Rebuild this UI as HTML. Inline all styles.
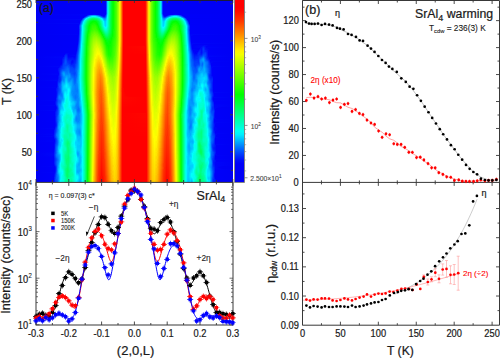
<!DOCTYPE html>
<html><head><meta charset="utf-8"><style>
html,body{margin:0;padding:0;background:#fff;width:500px;height:358px;overflow:hidden;position:relative}
#hm{position:absolute;left:36px;top:0px;width:197px;height:182px}
#hm i{display:block;height:1px;width:100%}
#cb{position:absolute;left:235px;top:0;width:9px;height:182px;background:linear-gradient(180deg,#ff0000 0.0%,#ff0000 2.0%,#ff0000 4.0%,#ff0900 6.0%,#ff1a00 8.0%,#ff2b00 10.0%,#ff3c00 12.0%,#ff5300 14.0%,#ff6900 16.0%,#ff7f00 18.0%,#ff9600 20.0%,#ffad00 22.0%,#ffc500 24.0%,#ffdc00 26.0%,#fff300 28.0%,#f4ff00 30.0%,#deff00 32.0%,#c8ff00 34.0%,#b1ff00 36.0%,#9bff00 38.0%,#85ff00 40.0%,#6fff00 42.0%,#59ff00 44.0%,#43ff00 46.0%,#2cff00 48.0%,#16ff00 50.0%,#00ff00 52.0%,#00ff18 54.0%,#00ff31 56.0%,#00ff49 58.0%,#00ff61 60.0%,#00ff79 62.0%,#00ff92 64.0%,#00ffaa 66.0%,#00ffc2 68.0%,#00ffdb 70.0%,#00fff3 72.0%,#00eeff 74.0%,#00cbff 76.0%,#00a9ff 78.0%,#0086ff 80.0%,#0064ff 82.0%,#0047fe 84.0%,#002bfc 86.0%,#000efb 88.0%,#0000fa 90.0%,#0000f9 92.0%,#0000f8 94.0%,#0000f7 96.0%,#0000f6 98.0%,#0000f5 100.0%);box-shadow:0 0 0 0.8px #666}
</style></head><body>
<div id="hm"><i style="background:linear-gradient(90deg,#0000f5 0.5px,#0000f9 69.5px,#0052fe 70.5px,#00d6ff 71.5px,#00ffcb 72.5px,#00ff8b 73.5px,#00ff30 75.5px,#00ff11 76.5px,#08ff00 77.5px,#54ff00 80.5px,#acff00 82.5px,#e8ff00 83.5px,#ffcf00 84.5px,#ff3800 86.5px,#ff0000 87.5px,#ff0000 108.5px,#ff0b00 109.5px,#ff4600 110.5px,#ffde00 112.5px,#dcff00 113.5px,#72ff00 115.5px,#31ff00 117.5px,#04ff00 119.5px,#00ff37 121.5px,#00ff96 123.5px,#00ffda 124.5px,#00bdff 125.5px,#003afd 126.5px,#0000f8 127.5px,#0000f5 196.5px)"></i><i style="background:linear-gradient(90deg,#0000f5 0.5px,#0000f9 69.5px,#0052fe 70.5px,#00d6ff 71.5px,#00ffcb 72.5px,#00ff8b 73.5px,#00ff30 75.5px,#00ff11 76.5px,#08ff00 77.5px,#54ff00 80.5px,#acff00 82.5px,#e8ff00 83.5px,#ffcf00 84.5px,#ff3800 86.5px,#ff0000 87.5px,#ff0000 108.5px,#ff0b00 109.5px,#ff4600 110.5px,#ffde00 112.5px,#dcff00 113.5px,#72ff00 115.5px,#31ff00 117.5px,#04ff00 119.5px,#00ff37 121.5px,#00ff96 123.5px,#00ffda 124.5px,#00bdff 125.5px,#003afd 126.5px,#0000f8 127.5px,#0000f5 196.5px)"></i><i style="background:linear-gradient(90deg,#0000f5 0.5px,#0000f9 69.5px,#0052fe 70.5px,#00d6ff 71.5px,#00ffcb 72.5px,#00ff8b 73.5px,#00ff30 75.5px,#00ff11 76.5px,#08ff00 77.5px,#54ff00 80.5px,#acff00 82.5px,#e8ff00 83.5px,#ffcf00 84.5px,#ff3800 86.5px,#ff0000 87.5px,#ff0000 108.5px,#ff0b00 109.5px,#ff4600 110.5px,#ffde00 112.5px,#dcff00 113.5px,#72ff00 115.5px,#31ff00 117.5px,#04ff00 119.5px,#00ff37 121.5px,#00ff96 123.5px,#00ffda 124.5px,#00bdff 125.5px,#003afd 126.5px,#0000f8 127.5px,#0000f5 196.5px)"></i><i style="background:linear-gradient(90deg,#0000f5 0.5px,#0000f9 69.5px,#0052fe 70.5px,#00d6ff 71.5px,#00ffcb 72.5px,#00ff8b 73.5px,#00ff30 75.5px,#00ff11 76.5px,#08ff00 77.5px,#54ff00 80.5px,#acff00 82.5px,#e8ff00 83.5px,#ffcf00 84.5px,#ff3800 86.5px,#ff0000 87.5px,#ff0000 108.5px,#ff0b00 109.5px,#ff4600 110.5px,#ffde00 112.5px,#dcff00 113.5px,#72ff00 115.5px,#31ff00 117.5px,#04ff00 119.5px,#00ff37 121.5px,#00ff96 123.5px,#00ffda 124.5px,#00bdff 125.5px,#003afd 126.5px,#0000f8 127.5px,#0000f5 196.5px)"></i><i style="background:linear-gradient(90deg,#0000f5 0.5px,#0000f9 69.5px,#0052fe 70.5px,#00d6ff 71.5px,#00ffcb 72.5px,#00ff8b 73.5px,#00ff30 75.5px,#00ff11 76.5px,#08ff00 77.5px,#54ff00 80.5px,#acff00 82.5px,#e8ff00 83.5px,#ffcf00 84.5px,#ff3800 86.5px,#ff0000 87.5px,#ff0000 108.5px,#ff0b00 109.5px,#ff4600 110.5px,#ffde00 112.5px,#dcff00 113.5px,#72ff00 115.5px,#31ff00 117.5px,#04ff00 119.5px,#00ff37 121.5px,#00ff96 123.5px,#00ffda 124.5px,#00bdff 125.5px,#003afd 126.5px,#0000f8 127.5px,#0000f5 196.5px)"></i><i style="background:linear-gradient(90deg,#0000f5 0.5px,#0000f9 69.5px,#0052fe 70.5px,#00d6ff 71.5px,#00ffcb 72.5px,#00ff8b 73.5px,#00ff30 75.5px,#00ff11 76.5px,#08ff00 77.5px,#54ff00 80.5px,#acff00 82.5px,#e8ff00 83.5px,#ffcf00 84.5px,#ff3800 86.5px,#ff0000 87.5px,#ff0000 108.5px,#ff0b00 109.5px,#ff4600 110.5px,#ffde00 112.5px,#dcff00 113.5px,#72ff00 115.5px,#31ff00 117.5px,#04ff00 119.5px,#00ff37 121.5px,#00ff96 123.5px,#00ffda 124.5px,#00bdff 125.5px,#003afd 126.5px,#0000f8 127.5px,#0000f5 196.5px)"></i><i style="background:linear-gradient(90deg,#0000f5 0.5px,#0000f9 69.5px,#0052fe 70.5px,#00d6ff 71.5px,#00ffcb 72.5px,#00ff8b 73.5px,#00ff30 75.5px,#00ff11 76.5px,#08ff00 77.5px,#54ff00 80.5px,#acff00 82.5px,#e8ff00 83.5px,#ffcf00 84.5px,#ff3800 86.5px,#ff0000 87.5px,#ff0000 108.5px,#ff0b00 109.5px,#ff4600 110.5px,#ffde00 112.5px,#dcff00 113.5px,#72ff00 115.5px,#31ff00 117.5px,#04ff00 119.5px,#00ff37 121.5px,#00ff96 123.5px,#00ffda 124.5px,#00bdff 125.5px,#003afd 126.5px,#0000f8 127.5px,#0000f5 196.5px)"></i><i style="background:linear-gradient(90deg,#0000f5 0.5px,#0000f9 69.5px,#0052fe 70.5px,#00d6ff 71.5px,#00ffcb 72.5px,#00ff8b 73.5px,#00ff30 75.5px,#00ff11 76.5px,#08ff00 77.5px,#54ff00 80.5px,#acff00 82.5px,#e8ff00 83.5px,#ffcf00 84.5px,#ff3800 86.5px,#ff0000 87.5px,#ff0000 108.5px,#ff0b00 109.5px,#ff4600 110.5px,#ffde00 112.5px,#dcff00 113.5px,#72ff00 115.5px,#31ff00 117.5px,#04ff00 119.5px,#00ff37 121.5px,#00ff96 123.5px,#00ffda 124.5px,#00bdff 125.5px,#003afd 126.5px,#0000f8 127.5px,#0000f5 196.5px)"></i><i style="background:linear-gradient(90deg,#0000f5 0.5px,#0000f9 69.5px,#0052fe 70.5px,#00d6ff 71.5px,#00ffcb 72.5px,#00ff8b 73.5px,#00ff30 75.5px,#00ff11 76.5px,#08ff00 77.5px,#54ff00 80.5px,#acff00 82.5px,#e8ff00 83.5px,#ffcf00 84.5px,#ff3800 86.5px,#ff0000 87.5px,#ff0000 108.5px,#ff0b00 109.5px,#ff4600 110.5px,#ffde00 112.5px,#dcff00 113.5px,#72ff00 115.5px,#31ff00 117.5px,#04ff00 119.5px,#00ff37 121.5px,#00ff96 123.5px,#00ffda 124.5px,#00bdff 125.5px,#003afd 126.5px,#0000f8 127.5px,#0000f5 196.5px)"></i><i style="background:linear-gradient(90deg,#0000f5 0.5px,#0000f9 69.5px,#0052fe 70.5px,#00d6ff 71.5px,#00ffcb 72.5px,#00ff8b 73.5px,#00ff30 75.5px,#00ff11 76.5px,#08ff00 77.5px,#54ff00 80.5px,#acff00 82.5px,#e8ff00 83.5px,#ffcf00 84.5px,#ff3800 86.5px,#ff0000 87.5px,#ff0000 108.5px,#ff0b00 109.5px,#ff4600 110.5px,#ffde00 112.5px,#dcff00 113.5px,#72ff00 115.5px,#31ff00 117.5px,#04ff00 119.5px,#00ff37 121.5px,#00ff96 123.5px,#00ffda 124.5px,#00bdff 125.5px,#003afd 126.5px,#0000f8 127.5px,#0000f5 196.5px)"></i><i style="background:linear-gradient(90deg,#0000f5 0.5px,#0000f9 69.5px,#0052fe 70.5px,#00d6ff 71.5px,#00ffcb 72.5px,#00ff8b 73.5px,#00ff30 75.5px,#00ff11 76.5px,#08ff00 77.5px,#54ff00 80.5px,#acff00 82.5px,#e8ff00 83.5px,#ffcf00 84.5px,#ff3800 86.5px,#ff0000 87.5px,#ff0000 108.5px,#ff0b00 109.5px,#ff4600 110.5px,#ffde00 112.5px,#dcff00 113.5px,#72ff00 115.5px,#31ff00 117.5px,#04ff00 119.5px,#00ff37 121.5px,#00ff96 123.5px,#00ffda 124.5px,#00bdff 125.5px,#003afd 126.5px,#0000f8 127.5px,#0000f5 196.5px)"></i><i style="background:linear-gradient(90deg,#0000f5 0.5px,#0000f9 69.5px,#0052fe 70.5px,#00d6ff 71.5px,#00ffcb 72.5px,#00ff8b 73.5px,#00ff30 75.5px,#00ff11 76.5px,#08ff00 77.5px,#54ff00 80.5px,#acff00 82.5px,#e8ff00 83.5px,#ffcf00 84.5px,#ff3800 86.5px,#ff0000 87.5px,#ff0000 108.5px,#ff0b00 109.5px,#ff4600 110.5px,#ffde00 112.5px,#dcff00 113.5px,#72ff00 115.5px,#31ff00 117.5px,#04ff00 119.5px,#00ff37 121.5px,#00ff96 123.5px,#00ffda 124.5px,#00bdff 125.5px,#003afd 126.5px,#0000f8 127.5px,#0000f5 196.5px)"></i><i style="background:linear-gradient(90deg,#0000f5 0.5px,#0000f9 69.5px,#0052fe 70.5px,#00d6ff 71.5px,#00ffcb 72.5px,#00ff8b 73.5px,#00ff30 75.5px,#00ff11 76.5px,#08ff00 77.5px,#54ff00 80.5px,#acff00 82.5px,#e8ff00 83.5px,#ffcf00 84.5px,#ff3800 86.5px,#ff0000 87.5px,#ff0000 108.5px,#ff0b00 109.5px,#ff4600 110.5px,#ffde00 112.5px,#dcff00 113.5px,#72ff00 115.5px,#31ff00 117.5px,#04ff00 119.5px,#00ff37 121.5px,#00ff96 123.5px,#00ffda 124.5px,#00bdff 125.5px,#003afd 126.5px,#0000f8 127.5px,#0000f5 196.5px)"></i><i style="background:linear-gradient(90deg,#0000f5 0.5px,#0000f9 69.5px,#0052fe 70.5px,#00d6ff 71.5px,#00ffcb 72.5px,#00ff8b 73.5px,#00ff30 75.5px,#00ff11 76.5px,#08ff00 77.5px,#54ff00 80.5px,#acff00 82.5px,#e8ff00 83.5px,#ffcf00 84.5px,#ff3800 86.5px,#ff0000 87.5px,#ff0000 108.5px,#ff0b00 109.5px,#ff4600 110.5px,#ffde00 112.5px,#dcff00 113.5px,#72ff00 115.5px,#31ff00 117.5px,#04ff00 119.5px,#00ff37 121.5px,#00ff96 123.5px,#00ffda 124.5px,#00bdff 125.5px,#003afd 126.5px,#0000f8 127.5px,#0000f5 196.5px)"></i><i style="background:linear-gradient(90deg,#0000f5 0.5px,#0003fa 55.5px,#000dfb 58.5px,#0000f9 61.5px,#0002fa 69.5px,#0068ff 70.5px,#00e3ff 71.5px,#00ffc6 72.5px,#00ff56 74.5px,#00ff11 76.5px,#08ff00 77.5px,#54ff00 80.5px,#acff00 82.5px,#e8ff00 83.5px,#ffcf00 84.5px,#ff3800 86.5px,#ff0000 87.5px,#ff0000 108.5px,#ff0b00 109.5px,#ff4600 110.5px,#ffde00 112.5px,#dcff00 113.5px,#72ff00 115.5px,#31ff00 117.5px,#04ff00 119.5px,#00ff36 121.5px,#00ff93 123.5px,#00ffd5 124.5px,#00ccff 125.5px,#0053fe 126.5px,#0000f9 127.5px,#0000fa 136.5px,#000ffb 139.5px,#0000fa 142.5px,#0000f5 196.5px)"></i><i style="background:linear-gradient(90deg,#0000f5 0.5px,#0001fa 50.5px,#0065ff 53.5px,#0096ff 55.5px,#00a7ff 57.5px,#009cff 59.5px,#005eff 62.5px,#0006fa 65.5px,#0000f9 68.5px,#0025fc 69.5px,#0080ff 70.5px,#00f0ff 71.5px,#00ffc2 72.5px,#00ff85 73.5px,#00ff2f 75.5px,#00ff10 76.5px,#09ff00 77.5px,#54ff00 80.5px,#acff00 82.5px,#e8ff00 83.5px,#ffcf00 84.5px,#ff3800 86.5px,#ff0000 87.5px,#ff0000 108.5px,#ff0b00 109.5px,#ff4600 110.5px,#ffde00 112.5px,#dcff00 113.5px,#72ff00 115.5px,#32ff00 117.5px,#04ff00 119.5px,#00ff36 121.5px,#00ff90 123.5px,#00ffcf 124.5px,#00daff 125.5px,#006aff 126.5px,#0017fb 127.5px,#0000f9 128.5px,#0000f9 130.5px,#000dfb 131.5px,#007cff 135.5px,#00a6ff 138.5px,#00a1ff 140.5px,#007cff 142.5px,#0000fa 146.5px,#0000f5 196.5px)"></i><i style="background:linear-gradient(90deg,#0000f5 0.5px,#0000f9 48.5px,#0019fb 49.5px,#00beff 53.5px,#00f1ff 55.5px,#00ffff 56.5px,#00f8ff 59.5px,#00d2ff 61.5px,#006cff 64.5px,#0025fc 66.5px,#000efb 67.5px,#0013fb 68.5px,#003ffd 69.5px,#0092ff 70.5px,#00f9ff 71.5px,#00ff83 73.5px,#00ff2e 75.5px,#00ff10 76.5px,#09ff00 77.5px,#54ff00 80.5px,#acff00 82.5px,#e8ff00 83.5px,#ffcf00 84.5px,#ff3800 86.5px,#ff0000 87.5px,#ff0000 108.5px,#ff0b00 109.5px,#ff4600 110.5px,#ffde00 112.5px,#dcff00 113.5px,#72ff00 115.5px,#32ff00 117.5px,#04ff00 119.5px,#00ff35 121.5px,#00ff8e 123.5px,#00ffcb 124.5px,#00e5ff 125.5px,#007eff 126.5px,#0033fd 127.5px,#000ffb 128.5px,#0011fb 129.5px,#0074ff 132.5px,#00d7ff 135.5px,#00fbff 137.5px,#00fdff 140.5px,#00d6ff 142.5px,#0091ff 144.5px,#0011fb 147.5px,#0000f9 148.5px,#0000f5 196.5px)"></i><i style="background:linear-gradient(90deg,#0000f5 0.5px,#0000fa 47.5px,#00feff 52.5px,#00ffc0 55.5px,#00ffb1 57.5px,#00ffc6 60.5px,#00f6ff 63.5px,#006eff 66.5px,#004dfe 67.5px,#0044fd 68.5px,#0060ff 69.5px,#00fffa 71.5px,#00ff80 73.5px,#00ff2d 75.5px,#00ff0f 76.5px,#09ff00 77.5px,#54ff00 80.5px,#acff00 82.5px,#e8ff00 83.5px,#ffcf00 84.5px,#ff3800 86.5px,#ff0000 87.5px,#ff0000 108.5px,#ff0b00 109.5px,#ff4600 110.5px,#ffde00 112.5px,#dcff00 113.5px,#72ff00 115.5px,#32ff00 117.5px,#05ff00 119.5px,#00ff34 121.5px,#00ff8b 123.5px,#00f4ff 125.5px,#0099ff 126.5px,#0058fe 127.5px,#0043fd 128.5px,#0052fe 129.5px,#00a7ff 131.5px,#00feff 133.5px,#00ffc3 136.5px,#00ffb2 139.5px,#00ffd3 142.5px,#00f6ff 144.5px,#002afc 148.5px,#0000fa 149.5px,#0000f5 196.5px)"></i><i style="background:linear-gradient(90deg,#0000f5 0.5px,#0000f9 45.5px,#0013fb 46.5px,#00fffb 50.5px,#00ff9a 53.5px,#00ff6a 56.5px,#00ff67 58.5px,#00ff8c 61.5px,#00ffde 64.5px,#00fbff 65.5px,#0097ff 67.5px,#007eff 68.5px,#008dff 69.5px,#00c5ff 70.5px,#00ffef 71.5px,#00ff7d 73.5px,#00ff2c 75.5px,#00ff0f 76.5px,#09ff00 77.5px,#54ff00 80.5px,#acff00 82.5px,#e8ff00 83.5px,#ffcf00 84.5px,#ff3800 86.5px,#ff0000 87.5px,#ff0000 108.5px,#ff0b00 109.5px,#ff4600 110.5px,#ffde00 112.5px,#dcff00 113.5px,#72ff00 115.5px,#32ff00 117.5px,#05ff00 119.5px,#00ff33 121.5px,#00ff87 123.5px,#00fffb 125.5px,#00b7ff 126.5px,#0086ff 127.5px,#0080ff 128.5px,#009fff 129.5px,#00fffa 131.5px,#00ff9d 134.5px,#00ff6c 137.5px,#00ff6b 140.5px,#00ff9f 143.5px,#00faff 146.5px,#000afb 150.5px,#0000f7 152.5px,#0000f5 196.5px)"></i><i style="background:linear-gradient(90deg,#0000f5 0.5px,#0006fa 45.5px,#00fffb 49.5px,#00ff8c 52.5px,#00ff4b 55.5px,#00ff3c 57.5px,#00ff51 60.5px,#00ff97 63.5px,#00ffde 65.5px,#00f5ff 66.5px,#00c1ff 67.5px,#00a0ff 68.5px,#00a5ff 69.5px,#00d5ff 70.5px,#00ffe9 71.5px,#00ff7b 73.5px,#00ff2b 75.5px,#00ff0e 76.5px,#0aff00 77.5px,#54ff00 80.5px,#acff00 82.5px,#e8ff00 83.5px,#ffcf00 84.5px,#ff3800 86.5px,#ff0000 87.5px,#ff0000 108.5px,#ff0b00 109.5px,#ff4600 110.5px,#ffde00 112.5px,#dcff00 113.5px,#72ff00 115.5px,#32ff00 117.5px,#05ff00 119.5px,#00ff32 121.5px,#00ff85 123.5px,#00fff4 125.5px,#00c8ff 126.5px,#00a1ff 127.5px,#00a4ff 128.5px,#00caff 129.5px,#00fffe 130.5px,#00ff91 133.5px,#00ff4e 136.5px,#00ff3d 139.5px,#00ff4e 141.5px,#00ff92 144.5px,#00f9ff 147.5px,#0037fd 150.5px,#0000fa 151.5px,#0000f5 196.5px)"></i><i style="background:linear-gradient(90deg,#0000f5 0.5px,#0000fa 44.5px,#002dfc 45.5px,#00f6ff 48.5px,#00ff8a 51.5px,#00ff39 54.5px,#00ff1b 57.5px,#00ff2f 60.5px,#00ff77 63.5px,#00ffeb 66.5px,#00e3ff 67.5px,#00bcff 68.5px,#00baff 69.5px,#00e1ff 70.5px,#00ffe4 71.5px,#00ff7a 73.5px,#00ff2b 75.5px,#00ff0e 76.5px,#0aff00 77.5px,#54ff00 80.5px,#acff00 82.5px,#e8ff00 83.5px,#ffcf00 84.5px,#ff3800 86.5px,#ff0000 87.5px,#ff0000 108.5px,#ff0b00 109.5px,#ff4600 110.5px,#ffde00 112.5px,#dcff00 113.5px,#72ff00 115.5px,#32ff00 117.5px,#05ff00 119.5px,#00ff32 121.5px,#00ff84 123.5px,#00ffee 125.5px,#00d6ff 126.5px,#00b7ff 127.5px,#00c2ff 128.5px,#00edff 129.5px,#00ffe3 130.5px,#00ff71 133.5px,#00ff2c 136.5px,#00ff1b 139.5px,#00ff3d 142.5px,#00ff90 145.5px,#00ffe0 147.5px,#00eaff 148.5px,#005fff 150.5px,#0024fc 151.5px,#0000f9 152.5px,#0000f5 196.5px)"></i><i style="background:linear-gradient(90deg,#0000f5 0.5px,#0000f9 43.5px,#0015fb 44.5px,#0098ff 46.5px,#00e0ff 47.5px,#00ffe5 48.5px,#00ff6b 51.5px,#00ff1c 54.5px,#00ff02 56.5px,#00ff05 59.5px,#00ff3d 62.5px,#00ffa8 65.5px,#00fffe 67.5px,#00d5ff 68.5px,#00cbff 69.5px,#00ecff 70.5px,#00ffe0 71.5px,#00ff4e 74.5px,#00ff0e 76.5px,#0aff00 77.5px,#54ff00 80.5px,#acff00 82.5px,#e8ff00 83.5px,#ffcf00 84.5px,#ff3800 86.5px,#ff0000 87.5px,#ff0000 108.5px,#ff0b00 109.5px,#ff4600 110.5px,#ffde00 112.5px,#dcff00 113.5px,#72ff00 115.5px,#32ff00 117.5px,#05ff00 119.5px,#00ff31 121.5px,#00ff83 123.5px,#00ffea 125.5px,#00e2ff 126.5px,#00caff 127.5px,#00dcff 128.5px,#00fff6 129.5px,#00ff78 132.5px,#00ff20 135.5px,#00ff03 137.5px,#00ff03 140.5px,#00ff36 143.5px,#00ff97 146.5px,#00ffee 148.5px,#00d3ff 149.5px,#0048fe 151.5px,#000dfb 152.5px,#0000f9 153.5px,#0000f5 196.5px)"></i><i style="background:linear-gradient(90deg,#0000f5 0.5px,#0000f9 43.5px,#002cfc 44.5px,#00b2ff 46.5px,#00f9ff 47.5px,#00ff5c 51.5px,#00ff0e 54.5px,#01ff00 55.5px,#0eff00 58.5px,#00ff05 60.5px,#00ff50 63.5px,#00fff7 67.5px,#00dcff 68.5px,#00d0ff 69.5px,#00eeff 70.5px,#00ffdf 71.5px,#00ff4e 74.5px,#00ff0e 76.5px,#0aff00 77.5px,#54ff00 80.5px,#acff00 82.5px,#e8ff00 83.5px,#ffcf00 84.5px,#ff3800 86.5px,#ff0000 87.5px,#ff0000 108.5px,#ff0b00 109.5px,#ff4600 110.5px,#ffde00 112.5px,#dcff00 113.5px,#72ff00 115.5px,#32ff00 117.5px,#05ff00 119.5px,#00ff32 121.5px,#00ff83 123.5px,#00ffe9 125.5px,#00e5ff 126.5px,#00cfff 127.5px,#00e3ff 128.5px,#00ffee 129.5px,#00ff6d 132.5px,#00ff13 135.5px,#00ff01 136.5px,#0eff00 139.5px,#00ff02 141.5px,#00ff43 144.5px,#00ffb0 147.5px,#00ffdc 148.5px,#00edff 149.5px,#005fff 151.5px,#0024fc 152.5px,#0000f9 153.5px,#0000f5 196.5px)"></i><i style="background:linear-gradient(90deg,#0000f5 0.5px,#0006fa 43.5px,#0083ff 45.5px,#00cbff 46.5px,#00fff2 47.5px,#00ff71 50.5px,#00ff17 53.5px,#00ff03 54.5px,#19ff00 57.5px,#07ff00 60.5px,#00ff0c 61.5px,#00ff6b 64.5px,#00fff1 67.5px,#00e2ff 68.5px,#00d3ff 69.5px,#00efff 70.5px,#00ffdf 71.5px,#00ff4f 74.5px,#00ff0e 76.5px,#0aff00 77.5px,#54ff00 80.5px,#acff00 82.5px,#e8ff00 83.5px,#ffcf00 84.5px,#ff3800 86.5px,#ff0000 87.5px,#ff0000 108.5px,#ff0b00 109.5px,#ff4600 110.5px,#ffde00 112.5px,#dcff00 113.5px,#72ff00 115.5px,#32ff00 117.5px,#05ff00 119.5px,#00ff32 121.5px,#00ff83 123.5px,#00ffe9 125.5px,#00e6ff 126.5px,#00d2ff 127.5px,#00e9ff 128.5px,#00ffe9 129.5px,#00ff63 132.5px,#00ff20 134.5px,#00ff08 135.5px,#19ff00 138.5px,#09ff00 141.5px,#00ff06 142.5px,#00ff55 145.5px,#00ffcc 148.5px,#00fffb 149.5px,#0039fd 152.5px,#0000fa 153.5px,#0000f5 196.5px)"></i><i style="background:linear-gradient(90deg,#0000f5 0.5px,#0000f9 42.5px,#001bfb 43.5px,#009cff 45.5px,#00e4ff 46.5px,#00ffe2 47.5px,#00ff64 50.5px,#00ff0b 53.5px,#15ff00 55.5px,#23ff00 58.5px,#00ff01 61.5px,#00ff62 64.5px,#00ffec 67.5px,#00e6ff 68.5px,#00d5ff 69.5px,#00f0ff 70.5px,#00ffdf 71.5px,#00ff4f 74.5px,#00ff0e 76.5px,#09ff00 77.5px,#54ff00 80.5px,#acff00 82.5px,#e8ff00 83.5px,#ffcf00 84.5px,#ff3800 86.5px,#ff0000 87.5px,#ff0000 108.5px,#ff0b00 109.5px,#ff4600 110.5px,#ffde00 112.5px,#dcff00 113.5px,#72ff00 115.5px,#32ff00 117.5px,#05ff00 119.5px,#00ff32 121.5px,#00ff83 123.5px,#00ffe9 125.5px,#00e7ff 126.5px,#00d5ff 127.5px,#00efff 128.5px,#00ffe3 129.5px,#00ff5a 132.5px,#00ff16 134.5px,#03ff00 135.5px,#1fff00 137.5px,#1dff00 140.5px,#05ff00 142.5px,#00ff2a 144.5px,#00ff92 147.5px,#00ffeb 149.5px,#00d7ff 150.5px,#004efe 152.5px,#0014fb 153.5px,#0000f9 154.5px,#0000f5 196.5px)"></i><i style="background:linear-gradient(90deg,#0000f5 0.5px,#0000fa 42.5px,#0030fc 43.5px,#00b5ff 45.5px,#00fbff 46.5px,#00ff57 50.5px,#00ff00 53.5px,#28ff00 56.5px,#27ff00 59.5px,#08ff00 61.5px,#00ff12 62.5px,#00ff87 65.5px,#00ffe8 67.5px,#00eaff 68.5px,#00d7ff 69.5px,#00f0ff 70.5px,#00ffe0 71.5px,#00ff4f 74.5px,#00ff0f 76.5px,#09ff00 77.5px,#54ff00 80.5px,#acff00 82.5px,#e8ff00 83.5px,#ffcf00 84.5px,#ff3800 86.5px,#ff0000 87.5px,#ff0000 108.5px,#ff0b00 109.5px,#ff4600 110.5px,#ffde00 112.5px,#dcff00 113.5px,#72ff00 115.5px,#32ff00 117.5px,#05ff00 119.5px,#00ff32 121.5px,#00ff84 123.5px,#00ffe9 125.5px,#00e7ff 126.5px,#00d7ff 127.5px,#00f3ff 128.5px,#00ffde 129.5px,#00ff52 132.5px,#00ff0c 134.5px,#1dff00 136.5px,#2cff00 139.5px,#0eff00 142.5px,#00ff05 143.5px,#00ff5d 146.5px,#00ffdb 149.5px,#00efff 150.5px,#0063ff 152.5px,#0029fc 153.5px,#0000fa 154.5px,#0000f5 196.5px)"></i><i style="background:linear-gradient(90deg,#0000f5 0.5px,#0000fa 42.5px,#0078ff 44.5px,#00fffa 46.5px,#00ff75 49.5px,#00ff12 52.5px,#06ff00 53.5px,#2fff00 56.5px,#2fff00 59.5px,#00ff07 62.5px,#00ff4e 64.5px,#00ffdb 67.5px,#00fbff 68.5px,#00e4ff 69.5px,#00f9ff 70.5px,#00ffdc 71.5px,#00ff4f 74.5px,#00ff0e 76.5px,#09ff00 77.5px,#54ff00 80.5px,#acff00 82.5px,#e8ff00 83.5px,#ffcf00 84.5px,#ff3800 86.5px,#ff0000 87.5px,#ff0000 108.5px,#ff0b00 109.5px,#ff4600 110.5px,#ffde00 112.5px,#dcff00 113.5px,#72ff00 115.5px,#32ff00 117.5px,#05ff00 119.5px,#00ff32 121.5px,#00ff82 123.5px,#00ffe5 125.5px,#00f1ff 126.5px,#00e5ff 127.5px,#00fffc 128.5px,#00ff46 132.5px,#00ff01 134.5px,#31ff00 137.5px,#2eff00 140.5px,#02ff00 143.5px,#00ff57 146.5px,#00faff 150.5px,#006dff 152.5px,#0000fa 154.5px,#0000f5 196.5px)"></i><i style="background:linear-gradient(90deg,#0000f5 0.5px,#0000fa 42.5px,#0076ff 44.5px,#00fffb 46.5px,#00ff75 49.5px,#00ff0f 52.5px,#09ff00 53.5px,#33ff00 56.5px,#36ff00 59.5px,#1bff00 61.5px,#04ff00 62.5px,#00ff3f 64.5px,#00ffee 68.5px,#00fdff 69.5px,#00fff6 70.5px,#00ffa4 72.5px,#00ff2a 75.5px,#00ff0e 76.5px,#0aff00 77.5px,#54ff00 80.5px,#acff00 82.5px,#e8ff00 83.5px,#ffcf00 84.5px,#ff3800 86.5px,#ff0000 87.5px,#ff0000 108.5px,#ff0b00 109.5px,#ff4600 110.5px,#ffde00 112.5px,#dcff00 113.5px,#72ff00 115.5px,#32ff00 117.5px,#06ff00 119.5px,#00ff30 121.5px,#00ffae 124.5px,#00ffdb 125.5px,#00fffa 126.5px,#00ffff 127.5px,#00ffe7 128.5px,#00ff37 132.5px,#00ff13 133.5px,#09ff00 134.5px,#2eff00 136.5px,#38ff00 139.5px,#18ff00 142.5px,#05ff00 143.5px,#00ff33 145.5px,#00ffa7 148.5px,#00f8ff 150.5px,#006bff 152.5px,#0000fa 154.5px,#0000f5 196.5px)"></i><i style="background:linear-gradient(90deg,#0000f5 0.5px,#0000fa 42.5px,#0074ff 44.5px,#00fffc 46.5px,#00ff4e 50.5px,#00ff0e 52.5px,#0bff00 53.5px,#38ff00 56.5px,#3cff00 59.5px,#0fff00 62.5px,#00ff0d 63.5px,#00ff85 66.5px,#00ffda 68.5px,#00ffee 69.5px,#00ffe8 70.5px,#00ff9e 72.5px,#00ff29 75.5px,#00ff0d 76.5px,#0aff00 77.5px,#54ff00 80.5px,#acff00 82.5px,#e8ff00 83.5px,#ffcf00 84.5px,#ff3800 86.5px,#ff0000 87.5px,#ff0000 108.5px,#ff0b00 109.5px,#ff4600 110.5px,#ffde00 112.5px,#dcff00 113.5px,#72ff00 115.5px,#32ff00 117.5px,#06ff00 119.5px,#00ff2f 121.5px,#00ffd0 125.5px,#00ffeb 126.5px,#00ffec 127.5px,#00ffd3 128.5px,#00ff29 132.5px,#00ff07 133.5px,#35ff00 136.5px,#3dff00 139.5px,#1bff00 142.5px,#07ff00 143.5px,#00ff32 145.5px,#00ffa7 148.5px,#00f6ff 150.5px,#0068ff 152.5px,#0000fa 154.5px,#0000f5 196.5px)"></i><i style="background:linear-gradient(90deg,#0000f5 0.5px,#0000fa 42.5px,#0032fd 43.5px,#00fffe 46.5px,#00ff74 49.5px,#00ff0c 52.5px,#21ff00 54.5px,#42ff00 57.5px,#3aff00 60.5px,#00ff01 63.5px,#00ff74 66.5px,#00ffc7 68.5px,#00ffdc 69.5px,#00ffd9 70.5px,#00ffbf 71.5px,#00ff27 75.5px,#00ff0c 76.5px,#20ff00 78.5px,#55ff00 80.5px,#acff00 82.5px,#e8ff00 83.5px,#ffcf00 84.5px,#ff3800 86.5px,#ff0000 87.5px,#ff0000 108.5px,#ff0b00 109.5px,#ff4600 110.5px,#ffde00 112.5px,#dcff00 113.5px,#72ff00 115.5px,#32ff00 117.5px,#07ff00 119.5px,#00ff2d 121.5px,#00ffc5 125.5px,#00ffdc 126.5px,#00ffda 127.5px,#00ffc0 128.5px,#00ff1b 132.5px,#05ff00 133.5px,#3cff00 136.5px,#41ff00 139.5px,#1dff00 142.5px,#09ff00 143.5px,#00ff11 144.5px,#00ff7c 147.5px,#00ffd6 149.5px,#00f4ff 150.5px,#0065ff 152.5px,#002cfc 153.5px,#0000fa 154.5px,#0000f5 196.5px)"></i><i style="background:linear-gradient(90deg,#0000f5 0.5px,#0000fa 42.5px,#0074ff 44.5px,#00fffa 46.5px,#00ff6f 49.5px,#00ff04 52.5px,#39ff00 55.5px,#4fff00 58.5px,#39ff00 61.5px,#0fff00 63.5px,#00ff0f 64.5px,#00ffaf 68.5px,#00ffc7 69.5px,#00ffc7 70.5px,#00ffb2 71.5px,#00ff25 75.5px,#00ff0b 76.5px,#20ff00 78.5px,#55ff00 80.5px,#acff00 82.5px,#e8ff00 83.5px,#ffcf00 84.5px,#ff3800 86.5px,#ff0000 87.5px,#ff0000 108.5px,#ff0b00 109.5px,#ff4600 110.5px,#ffde00 112.5px,#dcff00 113.5px,#73ff00 115.5px,#32ff00 117.5px,#07ff00 119.5px,#00ff2b 121.5px,#00ffb8 125.5px,#00ffc9 126.5px,#00ffc3 127.5px,#00ffa8 128.5px,#00ff08 132.5px,#3cff00 135.5px,#4fff00 138.5px,#36ff00 141.5px,#10ff00 143.5px,#00ff0a 144.5px,#00ff77 147.5px,#00f9ff 150.5px,#0069ff 152.5px,#002efc 153.5px,#0000fa 154.5px,#0000f5 196.5px)"></i><i style="background:linear-gradient(90deg,#0000f5 0.5px,#0000fa 42.5px,#0078ff 44.5px,#00c2ff 45.5px,#00fff6 46.5px,#00ff69 49.5px,#00ff1c 51.5px,#03ff00 52.5px,#42ff00 55.5px,#5aff00 58.5px,#47ff00 61.5px,#04ff00 64.5px,#00ff47 66.5px,#00ff97 68.5px,#00ffb0 69.5px,#00ffb5 70.5px,#00ffa4 71.5px,#00ff22 75.5px,#00ff09 76.5px,#38ff00 79.5px,#7bff00 81.5px,#e8ff00 83.5px,#ffcf00 84.5px,#ff3800 86.5px,#ff0000 87.5px,#ff0000 108.5px,#ff0b00 109.5px,#ff4600 110.5px,#ffde00 112.5px,#dcff00 113.5px,#73ff00 115.5px,#33ff00 117.5px,#08ff00 119.5px,#00ff28 121.5px,#00ffa9 125.5px,#00ffb6 126.5px,#00ffac 127.5px,#00ff68 129.5px,#00ff17 131.5px,#0aff00 132.5px,#4aff00 135.5px,#5aff00 138.5px,#3fff00 141.5px,#00ff02 144.5px,#00ff71 147.5px,#00feff 150.5px,#006dff 152.5px,#0000fa 154.5px,#0000f5 196.5px)"></i><i style="background:linear-gradient(90deg,#0000f5 0.5px,#0000fa 42.5px,#007cff 44.5px,#00c6ff 45.5px,#00fff3 46.5px,#00ff63 49.5px,#00ff16 51.5px,#0aff00 52.5px,#4bff00 55.5px,#65ff00 58.5px,#54ff00 61.5px,#15ff00 64.5px,#00ff0b 65.5px,#00ff7f 68.5px,#00ff9a 69.5px,#00ffa2 70.5px,#00ff96 71.5px,#00ff07 76.5px,#38ff00 79.5px,#7bff00 81.5px,#e8ff00 83.5px,#ffcf00 84.5px,#ff3800 86.5px,#ff0000 87.5px,#ff0000 108.5px,#ff0b00 109.5px,#ff4600 110.5px,#ffde00 112.5px,#dcff00 113.5px,#73ff00 115.5px,#33ff00 117.5px,#0aff00 119.5px,#00ff0c 120.5px,#00ff99 125.5px,#00ffa2 126.5px,#00ff96 127.5px,#00ff51 129.5px,#00ff03 131.5px,#48ff00 134.5px,#65ff00 137.5px,#56ff00 140.5px,#1fff00 143.5px,#05ff00 144.5px,#00ff42 146.5px,#00fffc 150.5px,#0071ff 152.5px,#0000fa 154.5px,#0000f5 196.5px)"></i><i style="background:linear-gradient(90deg,#0000f5 0.5px,#0000fa 42.5px,#007eff 44.5px,#00caff 45.5px,#00fff0 46.5px,#00ff5f 49.5px,#00ff0f 51.5px,#10ff00 52.5px,#53ff00 55.5px,#6fff00 58.5px,#61ff00 61.5px,#25ff00 64.5px,#08ff00 65.5px,#00ff44 67.5px,#00ff84 69.5px,#00ff8f 70.5px,#00ff86 71.5px,#00ff05 76.5px,#39ff00 79.5px,#7bff00 81.5px,#e8ff00 83.5px,#ffcf00 84.5px,#ff3800 86.5px,#ff0000 87.5px,#ff0000 108.5px,#ff0b00 109.5px,#ff4600 110.5px,#ffde00 112.5px,#dcff00 113.5px,#73ff00 115.5px,#34ff00 117.5px,#0bff00 119.5px,#00ff09 120.5px,#00ff89 125.5px,#00ff8e 126.5px,#00ff80 127.5px,#00ff15 130.5px,#0eff00 131.5px,#55ff00 134.5px,#6fff00 137.5px,#5eff00 140.5px,#26ff00 143.5px,#0bff00 144.5px,#00ff16 145.5px,#00ff95 148.5px,#00fff9 150.5px,#0037fd 153.5px,#0000fa 154.5px,#0000f5 196.5px)"></i><i style="background:linear-gradient(90deg,#0000f5 0.5px,#0003fa 42.5px,#0083ff 44.5px,#00ceff 45.5px,#00ffec 46.5px,#00ff30 50.5px,#00ff0a 51.5px,#31ff00 53.5px,#69ff00 56.5px,#79ff00 59.5px,#5fff00 62.5px,#18ff00 65.5px,#00ff09 66.5px,#00ff6f 69.5px,#00ff7b 70.5px,#00ff77 71.5px,#00ff02 76.5px,#39ff00 79.5px,#7cff00 81.5px,#e8ff00 83.5px,#ffcf00 84.5px,#ff3800 86.5px,#ff0000 87.5px,#ff0000 108.5px,#ff0b00 109.5px,#ff4600 110.5px,#ffde00 112.5px,#dcff00 113.5px,#73ff00 115.5px,#35ff00 117.5px,#00ff06 120.5px,#00ff69 124.5px,#00ff79 125.5px,#00ff7a 126.5px,#00ff6a 127.5px,#00ff01 130.5px,#50ff00 133.5px,#76ff00 136.5px,#71ff00 139.5px,#43ff00 142.5px,#10ff00 144.5px,#00ff11 145.5px,#00ff91 148.5px,#00fff5 150.5px,#00c3ff 151.5px,#003cfd 153.5px,#0005fa 154.5px,#0000f5 196.5px)"></i><i style="background:linear-gradient(90deg,#0000f5 0.5px,#0000f8 41.5px,#0007fa 42.5px,#0087ff 44.5px,#00d2ff 45.5px,#00ffe9 46.5px,#00ff56 49.5px,#00ff05 51.5px,#61ff00 55.5px,#81ff00 58.5px,#77ff00 61.5px,#43ff00 64.5px,#09ff00 66.5px,#00ff5a 69.5px,#00ff68 70.5px,#00ff67 71.5px,#01ff00 76.5px,#3aff00 79.5px,#7cff00 81.5px,#e9ff00 83.5px,#ffcf00 84.5px,#ff3800 86.5px,#ff0000 87.5px,#ff0000 108.5px,#ff0b00 109.5px,#ff4600 110.5px,#ffde00 112.5px,#dcff00 113.5px,#74ff00 115.5px,#36ff00 117.5px,#00ff03 120.5px,#00ff5c 124.5px,#00ff68 125.5px,#00ff67 126.5px,#00ff37 128.5px,#00ff13 129.5px,#0fff00 130.5px,#5dff00 133.5px,#81ff00 136.5px,#79ff00 139.5px,#49ff00 142.5px,#15ff00 144.5px,#00ff0c 145.5px,#00ff8d 148.5px,#00fff2 150.5px,#00c7ff 151.5px,#0040fd 153.5px,#0009fa 154.5px,#0000f7 157.5px,#0000f5 196.5px)"></i><i style="background:linear-gradient(90deg,#0000f5 0.5px,#0000f9 41.5px,#000afa 42.5px,#008aff 44.5px,#00d6ff 45.5px,#00ffe7 46.5px,#00ff53 49.5px,#00ff01 51.5px,#53ff00 54.5px,#82ff00 57.5px,#89ff00 60.5px,#65ff00 63.5px,#00ff08 67.5px,#00ff46 69.5px,#00ff55 70.5px,#00ff57 71.5px,#00ff23 74.5px,#04ff00 76.5px,#3bff00 79.5px,#7cff00 81.5px,#e9ff00 83.5px,#ffcf00 84.5px,#ff3800 86.5px,#ff0000 87.5px,#ff0000 108.5px,#ff0b00 109.5px,#ff4600 110.5px,#ffde00 112.5px,#dcff00 113.5px,#74ff00 115.5px,#37ff00 117.5px,#01ff00 120.5px,#00ff4e 124.5px,#00ff57 125.5px,#00ff53 126.5px,#00ff23 128.5px,#00ff00 129.5px,#55ff00 132.5px,#84ff00 135.5px,#88ff00 138.5px,#64ff00 141.5px,#00ff08 145.5px,#00ff8a 148.5px,#00ffef 150.5px,#00cbff 151.5px,#0043fd 153.5px,#000dfb 154.5px,#0000f9 155.5px,#0000f5 196.5px)"></i><i style="background:linear-gradient(90deg,#0000f5 0.5px,#0000f9 41.5px,#000dfb 42.5px,#008eff 44.5px,#00d9ff 45.5px,#00ffe4 46.5px,#00ff24 50.5px,#03ff00 51.5px,#59ff00 54.5px,#8aff00 57.5px,#93ff00 60.5px,#71ff00 63.5px,#28ff00 66.5px,#0aff00 67.5px,#00ff32 69.5px,#00ff43 70.5px,#00ff3e 72.5px,#00ff09 75.5px,#28ff00 78.5px,#58ff00 80.5px,#adff00 82.5px,#e9ff00 83.5px,#ffcf00 84.5px,#ff3800 86.5px,#ff0000 87.5px,#ff0000 108.5px,#ff0b00 109.5px,#ff4600 110.5px,#ffde00 112.5px,#dcff00 113.5px,#74ff00 115.5px,#38ff00 117.5px,#05ff00 120.5px,#00ff40 124.5px,#00ff47 125.5px,#00ff41 126.5px,#00ff10 128.5px,#10ff00 129.5px,#61ff00 132.5px,#8eff00 135.5px,#90ff00 138.5px,#69ff00 141.5px,#1dff00 144.5px,#00ff04 145.5px,#00ff87 148.5px,#00ffed 150.5px,#00cfff 151.5px,#0046fd 153.5px,#0011fb 154.5px,#0000f9 155.5px,#0000f5 196.5px)"></i><i style="background:linear-gradient(90deg,#0000f5 0.5px,#0000f9 41.5px,#0010fb 42.5px,#0091ff 44.5px,#00dcff 45.5px,#00ffe2 46.5px,#00ff21 50.5px,#06ff00 51.5px,#5dff00 54.5px,#90ff00 57.5px,#9cff00 60.5px,#7dff00 63.5px,#37ff00 66.5px,#00ff04 68.5px,#00ff31 70.5px,#00ff30 72.5px,#00ff02 75.5px,#3eff00 79.5px,#7dff00 81.5px,#e9ff00 83.5px,#ffcf00 84.5px,#ff3800 86.5px,#ff0000 87.5px,#ff0000 108.5px,#ff0b00 109.5px,#ff4600 110.5px,#ffde00 112.5px,#dcff00 113.5px,#75ff00 115.5px,#3aff00 117.5px,#00ff06 121.5px,#00ff32 124.5px,#00ff2e 126.5px,#02ff00 128.5px,#6eff00 132.5px,#97ff00 135.5px,#97ff00 138.5px,#6fff00 141.5px,#21ff00 144.5px,#00ff01 145.5px,#00ff85 148.5px,#00ffea 150.5px,#00d3ff 151.5px,#0049fe 153.5px,#0015fb 154.5px,#0000f9 155.5px,#0000f5 196.5px)"></i><i style="background:linear-gradient(90deg,#0000f5 0.5px,#0000f9 41.5px,#0012fb 42.5px,#0093ff 44.5px,#00dfff 45.5px,#00ffe0 46.5px,#00ff1f 50.5px,#09ff00 51.5px,#62ff00 54.5px,#97ff00 57.5px,#a4ff00 60.5px,#87ff00 63.5px,#45ff00 66.5px,#0cff00 68.5px,#00ff20 70.5px,#00ff23 72.5px,#04ff00 75.5px,#40ff00 79.5px,#7eff00 81.5px,#e9ff00 83.5px,#ffcf00 84.5px,#ff3800 86.5px,#ff0000 87.5px,#ff0000 108.5px,#ff0b00 109.5px,#ff4600 110.5px,#ffdd00 112.5px,#ddff00 113.5px,#a3ff00 114.5px,#54ff00 116.5px,#1bff00 119.5px,#01ff00 121.5px,#00ff24 124.5px,#00ff1d 126.5px,#00ff08 127.5px,#2fff00 129.5px,#79ff00 132.5px,#a0ff00 135.5px,#9eff00 138.5px,#74ff00 141.5px,#24ff00 144.5px,#02ff00 145.5px,#00ff82 148.5px,#00ffe8 150.5px,#00d6ff 151.5px,#004cfe 153.5px,#0019fb 154.5px,#0000f9 155.5px,#0000f5 196.5px)"></i><i style="background:linear-gradient(90deg,#0000f5 0.5px,#0000f9 41.5px,#0017fb 42.5px,#0097ff 44.5px,#00e3ff 45.5px,#00ffde 46.5px,#00ff1c 50.5px,#0cff00 51.5px,#66ff00 54.5px,#9dff00 57.5px,#acff00 60.5px,#92ff00 63.5px,#51ff00 66.5px,#00ff00 69.5px,#00ff1b 71.5px,#00ff11 73.5px,#08ff00 75.5px,#41ff00 79.5px,#7eff00 81.5px,#e9ff00 83.5px,#ffcf00 84.5px,#ff3800 86.5px,#ff0000 87.5px,#ff0000 108.5px,#ff0b00 109.5px,#ff4600 110.5px,#ffdd00 112.5px,#ddff00 113.5px,#76ff00 115.5px,#3cff00 117.5px,#05ff00 121.5px,#00ff1b 124.5px,#00ff10 126.5px,#05ff00 127.5px,#84ff00 132.5px,#a9ff00 135.5px,#a5ff00 138.5px,#78ff00 141.5px,#27ff00 144.5px,#05ff00 145.5px,#00ff50 147.5px,#00ffe5 150.5px,#00dbff 151.5px,#0051fe 153.5px,#001ffc 154.5px,#0000fa 155.5px,#0000f5 196.5px)"></i><i style="background:linear-gradient(90deg,#0000f5 0.5px,#0000f9 41.5px,#001efb 42.5px,#0057fe 43.5px,#00e9ff 45.5px,#00ffda 46.5px,#00ff19 50.5px,#0fff00 51.5px,#6aff00 54.5px,#a2ff00 57.5px,#b4ff00 60.5px,#9bff00 63.5px,#5aff00 66.5px,#08ff00 69.5px,#00ff16 71.5px,#00ff02 74.5px,#42ff00 79.5px,#80ff00 81.5px,#ebff00 83.5px,#ffcd00 84.5px,#ff3800 86.5px,#ff0000 87.5px,#ff0000 108.5px,#ff0a00 109.5px,#ff4500 110.5px,#ffdc00 112.5px,#deff00 113.5px,#78ff00 115.5px,#3eff00 117.5px,#07ff00 121.5px,#00ff16 124.5px,#00ff09 126.5px,#0cff00 127.5px,#8dff00 132.5px,#b2ff00 135.5px,#abff00 138.5px,#7dff00 141.5px,#2aff00 144.5px,#08ff00 145.5px,#00ff4d 147.5px,#00ffe1 150.5px,#00e1ff 151.5px,#0058fe 153.5px,#0025fc 154.5px,#0000fa 155.5px,#0000f5 196.5px)"></i><i style="background:linear-gradient(90deg,#0000f5 0.5px,#0000fa 41.5px,#0024fc 42.5px,#005dff 43.5px,#00eeff 45.5px,#00ffd6 46.5px,#00ff16 50.5px,#12ff00 51.5px,#6dff00 54.5px,#a7ff00 57.5px,#bcff00 60.5px,#a4ff00 63.5px,#63ff00 66.5px,#0fff00 69.5px,#00ff05 70.5px,#00ff11 72.5px,#00ff00 74.5px,#45ff00 79.5px,#83ff00 81.5px,#edff00 83.5px,#ffcb00 84.5px,#ff3700 86.5px,#ff0000 87.5px,#ff0000 108.5px,#ff0a00 109.5px,#ff4400 110.5px,#ffda00 112.5px,#e1ff00 113.5px,#7bff00 115.5px,#41ff00 117.5px,#00ff02 122.5px,#00ff11 124.5px,#00ff01 126.5px,#4cff00 129.5px,#96ff00 132.5px,#baff00 135.5px,#b1ff00 138.5px,#80ff00 141.5px,#2dff00 144.5px,#0bff00 145.5px,#00ff1e 146.5px,#00ffdd 150.5px,#00e7ff 151.5px,#005eff 153.5px,#0001fa 155.5px,#0000f5 196.5px)"></i><i style="background:linear-gradient(90deg,#0000f5 0.5px,#0000fa 41.5px,#002bfc 42.5px,#0063ff 43.5px,#00f4ff 45.5px,#00ffa0 47.5px,#00ff13 50.5px,#14ff00 51.5px,#71ff00 54.5px,#acff00 57.5px,#c3ff00 60.5px,#adff00 63.5px,#6cff00 66.5px,#16ff00 69.5px,#02ff00 70.5px,#00ff0d 72.5px,#03ff00 74.5px,#47ff00 79.5px,#86ff00 81.5px,#efff00 83.5px,#ffc900 84.5px,#ff3600 86.5px,#ff0000 87.5px,#ff0000 108.5px,#ff0900 109.5px,#ff4300 110.5px,#ffd800 112.5px,#e3ff00 113.5px,#7eff00 115.5px,#43ff00 117.5px,#01ff00 122.5px,#00ff0d 124.5px,#05ff00 126.5px,#9fff00 132.5px,#c2ff00 135.5px,#b6ff00 138.5px,#84ff00 141.5px,#30ff00 144.5px,#0dff00 145.5px,#00ff1b 146.5px,#00ffda 150.5px,#00edff 151.5px,#0064ff 153.5px,#0006fa 155.5px,#0000f5 196.5px)"></i><i style="background:linear-gradient(90deg,#0000f5 0.5px,#0000fa 41.5px,#006aff 43.5px,#00f9ff 45.5px,#00ff11 50.5px,#16ff00 51.5px,#74ff00 54.5px,#b1ff00 57.5px,#caff00 60.5px,#b6ff00 63.5px,#75ff00 66.5px,#1dff00 69.5px,#08ff00 70.5px,#00ff09 72.5px,#10ff00 75.5px,#4aff00 79.5px,#88ff00 81.5px,#f2ff00 83.5px,#ffc700 84.5px,#ff3500 86.5px,#ff0000 87.5px,#ff0000 108.5px,#ff0800 109.5px,#ff4100 110.5px,#ffd600 112.5px,#e5ff00 113.5px,#80ff00 115.5px,#46ff00 117.5px,#0eff00 121.5px,#00ff05 123.5px,#00ff03 125.5px,#0bff00 126.5px,#93ff00 131.5px,#c4ff00 134.5px,#c5ff00 137.5px,#9cff00 140.5px,#52ff00 143.5px,#0fff00 145.5px,#00ff19 146.5px,#00ffd6 150.5px,#00f3ff 151.5px,#006bff 153.5px,#000bfb 155.5px,#0000f8 157.5px,#0000f5 196.5px)"></i><i style="background:linear-gradient(90deg,#0000f5 0.5px,#0000f9 40.5px,#0007fa 41.5px,#0070ff 43.5px,#00feff 45.5px,#00ff0e 50.5px,#18ff00 51.5px,#76ff00 54.5px,#b5ff00 57.5px,#d1ff00 60.5px,#beff00 63.5px,#7dff00 66.5px,#0eff00 70.5px,#00ff00 71.5px,#07ff00 74.5px,#39ff00 78.5px,#67ff00 80.5px,#baff00 82.5px,#f4ff00 83.5px,#ffc500 84.5px,#ff3400 86.5px,#ff0000 87.5px,#ff0000 108.5px,#ff0700 109.5px,#ff4000 110.5px,#ffd400 112.5px,#e8ff00 113.5px,#83ff00 115.5px,#48ff00 117.5px,#0fff00 121.5px,#00ff04 124.5px,#02ff00 125.5px,#2aff00 127.5px,#9cff00 131.5px,#ccff00 134.5px,#caff00 137.5px,#a0ff00 140.5px,#54ff00 143.5px,#12ff00 145.5px,#00ff16 146.5px,#00f8ff 151.5px,#0072ff 153.5px,#0010fb 155.5px,#0000f9 156.5px,#0005fa 166.5px,#000cfb 168.5px,#0000f8 172.5px,#0000f5 196.5px)"></i><i style="background:linear-gradient(90deg,#0000f5 0.5px,#0000f9 40.5px,#000dfb 41.5px,#0076ff 43.5px,#00fffc 45.5px,#00ff0c 50.5px,#3dff00 52.5px,#92ff00 55.5px,#c7ff00 58.5px,#d7ff00 61.5px,#b6ff00 64.5px,#68ff00 67.5px,#13ff00 70.5px,#00ff01 72.5px,#13ff00 75.5px,#4fff00 79.5px,#8dff00 81.5px,#f6ff00 83.5px,#ffc300 84.5px,#ff3300 86.5px,#ff0000 87.5px,#ff0600 109.5px,#ff3f00 110.5px,#ffd200 112.5px,#eaff00 113.5px,#85ff00 115.5px,#4aff00 117.5px,#11ff00 121.5px,#00ff00 124.5px,#17ff00 126.5px,#a5ff00 131.5px,#d3ff00 134.5px,#d6ff00 136.5px,#b6ff00 139.5px,#74ff00 142.5px,#14ff00 145.5px,#00ff14 146.5px,#00fdff 151.5px,#0079ff 153.5px,#0014fb 155.5px,#0000f9 156.5px,#0007fa 165.5px,#001afb 167.5px,#0000fa 170.5px,#0000f5 196.5px)"></i><i style="background:linear-gradient(90deg,#0000f5 0.5px,#0000f9 40.5px,#0013fb 41.5px,#007cff 43.5px,#00fff9 45.5px,#00ff0a 50.5px,#3fff00 52.5px,#94ff00 55.5px,#cbff00 58.5px,#deff00 61.5px,#beff00 64.5px,#70ff00 67.5px,#19ff00 70.5px,#03ff00 72.5px,#15ff00 75.5px,#51ff00 79.5px,#90ff00 81.5px,#f8ff00 83.5px,#ff7800 85.5px,#ff3200 86.5px,#ff0000 87.5px,#ff0600 109.5px,#ff3d00 110.5px,#ffd000 112.5px,#ecff00 113.5px,#88ff00 115.5px,#4cff00 117.5px,#13ff00 121.5px,#03ff00 124.5px,#1dff00 126.5px,#adff00 131.5px,#dbff00 134.5px,#d4ff00 137.5px,#a6ff00 140.5px,#59ff00 143.5px,#15ff00 145.5px,#00ff12 146.5px,#00fffd 151.5px,#007fff 153.5px,#001afb 155.5px,#0000fa 156.5px,#0006fa 164.5px,#001bfb 166.5px,#0028fc 167.5px,#0003fa 170.5px,#0000f5 196.5px)"></i><i style="background:linear-gradient(90deg,#0000f5 0.5px,#0000fa 40.5px,#001afb 41.5px,#0047fe 42.5px,#00c7ff 44.5px,#00fff5 45.5px,#00ff08 50.5px,#7dff00 54.5px,#c0ff00 57.5px,#e2ff00 60.5px,#e1ff00 62.5px,#b0ff00 65.5px,#1eff00 70.5px,#06ff00 72.5px,#17ff00 75.5px,#53ff00 79.5px,#92ff00 81.5px,#faff00 83.5px,#ff3100 86.5px,#ff0000 87.5px,#ff0500 109.5px,#ff3c00 110.5px,#ffce00 112.5px,#eeff00 113.5px,#8aff00 115.5px,#4fff00 117.5px,#15ff00 121.5px,#07ff00 124.5px,#23ff00 126.5px,#b5ff00 131.5px,#e2ff00 134.5px,#d8ff00 137.5px,#a9ff00 140.5px,#5bff00 143.5px,#17ff00 145.5px,#00ff10 146.5px,#00fff9 151.5px,#0051fe 154.5px,#0021fc 155.5px,#0000fa 156.5px,#0000fa 163.5px,#000dfb 164.5px,#000dfb 165.5px,#0033fd 167.5px,#000ffb 169.5px,#0000f9 172.5px,#0000f5 196.5px)"></i><i style="background:linear-gradient(90deg,#0000f5 0.5px,#0000fa 40.5px,#0020fc 41.5px,#004dfe 42.5px,#00cdff 44.5px,#00fff1 45.5px,#00ff06 50.5px,#7fff00 54.5px,#c3ff00 57.5px,#e7ff00 60.5px,#e8ff00 62.5px,#b9ff00 65.5px,#24ff00 70.5px,#09ff00 72.5px,#18ff00 75.5px,#55ff00 79.5px,#95ff00 81.5px,#fcff00 83.5px,#ff3000 86.5px,#ff0000 87.5px,#ff0400 109.5px,#ff3b00 110.5px,#ffcc00 112.5px,#f0ff00 113.5px,#8dff00 115.5px,#51ff00 117.5px,#16ff00 121.5px,#0aff00 124.5px,#29ff00 126.5px,#bdff00 131.5px,#e1ff00 133.5px,#eaff00 135.5px,#d0ff00 138.5px,#94ff00 141.5px,#19ff00 145.5px,#00ff0e 146.5px,#00fff6 151.5px,#008dff 153.5px,#002afc 155.5px,#0007fa 156.5px,#0000fa 162.5px,#0014fb 164.5px,#000efb 165.5px,#0037fd 167.5px,#0013fb 169.5px,#0000f9 173.5px,#0000f5 196.5px)"></i><i style="background:linear-gradient(90deg,#0000f5 0.5px,#0000fa 40.5px,#0054fe 42.5px,#00d3ff 44.5px,#00ffee 45.5px,#00ff05 50.5px,#81ff00 54.5px,#c6ff00 57.5px,#ecff00 60.5px,#efff00 62.5px,#d6ff00 64.5px,#87ff00 67.5px,#29ff00 70.5px,#0cff00 72.5px,#1aff00 75.5px,#57ff00 79.5px,#97ff00 81.5px,#ffff00 83.5px,#ff2f00 86.5px,#ff0000 87.5px,#ff0300 109.5px,#ff3a00 110.5px,#ffca00 112.5px,#f3ff00 113.5px,#8fff00 115.5px,#53ff00 117.5px,#18ff00 121.5px,#0dff00 124.5px,#2eff00 126.5px,#c5ff00 131.5px,#e8ff00 133.5px,#f0ff00 135.5px,#d3ff00 138.5px,#96ff00 141.5px,#1aff00 145.5px,#00ff0d 146.5px,#00fff3 151.5px,#0093ff 153.5px,#0033fd 155.5px,#0011fb 156.5px,#0000fa 157.5px,#0005fa 162.5px,#0018fb 163.5px,#001afb 164.5px,#000cfb 165.5px,#0034fd 167.5px,#0014fb 170.5px,#0000fa 172.5px,#0000f5 196.5px)"></i><i style="background:linear-gradient(90deg,#0000f5 0.5px,#0000f9 39.5px,#0008fa 40.5px,#005aff 42.5px,#00d9ff 44.5px,#00ffea 45.5px,#00ff03 50.5px,#83ff00 54.5px,#d9ff00 58.5px,#f6ff00 61.5px,#edff00 63.5px,#aeff00 66.5px,#2eff00 70.5px,#0fff00 72.5px,#1bff00 75.5px,#59ff00 79.5px,#9aff00 81.5px,#fffd00 83.5px,#ff2e00 86.5px,#ff0000 87.5px,#ff0200 109.5px,#ff3900 110.5px,#ffc800 112.5px,#f5ff00 113.5px,#91ff00 115.5px,#55ff00 117.5px,#19ff00 121.5px,#10ff00 124.5px,#33ff00 126.5px,#cdff00 131.5px,#efff00 133.5px,#f5ff00 135.5px,#d6ff00 138.5px,#98ff00 141.5px,#1cff00 145.5px,#00ff0b 146.5px,#00ffef 151.5px,#00d5ff 152.5px,#0064ff 154.5px,#001afb 156.5px,#0004fa 157.5px,#0000fa 161.5px,#0021fc 163.5px,#001dfb 164.5px,#000cfb 165.5px,#0031fc 167.5px,#0011fb 171.5px,#0000fa 172.5px,#0000f5 196.5px)"></i><i style="background:linear-gradient(90deg,#0000f5 0.5px,#0000fa 39.5px,#0010fb 40.5px,#0061ff 42.5px,#00dfff 44.5px,#00ffe6 45.5px,#00ff02 50.5px,#84ff00 54.5px,#dcff00 58.5px,#fbff00 61.5px,#f4ff00 63.5px,#d1ff00 65.5px,#33ff00 70.5px,#12ff00 72.5px,#14ff00 74.5px,#46ff00 78.5px,#77ff00 80.5px,#caff00 82.5px,#fffb00 83.5px,#ff2d00 86.5px,#ff0000 87.5px,#ff0200 109.5px,#ff3800 110.5px,#ffc600 112.5px,#f7ff00 113.5px,#94ff00 115.5px,#57ff00 117.5px,#1aff00 121.5px,#0fff00 123.5px,#21ff00 125.5px,#7aff00 128.5px,#d5ff00 131.5px,#f6ff00 133.5px,#faff00 135.5px,#d9ff00 138.5px,#7fff00 142.5px,#1dff00 145.5px,#00ff09 146.5px,#00ffec 151.5px,#00dbff 152.5px,#006cff 154.5px,#0021fc 156.5px,#000afb 157.5px,#0000fa 159.5px,#000bfb 161.5px,#0020fc 162.5px,#0027fc 163.5px,#000dfb 165.5px,#0032fc 167.5px,#0032fd 169.5px,#0000fa 172.5px,#0000f5 196.5px)"></i><i style="background:linear-gradient(90deg,#0000f5 0.5px,#0000fa 28.5px,#000bfb 30.5px,#0000f9 33.5px,#0000fa 39.5px,#0017fb 40.5px,#0068ff 42.5px,#00e5ff 44.5px,#00ffe3 45.5px,#00ff00 50.5px,#85ff00 54.5px,#dfff00 58.5px,#ffff00 61.5px,#fbff00 63.5px,#d8ff00 65.5px,#38ff00 70.5px,#14ff00 72.5px,#15ff00 74.5px,#48ff00 78.5px,#7aff00 80.5px,#cdff00 82.5px,#fff900 83.5px,#ff2c00 86.5px,#ff0000 87.5px,#ff0100 109.5px,#ff3700 110.5px,#ffc400 112.5px,#f9ff00 113.5px,#96ff00 115.5px,#59ff00 117.5px,#27ff00 120.5px,#11ff00 123.5px,#25ff00 125.5px,#81ff00 128.5px,#ddff00 131.5px,#fdff00 133.5px,#f6ff00 136.5px,#c9ff00 139.5px,#62ff00 143.5px,#00ff08 146.5px,#00ffe8 151.5px,#00e1ff 152.5px,#0074ff 154.5px,#0028fc 156.5px,#0006fa 158.5px,#0004fa 160.5px,#0027fc 162.5px,#0029fc 163.5px,#0012fb 165.5px,#003afd 167.5px,#003cfd 169.5px,#0000fa 172.5px,#0000f5 196.5px)"></i><i style="background:linear-gradient(90deg,#0000f5 0.5px,#0000fa 28.5px,#0018fb 29.5px,#001afb 30.5px,#0000fa 32.5px,#0002fa 39.5px,#0043fd 41.5px,#0070ff 42.5px,#00eaff 44.5px,#00ffe0 45.5px,#01ff00 50.5px,#87ff00 54.5px,#e2ff00 58.5px,#fcff00 60.5px,#fffc00 63.5px,#e0ff00 65.5px,#81ff00 68.5px,#3dff00 70.5px,#17ff00 72.5px,#16ff00 74.5px,#4aff00 78.5px,#7cff00 80.5px,#cfff00 82.5px,#fff700 83.5px,#ff2b00 86.5px,#ff0000 87.5px,#ff0000 109.5px,#ff3600 110.5px,#fbff00 113.5px,#98ff00 115.5px,#5bff00 117.5px,#1dff00 121.5px,#13ff00 123.5px,#29ff00 125.5px,#88ff00 128.5px,#e5ff00 131.5px,#fffa00 133.5px,#faff00 136.5px,#b6ff00 140.5px,#42ff00 144.5px,#00ff06 146.5px,#00ffe5 151.5px,#00e6ff 152.5px,#007bff 154.5px,#0031fc 156.5px,#000dfb 158.5px,#000ffb 160.5px,#002afc 162.5px,#001dfb 165.5px,#0047fe 167.5px,#0043fd 169.5px,#0001fa 172.5px,#0000f5 196.5px)"></i><i style="background:linear-gradient(90deg,#0000f5 0.5px,#0000fa 27.5px,#0027fc 29.5px,#0027fc 30.5px,#0000fa 32.5px,#0007fa 39.5px,#0046fe 41.5px,#00afff 43.5px,#00eeff 44.5px,#00ffde 45.5px,#03ff00 50.5px,#89ff00 54.5px,#e5ff00 58.5px,#fffd00 60.5px,#fff000 62.5px,#fcff00 64.5px,#cdff00 66.5px,#45ff00 70.5px,#1dff00 72.5px,#1aff00 74.5px,#4cff00 78.5px,#7eff00 80.5px,#d1ff00 82.5px,#fff500 83.5px,#ff2a00 86.5px,#ff0000 87.5px,#ff0000 109.5px,#ff3500 110.5px,#fdff00 113.5px,#9bff00 115.5px,#5dff00 117.5px,#2bff00 120.5px,#18ff00 123.5px,#30ff00 125.5px,#edff00 131.5px,#fffe00 132.5px,#fff100 134.5px,#ffff00 136.5px,#cfff00 139.5px,#65ff00 143.5px,#00ff04 146.5px,#00ffe3 151.5px,#00e9ff 152.5px,#007eff 154.5px,#0038fd 156.5px,#0014fb 158.5px,#0018fb 160.5px,#002efc 163.5px,#002ffc 165.5px,#0056fe 167.5px,#0047fe 169.5px,#0003fa 172.5px,#0000f5 196.5px)"></i><i style="background:linear-gradient(90deg,#0000f5 0.5px,#0003fa 27.5px,#0032fc 29.5px,#002efc 30.5px,#0002fa 32.5px,#0000fa 38.5px,#000afa 39.5px,#0049fe 41.5px,#00b2ff 43.5px,#00f0ff 44.5px,#00ffdd 45.5px,#00ff26 49.5px,#04ff00 50.5px,#8cff00 54.5px,#e9ff00 58.5px,#fff800 60.5px,#ffea00 62.5px,#fffa00 64.5px,#d6ff00 66.5px,#4eff00 70.5px,#25ff00 72.5px,#20ff00 74.5px,#3fff00 77.5px,#81ff00 80.5px,#d4ff00 82.5px,#fff200 83.5px,#ff2900 86.5px,#ff0000 87.5px,#ff0000 109.5px,#ff3400 110.5px,#ffff00 113.5px,#9eff00 115.5px,#60ff00 117.5px,#2fff00 120.5px,#1fff00 123.5px,#39ff00 125.5px,#dbff00 130.5px,#f5ff00 131.5px,#ffeb00 133.5px,#fffa00 136.5px,#d2ff00 139.5px,#67ff00 143.5px,#00ff03 146.5px,#00ffe2 151.5px,#00eaff 152.5px,#0080ff 154.5px,#003efd 156.5px,#001afb 158.5px,#0025fc 161.5px,#0046fd 165.5px,#006aff 167.5px,#0032fc 170.5px,#0006fa 172.5px,#0000f5 196.5px)"></i><i style="background:linear-gradient(90deg,#0000f5 0.5px,#0005fa 26.5px,#0026fc 28.5px,#003afd 29.5px,#0033fd 30.5px,#0008fa 32.5px,#0008fa 34.5px,#000bfb 36.5px,#0003fa 38.5px,#000efb 39.5px,#004cfe 41.5px,#00b4ff 43.5px,#00f2ff 44.5px,#00ffdc 45.5px,#00ff25 49.5px,#06ff00 50.5px,#8eff00 54.5px,#edff00 58.5px,#feff00 59.5px,#ffe400 62.5px,#fff200 64.5px,#f8ff00 65.5px,#9cff00 68.5px,#3eff00 71.5px,#26ff00 73.5px,#35ff00 76.5px,#68ff00 79.5px,#a8ff00 81.5px,#d6ff00 82.5px,#fff000 83.5px,#ff2900 86.5px,#ff0000 87.5px,#ff0000 109.5px,#ff3300 110.5px,#fffd00 113.5px,#a0ff00 115.5px,#63ff00 117.5px,#33ff00 120.5px,#27ff00 123.5px,#43ff00 125.5px,#e4ff00 130.5px,#fcff00 131.5px,#ffe500 133.5px,#ffeb00 135.5px,#fbff00 137.5px,#a5ff00 141.5px,#00ff01 146.5px,#00ffe1 151.5px,#00ecff 152.5px,#0080ff 154.5px,#0042fd 156.5px,#001ffc 158.5px,#002ffc 162.5px,#0083ff 167.5px,#0019fb 171.5px,#0000fa 173.5px,#0000f5 196.5px)"></i><i style="background:linear-gradient(90deg,#0000f5 0.5px,#0002fa 25.5px,#0018fb 27.5px,#0041fd 29.5px,#0038fd 30.5px,#0010fb 32.5px,#0010fb 36.5px,#000afa 38.5px,#0013fb 39.5px,#0050fe 41.5px,#00b7ff 43.5px,#00f3ff 44.5px,#00ffad 46.5px,#00ff23 49.5px,#07ff00 50.5px,#90ff00 54.5px,#f1ff00 58.5px,#fffc00 59.5px,#ffde00 62.5px,#ffeb00 64.5px,#ffff00 65.5px,#a5ff00 68.5px,#47ff00 71.5px,#2dff00 73.5px,#3aff00 76.5px,#6bff00 79.5px,#abff00 81.5px,#d8ff00 82.5px,#ffee00 83.5px,#ff2800 86.5px,#ff0000 87.5px,#ff0000 109.5px,#ff3200 110.5px,#fffa00 113.5px,#a3ff00 115.5px,#66ff00 117.5px,#38ff00 120.5px,#2eff00 123.5px,#4cff00 125.5px,#ecff00 130.5px,#fffa00 131.5px,#ffde00 133.5px,#fff000 136.5px,#ffff00 137.5px,#a7ff00 141.5px,#26ff00 145.5px,#00ff00 146.5px,#00ffdf 151.5px,#00eeff 152.5px,#0081ff 154.5px,#0046fd 156.5px,#0025fc 158.5px,#0029fc 161.5px,#0032fd 162.5px,#008eff 166.5px,#0099ff 167.5px,#0037fd 170.5px,#0001fa 173.5px,#0000f5 196.5px)"></i><i style="background:linear-gradient(90deg,#0000f5 0.5px,#0002fa 25.5px,#0034fd 28.5px,#0047fe 29.5px,#003dfd 30.5px,#0024fc 31.5px,#0019fb 32.5px,#0015fb 35.5px,#0010fb 38.5px,#0019fb 39.5px,#0054fe 41.5px,#00b9ff 43.5px,#00f5ff 44.5px,#00ffac 46.5px,#00ff22 49.5px,#08ff00 50.5px,#92ff00 54.5px,#f5ff00 58.5px,#ffe900 60.5px,#ffd800 63.5px,#fff700 65.5px,#eeff00 66.5px,#50ff00 71.5px,#34ff00 73.5px,#3eff00 76.5px,#6eff00 79.5px,#aeff00 81.5px,#dbff00 82.5px,#ffec00 83.5px,#ff2700 86.5px,#ff0000 87.5px,#ff0000 109.5px,#ff3100 110.5px,#fff800 113.5px,#a6ff00 115.5px,#6aff00 117.5px,#3cff00 120.5px,#35ff00 123.5px,#55ff00 125.5px,#f3ff00 130.5px,#ffe100 132.5px,#ffd900 134.5px,#fffb00 137.5px,#c4ff00 140.5px,#4bff00 144.5px,#01ff00 146.5px,#00ffde 151.5px,#00f0ff 152.5px,#0083ff 154.5px,#0060ff 155.5px,#002bfc 158.5px,#0034fd 162.5px,#0078ff 164.5px,#009dff 166.5px,#00a6ff 167.5px,#0044fd 170.5px,#000afa 173.5px,#0000f9 175.5px,#0000f5 196.5px)"></i><i style="background:linear-gradient(90deg,#0000f5 0.5px,#0000fa 25.5px,#004dfe 29.5px,#0043fd 30.5px,#002bfc 31.5px,#0021fc 32.5px,#0020fc 34.5px,#000bfb 36.5px,#0020fc 39.5px,#0058fe 41.5px,#00bcff 43.5px,#00f7ff 44.5px,#00ff7c 47.5px,#00ff21 49.5px,#09ff00 50.5px,#94ff00 54.5px,#f8ff00 58.5px,#ffd200 62.5px,#ffdc00 64.5px,#f6ff00 66.5px,#59ff00 71.5px,#3bff00 73.5px,#43ff00 76.5px,#72ff00 79.5px,#b1ff00 81.5px,#deff00 82.5px,#ffe900 83.5px,#ff2600 86.5px,#ff0000 87.5px,#ff0000 109.5px,#ff3000 110.5px,#fff500 113.5px,#a9ff00 115.5px,#6dff00 117.5px,#41ff00 120.5px,#38ff00 122.5px,#49ff00 124.5px,#7aff00 126.5px,#fbff00 130.5px,#ffda00 132.5px,#ffd300 134.5px,#fff700 137.5px,#dfff00 139.5px,#6fff00 143.5px,#02ff00 146.5px,#00ffdd 151.5px,#00f2ff 152.5px,#0086ff 154.5px,#0062ff 155.5px,#0033fd 158.5px,#0035fd 162.5px,#0082ff 164.5px,#00a6ff 167.5px,#006aff 169.5px,#002dfc 172.5px,#0000fa 174.5px,#0000f5 196.5px)"></i><i style="background:linear-gradient(90deg,#0000f5 0.5px,#0000fa 25.5px,#0051fe 29.5px,#0048fe 30.5px,#0030fc 31.5px,#0021fc 34.5px,#000efb 35.5px,#0009fa 36.5px,#0025fc 39.5px,#005bff 41.5px,#00bfff 43.5px,#00f9ff 44.5px,#00ff20 49.5px,#0aff00 50.5px,#b4ff00 55.5px,#fbff00 58.5px,#ffcd00 62.5px,#ffd600 64.5px,#fdff00 66.5px,#61ff00 71.5px,#43ff00 73.5px,#47ff00 76.5px,#75ff00 79.5px,#b4ff00 81.5px,#e1ff00 82.5px,#ffe600 83.5px,#ff2400 86.5px,#ff0000 87.5px,#ff0000 109.5px,#ff2f00 110.5px,#fff200 113.5px,#d7ff00 114.5px,#8aff00 116.5px,#50ff00 119.5px,#3fff00 122.5px,#51ff00 124.5px,#82ff00 126.5px,#e6ff00 129.5px,#fffb00 130.5px,#ffd300 132.5px,#ffce00 134.5px,#f7ff00 138.5px,#90ff00 142.5px,#03ff00 146.5px,#00ffdc 151.5px,#00f4ff 152.5px,#0089ff 154.5px,#0066ff 155.5px,#0039fd 158.5px,#003cfd 160.5px,#0036fd 162.5px,#0084ff 164.5px,#008dff 166.5px,#009cff 167.5px,#008fff 168.5px,#0075ff 169.5px,#005aff 171.5px,#0003fa 174.5px,#0000f5 196.5px)"></i><i style="background:linear-gradient(90deg,#0000f5 0.5px,#0000fa 25.5px,#0042fd 28.5px,#0052fe 29.5px,#004afe 30.5px,#0035fd 31.5px,#0020fc 34.5px,#000dfb 35.5px,#000afb 36.5px,#002afc 39.5px,#005eff 41.5px,#0089ff 42.5px,#00fbff 44.5px,#00ff1f 49.5px,#0bff00 50.5px,#98ff00 54.5px,#feff00 58.5px,#ffd000 61.5px,#ffc600 63.5px,#ffe100 65.5px,#fff900 66.5px,#c7ff00 68.5px,#6aff00 71.5px,#4aff00 73.5px,#4cff00 76.5px,#79ff00 79.5px,#b7ff00 81.5px,#e4ff00 82.5px,#ffe400 83.5px,#ff2300 86.5px,#ff0000 87.5px,#ff0000 109.5px,#ff2e00 110.5px,#fff000 113.5px,#daff00 114.5px,#8eff00 116.5px,#54ff00 119.5px,#45ff00 122.5px,#59ff00 124.5px,#acff00 127.5px,#eeff00 129.5px,#fff400 130.5px,#ffcc00 132.5px,#ffc900 134.5px,#faff00 138.5px,#92ff00 142.5px,#04ff00 146.5px,#00ffdb 151.5px,#00f6ff 152.5px,#008dff 154.5px,#006aff 155.5px,#003cfd 158.5px,#0038fd 162.5px,#0054fe 163.5px,#0080ff 164.5px,#0084ff 165.5px,#0079ff 166.5px,#0090ff 167.5px,#0092ff 168.5px,#0066ff 171.5px,#0009fa 174.5px,#0000f8 177.5px,#0000f5 196.5px)"></i><i style="background:linear-gradient(90deg,#0000f5 0.5px,#0000fa 25.5px,#0038fd 27.5px,#0051fe 29.5px,#0021fc 34.5px,#0011fb 35.5px,#001bfb 37.5px,#0030fc 39.5px,#0061ff 41.5px,#008bff 42.5px,#00fcff 44.5px,#00ff1f 49.5px,#0cff00 50.5px,#99ff00 54.5px,#ebff00 57.5px,#fffd00 58.5px,#ffcb00 61.5px,#ffc000 63.5px,#ffd900 65.5px,#fff200 66.5px,#efff00 67.5px,#72ff00 71.5px,#51ff00 73.5px,#51ff00 76.5px,#7dff00 79.5px,#baff00 81.5px,#e6ff00 82.5px,#ffe100 83.5px,#ff2200 86.5px,#ff0000 87.5px,#ff0000 109.5px,#ff2d00 110.5px,#ffed00 113.5px,#ddff00 114.5px,#91ff00 116.5px,#58ff00 119.5px,#4cff00 122.5px,#61ff00 124.5px,#b4ff00 127.5px,#f5ff00 129.5px,#ffd500 131.5px,#ffc000 133.5px,#ffdb00 136.5px,#fdff00 138.5px,#93ff00 142.5px,#05ff00 146.5px,#00ffda 151.5px,#00f7ff 152.5px,#0091ff 154.5px,#006cff 155.5px,#003cfd 158.5px,#0041fd 161.5px,#003dfd 162.5px,#0051fe 163.5px,#007aff 164.5px,#007bff 165.5px,#0069ff 166.5px,#008bff 167.5px,#0096ff 168.5px,#0069ff 171.5px,#0013fb 174.5px,#0000f9 175.5px,#0000f5 196.5px)"></i><i style="background:linear-gradient(90deg,#0000f5 0.5px,#0000fa 24.5px,#0009fa 25.5px,#003efd 27.5px,#004dfe 29.5px,#0037fd 33.5px,#001bfb 35.5px,#0029fc 38.5px,#0066ff 41.5px,#008cff 42.5px,#00fdff 44.5px,#00ff1e 49.5px,#0cff00 50.5px,#9bff00 54.5px,#eeff00 57.5px,#fffa00 58.5px,#ffc700 61.5px,#ffba00 63.5px,#ffd300 65.5px,#f7ff00 67.5px,#7bff00 71.5px,#58ff00 73.5px,#56ff00 76.5px,#80ff00 79.5px,#bdff00 81.5px,#e9ff00 82.5px,#ffde00 83.5px,#ff2100 86.5px,#ff0000 87.5px,#ff0000 109.5px,#ff2c00 110.5px,#ffea00 113.5px,#e0ff00 114.5px,#95ff00 116.5px,#6aff00 118.5px,#51ff00 121.5px,#5aff00 123.5px,#80ff00 125.5px,#fdff00 129.5px,#ffc000 132.5px,#ffc000 134.5px,#ffe900 137.5px,#fffe00 138.5px,#94ff00 142.5px,#05ff00 146.5px,#00f9ff 152.5px,#0094ff 154.5px,#006eff 155.5px,#003cfd 158.5px,#0047fe 162.5px,#0055fe 163.5px,#0079ff 164.5px,#0078ff 165.5px,#0066ff 166.5px,#008dff 167.5px,#009bff 168.5px,#0066ff 171.5px,#0000fa 175.5px,#0000f5 196.5px)"></i><i style="background:linear-gradient(90deg,#0000f5 0.5px,#0000fa 23.5px,#0015fb 25.5px,#0042fd 27.5px,#004efe 32.5px,#002ffc 34.5px,#0025fc 37.5px,#002bfc 38.5px,#006aff 41.5px,#008eff 42.5px,#00feff 44.5px,#00ff1e 49.5px,#0dff00 50.5px,#9cff00 54.5px,#f0ff00 57.5px,#fff700 58.5px,#ffc300 61.5px,#ffb500 63.5px,#ffcc00 65.5px,#feff00 67.5px,#83ff00 71.5px,#5fff00 73.5px,#5bff00 76.5px,#84ff00 79.5px,#c1ff00 81.5px,#ecff00 82.5px,#ffdc00 83.5px,#ff2000 86.5px,#ff0000 87.5px,#ff0000 109.5px,#ff2a00 110.5px,#ffe800 113.5px,#e3ff00 114.5px,#98ff00 116.5px,#61ff00 119.5px,#59ff00 122.5px,#71ff00 124.5px,#c5ff00 127.5px,#fffa00 129.5px,#ffc800 131.5px,#ffb500 133.5px,#ffd400 136.5px,#fffc00 138.5px,#b4ff00 141.5px,#05ff00 146.5px,#00fbff 152.5px,#0095ff 154.5px,#006fff 155.5px,#0040fd 158.5px,#003cfd 159.5px,#0061ff 163.5px,#007fff 164.5px,#006eff 166.5px,#0094ff 167.5px,#009eff 168.5px,#0029fc 174.5px,#0000fa 175.5px,#0000f5 196.5px)"></i><i style="background:linear-gradient(90deg,#0000f5 0.5px,#0005fa 23.5px,#0044fd 27.5px,#005bff 31.5px,#0049fe 33.5px,#0039fd 34.5px,#002afc 37.5px,#002efc 38.5px,#006fff 41.5px,#0090ff 42.5px,#00fffe 44.5px,#00ff1d 49.5px,#0dff00 50.5px,#bcff00 55.5px,#f2ff00 57.5px,#fff500 58.5px,#ffbf00 61.5px,#ffb000 63.5px,#ffc500 65.5px,#fff800 67.5px,#8bff00 71.5px,#66ff00 73.5px,#60ff00 76.5px,#88ff00 79.5px,#c4ff00 81.5px,#efff00 82.5px,#ffd900 83.5px,#ff1f00 86.5px,#ff0000 87.5px,#ff0000 109.5px,#ff2900 110.5px,#ffe500 113.5px,#e6ff00 114.5px,#9cff00 116.5px,#72ff00 118.5px,#5dff00 121.5px,#69ff00 123.5px,#90ff00 125.5px,#edff00 128.5px,#fff200 129.5px,#ffc100 131.5px,#ffb000 133.5px,#ffd100 136.5px,#fff900 138.5px,#d2ff00 140.5px,#52ff00 144.5px,#06ff00 146.5px,#00fcff 152.5px,#0097ff 154.5px,#0073ff 155.5px,#0047fe 158.5px,#0042fd 159.5px,#0079ff 163.5px,#008bff 164.5px,#007bff 166.5px,#009dff 167.5px,#00a2ff 168.5px,#004efe 172.5px,#002ffc 174.5px,#0005fa 175.5px,#0000f5 196.5px)"></i><i style="background:linear-gradient(90deg,#0000f5 0.5px,#0000fa 22.5px,#0046fd 27.5px,#0064ff 31.5px,#0050fe 33.5px,#0042fd 34.5px,#003efd 36.5px,#0031fc 37.5px,#0034fd 38.5px,#0072ff 41.5px,#0092ff 42.5px,#00fffd 44.5px,#00ff1d 49.5px,#0eff00 50.5px,#bdff00 55.5px,#f3ff00 57.5px,#ffdd00 59.5px,#ffb100 62.5px,#ffb000 64.5px,#ffd500 66.5px,#fff100 67.5px,#eeff00 68.5px,#93ff00 71.5px,#6eff00 73.5px,#65ff00 76.5px,#8bff00 79.5px,#c7ff00 81.5px,#f2ff00 82.5px,#ffd700 83.5px,#ff1e00 86.5px,#ff0000 87.5px,#ff0000 109.5px,#ff2800 110.5px,#ffe200 113.5px,#e8ff00 114.5px,#9fff00 116.5px,#76ff00 118.5px,#62ff00 121.5px,#70ff00 123.5px,#b4ff00 126.5px,#f4ff00 128.5px,#ffd000 130.5px,#ffae00 132.5px,#ffb300 134.5px,#ffe100 137.5px,#fff700 138.5px,#d4ff00 140.5px,#52ff00 144.5px,#06ff00 146.5px,#00feff 152.5px,#0099ff 154.5px,#0063ff 156.5px,#0049fe 159.5px,#0063ff 161.5px,#0092ff 163.5px,#0094ff 164.5px,#0088ff 166.5px,#00a4ff 167.5px,#00a8ff 168.5px,#0051fe 172.5px,#0030fc 174.5px,#000afa 175.5px,#0000f9 177.5px,#0000f5 196.5px)"></i><i style="background:linear-gradient(90deg,#0000f5 0.5px,#0000f9 21.5px,#0029fc 24.5px,#005bff 29.5px,#006bff 31.5px,#0066ff 32.5px,#0047fe 34.5px,#003cfd 38.5px,#0076ff 41.5px,#0096ff 42.5px,#00fffc 44.5px,#00ff1d 49.5px,#0eff00 50.5px,#beff00 55.5px,#f5ff00 57.5px,#ffda00 59.5px,#ffad00 62.5px,#ffaa00 64.5px,#ffce00 66.5px,#f5ff00 68.5px,#9bff00 71.5px,#75ff00 73.5px,#68ff00 75.5px,#7dff00 78.5px,#a8ff00 80.5px,#f4ff00 82.5px,#ffd400 83.5px,#ff1d00 86.5px,#ff0000 87.5px,#ff0000 109.5px,#ff2700 110.5px,#ffe000 113.5px,#ebff00 114.5px,#a3ff00 116.5px,#7aff00 118.5px,#68ff00 121.5px,#77ff00 123.5px,#bcff00 126.5px,#fbff00 128.5px,#ffb500 131.5px,#ffa700 133.5px,#ffcb00 136.5px,#fff500 138.5px,#d5ff00 140.5px,#52ff00 144.5px,#06ff00 146.5px,#00ffff 152.5px,#009cff 154.5px,#0067ff 156.5px,#004ffe 159.5px,#0054fe 160.5px,#006aff 161.5px,#008eff 162.5px,#00a3ff 163.5px,#008eff 165.5px,#0093ff 166.5px,#00a9ff 167.5px,#00afff 168.5px,#002efc 174.5px,#000dfb 175.5px,#0000fa 176.5px,#0000f5 196.5px)"></i><i style="background:linear-gradient(90deg,#0000f5 0.5px,#0000f9 21.5px,#004efe 26.5px,#006fff 31.5px,#006bff 32.5px,#0049fe 34.5px,#0043fd 38.5px,#007aff 41.5px,#009bff 42.5px,#00fffb 44.5px,#00ff1d 49.5px,#0eff00 50.5px,#bfff00 55.5px,#f7ff00 57.5px,#ffb500 61.5px,#ffa200 63.5px,#ffb200 65.5px,#fcff00 68.5px,#8cff00 72.5px,#6eff00 75.5px,#81ff00 78.5px,#acff00 80.5px,#f7ff00 82.5px,#ffd200 83.5px,#ff1c00 86.5px,#ff0000 87.5px,#ff0000 109.5px,#ff2600 110.5px,#ffdd00 113.5px,#eeff00 114.5px,#a6ff00 116.5px,#7eff00 118.5px,#6eff00 121.5px,#7eff00 123.5px,#c4ff00 126.5px,#fffb00 128.5px,#ffaf00 131.5px,#ffa300 133.5px,#ffc800 136.5px,#fff300 138.5px,#f2ff00 139.5px,#77ff00 143.5px,#06ff00 146.5px,#00fffe 152.5px,#00a0ff 154.5px,#006aff 156.5px,#0056fe 158.5px,#0055fe 160.5px,#006bff 161.5px,#0096ff 162.5px,#00aaff 163.5px,#0092ff 165.5px,#00b3ff 168.5px,#005bff 172.5px,#002dfc 174.5px,#000efb 175.5px,#0000fa 176.5px,#0000f5 196.5px)"></i><i style="background:linear-gradient(90deg,#0000f5 0.5px,#0000fa 21.5px,#005cff 26.5px,#0071ff 32.5px,#004afe 34.5px,#0048fe 38.5px,#0065ff 40.5px,#00a0ff 42.5px,#00fffa 44.5px,#00ff1d 49.5px,#0eff00 50.5px,#bfff00 55.5px,#f8ff00 57.5px,#ffb200 61.5px,#ff9d00 63.5px,#ffac00 65.5px,#fffa00 68.5px,#93ff00 72.5px,#78ff00 74.5px,#7aff00 77.5px,#97ff00 79.5px,#d0ff00 81.5px,#faff00 82.5px,#ffcf00 83.5px,#ff1a00 86.5px,#ff0000 87.5px,#ff0000 109.5px,#ff2500 110.5px,#ffda00 113.5px,#f1ff00 114.5px,#aaff00 116.5px,#82ff00 118.5px,#74ff00 121.5px,#85ff00 123.5px,#cbff00 126.5px,#fff400 128.5px,#ffa900 131.5px,#ff9d00 132.5px,#ffb500 135.5px,#fff100 138.5px,#f3ff00 139.5px,#53ff00 144.5px,#06ff00 146.5px,#00fffe 152.5px,#00a5ff 154.5px,#006cff 156.5px,#005afe 157.5px,#0054fe 160.5px,#0069ff 161.5px,#0095ff 162.5px,#00a8ff 163.5px,#009aff 164.5px,#00a2ff 166.5px,#00b2ff 168.5px,#004afe 173.5px,#000ffb 175.5px,#0000fa 176.5px,#0000f5 196.5px)"></i><i style="background:linear-gradient(90deg,#0000f5 0.5px,#0000fa 21.5px,#000cfb 22.5px,#006eff 26.5px,#007dff 27.5px,#006dff 30.5px,#0078ff 32.5px,#004efe 34.5px,#0049fe 38.5px,#0064ff 40.5px,#00a4ff 42.5px,#00fff8 44.5px,#00ff1c 49.5px,#0eff00 50.5px,#c0ff00 55.5px,#faff00 57.5px,#ffae00 61.5px,#ff9900 63.5px,#ffa600 65.5px,#fff400 68.5px,#ccff00 70.5px,#89ff00 73.5px,#79ff00 76.5px,#9aff00 79.5px,#d3ff00 81.5px,#fdff00 82.5px,#ff9000 84.5px,#ff1900 86.5px,#ff0000 87.5px,#ff0000 109.5px,#ff2400 110.5px,#ffd800 113.5px,#f4ff00 114.5px,#adff00 116.5px,#87ff00 118.5px,#79ff00 121.5px,#9eff00 124.5px,#f1ff00 127.5px,#ffed00 128.5px,#ffa300 131.5px,#ff9800 132.5px,#ffa400 134.5px,#ffd800 137.5px,#f4ff00 139.5px,#54ff00 144.5px,#07ff00 146.5px,#00ffa8 150.5px,#00fffc 152.5px,#00a9ff 154.5px,#005bff 157.5px,#0057fe 160.5px,#006aff 161.5px,#0091ff 162.5px,#00a4ff 163.5px,#00b0ff 168.5px,#0077ff 171.5px,#0010fb 175.5px,#0000fa 176.5px,#0000f5 196.5px)"></i><i style="background:linear-gradient(90deg,#0000f5 0.5px,#0000fa 21.5px,#0007fa 22.5px,#007fff 26.5px,#0093ff 27.5px,#008cff 28.5px,#0078ff 29.5px,#0075ff 31.5px,#007fff 32.5px,#0056fe 34.5px,#0047fe 38.5px,#004dfe 39.5px,#0082ff 41.5px,#00fff7 44.5px,#00ff1c 49.5px,#0fff00 50.5px,#c1ff00 55.5px,#fbff00 57.5px,#ffab00 61.5px,#ff9500 63.5px,#ffa100 65.5px,#ffed00 68.5px,#f2ff00 69.5px,#a1ff00 72.5px,#84ff00 74.5px,#83ff00 77.5px,#9eff00 79.5px,#d6ff00 81.5px,#fffe00 82.5px,#ff8e00 84.5px,#ff1800 86.5px,#ff0000 87.5px,#ff0000 109.5px,#ff2200 110.5px,#ffd500 113.5px,#f7ff00 114.5px,#b1ff00 116.5px,#8bff00 118.5px,#7fff00 121.5px,#92ff00 123.5px,#d9ff00 126.5px,#f8ff00 127.5px,#ffb000 130.5px,#ff9300 132.5px,#ffae00 135.5px,#ffee00 138.5px,#f6ff00 139.5px,#78ff00 143.5px,#07ff00 146.5px,#00ffa7 150.5px,#00fffb 152.5px,#00adff 154.5px,#0060ff 157.5px,#005afe 159.5px,#005fff 160.5px,#00a1ff 163.5px,#00b6ff 166.5px,#00a8ff 169.5px,#007cff 171.5px,#0010fb 175.5px,#0000fa 176.5px,#0000f5 196.5px)"></i><i style="background:linear-gradient(90deg,#0000f5 0.5px,#0002fa 22.5px,#0087ff 26.5px,#009fff 27.5px,#009aff 28.5px,#0081ff 29.5px,#007bff 31.5px,#0085ff 32.5px,#007dff 33.5px,#0053fe 35.5px,#0045fd 38.5px,#004bfe 39.5px,#0083ff 41.5px,#00d8ff 43.5px,#00fff5 44.5px,#00ff1c 49.5px,#0fff00 50.5px,#c2ff00 55.5px,#fdff00 57.5px,#ffa800 61.5px,#ff9100 63.5px,#ff9b00 65.5px,#f8ff00 69.5px,#a7ff00 72.5px,#84ff00 75.5px,#91ff00 78.5px,#b9ff00 80.5px,#fffb00 82.5px,#ff1700 86.5px,#ff0000 87.5px,#ff0000 109.5px,#ff2100 110.5px,#ffd200 113.5px,#f9ff00 114.5px,#b4ff00 116.5px,#8fff00 118.5px,#84ff00 121.5px,#acff00 124.5px,#feff00 127.5px,#ffab00 130.5px,#ff8f00 132.5px,#ffab00 135.5px,#f7ff00 139.5px,#79ff00 143.5px,#08ff00 146.5px,#00ffa7 150.5px,#00fffa 152.5px,#00b0ff 154.5px,#0065ff 157.5px,#0063ff 159.5px,#00a3ff 163.5px,#00c1ff 165.5px,#00c2ff 166.5px,#00b4ff 167.5px,#00b3ff 169.5px,#00a4ff 170.5px,#0056fe 172.5px,#0011fb 175.5px,#0000fa 176.5px,#0000f5 196.5px)"></i><i style="background:linear-gradient(90deg,#0000f5 0.5px,#0004fa 22.5px,#00a0ff 27.5px,#00a0ff 28.5px,#008aff 29.5px,#0083ff 31.5px,#008bff 33.5px,#005cff 35.5px,#0047fe 38.5px,#0061ff 40.5px,#00abff 42.5px,#00fff4 44.5px,#00ff1b 49.5px,#0fff00 50.5px,#c3ff00 55.5px,#feff00 57.5px,#ffa500 61.5px,#ff8d00 63.5px,#ff8b00 64.5px,#ffa900 66.5px,#feff00 69.5px,#aeff00 72.5px,#89ff00 75.5px,#95ff00 78.5px,#bdff00 80.5px,#fff900 82.5px,#ff1600 86.5px,#ff0000 87.5px,#ff0000 109.5px,#ff2000 110.5px,#ffd000 113.5px,#fcff00 114.5px,#b7ff00 116.5px,#8aff00 119.5px,#92ff00 122.5px,#caff00 125.5px,#fff900 127.5px,#ffa500 130.5px,#ff8a00 132.5px,#ffa900 135.5px,#f8ff00 139.5px,#79ff00 143.5px,#08ff00 146.5px,#00ff7a 149.5px,#00fff8 152.5px,#00b4ff 154.5px,#0069ff 157.5px,#0063ff 158.5px,#00caff 165.5px,#00cbff 166.5px,#00baff 167.5px,#00beff 169.5px,#00afff 170.5px,#0053fe 172.5px,#0031fc 173.5px,#0000fa 176.5px,#0000f5 196.5px)"></i><i style="background:linear-gradient(90deg,#0000f5 0.5px,#0000fa 21.5px,#000afb 22.5px,#0097ff 27.5px,#009eff 28.5px,#0092ff 29.5px,#0096ff 30.5px,#0090ff 32.5px,#0094ff 33.5px,#0065ff 35.5px,#004efe 38.5px,#0065ff 40.5px,#00aeff 42.5px,#00dcff 43.5px,#00fff2 44.5px,#00ff1b 49.5px,#0fff00 50.5px,#c4ff00 55.5px,#ffff00 57.5px,#ffa300 61.5px,#ff8a00 63.5px,#ff8700 64.5px,#ffa400 66.5px,#fff900 69.5px,#a2ff00 73.5px,#8dff00 76.5px,#99ff00 78.5px,#c0ff00 80.5px,#fff600 82.5px,#ff1500 86.5px,#ff0000 87.5px,#ff0000 109.5px,#ff1f00 110.5px,#ffff00 114.5px,#bbff00 116.5px,#97ff00 118.5px,#8fff00 121.5px,#b9ff00 124.5px,#edff00 126.5px,#fff300 127.5px,#ff9f00 130.5px,#ff8600 132.5px,#ffa600 135.5px,#f9ff00 139.5px,#7aff00 143.5px,#08ff00 146.5px,#00ff7a 149.5px,#00fff6 152.5px,#00b8ff 154.5px,#0088ff 156.5px,#0069ff 157.5px,#0066ff 158.5px,#009dff 161.5px,#00ceff 165.5px,#00d0ff 166.5px,#00c2ff 167.5px,#00c8ff 169.5px,#00b9ff 170.5px,#008cff 171.5px,#0052fe 172.5px,#002cfc 173.5px,#0000fa 176.5px,#0000f5 196.5px)"></i><i style="background:linear-gradient(90deg,#0000f5 0.5px,#0000fa 21.5px,#003afd 24.5px,#008bff 27.5px,#00a3ff 30.5px,#0094ff 32.5px,#0097ff 33.5px,#006eff 35.5px,#0055fe 38.5px,#006aff 40.5px,#00b0ff 42.5px,#00dfff 43.5px,#00fff0 44.5px,#00ff1b 49.5px,#0fff00 50.5px,#c4ff00 55.5px,#fffe00 57.5px,#ffa000 61.5px,#ff8200 64.5px,#ff9e00 66.5px,#fff200 69.5px,#edff00 70.5px,#a8ff00 73.5px,#91ff00 76.5px,#adff00 79.5px,#e3ff00 81.5px,#fff300 82.5px,#ff1400 86.5px,#ff0000 87.5px,#ff0000 109.5px,#ff1e00 110.5px,#ffcb00 113.5px,#fffc00 114.5px,#beff00 116.5px,#9bff00 118.5px,#95ff00 121.5px,#bfff00 124.5px,#f3ff00 126.5px,#ffcd00 128.5px,#ff8900 131.5px,#ff8200 132.5px,#ffa400 135.5px,#faff00 139.5px,#55ff00 144.5px,#08ff00 146.5px,#00ffa4 150.5px,#00fff4 152.5px,#00bbff 154.5px,#00a8ff 155.5px,#0068ff 157.5px,#0066ff 158.5px,#00a6ff 161.5px,#00cfff 165.5px,#00caff 167.5px,#00d0ff 169.5px,#00c3ff 170.5px,#0095ff 171.5px,#0057fe 172.5px,#002cfc 173.5px,#0000fa 177.5px,#0000f5 196.5px)"></i><i style="background:linear-gradient(90deg,#0000f5 0.5px,#0000fa 21.5px,#0034fd 24.5px,#0070ff 26.5px,#00afff 30.5px,#0096ff 32.5px,#0093ff 33.5px,#0076ff 35.5px,#005bff 38.5px,#005fff 39.5px,#0071ff 40.5px,#00b3ff 42.5px,#00e2ff 43.5px,#00ffee 44.5px,#00ff1b 49.5px,#10ff00 50.5px,#c5ff00 55.5px,#fffd00 57.5px,#ff9e00 61.5px,#ff7e00 64.5px,#ff9900 66.5px,#ffec00 69.5px,#f4ff00 70.5px,#aeff00 73.5px,#96ff00 76.5px,#b1ff00 79.5px,#e6ff00 81.5px,#fff000 82.5px,#ff1300 86.5px,#ff0000 87.5px,#ff0000 109.5px,#ff1d00 110.5px,#fff900 114.5px,#c2ff00 116.5px,#9fff00 118.5px,#9aff00 121.5px,#c5ff00 124.5px,#faff00 126.5px,#ff9400 130.5px,#ff7e00 132.5px,#ffa100 135.5px,#fbff00 139.5px,#7aff00 143.5px,#08ff00 146.5px,#00ffa4 150.5px,#00fff2 152.5px,#00e1ff 153.5px,#00beff 154.5px,#008aff 156.5px,#0068ff 157.5px,#0067ff 158.5px,#00bbff 162.5px,#00cfff 165.5px,#00dcff 168.5px,#00c9ff 170.5px,#009fff 171.5px,#0060ff 172.5px,#0033fd 173.5px,#0020fc 174.5px,#0016fb 176.5px,#0000fa 177.5px,#0000f5 196.5px)"></i><i style="background:linear-gradient(90deg,#0000f5 0.5px,#0001fa 21.5px,#0026fc 23.5px,#002ffc 24.5px,#0072ff 26.5px,#0093ff 28.5px,#00aeff 29.5px,#00b8ff 30.5px,#0094ff 32.5px,#007dff 34.5px,#007cff 36.5px,#005fff 38.5px,#0061ff 39.5px,#0092ff 41.5px,#00b3ff 42.5px,#00e1ff 43.5px,#00ffee 44.5px,#00ff1b 49.5px,#0fff00 50.5px,#c5ff00 55.5px,#fffc00 57.5px,#ff9c00 61.5px,#ff7b00 64.5px,#ff9500 66.5px,#f8ff00 70.5px,#b2ff00 73.5px,#99ff00 76.5px,#a4ff00 78.5px,#c9ff00 80.5px,#e8ff00 81.5px,#ffee00 82.5px,#ff8200 84.5px,#ff1200 86.5px,#ff0000 87.5px,#ff0000 109.5px,#ff1c00 110.5px,#fff700 114.5px,#c4ff00 116.5px,#a2ff00 118.5px,#9eff00 121.5px,#caff00 124.5px,#feff00 126.5px,#ff9100 130.5px,#ff7b00 132.5px,#ff9f00 135.5px,#fcff00 139.5px,#55ff00 144.5px,#08ff00 146.5px,#00ffa5 150.5px,#00fff3 152.5px,#00beff 154.5px,#006bff 157.5px,#006aff 158.5px,#00bfff 162.5px,#00ceff 164.5px,#00e0ff 168.5px,#00cbff 170.5px,#00a5ff 171.5px,#006aff 172.5px,#003dfd 173.5px,#0027fc 174.5px,#001ffc 176.5px,#0000fa 177.5px,#0000f5 196.5px)"></i><i style="background:linear-gradient(90deg,#0000f5 0.5px,#0002fa 21.5px,#001afb 22.5px,#002efc 24.5px,#0079ff 26.5px,#0080ff 27.5px,#0094ff 28.5px,#00b6ff 29.5px,#00bfff 30.5px,#0091ff 32.5px,#0081ff 34.5px,#008aff 35.5px,#0086ff 36.5px,#0061ff 38.5px,#0063ff 39.5px,#00b3ff 42.5px,#00e0ff 43.5px,#00fff0 44.5px,#00ff1d 49.5px,#0eff00 50.5px,#c6ff00 55.5px,#fffb00 57.5px,#ff9a00 61.5px,#ff7800 64.5px,#ff9200 66.5px,#fbff00 70.5px,#b5ff00 73.5px,#9cff00 76.5px,#a6ff00 78.5px,#cbff00 80.5px,#eaff00 81.5px,#ffec00 82.5px,#ff1200 86.5px,#ff0000 87.5px,#ff0000 109.5px,#ff1b00 110.5px,#ffc500 113.5px,#fff500 114.5px,#c6ff00 116.5px,#a4ff00 118.5px,#a0ff00 121.5px,#cdff00 124.5px,#fffd00 126.5px,#ff8e00 130.5px,#ff7900 132.5px,#ff9e00 135.5px,#fdff00 139.5px,#55ff00 144.5px,#06ff00 146.5px,#00fff5 152.5px,#00bbff 154.5px,#0070ff 157.5px,#0071ff 158.5px,#0089ff 160.5px,#00bfff 162.5px,#00ceff 164.5px,#00ddff 168.5px,#00c7ff 170.5px,#00a4ff 171.5px,#0046fe 173.5px,#002ffc 174.5px,#0024fc 176.5px,#0000fa 177.5px,#0000f5 196.5px)"></i><i style="background:linear-gradient(90deg,#0000f5 0.5px,#0006fa 21.5px,#001efc 22.5px,#0033fd 24.5px,#0086ff 26.5px,#0086ff 27.5px,#0097ff 28.5px,#00bdff 29.5px,#00c7ff 30.5px,#0094ff 32.5px,#008aff 33.5px,#0096ff 35.5px,#008dff 36.5px,#0064ff 38.5px,#0065ff 39.5px,#00b4ff 42.5px,#00deff 43.5px,#00fff2 44.5px,#00ff1e 49.5px,#0dff00 50.5px,#c6ff00 55.5px,#fffb00 57.5px,#ff9800 61.5px,#ff7600 64.5px,#ff8f00 66.5px,#ffff00 70.5px,#b8ff00 73.5px,#9eff00 76.5px,#a8ff00 78.5px,#cdff00 80.5px,#ebff00 81.5px,#ffeb00 82.5px,#ff1100 86.5px,#ff0000 87.5px,#ff0000 109.5px,#ff1b00 110.5px,#fff400 114.5px,#c8ff00 116.5px,#a6ff00 118.5px,#a3ff00 121.5px,#d0ff00 124.5px,#fff900 126.5px,#ff8b00 130.5px,#ff7700 132.5px,#ff9c00 135.5px,#feff00 139.5px,#54ff00 144.5px,#05ff00 146.5px,#00fff7 152.5px,#00b8ff 154.5px,#0078ff 157.5px,#0085ff 160.5px,#00bfff 162.5px,#00deff 167.5px,#00bfff 170.5px,#004efe 173.5px,#0038fd 174.5px,#0024fc 176.5px,#0000f9 177.5px,#0000f5 196.5px)"></i><i style="background:linear-gradient(90deg,#0000f5 0.5px,#0000fa 20.5px,#000cfb 21.5px,#0026fc 22.5px,#0029fc 23.5px,#003efd 24.5px,#0071ff 25.5px,#0095ff 26.5px,#0092ff 27.5px,#009dff 28.5px,#00c3ff 29.5px,#00cfff 30.5px,#009eff 32.5px,#0096ff 33.5px,#009fff 35.5px,#0068ff 38.5px,#0069ff 39.5px,#00b4ff 42.5px,#00fff6 44.5px,#00ff20 49.5px,#0cff00 50.5px,#c6ff00 55.5px,#fffa00 57.5px,#ffab00 60.5px,#ff7a00 63.5px,#ff7400 64.5px,#ff8c00 66.5px,#fffc00 70.5px,#bbff00 73.5px,#a0ff00 76.5px,#aaff00 78.5px,#cfff00 80.5px,#edff00 81.5px,#ffe900 82.5px,#ff1000 86.5px,#ff0000 87.5px,#ff0000 109.5px,#ff1a00 110.5px,#fff200 114.5px,#e6ff00 115.5px,#b5ff00 117.5px,#a1ff00 119.5px,#afff00 122.5px,#ecff00 125.5px,#fff600 126.5px,#ff8800 130.5px,#ff7400 132.5px,#ff9a00 135.5px,#feff00 139.5px,#53ff00 144.5px,#04ff00 146.5px,#00fffb 152.5px,#00b6ff 154.5px,#0080ff 157.5px,#0087ff 160.5px,#00c0ff 162.5px,#00dcff 166.5px,#00dbff 167.5px,#00b9ff 170.5px,#006dff 172.5px,#0040fd 174.5px,#0020fc 176.5px,#0000f9 177.5px,#0000f5 196.5px)"></i><i style="background:linear-gradient(90deg,#0000f5 0.5px,#0000f9 20.5px,#0011fb 21.5px,#0031fc 22.5px,#0036fd 23.5px,#004cfe 24.5px,#007eff 25.5px,#00a3ff 26.5px,#00a8ff 28.5px,#00caff 29.5px,#00d8ff 30.5px,#00aeff 32.5px,#00a4ff 35.5px,#006bff 38.5px,#006dff 39.5px,#00b3ff 42.5px,#00fffa 44.5px,#00ff22 49.5px,#0bff00 50.5px,#c6ff00 55.5px,#fff900 57.5px,#ff9500 61.5px,#ff7100 64.5px,#ff8900 66.5px,#fff800 70.5px,#b0ff00 74.5px,#a4ff00 77.5px,#baff00 79.5px,#eeff00 81.5px,#ffe800 82.5px,#ff1000 86.5px,#ff0000 87.5px,#ff0000 109.5px,#ff1900 110.5px,#ffc100 113.5px,#fff000 114.5px,#e8ff00 115.5px,#b7ff00 117.5px,#a3ff00 119.5px,#b2ff00 122.5px,#efff00 125.5px,#fff200 126.5px,#ff9a00 129.5px,#ff7600 131.5px,#ff7a00 133.5px,#ffae00 136.5px,#ffff00 139.5px,#52ff00 144.5px,#03ff00 146.5px,#00fffe 152.5px,#00b5ff 154.5px,#008bff 156.5px,#008bff 158.5px,#008eff 160.5px,#00c4ff 162.5px,#00c0ff 163.5px,#00e1ff 166.5px,#00cbff 168.5px,#00cdff 169.5px,#00bbff 170.5px,#0089ff 171.5px,#006bff 172.5px,#001cfb 176.5px,#0000f9 177.5px,#0000f5 196.5px)"></i><i style="background:linear-gradient(90deg,#0000f5 0.5px,#0000f9 20.5px,#0014fb 21.5px,#003bfd 22.5px,#0059fe 24.5px,#00adff 26.5px,#00b7ff 28.5px,#00d4ff 29.5px,#00e3ff 30.5px,#00b4ff 33.5px,#00a7ff 35.5px,#0070ff 38.5px,#0072ff 39.5px,#0094ff 41.5px,#00d4ff 43.5px,#00fffd 44.5px,#00ff24 49.5px,#09ff00 50.5px,#c6ff00 55.5px,#fff800 57.5px,#ff9300 61.5px,#ff6f00 64.5px,#ff8600 66.5px,#fff500 70.5px,#d5ff00 72.5px,#a9ff00 75.5px,#a6ff00 77.5px,#bcff00 79.5px,#f0ff00 81.5px,#ffe600 82.5px,#ff7c00 84.5px,#ff0f00 86.5px,#ff0000 87.5px,#ff0000 109.5px,#ff1900 110.5px,#ffef00 114.5px,#e9ff00 115.5px,#b9ff00 117.5px,#a6ff00 119.5px,#b5ff00 122.5px,#f3ff00 125.5px,#ffee00 126.5px,#ff8200 130.5px,#ff7000 132.5px,#ff9700 135.5px,#ffff00 139.5px,#52ff00 144.5px,#01ff00 146.5px,#00ffdb 151.5px,#00feff 152.5px,#00b4ff 154.5px,#008aff 156.5px,#0097ff 160.5px,#00caff 162.5px,#00c0ff 163.5px,#00e5ff 165.5px,#00ebff 166.5px,#00d1ff 168.5px,#00daff 169.5px,#00c5ff 170.5px,#008dff 171.5px,#006fff 172.5px,#004cfe 174.5px,#0000fa 177.5px,#0000f5 196.5px)"></i><i style="background:linear-gradient(90deg,#0000f5 0.5px,#0000f9 20.5px,#0015fb 21.5px,#0041fd 22.5px,#0063ff 24.5px,#00b3ff 26.5px,#00c7ff 28.5px,#00eeff 30.5px,#00beff 33.5px,#00a9ff 35.5px,#0076ff 38.5px,#0084ff 40.5px,#0091ff 41.5px,#00d1ff 43.5px,#00feff 44.5px,#00ff26 49.5px,#08ff00 50.5px,#c6ff00 55.5px,#fff800 57.5px,#ff9200 61.5px,#ff6d00 64.5px,#ff8300 66.5px,#fff100 70.5px,#f1ff00 71.5px,#b5ff00 74.5px,#a8ff00 77.5px,#beff00 79.5px,#f2ff00 81.5px,#ffe400 82.5px,#ff0e00 86.5px,#ff0000 87.5px,#ff0000 109.5px,#ff1800 110.5px,#ffbe00 113.5px,#ffed00 114.5px,#ebff00 115.5px,#bbff00 117.5px,#a8ff00 119.5px,#adff00 121.5px,#ddff00 124.5px,#f6ff00 125.5px,#ffcc00 127.5px,#ff7f00 130.5px,#ff7000 131.5px,#ff7600 133.5px,#ffab00 136.5px,#fffe00 139.5px,#51ff00 144.5px,#00ff00 146.5px,#00ffdd 151.5px,#00fcff 152.5px,#00b3ff 154.5px,#008aff 156.5px,#00a0ff 160.5px,#00cfff 162.5px,#00c6ff 163.5px,#00d6ff 164.5px,#00f4ff 165.5px,#00f8ff 166.5px,#00daff 168.5px,#00e6ff 169.5px,#00d2ff 170.5px,#009cff 171.5px,#007aff 172.5px,#0051fe 174.5px,#0000fa 177.5px,#0000f5 196.5px)"></i><i style="background:linear-gradient(90deg,#0000f5 0.5px,#0000fa 20.5px,#0015fb 21.5px,#0042fd 22.5px,#0069ff 24.5px,#00b5ff 26.5px,#00f5ff 30.5px,#00c6ff 33.5px,#00aaff 35.5px,#0087ff 37.5px,#007bff 39.5px,#008eff 41.5px,#00d0ff 43.5px,#00fdff 44.5px,#00ff56 48.5px,#06ff00 50.5px,#c6ff00 55.5px,#fff700 57.5px,#ff9000 61.5px,#ff6b00 64.5px,#ff8000 66.5px,#ffee00 70.5px,#f4ff00 71.5px,#b8ff00 74.5px,#aaff00 77.5px,#c0ff00 79.5px,#f3ff00 81.5px,#ffe300 82.5px,#ff0e00 86.5px,#ff0000 87.5px,#ff0000 109.5px,#ff1700 110.5px,#ffec00 114.5px,#edff00 115.5px,#bcff00 117.5px,#aaff00 120.5px,#cbff00 123.5px,#f9ff00 125.5px,#ff7c00 130.5px,#ff6c00 132.5px,#ff9400 135.5px,#fffe00 139.5px,#50ff00 144.5px,#00ff02 146.5px,#00ffdf 151.5px,#00f9ff 152.5px,#00b1ff 154.5px,#008bff 156.5px,#008cff 158.5px,#00beff 161.5px,#00d1ff 162.5px,#00ccff 163.5px,#00dbff 164.5px,#00fbff 165.5px,#00fffd 166.5px,#00deff 168.5px,#00e6ff 169.5px,#00d9ff 170.5px,#0087ff 172.5px,#0000fa 177.5px,#0000f5 196.5px)"></i><i style="background:linear-gradient(90deg,#0000f5 0.5px,#0000fa 20.5px,#0017fb 21.5px,#005bff 23.5px,#006bff 24.5px,#008aff 25.5px,#00b6ff 26.5px,#00cdff 27.5px,#00f4ff 30.5px,#00c2ff 34.5px,#0095ff 36.5px,#007eff 39.5px,#008bff 41.5px,#00d1ff 43.5px,#00fcff 44.5px,#00ff58 48.5px,#05ff00 50.5px,#c6ff00 55.5px,#fff700 57.5px,#ff8f00 61.5px,#ff6900 64.5px,#ff7d00 66.5px,#ffea00 70.5px,#f7ff00 71.5px,#bbff00 74.5px,#acff00 77.5px,#c2ff00 79.5px,#f5ff00 81.5px,#ffe100 82.5px,#ff0d00 86.5px,#ff0000 87.5px,#ff0000 109.5px,#ff1700 110.5px,#ffea00 114.5px,#eeff00 115.5px,#beff00 117.5px,#acff00 120.5px,#ceff00 123.5px,#fdff00 125.5px,#ff8e00 129.5px,#ff6b00 131.5px,#ff7300 133.5px,#ffa900 136.5px,#fffd00 139.5px,#76ff00 143.5px,#00ff03 146.5px,#00ffe2 151.5px,#00f6ff 152.5px,#00adff 154.5px,#0089ff 156.5px,#0089ff 158.5px,#00ceff 162.5px,#00dbff 164.5px,#00f7ff 165.5px,#00fffd 166.5px,#00d9ff 168.5px,#00d7ff 170.5px,#006eff 173.5px,#0000fa 177.5px,#0000f5 196.5px)"></i><i style="background:linear-gradient(90deg,#0000f5 0.5px,#0003fa 20.5px,#0057fe 23.5px,#0069ff 24.5px,#00b6ff 26.5px,#00ceff 27.5px,#00ecff 30.5px,#00daff 33.5px,#0094ff 36.5px,#007eff 39.5px,#0087ff 41.5px,#00d0ff 43.5px,#00fcff 44.5px,#00ff88 47.5px,#03ff00 50.5px,#c6ff00 55.5px,#fff600 57.5px,#ff8d00 61.5px,#ff6700 64.5px,#ff7a00 66.5px,#faff00 71.5px,#bdff00 74.5px,#afff00 77.5px,#c3ff00 79.5px,#f6ff00 81.5px,#ffe000 82.5px,#ff0d00 86.5px,#ff0000 87.5px,#ff0000 109.5px,#ff1600 110.5px,#ffe900 114.5px,#f0ff00 115.5px,#c0ff00 117.5px,#aeff00 120.5px,#d1ff00 123.5px,#fffe00 125.5px,#ff8b00 129.5px,#ff6900 131.5px,#ff7100 133.5px,#ffa800 136.5px,#fffd00 139.5px,#75ff00 143.5px,#00ff05 146.5px,#00ffe5 151.5px,#00f1ff 152.5px,#00a9ff 154.5px,#0085ff 156.5px,#0088ff 158.5px,#00b2ff 160.5px,#00d9ff 164.5px,#00fcff 166.5px,#00ceff 168.5px,#00c6ff 169.5px,#00ccff 170.5px,#00bfff 171.5px,#006bff 173.5px,#0000fa 177.5px,#0000f5 196.5px)"></i><i style="background:linear-gradient(90deg,#0000f5 0.5px,#0000fa 19.5px,#001efc 21.5px,#0065ff 24.5px,#00b8ff 26.5px,#00cdff 27.5px,#00f0ff 32.5px,#00e7ff 33.5px,#00a6ff 35.5px,#0093ff 36.5px,#007dff 39.5px,#0083ff 41.5px,#00cfff 43.5px,#00faff 44.5px,#00ff8a 47.5px,#02ff00 50.5px,#c6ff00 55.5px,#fff600 57.5px,#ff8c00 61.5px,#ff6400 64.5px,#ff7700 66.5px,#ffe300 70.5px,#feff00 71.5px,#c0ff00 74.5px,#b1ff00 77.5px,#c5ff00 79.5px,#f8ff00 81.5px,#ffde00 82.5px,#ff7700 84.5px,#ff3b00 85.5px,#ff0c00 86.5px,#ff0000 88.5px,#ff0000 109.5px,#ff1500 110.5px,#ffe700 114.5px,#f1ff00 115.5px,#c2ff00 117.5px,#b0ff00 119.5px,#c3ff00 122.5px,#fffb00 125.5px,#ff8800 129.5px,#ff6600 131.5px,#ff6f00 133.5px,#ffa600 136.5px,#fffc00 139.5px,#74ff00 143.5px,#00ff07 146.5px,#00ffe8 151.5px,#00edff 152.5px,#008aff 155.5px,#007fff 156.5px,#008bff 158.5px,#00b3ff 160.5px,#00caff 162.5px,#00dbff 163.5px,#00e7ff 165.5px,#00f6ff 166.5px,#00b4ff 169.5px,#00c1ff 170.5px,#00beff 171.5px,#009dff 172.5px,#0069ff 173.5px,#0046fe 174.5px,#001dfb 176.5px,#0000fa 177.5px,#0000f5 196.5px)"></i><i style="background:linear-gradient(90deg,#0000f5 0.5px,#0000fa 19.5px,#0049fe 23.5px,#0060ff 24.5px,#00b8ff 26.5px,#00caff 27.5px,#00d8ff 30.5px,#00fbff 32.5px,#00f1ff 33.5px,#00a3ff 35.5px,#0091ff 36.5px,#007bff 39.5px,#0080ff 41.5px,#009eff 42.5px,#00f8ff 44.5px,#00ffb7 46.5px,#00ff00 50.5px,#c6ff00 55.5px,#fff600 57.5px,#ffa100 60.5px,#ff6b00 63.5px,#ff6200 64.5px,#ff7400 66.5px,#ffe000 70.5px,#fffd00 71.5px,#c3ff00 74.5px,#b2ff00 76.5px,#b9ff00 78.5px,#dcff00 80.5px,#faff00 81.5px,#ffdd00 82.5px,#ff0b00 86.5px,#ff0000 88.5px,#ff0000 109.5px,#ff1500 110.5px,#ffe500 114.5px,#f3ff00 115.5px,#c4ff00 117.5px,#b2ff00 119.5px,#c5ff00 122.5px,#fff800 125.5px,#ff8500 129.5px,#ff6400 131.5px,#ff6d00 133.5px,#ffa500 136.5px,#fffc00 139.5px,#73ff00 143.5px,#00ff09 146.5px,#00ffea 151.5px,#00e9ff 152.5px,#0085ff 155.5px,#007cff 156.5px,#00b5ff 160.5px,#00bbff 161.5px,#00e8ff 163.5px,#00f8ff 166.5px,#00aeff 169.5px,#00bdff 171.5px,#00a0ff 172.5px,#0069ff 173.5px,#0040fd 174.5px,#001bfb 176.5px,#0000fa 177.5px,#0000f5 196.5px)"></i><i style="background:linear-gradient(90deg,#0000f5 0.5px,#0000fa 19.5px,#0025fc 21.5px,#005eff 24.5px,#00b3ff 26.5px,#00ceff 28.5px,#00d8ff 30.5px,#00ffff 32.5px,#00f3ff 33.5px,#009fff 35.5px,#008eff 36.5px,#007cff 40.5px,#007dff 41.5px,#009aff 42.5px,#00f4ff 44.5px,#00ffba 46.5px,#00ff02 50.5px,#c5ff00 55.5px,#fff500 57.5px,#ff8900 61.5px,#ff6000 64.5px,#ff7200 66.5px,#ffbe00 69.5px,#fffa00 71.5px,#c5ff00 74.5px,#b4ff00 76.5px,#bbff00 78.5px,#deff00 80.5px,#fbff00 81.5px,#ffab00 83.5px,#ff3a00 85.5px,#ff0b00 86.5px,#ff0000 88.5px,#ff0000 109.5px,#ff1400 110.5px,#ffe400 114.5px,#f5ff00 115.5px,#c5ff00 117.5px,#b4ff00 119.5px,#c8ff00 122.5px,#f0ff00 124.5px,#fff400 125.5px,#ff8200 129.5px,#ff6100 131.5px,#ff6c00 133.5px,#ffa400 136.5px,#fffc00 139.5px,#72ff00 143.5px,#21ff00 145.5px,#00ff0b 146.5px,#00ffec 151.5px,#00e6ff 152.5px,#00a0ff 154.5px,#0084ff 155.5px,#007eff 156.5px,#00baff 160.5px,#00c1ff 161.5px,#00faff 163.5px,#00fffd 166.5px,#00b4ff 169.5px,#00beff 171.5px,#00a5ff 172.5px,#0040fd 174.5px,#001cfb 176.5px,#0000fa 177.5px,#0000f5 196.5px)"></i><i style="background:linear-gradient(90deg,#0000f5 0.5px,#0000fa 19.5px,#000cfb 20.5px,#003ffd 22.5px,#005fff 24.5px,#00aaff 26.5px,#00d4ff 28.5px,#00e1ff 29.5px,#00deff 30.5px,#00ffff 32.5px,#00eeff 33.5px,#009bff 35.5px,#008aff 36.5px,#007cff 40.5px,#007eff 41.5px,#0098ff 42.5px,#00f0ff 44.5px,#00ffe6 45.5px,#00ff04 50.5px,#e8ff00 56.5px,#fff500 57.5px,#ff9e00 60.5px,#ff6700 63.5px,#ff6100 65.5px,#ff8400 67.5px,#fff700 71.5px,#bdff00 75.5px,#bdff00 78.5px,#e0ff00 80.5px,#fdff00 81.5px,#ffaa00 83.5px,#ff3900 85.5px,#ff0a00 86.5px,#ff0000 88.5px,#ff0000 109.5px,#ff1400 110.5px,#ffe200 114.5px,#f6ff00 115.5px,#c7ff00 117.5px,#b6ff00 119.5px,#cbff00 122.5px,#f3ff00 124.5px,#fff100 125.5px,#ff7f00 129.5px,#ff5f00 131.5px,#ff6a00 133.5px,#ffa300 136.5px,#fffc00 139.5px,#71ff00 143.5px,#1fff00 145.5px,#00ff0d 146.5px,#00ffee 151.5px,#00e4ff 152.5px,#00bbff 153.5px,#0088ff 155.5px,#0086ff 156.5px,#00bbff 159.5px,#00caff 161.5px,#00fff6 163.5px,#00ffeb 164.5px,#00fff3 166.5px,#00f5ff 167.5px,#00c2ff 169.5px,#00beff 171.5px,#00a9ff 172.5px,#0048fe 174.5px,#0022fc 176.5px,#0000fa 177.5px,#0000f5 196.5px)"></i><i style="background:linear-gradient(90deg,#0000f5 0.5px,#0000fa 19.5px,#000afb 20.5px,#0044fd 22.5px,#0062ff 24.5px,#00dcff 28.5px,#00ecff 29.5px,#00e5ff 30.5px,#00fdff 32.5px,#00e4ff 33.5px,#0099ff 35.5px,#0085ff 37.5px,#0080ff 41.5px,#0097ff 42.5px,#00eaff 44.5px,#00ffea 45.5px,#00ff06 50.5px,#e8ff00 56.5px,#fff500 57.5px,#ff8700 61.5px,#ff5c00 64.5px,#ff6c00 66.5px,#ffd600 70.5px,#fff300 71.5px,#dbff00 73.5px,#b9ff00 76.5px,#bfff00 78.5px,#e1ff00 80.5px,#feff00 81.5px,#ffa800 83.5px,#ff0900 86.5px,#ff0000 89.5px,#ff0000 109.5px,#ff1300 110.5px,#ffe100 114.5px,#f8ff00 115.5px,#c9ff00 117.5px,#b8ff00 119.5px,#ceff00 122.5px,#f6ff00 124.5px,#ffee00 125.5px,#ff7c00 129.5px,#ff5c00 131.5px,#ff6800 133.5px,#ffa200 136.5px,#fffc00 139.5px,#70ff00 143.5px,#1dff00 145.5px,#00ff0f 146.5px,#00ffc8 150.5px,#00fff0 151.5px,#00e2ff 152.5px,#00b8ff 153.5px,#008eff 155.5px,#008fff 156.5px,#00c6ff 159.5px,#00d4ff 161.5px,#00f2ff 162.5px,#00ffeb 163.5px,#00ffdc 164.5px,#00ffea 166.5px,#00ffff 167.5px,#00cfff 169.5px,#00beff 171.5px,#00acff 172.5px,#0053fe 174.5px,#002afc 176.5px,#0006fa 177.5px,#0000f5 196.5px)"></i><i style="background:linear-gradient(90deg,#0000f5 0.5px,#0000fa 19.5px,#000afa 20.5px,#004afe 22.5px,#0077ff 25.5px,#0092ff 26.5px,#00e5ff 28.5px,#00f6ff 29.5px,#00eaff 30.5px,#00feff 32.5px,#009bff 35.5px,#0083ff 37.5px,#0083ff 41.5px,#0097ff 42.5px,#00e4ff 44.5px,#00ffef 45.5px,#00ff09 50.5px,#76ff00 53.5px,#e7ff00 56.5px,#fff600 57.5px,#ff9d00 60.5px,#ff6500 63.5px,#ff5d00 65.5px,#ff9800 68.5px,#fff100 71.5px,#f3ff00 72.5px,#c1ff00 75.5px,#c1ff00 78.5px,#e3ff00 80.5px,#fffe00 81.5px,#ffa700 83.5px,#ff0900 86.5px,#ff0000 89.5px,#ff0000 109.5px,#ff1200 110.5px,#ffdf00 114.5px,#f9ff00 115.5px,#cbff00 117.5px,#baff00 119.5px,#d0ff00 122.5px,#f8ff00 124.5px,#ffce00 126.5px,#ff7b00 129.5px,#ff5b00 131.5px,#ff6700 133.5px,#ffa200 136.5px,#fffc00 139.5px,#6fff00 143.5px,#1bff00 145.5px,#00ff12 146.5px,#00ffcc 150.5px,#00fff4 151.5px,#00b6ff 153.5px,#0092ff 155.5px,#0094ff 156.5px,#00ceff 159.5px,#00dcff 161.5px,#00faff 162.5px,#00ffd3 164.5px,#00ffe4 166.5px,#00fffa 167.5px,#00c8ff 170.5px,#00adff 172.5px,#005dff 174.5px,#002ffc 176.5px,#000efb 177.5px,#0000f9 178.5px,#0000f5 196.5px)"></i><i style="background:linear-gradient(90deg,#0000f5 0.5px,#0000fa 19.5px,#000bfb 20.5px,#0053fe 22.5px,#0070ff 24.5px,#0074ff 25.5px,#008aff 26.5px,#00ebff 28.5px,#00fbff 29.5px,#00f0ff 30.5px,#00fffd 31.5px,#00fffc 32.5px,#00b8ff 34.5px,#008cff 36.5px,#007dff 40.5px,#0096ff 42.5px,#00ddff 44.5px,#00fff4 45.5px,#00ff0c 50.5px,#4bff00 52.5px,#e6ff00 56.5px,#fff700 57.5px,#ff9d00 60.5px,#ff6400 63.5px,#ff5b00 65.5px,#ff9600 68.5px,#ffef00 71.5px,#f5ff00 72.5px,#c3ff00 75.5px,#bcff00 77.5px,#d0ff00 79.5px,#fffd00 81.5px,#ffa600 83.5px,#ff0800 86.5px,#ff0000 90.5px,#ff0000 109.5px,#ff1200 110.5px,#ffde00 114.5px,#fbff00 115.5px,#ccff00 117.5px,#bdff00 120.5px,#e4ff00 123.5px,#faff00 124.5px,#ff7900 129.5px,#ff5a00 131.5px,#ff6700 133.5px,#ffa200 136.5px,#fffd00 139.5px,#6dff00 143.5px,#19ff00 145.5px,#00ff15 146.5px,#00fff7 151.5px,#00b6ff 153.5px,#0093ff 155.5px,#0094ff 156.5px,#00d2ff 159.5px,#00e4ff 161.5px,#00feff 162.5px,#00ffd2 164.5px,#00ffe1 166.5px,#00f7ff 168.5px,#00ccff 170.5px,#00aeff 172.5px,#004afe 175.5px,#0012fb 177.5px,#0000f9 178.5px,#0000f5 196.5px)"></i><i style="background:linear-gradient(90deg,#0000f5 0.5px,#0000fa 19.5px,#000dfb 20.5px,#005eff 22.5px,#0076ff 23.5px,#0077ff 25.5px,#0087ff 26.5px,#00ecff 28.5px,#00fcff 29.5px,#00f7ff 30.5px,#00fff8 32.5px,#00bbff 34.5px,#0090ff 36.5px,#0079ff 39.5px,#0084ff 41.5px,#0094ff 42.5px,#00d8ff 44.5px,#00fff8 45.5px,#00ff0f 50.5px,#1eff00 51.5px,#e4ff00 56.5px,#fff800 57.5px,#ff9d00 60.5px,#ff6400 63.5px,#ff5a00 65.5px,#ff7b00 67.5px,#ffec00 71.5px,#f8ff00 72.5px,#c5ff00 75.5px,#beff00 77.5px,#d1ff00 79.5px,#fffb00 81.5px,#ffa400 83.5px,#ff0800 86.5px,#ff0000 90.5px,#ff0000 109.5px,#ff1100 110.5px,#ffdc00 114.5px,#fcff00 115.5px,#ceff00 117.5px,#beff00 119.5px,#c7ff00 121.5px,#fcff00 124.5px,#ff7700 129.5px,#ff5800 131.5px,#ff6600 133.5px,#ffa200 136.5px,#fffe00 139.5px,#41ff00 144.5px,#16ff00 145.5px,#00ff18 146.5px,#00fffb 151.5px,#00b7ff 153.5px,#0092ff 155.5px,#0091ff 156.5px,#00e3ff 160.5px,#00feff 162.5px,#00ffd5 164.5px,#00ffdf 166.5px,#00faff 168.5px,#00acff 172.5px,#0012fb 177.5px,#0000fa 178.5px,#0000f5 196.5px)"></i><i style="background:linear-gradient(90deg,#0000f5 0.5px,#0000fa 19.5px,#0011fb 20.5px,#006aff 22.5px,#0082ff 23.5px,#007eff 25.5px,#0087ff 26.5px,#00e8ff 28.5px,#00fcff 29.5px,#00fff0 31.5px,#00fff5 32.5px,#00c1ff 34.5px,#0088ff 37.5px,#0076ff 39.5px,#0082ff 41.5px,#0091ff 42.5px,#00d4ff 44.5px,#00fffa 45.5px,#00ff43 49.5px,#00ff12 50.5px,#1bff00 51.5px,#e3ff00 56.5px,#fff800 57.5px,#ff8600 61.5px,#ff5900 64.5px,#ff5800 65.5px,#ff9200 68.5px,#ffea00 71.5px,#faff00 72.5px,#c7ff00 75.5px,#c0ff00 77.5px,#d3ff00 79.5px,#fffa00 81.5px,#ffa300 83.5px,#ff0700 86.5px,#ff0000 93.5px,#ff0000 109.5px,#ff1000 110.5px,#ffdb00 114.5px,#feff00 115.5px,#d0ff00 117.5px,#bfff00 119.5px,#d6ff00 122.5px,#ffff00 124.5px,#ff7500 129.5px,#ff5700 131.5px,#ff6600 133.5px,#ffa300 136.5px,#ffff00 139.5px,#3eff00 144.5px,#13ff00 145.5px,#00ff1b 146.5px,#00ffff 151.5px,#00d4ff 152.5px,#00a1ff 154.5px,#0090ff 155.5px,#008eff 156.5px,#00ebff 160.5px,#00fbff 162.5px,#00ffdc 164.5px,#00ffda 166.5px,#00fcff 168.5px,#00cdff 170.5px,#00a7ff 172.5px,#0076ff 174.5px,#0027fc 176.5px,#000dfb 177.5px,#0000fa 178.5px,#0000f5 196.5px)"></i><i style="background:linear-gradient(90deg,#0000f5 0.5px,#0000fa 19.5px,#0017fb 20.5px,#006fff 22.5px,#0087ff 23.5px,#008bff 26.5px,#00e1ff 28.5px,#00feff 29.5px,#00ffea 31.5px,#00fff5 32.5px,#00c7ff 34.5px,#008cff 37.5px,#0075ff 39.5px,#0080ff 41.5px,#00a9ff 43.5px,#00fffd 45.5px,#00ff46 49.5px,#00ff16 50.5px,#19ff00 51.5px,#e2ff00 56.5px,#fff900 57.5px,#ff9e00 60.5px,#ff6200 63.5px,#ff5700 65.5px,#ff9000 68.5px,#fcff00 72.5px,#c9ff00 75.5px,#c1ff00 77.5px,#d4ff00 79.5px,#fff800 81.5px,#ffa200 83.5px,#ff0600 86.5px,#ff0000 109.5px,#ff1000 110.5px,#ffda00 114.5px,#ffff00 115.5px,#d1ff00 117.5px,#c1ff00 119.5px,#d8ff00 122.5px,#fffd00 124.5px,#ff7300 129.5px,#ff5600 131.5px,#ff6500 133.5px,#ffa300 136.5px,#feff00 139.5px,#3cff00 144.5px,#10ff00 145.5px,#00ff1e 146.5px,#00ffda 150.5px,#00f9ff 151.5px,#00cdff 152.5px,#008dff 155.5px,#008dff 156.5px,#00f3ff 160.5px,#00ffff 161.5px,#00fffc 163.5px,#00ffd5 165.5px,#00ffd4 166.5px,#00fcff 168.5px,#00d8ff 169.5px,#00bcff 171.5px,#0075ff 174.5px,#001ffc 176.5px,#0006fa 177.5px,#0000f5 196.5px)"></i><i style="background:linear-gradient(90deg,#0000f5 0.5px,#0000fa 19.5px,#006cff 22.5px,#0082ff 23.5px,#0091ff 26.5px,#00adff 27.5px,#00fffa 29.5px,#00ffe7 30.5px,#00ffe6 31.5px,#00fff5 32.5px,#00ccff 34.5px,#0084ff 38.5px,#0079ff 39.5px,#008cff 42.5px,#00a5ff 43.5px,#00feff 45.5px,#00ff7b 48.5px,#00ff19 50.5px,#16ff00 51.5px,#e1ff00 56.5px,#fffb00 57.5px,#ff9e00 60.5px,#ff6200 63.5px,#ff5600 65.5px,#ff7600 67.5px,#feff00 72.5px,#cbff00 75.5px,#c3ff00 77.5px,#d6ff00 79.5px,#fff700 81.5px,#ffa000 83.5px,#ff0600 86.5px,#ff0000 109.5px,#ff0f00 110.5px,#ffd800 114.5px,#fffd00 115.5px,#d3ff00 117.5px,#c3ff00 119.5px,#daff00 122.5px,#fffb00 124.5px,#ff7200 129.5px,#ff5500 131.5px,#ff6500 133.5px,#ffa300 136.5px,#fdff00 139.5px,#39ff00 144.5px,#0dff00 145.5px,#00ff22 146.5px,#00ffdd 150.5px,#00f2ff 151.5px,#00c5ff 152.5px,#008bff 155.5px,#008eff 156.5px,#00faff 160.5px,#00f8ff 163.5px,#00ffd6 165.5px,#00ffce 166.5px,#00ffdd 167.5px,#00ffff 168.5px,#00d3ff 169.5px,#00b9ff 171.5px,#0083ff 173.5px,#006fff 174.5px,#0019fb 176.5px,#0000fa 177.5px,#0000f5 196.5px)"></i><i style="background:linear-gradient(90deg,#0000f5 0.5px,#0000fa 19.5px,#0063ff 22.5px,#0078ff 23.5px,#008eff 25.5px,#00afff 27.5px,#00fff4 29.5px,#00ffdf 30.5px,#00ffe3 31.5px,#00fff6 32.5px,#00bcff 35.5px,#0081ff 39.5px,#008bff 42.5px,#00a2ff 43.5px,#00faff 45.5px,#00ff7e 48.5px,#00ff1c 50.5px,#13ff00 51.5px,#dfff00 56.5px,#fffc00 57.5px,#ff9e00 60.5px,#ff6100 63.5px,#ff5400 65.5px,#ff8c00 68.5px,#fffe00 72.5px,#ccff00 75.5px,#c5ff00 77.5px,#d7ff00 79.5px,#fff500 81.5px,#ff9f00 83.5px,#ff0500 86.5px,#ff0000 109.5px,#ff0f00 110.5px,#ffd700 114.5px,#fffc00 115.5px,#d4ff00 117.5px,#c5ff00 119.5px,#dcff00 122.5px,#fff900 124.5px,#ff7000 129.5px,#ff5300 131.5px,#ff6400 133.5px,#ffa300 136.5px,#fbff00 139.5px,#61ff00 143.5px,#0aff00 145.5px,#00ff56 147.5px,#00ffe0 150.5px,#00eeff 151.5px,#00beff 152.5px,#0096ff 154.5px,#008aff 155.5px,#008fff 156.5px,#00fbff 160.5px,#00f8ff 163.5px,#00fff3 164.5px,#00ffd9 165.5px,#00ffcc 166.5px,#00ffd8 167.5px,#00fffa 168.5px,#00d4ff 169.5px,#00baff 171.5px,#007eff 173.5px,#0069ff 174.5px,#001afb 176.5px,#0000fa 177.5px,#0000f5 196.5px)"></i><i style="background:linear-gradient(90deg,#0000f5 0.5px,#0004fa 19.5px,#005fff 22.5px,#0076ff 24.5px,#00abff 26.5px,#00b9ff 27.5px,#00dfff 28.5px,#00ffef 29.5px,#00ffdb 30.5px,#00fff4 32.5px,#00d9ff 34.5px,#00b6ff 36.5px,#008eff 39.5px,#0085ff 41.5px,#008aff 42.5px,#00a1ff 43.5px,#00f6ff 45.5px,#00ffb1 47.5px,#00ff1f 50.5px,#10ff00 51.5px,#deff00 56.5px,#fffd00 57.5px,#ff9e00 60.5px,#ff6100 63.5px,#ff5300 65.5px,#ff7200 67.5px,#fffb00 72.5px,#ceff00 75.5px,#c7ff00 77.5px,#d9ff00 79.5px,#fff400 81.5px,#ff9e00 83.5px,#ff0500 86.5px,#ff0000 109.5px,#ff0e00 110.5px,#ffd500 114.5px,#fffa00 115.5px,#d6ff00 117.5px,#c6ff00 119.5px,#deff00 122.5px,#fff600 124.5px,#ff6e00 129.5px,#ff5200 131.5px,#ff6300 133.5px,#ffa300 136.5px,#faff00 139.5px,#5fff00 143.5px,#07ff00 145.5px,#00ffe3 150.5px,#00eaff 151.5px,#00b9ff 152.5px,#009fff 153.5px,#008dff 155.5px,#0090ff 156.5px,#00f6ff 160.5px,#00fffd 163.5px,#00ffce 166.5px,#00ffd6 167.5px,#00fff3 168.5px,#00dbff 169.5px,#00c3ff 171.5px,#0049fe 175.5px,#0003fa 177.5px,#0000f5 196.5px)"></i><i style="background:linear-gradient(90deg,#0000f5 0.5px,#0000f9 18.5px,#000cfb 19.5px,#0061ff 22.5px,#0075ff 24.5px,#00bcff 26.5px,#00c8ff 27.5px,#00e7ff 28.5px,#00ffec 29.5px,#00ffdc 30.5px,#00fff0 32.5px,#00fbff 33.5px,#00cbff 35.5px,#00bcff 37.5px,#0086ff 41.5px,#008aff 42.5px,#00c6ff 44.5px,#00f2ff 45.5px,#00ffe1 46.5px,#00ff23 50.5px,#0dff00 51.5px,#ddff00 56.5px,#fffe00 57.5px,#ff9e00 60.5px,#ff6000 63.5px,#ff5200 65.5px,#ff8800 68.5px,#fff900 72.5px,#d0ff00 75.5px,#c8ff00 77.5px,#dbff00 79.5px,#efff00 80.5px,#fff200 81.5px,#ff9d00 83.5px,#ff0400 86.5px,#ff0000 109.5px,#ff0d00 110.5px,#ffd400 114.5px,#fff900 115.5px,#ccff00 118.5px,#d2ff00 121.5px,#f3ff00 123.5px,#fff400 124.5px,#ff6c00 129.5px,#ff5100 131.5px,#ff6300 133.5px,#ffa400 136.5px,#f9ff00 139.5px,#31ff00 144.5px,#05ff00 145.5px,#00ffe6 150.5px,#00e8ff 151.5px,#00b6ff 152.5px,#009cff 153.5px,#008fff 156.5px,#00dbff 159.5px,#00fbff 161.5px,#00ffe8 164.5px,#00ffd0 166.5px,#00ffd7 167.5px,#00ffee 168.5px,#00e4ff 169.5px,#00d1ff 171.5px,#000dfb 177.5px,#0000fa 178.5px,#0000f5 196.5px)"></i><i style="background:linear-gradient(90deg,#0000f5 0.5px,#0000f9 18.5px,#0010fb 19.5px,#0068ff 22.5px,#007bff 24.5px,#00cbff 26.5px,#00d8ff 27.5px,#00f3ff 28.5px,#00ffdd 30.5px,#00ffec 32.5px,#00fffc 33.5px,#00d4ff 35.5px,#00c7ff 37.5px,#0085ff 41.5px,#008aff 42.5px,#00edff 45.5px,#00ffe4 46.5px,#00ff27 50.5px,#0aff00 51.5px,#dbff00 56.5px,#ffff00 57.5px,#ff9f00 60.5px,#ff5f00 63.5px,#ff5100 65.5px,#ff6f00 67.5px,#fff700 72.5px,#cbff00 76.5px,#d0ff00 78.5px,#f0ff00 80.5px,#fff100 81.5px,#ff9b00 83.5px,#ff0300 86.5px,#ff0000 109.5px,#ff0d00 110.5px,#ffd200 114.5px,#fff700 115.5px,#ceff00 118.5px,#d4ff00 121.5px,#f5ff00 123.5px,#fff200 124.5px,#ff6a00 129.5px,#ff5000 131.5px,#ff7400 134.5px,#ffc200 137.5px,#f8ff00 139.5px,#5aff00 143.5px,#02ff00 145.5px,#00ffc0 149.5px,#00ffe8 150.5px,#00e6ff 151.5px,#00b3ff 152.5px,#009bff 153.5px,#0090ff 156.5px,#009cff 157.5px,#00d3ff 159.5px,#00f7ff 161.5px,#00ffd6 165.5px,#00ffd6 167.5px,#00ffeb 168.5px,#00ecff 169.5px,#00dfff 170.5px,#00e1ff 171.5px,#00a7ff 173.5px,#0054fe 175.5px,#0000fa 178.5px,#0000f5 196.5px)"></i><i style="background:linear-gradient(90deg,#0000f5 0.5px,#0000f9 18.5px,#0010fb 19.5px,#0070ff 22.5px,#0086ff 24.5px,#00d5ff 26.5px,#00fffc 28.5px,#00ffdd 30.5px,#00ffde 31.5px,#00fffb 33.5px,#00d1ff 36.5px,#00bdff 38.5px,#008fff 40.5px,#0083ff 41.5px,#0089ff 42.5px,#00e9ff 45.5px,#00ffe8 46.5px,#07ff00 51.5px,#daff00 56.5px,#feff00 57.5px,#ff9f00 60.5px,#ff5f00 63.5px,#ff4f00 65.5px,#ff6d00 67.5px,#fff500 72.5px,#e1ff00 74.5px,#ccff00 77.5px,#deff00 79.5px,#f2ff00 80.5px,#ffef00 81.5px,#ff9a00 83.5px,#ff0300 86.5px,#ff0000 109.5px,#ff0c00 110.5px,#ffd100 114.5px,#fff600 115.5px,#d0ff00 118.5px,#ceff00 120.5px,#f7ff00 123.5px,#ffd400 125.5px,#ff6900 129.5px,#ff4f00 131.5px,#ff6200 133.5px,#ffa400 136.5px,#f7ff00 139.5px,#2cff00 144.5px,#00ff01 145.5px,#00ffc3 149.5px,#00ffeb 150.5px,#00e4ff 151.5px,#00b1ff 152.5px,#009aff 153.5px,#0093ff 156.5px,#0099ff 157.5px,#00cbff 159.5px,#00d8ff 160.5px,#00f8ff 161.5px,#00ffdb 163.5px,#00ffcf 166.5px,#00ffd4 167.5px,#00ffe8 168.5px,#00f1ff 169.5px,#00e5ff 170.5px,#00ebff 171.5px,#00b4ff 173.5px,#0057fe 175.5px,#0023fc 177.5px,#0000fa 178.5px,#0000f5 196.5px)"></i><i style="background:linear-gradient(90deg,#0000f5 0.5px,#0000f9 18.5px,#000cfb 19.5px,#0074ff 22.5px,#008bff 23.5px,#0091ff 24.5px,#00d8ff 26.5px,#00f3ff 27.5px,#00ffe1 29.5px,#00ffe0 31.5px,#00fffe 33.5px,#00ceff 36.5px,#00baff 38.5px,#0088ff 40.5px,#0081ff 41.5px,#0087ff 42.5px,#00e4ff 45.5px,#00ffeb 46.5px,#04ff00 51.5px,#d8ff00 56.5px,#fdff00 57.5px,#ff8600 61.5px,#ff5200 64.5px,#ff4e00 65.5px,#ff6b00 67.5px,#fff200 72.5px,#f5ff00 73.5px,#cfff00 76.5px,#d3ff00 78.5px,#f3ff00 80.5px,#ffee00 81.5px,#ff9900 83.5px,#ff0200 86.5px,#ff0000 109.5px,#ff0b00 110.5px,#ffd000 114.5px,#fff400 115.5px,#dcff00 117.5px,#cdff00 119.5px,#e6ff00 122.5px,#f9ff00 123.5px,#ffd200 125.5px,#ff6700 129.5px,#ff4d00 131.5px,#ff7400 134.5px,#ffc300 137.5px,#f6ff00 139.5px,#00ff05 145.5px,#00ffc7 149.5px,#00ffee 150.5px,#00e0ff 151.5px,#00b0ff 152.5px,#0099ff 153.5px,#009bff 157.5px,#00b8ff 158.5px,#00d4ff 160.5px,#00faff 161.5px,#00ffd5 163.5px,#00ffd0 167.5px,#00f4ff 169.5px,#00e5ff 170.5px,#00eaff 171.5px,#00b5ff 173.5px,#0058fe 175.5px,#0029fc 177.5px,#0003fa 178.5px,#0000f5 196.5px)"></i><i style="background:linear-gradient(90deg,#0000f5 0.5px,#0004fa 19.5px,#0045fd 21.5px,#0073ff 22.5px,#0090ff 23.5px,#009aff 24.5px,#00f6ff 27.5px,#00ffdb 29.5px,#00ffe2 31.5px,#00fbff 33.5px,#00c5ff 36.5px,#00b1ff 38.5px,#0082ff 40.5px,#0083ff 42.5px,#00dfff 45.5px,#00ffef 46.5px,#00ff00 51.5px,#d7ff00 56.5px,#fbff00 57.5px,#ff8600 61.5px,#ff5100 64.5px,#ff4d00 65.5px,#ff6900 67.5px,#fff000 72.5px,#f7ff00 73.5px,#d0ff00 76.5px,#d4ff00 78.5px,#f5ff00 80.5px,#ffec00 81.5px,#ff9800 83.5px,#ff0200 86.5px,#ff0000 109.5px,#ff0b00 110.5px,#ffce00 114.5px,#fff300 115.5px,#deff00 117.5px,#cfff00 119.5px,#daff00 121.5px,#fbff00 123.5px,#ffb300 126.5px,#ff6500 129.5px,#ff4c00 131.5px,#ff6100 133.5px,#ffa500 136.5px,#ffe600 138.5px,#f4ff00 139.5px,#26ff00 144.5px,#00ff08 145.5px,#00ffcb 149.5px,#00fff3 150.5px,#00aeff 152.5px,#0096ff 153.5px,#009dff 155.5px,#00a5ff 157.5px,#00cdff 159.5px,#00d6ff 160.5px,#00fcff 161.5px,#00ffd2 163.5px,#00ffcc 167.5px,#00f5ff 169.5px,#00e0ff 170.5px,#00e1ff 171.5px,#00aeff 173.5px,#0056fe 175.5px,#002bfc 177.5px,#0005fa 178.5px,#0000f5 196.5px)"></i><i style="background:linear-gradient(90deg,#0000f5 0.5px,#0000fa 19.5px,#0014fb 20.5px,#003afd 21.5px,#006fff 22.5px,#0093ff 23.5px,#00a0ff 24.5px,#00ceff 26.5px,#00f2ff 27.5px,#00ffe8 28.5px,#00ffd9 29.5px,#00ffe4 31.5px,#00fcff 33.5px,#00f0ff 34.5px,#00bbff 36.5px,#00a8ff 38.5px,#008eff 39.5px,#007dff 41.5px,#007eff 42.5px,#00b4ff 44.5px,#00fff3 46.5px,#00ff03 51.5px,#d5ff00 56.5px,#faff00 57.5px,#ff8600 61.5px,#ff5100 64.5px,#ff4c00 65.5px,#ff6800 67.5px,#ffee00 72.5px,#f9ff00 73.5px,#d2ff00 76.5px,#d6ff00 78.5px,#f6ff00 80.5px,#ffeb00 81.5px,#ff9600 83.5px,#ff0100 86.5px,#ff0000 109.5px,#ff0a00 110.5px,#ffcd00 114.5px,#fff100 115.5px,#f2ff00 116.5px,#d4ff00 118.5px,#d3ff00 120.5px,#fdff00 123.5px,#ff6400 129.5px,#ff4b00 131.5px,#ff7400 134.5px,#ffc500 137.5px,#f3ff00 139.5px,#50ff00 143.5px,#00ff0c 145.5px,#00ffd0 149.5px,#00fff8 150.5px,#00abff 152.5px,#0091ff 153.5px,#008dff 154.5px,#00b2ff 157.5px,#00d9ff 159.5px,#00dfff 160.5px,#00fdff 161.5px,#00ffd1 163.5px,#00ffd4 165.5px,#00ffc9 167.5px,#00f6ff 169.5px,#00daff 170.5px,#00d5ff 171.5px,#00a7ff 173.5px,#0085ff 174.5px,#0053fe 175.5px,#0037fd 176.5px,#0029fc 177.5px,#0005fa 178.5px,#0000f5 196.5px)"></i><i style="background:linear-gradient(90deg,#0000f5 0.5px,#0000fa 19.5px,#000afa 20.5px,#0030fc 21.5px,#0069ff 22.5px,#0092ff 23.5px,#00bfff 25.5px,#00caff 26.5px,#00eaff 27.5px,#00ffee 28.5px,#00ffdd 29.5px,#00ffee 32.5px,#00f7ff 34.5px,#00b6ff 36.5px,#007aff 41.5px,#0076ff 42.5px,#00acff 44.5px,#00fff8 46.5px,#00ff3a 50.5px,#00ff07 51.5px,#f9ff00 57.5px,#ff8600 61.5px,#ff5000 64.5px,#ff4a00 65.5px,#ff6600 67.5px,#ffec00 72.5px,#fbff00 73.5px,#d4ff00 76.5px,#d8ff00 78.5px,#f8ff00 80.5px,#ffe900 81.5px,#ff9500 83.5px,#ff0000 86.5px,#ff0000 109.5px,#ff0a00 110.5px,#ffcb00 114.5px,#fff000 115.5px,#f3ff00 116.5px,#d6ff00 118.5px,#d5ff00 120.5px,#ffff00 123.5px,#ff6200 129.5px,#ff4a00 131.5px,#ff7300 134.5px,#ffc500 137.5px,#ffe800 138.5px,#f2ff00 139.5px,#20ff00 144.5px,#00ff10 145.5px,#00ffd5 149.5px,#00fffd 150.5px,#00a7ff 152.5px,#008cff 153.5px,#0086ff 154.5px,#00e6ff 159.5px,#00ecff 160.5px,#00ffff 161.5px,#00ffd2 163.5px,#00ffc6 167.5px,#00ffd9 168.5px,#00f9ff 169.5px,#00d5ff 170.5px,#00bcff 172.5px,#0082ff 174.5px,#0050fe 175.5px,#0031fc 176.5px,#0028fc 177.5px,#0007fa 178.5px,#0000f5 185.5px,#0000f5 196.5px)"></i><i style="background:linear-gradient(90deg,#0000f5 0.5px,#0000fa 19.5px,#000afb 20.5px,#002cfc 21.5px,#0092ff 23.5px,#00c5ff 25.5px,#00ccff 26.5px,#00fff8 28.5px,#00ffe5 29.5px,#00ffe5 32.5px,#00fffc 34.5px,#00baff 36.5px,#0087ff 40.5px,#006fff 42.5px,#0081ff 43.5px,#00d0ff 45.5px,#00fffc 46.5px,#00ff71 49.5px,#00ff0a 51.5px,#53ff00 53.5px,#f8ff00 57.5px,#ff8600 61.5px,#ff4f00 64.5px,#ff4900 65.5px,#ff6400 67.5px,#fdff00 73.5px,#d6ff00 76.5px,#d9ff00 78.5px,#f9ff00 80.5px,#ffe800 81.5px,#ff9400 83.5px,#ff0000 86.5px,#ff0000 109.5px,#ff0900 110.5px,#ffca00 114.5px,#ffee00 115.5px,#f5ff00 116.5px,#d8ff00 118.5px,#d7ff00 120.5px,#fffc00 123.5px,#ff6000 129.5px,#ff4900 131.5px,#ff7300 134.5px,#ffc600 137.5px,#ffe900 138.5px,#f0ff00 139.5px,#1dff00 144.5px,#00ff14 145.5px,#00ffd9 149.5px,#00fcff 150.5px,#00a3ff 152.5px,#0089ff 153.5px,#0081ff 154.5px,#00aaff 156.5px,#00f3ff 159.5px,#00fffe 161.5px,#00ffd3 163.5px,#00ffc1 166.5px,#00ffc2 167.5px,#00ffd5 168.5px,#00ffff 169.5px,#00d3ff 170.5px,#00bbff 172.5px,#007dff 174.5px,#004dfe 175.5px,#002ffc 176.5px,#0029fc 177.5px,#000bfb 178.5px,#0000f7 180.5px,#0000f5 196.5px)"></i><i style="background:linear-gradient(90deg,#0000f5 0.5px,#0000fa 19.5px,#0030fc 21.5px,#0093ff 23.5px,#00d0ff 25.5px,#00e1ff 27.5px,#00feff 28.5px,#00ffe3 30.5px,#00ffdd 32.5px,#00fff2 34.5px,#00e9ff 35.5px,#00c4ff 36.5px,#00acff 37.5px,#00a5ff 39.5px,#0073ff 41.5px,#006bff 42.5px,#007bff 43.5px,#00cbff 45.5px,#00feff 46.5px,#00ffa8 48.5px,#00ff0e 51.5px,#22ff00 52.5px,#d0ff00 56.5px,#f6ff00 57.5px,#ffa100 60.5px,#ff5c00 63.5px,#ff4800 65.5px,#ff6300 67.5px,#ffff00 73.5px,#d8ff00 76.5px,#dbff00 78.5px,#fbff00 80.5px,#ffe600 81.5px,#ff9300 83.5px,#ff0000 86.5px,#ff0000 109.5px,#ff0800 110.5px,#ffc900 114.5px,#ffed00 115.5px,#f6ff00 116.5px,#d9ff00 118.5px,#e2ff00 121.5px,#fffa00 123.5px,#ff5f00 129.5px,#ff4800 131.5px,#ff7300 134.5px,#ffc700 137.5px,#ffea00 138.5px,#efff00 139.5px,#1aff00 144.5px,#00ff17 145.5px,#00ffdd 149.5px,#00f7ff 150.5px,#00a0ff 152.5px,#0088ff 153.5px,#0080ff 154.5px,#008eff 155.5px,#00faff 159.5px,#00fffc 161.5px,#00ffbe 164.5px,#00ffb5 166.5px,#00ffd3 168.5px,#00fffd 169.5px,#00d2ff 170.5px,#00bfff 171.5px,#00b9ff 172.5px,#009eff 173.5px,#004afe 175.5px,#0032fd 176.5px,#002ffc 177.5px,#0011fb 178.5px,#0000f9 179.5px,#0000f5 196.5px)"></i><i style="background:linear-gradient(90deg,#0000f5 0.5px,#0006fa 19.5px,#0038fd 21.5px,#005fff 22.5px,#00c3ff 24.5px,#00ddff 25.5px,#00e7ff 27.5px,#00fbff 28.5px,#00ffd9 31.5px,#00ffe8 34.5px,#00f8ff 35.5px,#00b0ff 37.5px,#00b0ff 39.5px,#0075ff 41.5px,#006dff 42.5px,#007aff 43.5px,#0098ff 44.5px,#00fbff 46.5px,#00ffac 48.5px,#00ff11 51.5px,#1fff00 52.5px,#ceff00 56.5px,#f5ff00 57.5px,#ffc100 59.5px,#ff6f00 62.5px,#ff4e00 64.5px,#ff4700 65.5px,#ff6100 67.5px,#fffd00 73.5px,#d9ff00 76.5px,#dcff00 78.5px,#fcff00 80.5px,#ffbf00 82.5px,#ff0000 86.5px,#ff0000 109.5px,#ff0800 110.5px,#ffc700 114.5px,#ffeb00 115.5px,#f8ff00 116.5px,#dbff00 118.5px,#dbff00 120.5px,#fff800 123.5px,#ff5d00 129.5px,#ff4700 131.5px,#ff7300 134.5px,#ffc800 137.5px,#ffeb00 138.5px,#edff00 139.5px,#17ff00 144.5px,#00ff1b 145.5px,#00ffdf 149.5px,#00f2ff 150.5px,#00c1ff 151.5px,#009fff 152.5px,#008aff 153.5px,#0082ff 154.5px,#008fff 155.5px,#00faff 159.5px,#00fffb 161.5px,#00ffee 162.5px,#00ffb5 164.5px,#00ffa5 165.5px,#00ffab 166.5px,#00ffd6 168.5px,#00fffd 169.5px,#00d3ff 170.5px,#00beff 171.5px,#00b7ff 172.5px,#009aff 173.5px,#0048fe 175.5px,#0039fd 176.5px,#0037fd 177.5px,#0000f9 179.5px,#0000f5 196.5px)"></i><i style="background:linear-gradient(90deg,#0000f5 0.5px,#0000f9 18.5px,#000efb 19.5px,#003efd 21.5px,#0060ff 22.5px,#00cdff 24.5px,#00e7ff 25.5px,#00fffc 28.5px,#00ffdc 30.5px,#00ffdb 33.5px,#00ffe2 34.5px,#00fff9 35.5px,#00b7ff 37.5px,#00b8ff 39.5px,#007bff 41.5px,#0074ff 42.5px,#007fff 43.5px,#009aff 44.5px,#00f8ff 46.5px,#00ffb0 48.5px,#00ff15 51.5px,#1cff00 52.5px,#f3ff00 57.5px,#ffc200 59.5px,#ff6f00 62.5px,#ff4d00 64.5px,#ff4600 65.5px,#ff5f00 67.5px,#fffa00 73.5px,#dbff00 76.5px,#deff00 78.5px,#feff00 80.5px,#ffbe00 82.5px,#ff0000 86.5px,#ff0000 109.5px,#ff0700 110.5px,#ffc600 114.5px,#ffea00 115.5px,#f9ff00 116.5px,#ddff00 118.5px,#dcff00 120.5px,#fff600 123.5px,#ff5b00 129.5px,#ff4700 131.5px,#ff7300 134.5px,#ffc900 137.5px,#ffec00 138.5px,#ecff00 139.5px,#13ff00 144.5px,#00ff1f 145.5px,#00ffe1 149.5px,#00efff 150.5px,#00bfff 151.5px,#008bff 153.5px,#0083ff 154.5px,#00abff 156.5px,#00f1ff 159.5px,#00fffd 160.5px,#00ffee 162.5px,#00ffb0 164.5px,#00ff9d 165.5px,#00ffa7 166.5px,#00fffe 169.5px,#00d7ff 170.5px,#00b8ff 172.5px,#0098ff 173.5px,#0069ff 174.5px,#004afe 175.5px,#003efd 177.5px,#0000f9 179.5px,#0000f5 196.5px)"></i><i style="background:linear-gradient(90deg,#0000f5 0.5px,#0000fa 18.5px,#0040fd 21.5px,#0061ff 22.5px,#00d1ff 24.5px,#00ebff 25.5px,#00faff 27.5px,#00ffd4 30.5px,#00ffdf 34.5px,#00ffef 35.5px,#00edff 36.5px,#00c1ff 37.5px,#00bdff 39.5px,#0085ff 41.5px,#007dff 42.5px,#0087ff 43.5px,#009fff 44.5px,#00f5ff 46.5px,#00ffe0 47.5px,#00ff18 51.5px,#19ff00 52.5px,#cbff00 56.5px,#f2ff00 57.5px,#ffe600 58.5px,#ff8600 61.5px,#ff4d00 64.5px,#ff4500 65.5px,#ff5e00 67.5px,#fff800 73.5px,#ddff00 76.5px,#e0ff00 78.5px,#ffff00 80.5px,#ffbc00 82.5px,#ff0000 86.5px,#ff0000 109.5px,#ff0700 110.5px,#ffc500 114.5px,#fbff00 116.5px,#deff00 118.5px,#e7ff00 121.5px,#fff400 123.5px,#ff5a00 129.5px,#ff4600 131.5px,#ff7300 134.5px,#ffca00 137.5px,#ffee00 138.5px,#eaff00 139.5px,#3fff00 143.5px,#10ff00 144.5px,#00ff23 145.5px,#00ffba 148.5px,#00ffe4 149.5px,#00edff 150.5px,#00bfff 151.5px,#008bff 153.5px,#0083ff 154.5px,#00beff 157.5px,#00e2ff 159.5px,#00f9ff 160.5px,#00fffd 161.5px,#00ffed 162.5px,#00ffb0 164.5px,#00ff9b 165.5px,#00ffa8 166.5px,#00ffcf 167.5px,#00fffe 169.5px,#00cdff 171.5px,#00bcff 172.5px,#006dff 174.5px,#004ffe 175.5px,#003ffd 177.5px,#0019fb 178.5px,#0000f9 179.5px,#0000f5 196.5px)"></i><i style="background:linear-gradient(90deg,#0000f5 0.5px,#0000fa 18.5px,#0040fd 21.5px,#0063ff 22.5px,#00a2ff 23.5px,#00d0ff 24.5px,#00e8ff 25.5px,#00fffe 27.5px,#00ffcc 30.5px,#00ffe6 35.5px,#00fdff 36.5px,#00ceff 37.5px,#00beff 39.5px,#008cff 41.5px,#0084ff 42.5px,#008eff 43.5px,#00c4ff 45.5px,#00f1ff 46.5px,#00ffe3 47.5px,#00ff51 50.5px,#00ff1c 51.5px,#16ff00 52.5px,#c9ff00 56.5px,#f0ff00 57.5px,#ffe700 58.5px,#ff8700 61.5px,#ff4c00 64.5px,#ff4400 65.5px,#ff5c00 67.5px,#fff600 73.5px,#dfff00 76.5px,#e1ff00 78.5px,#fffd00 80.5px,#ffbb00 82.5px,#ff0000 86.5px,#ff0600 110.5px,#ffc300 114.5px,#fcff00 116.5px,#e0ff00 118.5px,#e9ff00 121.5px,#f8ff00 122.5px,#ffd900 124.5px,#ff5800 129.5px,#ff4500 131.5px,#ff5e00 133.5px,#ffa900 136.5px,#ffef00 138.5px,#e9ff00 139.5px,#0dff00 144.5px,#00ff27 145.5px,#00ffbd 148.5px,#00ffe7 149.5px,#00ecff 150.5px,#00c1ff 151.5px,#008cff 153.5px,#0083ff 154.5px,#00b2ff 156.5px,#00beff 158.5px,#00fffe 161.5px,#00ff9d 165.5px,#00ffad 166.5px,#00ffd7 167.5px,#00fffb 169.5px,#00c3ff 172.5px,#0074ff 174.5px,#0057fe 175.5px,#003dfd 177.5px,#0014fb 178.5px,#0000f9 179.5px,#0000f5 196.5px)"></i><i style="background:linear-gradient(90deg,#0000f5 0.5px,#0000fa 18.5px,#0042fd 21.5px,#0069ff 22.5px,#00a3ff 23.5px,#00ccff 24.5px,#00fffa 27.5px,#00ffc5 30.5px,#00ffcb 32.5px,#00ffdf 35.5px,#00fff6 36.5px,#00ddff 37.5px,#00bbff 39.5px,#008eff 41.5px,#0086ff 42.5px,#00a6ff 44.5px,#00c1ff 45.5px,#00ebff 46.5px,#00ffe7 47.5px,#00ff55 50.5px,#00ff20 51.5px,#13ff00 52.5px,#efff00 57.5px,#ffe900 58.5px,#ff8700 61.5px,#ff4b00 64.5px,#ff4300 65.5px,#ff5a00 67.5px,#fff400 73.5px,#e9ff00 75.5px,#deff00 77.5px,#fffc00 80.5px,#ffba00 82.5px,#ff0000 86.5px,#ff0500 110.5px,#ffc200 114.5px,#feff00 116.5px,#e1ff00 118.5px,#e2ff00 120.5px,#faff00 122.5px,#ffd700 124.5px,#ff6b00 128.5px,#ff4800 130.5px,#ff4400 131.5px,#ff7300 134.5px,#ffcc00 137.5px,#fff000 138.5px,#e7ff00 139.5px,#39ff00 143.5px,#09ff00 144.5px,#00ff92 147.5px,#00ffea 149.5px,#00ebff 150.5px,#00a5ff 152.5px,#008dff 153.5px,#0087ff 154.5px,#00b7ff 156.5px,#00b8ff 158.5px,#00fffd 161.5px,#00ffb2 164.5px,#00ff9f 165.5px,#00ffb0 166.5px,#00ffd9 167.5px,#00faff 170.5px,#00cbff 172.5px,#0079ff 174.5px,#005eff 175.5px,#003cfd 177.5px,#0011fb 178.5px,#0000f9 179.5px,#0000f5 196.5px)"></i><i style="background:linear-gradient(90deg,#0000f5 0.5px,#0000fa 18.5px,#0048fe 21.5px,#00a3ff 23.5px,#00dfff 25.5px,#00fff3 27.5px,#00ffbf 30.5px,#00ffbb 31.5px,#00ffd8 35.5px,#00ffef 36.5px,#00e8ff 37.5px,#00d4ff 38.5px,#0097ff 40.5px,#0086ff 42.5px,#008fff 43.5px,#00c1ff 45.5px,#00e9ff 46.5px,#00ffe8 47.5px,#00ff57 50.5px,#00ff21 51.5px,#12ff00 52.5px,#efff00 57.5px,#ffe800 58.5px,#ff8600 61.5px,#ff4a00 64.5px,#ff4200 65.5px,#ff5900 67.5px,#fff200 73.5px,#f9ff00 74.5px,#e2ff00 76.5px,#e4ff00 78.5px,#fffb00 80.5px,#ffb900 82.5px,#ff0000 86.5px,#ff0500 110.5px,#ffc100 114.5px,#ffff00 116.5px,#e3ff00 118.5px,#e3ff00 120.5px,#fcff00 122.5px,#ffba00 125.5px,#ff5500 129.5px,#ff4300 131.5px,#ff7200 134.5px,#ffcb00 137.5px,#fff000 138.5px,#e7ff00 139.5px,#09ff00 144.5px,#00ff93 147.5px,#00ffeb 149.5px,#00ecff 150.5px,#00a7ff 152.5px,#0092ff 153.5px,#008fff 154.5px,#00bcff 156.5px,#00bbff 158.5px,#00fff8 161.5px,#00ffc0 163.5px,#00ff9e 165.5px,#00ffb0 166.5px,#00ffd8 167.5px,#00fffb 170.5px,#00eeff 171.5px,#00d0ff 172.5px,#0079ff 174.5px,#003cfd 177.5px,#0010fb 178.5px,#0000f9 179.5px,#0000f5 196.5px)"></i><i style="background:linear-gradient(90deg,#0000f5 0.5px,#0000fa 18.5px,#0012fb 19.5px,#0051fe 21.5px,#00c4ff 24.5px,#00fdff 26.5px,#00ffd4 28.5px,#00ffbb 30.5px,#00ffc6 33.5px,#00ffd4 35.5px,#00ffee 36.5px,#00edff 37.5px,#00d3ff 38.5px,#00a9ff 39.5px,#008cff 40.5px,#0087ff 42.5px,#008eff 43.5px,#00c1ff 45.5px,#00e8ff 46.5px,#00ffe9 47.5px,#00ff21 51.5px,#13ff00 52.5px,#f0ff00 57.5px,#ffe700 58.5px,#ff8500 61.5px,#ff4900 64.5px,#ff4100 65.5px,#ff5700 67.5px,#fff000 73.5px,#faff00 74.5px,#e3ff00 76.5px,#e5ff00 78.5px,#fffa00 80.5px,#ffb800 82.5px,#ff0000 86.5px,#ff0500 110.5px,#ffc000 114.5px,#ffff00 116.5px,#e4ff00 118.5px,#e5ff00 120.5px,#feff00 122.5px,#ff9c00 126.5px,#ff5400 129.5px,#ff4100 131.5px,#ff7100 134.5px,#ffca00 137.5px,#ffef00 138.5px,#e8ff00 139.5px,#0aff00 144.5px,#00ff60 146.5px,#00ffeb 149.5px,#00edff 150.5px,#00a7ff 152.5px,#0096ff 153.5px,#0095ff 154.5px,#00beff 156.5px,#00c6ff 158.5px,#00f7ff 160.5px,#00ffef 161.5px,#00ffb9 163.5px,#00ff9c 165.5px,#00ffaf 166.5px,#00ffd6 167.5px,#00fff8 170.5px,#00efff 171.5px,#00cfff 172.5px,#0074ff 174.5px,#005bff 176.5px,#003efd 177.5px,#0011fb 178.5px,#0000f9 179.5px,#0000f5 196.5px)"></i><i style="background:linear-gradient(90deg,#0000f5 0.5px,#0000fa 18.5px,#0013fb 19.5px,#00e2ff 25.5px,#00fff9 26.5px,#00ffce 28.5px,#00ffb9 30.5px,#00ffc4 34.5px,#00fff0 36.5px,#00ebff 37.5px,#00ccff 38.5px,#009eff 39.5px,#0083ff 40.5px,#008cff 43.5px,#00c2ff 45.5px,#00e9ff 46.5px,#00ffe9 47.5px,#00ff20 51.5px,#13ff00 52.5px,#f1ff00 57.5px,#ffe600 58.5px,#ff8400 61.5px,#ff4800 64.5px,#ff3f00 65.5px,#ff5600 67.5px,#ffef00 73.5px,#fcff00 74.5px,#e5ff00 76.5px,#e6ff00 78.5px,#fff900 80.5px,#ffb800 82.5px,#ff0000 86.5px,#ff0500 110.5px,#ffc000 114.5px,#fffe00 116.5px,#e5ff00 118.5px,#e6ff00 120.5px,#ffff00 122.5px,#ff9a00 126.5px,#ff5200 129.5px,#ff4000 131.5px,#ff7000 134.5px,#ffc900 137.5px,#ffee00 138.5px,#e9ff00 139.5px,#3aff00 143.5px,#0aff00 144.5px,#00ff5f 146.5px,#00ffec 149.5px,#00edff 150.5px,#00a4ff 152.5px,#0096ff 154.5px,#00d1ff 158.5px,#00fffa 160.5px,#00ffb0 163.5px,#00ff9c 165.5px,#00ffaf 166.5px,#00ffd4 167.5px,#00ffe5 169.5px,#00fff9 170.5px,#00c7ff 172.5px,#0070ff 174.5px,#005eff 176.5px,#003efd 177.5px,#000ffb 178.5px,#0000f9 179.5px,#0000f5 196.5px)"></i><i style="background:linear-gradient(90deg,#0000f5 0.5px,#0000fa 18.5px,#0015fb 19.5px,#00e2ff 25.5px,#00fff5 26.5px,#00ffcb 28.5px,#00ffbb 30.5px,#00ffc5 32.5px,#00ffc2 34.5px,#00fff6 36.5px,#00c3ff 38.5px,#0096ff 39.5px,#007fff 40.5px,#008bff 43.5px,#00c2ff 45.5px,#00e9ff 46.5px,#00ffe9 47.5px,#00ff20 51.5px,#14ff00 52.5px,#f2ff00 57.5px,#ffe500 58.5px,#ff8300 61.5px,#ff4600 64.5px,#ff3e00 65.5px,#ff5400 67.5px,#ffed00 73.5px,#fdff00 74.5px,#e3ff00 77.5px,#fff800 80.5px,#ffb700 82.5px,#ff0000 86.5px,#ff0400 110.5px,#ffbf00 114.5px,#fffd00 116.5px,#e6ff00 118.5px,#e7ff00 120.5px,#fffd00 122.5px,#ff5100 129.5px,#ff3f00 131.5px,#ff6f00 134.5px,#ffc800 137.5px,#ffed00 138.5px,#eaff00 139.5px,#0bff00 144.5px,#00ff29 145.5px,#00ffc4 148.5px,#00ffed 149.5px,#00ebff 150.5px,#00a1ff 152.5px,#0092ff 154.5px,#00bcff 157.5px,#00f9ff 159.5px,#00ffd7 161.5px,#00ffa7 163.5px,#00ff9f 165.5px,#00ffb1 166.5px,#00ffd3 167.5px,#00ffe4 169.5px,#00fffc 170.5px,#0071ff 174.5px,#005fff 176.5px,#000afb 178.5px,#0000f8 180.5px,#0000f5 196.5px)"></i><i style="background:linear-gradient(90deg,#0000f5 0.5px,#0000fa 18.5px,#0014fb 19.5px,#00ddff 25.5px,#00fff8 26.5px,#00ffcc 28.5px,#00ffbe 29.5px,#00ffbe 30.5px,#00ffcb 31.5px,#00ffc0 33.5px,#00ffc4 34.5px,#00fffc 36.5px,#0093ff 39.5px,#007fff 40.5px,#008aff 43.5px,#00c2ff 45.5px,#00eaff 46.5px,#00ffe9 47.5px,#00ff1f 51.5px,#14ff00 52.5px,#caff00 56.5px,#f3ff00 57.5px,#ffc000 59.5px,#ff6900 62.5px,#ff4500 64.5px,#ff3d00 65.5px,#ff5300 67.5px,#ffff00 74.5px,#e4ff00 77.5px,#fff700 80.5px,#ffb600 82.5px,#ff0000 86.5px,#ff0400 110.5px,#ffbe00 114.5px,#fffc00 116.5px,#e7ff00 118.5px,#f3ff00 121.5px,#fffc00 122.5px,#ff4f00 129.5px,#ff3e00 131.5px,#ff6e00 134.5px,#ffc700 137.5px,#ffec00 138.5px,#ebff00 139.5px,#0bff00 144.5px,#00ff29 145.5px,#00ffc4 148.5px,#00ffee 149.5px,#00eaff 150.5px,#00bdff 151.5px,#009eff 152.5px,#008dff 154.5px,#00a4ff 156.5px,#00b7ff 157.5px,#00feff 159.5px,#00ffcf 161.5px,#00ffad 162.5px,#00ff9e 163.5px,#00ffa5 165.5px,#00ffb3 166.5px,#00ffcf 167.5px,#00ffe3 169.5px,#00fffe 170.5px,#0077ff 174.5px,#005cff 176.5px,#0003fa 178.5px,#0000f5 196.5px)"></i><i style="background:linear-gradient(90deg,#0000f5 0.5px,#0000fa 18.5px,#0013fb 19.5px,#007fff 22.5px,#00bdff 24.5px,#00fffe 26.5px,#00ffbf 29.5px,#00ffcc 32.5px,#00ffc4 33.5px,#00ffcb 34.5px,#00feff 36.5px,#0095ff 39.5px,#0083ff 40.5px,#008bff 43.5px,#00c2ff 45.5px,#00e9ff 46.5px,#00ffe9 47.5px,#00ff1f 51.5px,#15ff00 52.5px,#f4ff00 57.5px,#ffbf00 59.5px,#ff6800 62.5px,#ff4400 64.5px,#ff3c00 65.5px,#ff5200 67.5px,#fffe00 74.5px,#e6ff00 77.5px,#fff700 80.5px,#ffb600 82.5px,#ff2700 85.5px,#ff0000 86.5px,#ff0400 110.5px,#ffbe00 114.5px,#fffb00 116.5px,#e8ff00 118.5px,#f4ff00 121.5px,#fffa00 122.5px,#ff4e00 129.5px,#ff3c00 131.5px,#ff6c00 134.5px,#ffc600 137.5px,#ffeb00 138.5px,#ecff00 139.5px,#0cff00 144.5px,#00ff28 145.5px,#00ffc4 148.5px,#00ffee 149.5px,#00eaff 150.5px,#00baff 151.5px,#009bff 152.5px,#0089ff 154.5px,#009dff 156.5px,#00d9ff 158.5px,#00faff 159.5px,#00fff0 160.5px,#00ffa5 162.5px,#00ff97 163.5px,#00ffb3 166.5px,#00ffd9 168.5px,#00ffe0 169.5px,#00fffb 170.5px,#0098ff 173.5px,#0056fe 176.5px,#0000fa 178.5px,#0000f5 196.5px)"></i><i style="background:linear-gradient(90deg,#0000f5 0.5px,#0001fa 18.5px,#0011fb 19.5px,#0056fe 21.5px,#00a9ff 23.5px,#00f8ff 26.5px,#00ffc2 29.5px,#00ffc6 33.5px,#00ffe7 35.5px,#00fbff 36.5px,#00b6ff 38.5px,#008eff 40.5px,#0085ff 42.5px,#00a7ff 44.5px,#00eaff 46.5px,#00ffe8 47.5px,#00ff1e 51.5px,#15ff00 52.5px,#ccff00 56.5px,#f4ff00 57.5px,#ffbe00 59.5px,#ff6700 62.5px,#ff4300 64.5px,#ff3b00 65.5px,#ff5000 67.5px,#fffc00 74.5px,#e7ff00 77.5px,#fff600 80.5px,#ffb500 82.5px,#ff2700 85.5px,#ff0000 86.5px,#ff0400 110.5px,#ffbd00 114.5px,#fffa00 116.5px,#e7ff00 119.5px,#fff800 122.5px,#ff4d00 129.5px,#ff3b00 131.5px,#ff6b00 134.5px,#ffc500 137.5px,#ffea00 138.5px,#edff00 139.5px,#0cff00 144.5px,#00ff28 145.5px,#00ffc3 148.5px,#00ffed 149.5px,#00ebff 150.5px,#00bbff 151.5px,#009cff 152.5px,#0088ff 154.5px,#008aff 155.5px,#00b8ff 157.5px,#00f1ff 159.5px,#00fffa 160.5px,#00ffa1 162.5px,#00ff91 163.5px,#00ffae 165.5px,#00ffb1 166.5px,#00ffd5 168.5px,#00ffdd 169.5px,#00fff7 170.5px,#00c6ff 172.5px,#0086ff 174.5px,#0050fe 176.5px,#0000fa 178.5px,#0000f5 196.5px)"></i><i style="background:linear-gradient(90deg,#0000f5 0.5px,#0000fa 18.5px,#000ffb 19.5px,#002cfc 20.5px,#00b0ff 23.5px,#00e2ff 25.5px,#00fff3 27.5px,#00ffc4 29.5px,#00ffbb 30.5px,#00ffc5 33.5px,#00fbff 36.5px,#00beff 38.5px,#0090ff 41.5px,#0097ff 43.5px,#00c5ff 45.5px,#00ebff 46.5px,#00ffe8 47.5px,#00ff1e 51.5px,#16ff00 52.5px,#cdff00 56.5px,#f5ff00 57.5px,#ffbd00 59.5px,#ff6500 62.5px,#ff4100 64.5px,#ff3f00 66.5px,#ff7d00 69.5px,#fffa00 74.5px,#e8ff00 77.5px,#f6ff00 79.5px,#fff500 80.5px,#ffb500 82.5px,#ff2700 85.5px,#ff0000 86.5px,#ff0400 110.5px,#ffbd00 114.5px,#fff900 116.5px,#e8ff00 119.5px,#fff700 122.5px,#ff4b00 129.5px,#ff3a00 131.5px,#ff6a00 134.5px,#ffc400 137.5px,#ffe900 138.5px,#edff00 139.5px,#0dff00 144.5px,#00ff27 145.5px,#00ffc2 148.5px,#00ffec 149.5px,#00ecff 150.5px,#00bdff 151.5px,#009fff 152.5px,#0086ff 154.5px,#0089ff 155.5px,#00d7ff 158.5px,#00f9ff 160.5px,#00ffdb 161.5px,#00ffa3 162.5px,#00ff8e 163.5px,#00ffb1 165.5px,#00ffaf 166.5px,#00ffd9 169.5px,#00fff2 170.5px,#00edff 171.5px,#00a4ff 173.5px,#004cfe 176.5px,#0004fa 178.5px,#0000f5 196.5px)"></i><i style="background:linear-gradient(90deg,#0000f5 0.5px,#0000fa 18.5px,#000cfb 19.5px,#0027fc 20.5px,#008fff 22.5px,#00d4ff 24.5px,#00e9ff 25.5px,#00fffa 27.5px,#00ffc5 29.5px,#00ffb4 30.5px,#00ffc0 33.5px,#00feff 36.5px,#00cbff 38.5px,#009cff 41.5px,#009fff 43.5px,#00c9ff 45.5px,#00edff 46.5px,#00ffe6 47.5px,#00ff1d 51.5px,#16ff00 52.5px,#ceff00 56.5px,#f6ff00 57.5px,#ff9a00 60.5px,#ff5000 63.5px,#ff3900 65.5px,#ff4d00 67.5px,#fff900 74.5px,#e9ff00 77.5px,#f7ff00 79.5px,#fff400 80.5px,#ffb400 82.5px,#ff0000 86.5px,#ff0300 110.5px,#ffbc00 114.5px,#fff900 116.5px,#e9ff00 119.5px,#f9ff00 121.5px,#ffe000 123.5px,#ff4a00 129.5px,#ff3900 131.5px,#ff6900 134.5px,#ffc300 137.5px,#ffe800 138.5px,#eeff00 139.5px,#0dff00 144.5px,#00ff26 145.5px,#00ffc1 148.5px,#00ffeb 149.5px,#00edff 150.5px,#00c0ff 151.5px,#0092ff 153.5px,#0082ff 154.5px,#0088ff 155.5px,#00d0ff 157.5px,#00f6ff 160.5px,#00ffe0 161.5px,#00ffa7 162.5px,#00ff8f 163.5px,#00ffb1 165.5px,#00ffb3 167.5px,#00ffd4 169.5px,#00ffef 170.5px,#00f0ff 171.5px,#00a3ff 173.5px,#004bfe 176.5px,#000bfb 178.5px,#0000f8 180.5px,#0000f5 196.5px)"></i><i style="background:linear-gradient(90deg,#0000f5 0.5px,#0000fa 18.5px,#000afb 19.5px,#0023fc 20.5px,#0094ff 22.5px,#00ebff 25.5px,#00eeff 26.5px,#00ffff 27.5px,#00ffad 30.5px,#00ffa8 31.5px,#00ffcb 34.5px,#00fffc 36.5px,#00a9ff 41.5px,#00a7ff 43.5px,#00ceff 45.5px,#00f0ff 46.5px,#00ffe5 47.5px,#00ff1d 51.5px,#17ff00 52.5px,#f7ff00 57.5px,#ff7c00 61.5px,#ff3f00 64.5px,#ff3d00 66.5px,#ff7a00 69.5px,#fff700 74.5px,#eaff00 77.5px,#f8ff00 79.5px,#fff300 80.5px,#ffb300 82.5px,#ff2600 85.5px,#ff0000 86.5px,#ff0300 110.5px,#ffbb00 114.5px,#fff800 116.5px,#ebff00 119.5px,#faff00 121.5px,#ffde00 123.5px,#ff4800 129.5px,#ff3800 131.5px,#ff6800 134.5px,#ffc200 137.5px,#ffe700 138.5px,#efff00 139.5px,#0eff00 144.5px,#00ff26 145.5px,#00ffc0 148.5px,#00ffea 149.5px,#00efff 150.5px,#00c2ff 151.5px,#007eff 154.5px,#0087ff 155.5px,#00b7ff 156.5px,#00daff 157.5px,#00f9ff 159.5px,#00fffe 160.5px,#00ffe0 161.5px,#00ffac 162.5px,#00ff94 163.5px,#00ffb0 165.5px,#00ffac 167.5px,#00ffd1 169.5px,#00ffee 170.5px,#00efff 171.5px,#009eff 173.5px,#0010fb 178.5px,#0000f9 179.5px,#0000f5 196.5px)"></i><i style="background:linear-gradient(90deg,#0000f5 0.5px,#0000fa 18.5px,#000bfb 19.5px,#0024fc 20.5px,#009bff 22.5px,#00ecff 25.5px,#00fffe 27.5px,#00ffa8 30.5px,#00ff9f 31.5px,#00ffc5 34.5px,#00fff7 36.5px,#00d4ff 39.5px,#00b0ff 41.5px,#00acff 43.5px,#00d2ff 45.5px,#00f3ff 46.5px,#00ffe4 47.5px,#00ff1c 51.5px,#17ff00 52.5px,#f8ff00 57.5px,#ff7b00 61.5px,#ff3e00 64.5px,#ff3b00 66.5px,#ff7800 69.5px,#fff500 74.5px,#efff00 76.5px,#efff00 78.5px,#f9ff00 79.5px,#fff200 80.5px,#ffb300 82.5px,#ff2600 85.5px,#ff0000 86.5px,#ff0300 110.5px,#ffbb00 114.5px,#fff700 116.5px,#ecff00 119.5px,#fcff00 121.5px,#ffdc00 123.5px,#ff4700 129.5px,#ff3700 131.5px,#ff5100 133.5px,#ff9e00 136.5px,#ffe600 138.5px,#f0ff00 139.5px,#0eff00 144.5px,#00ff25 145.5px,#00ffbf 148.5px,#00ffe7 149.5px,#00f0ff 150.5px,#00c3ff 151.5px,#007aff 154.5px,#0087ff 155.5px,#00b9ff 156.5px,#00dcff 157.5px,#00fff8 159.5px,#00fff2 160.5px,#00ffda 161.5px,#00ffb0 162.5px,#00ff9b 163.5px,#00ffae 165.5px,#00ffa8 167.5px,#00ffd1 169.5px,#00ffee 170.5px,#00eeff 171.5px,#009aff 173.5px,#0010fb 178.5px,#0000f9 179.5px,#0000f5 196.5px)"></i><i style="background:linear-gradient(90deg,#0000f5 0.5px,#0000fa 18.5px,#0010fb 19.5px,#002dfc 20.5px,#00a2ff 22.5px,#00beff 23.5px,#00ccff 24.5px,#00f1ff 25.5px,#00ffff 26.5px,#00fff6 27.5px,#00ffa5 30.5px,#00ff9a 31.5px,#00ffba 33.5px,#00ffd6 35.5px,#00fff2 36.5px,#00faff 37.5px,#00b2ff 41.5px,#00aeff 43.5px,#00baff 44.5px,#00f4ff 46.5px,#00ffe4 47.5px,#00ff1c 51.5px,#18ff00 52.5px,#f9ff00 57.5px,#ff7a00 61.5px,#ff3d00 64.5px,#ff3a00 66.5px,#ff7700 69.5px,#fff400 74.5px,#f1ff00 76.5px,#f0ff00 78.5px,#faff00 79.5px,#fff100 80.5px,#ffb200 82.5px,#ff2600 85.5px,#ff0000 86.5px,#ff0300 110.5px,#ffba00 114.5px,#fff600 116.5px,#edff00 119.5px,#fdff00 121.5px,#ffc200 124.5px,#ff4600 129.5px,#ff3700 131.5px,#ff5000 133.5px,#ff9d00 136.5px,#ffe500 138.5px,#f1ff00 139.5px,#0eff00 144.5px,#00ff25 145.5px,#00ffbe 148.5px,#00ffe6 149.5px,#00f1ff 150.5px,#00c4ff 151.5px,#0089ff 153.5px,#0079ff 154.5px,#0089ff 155.5px,#00b7ff 156.5px,#00f5ff 158.5px,#00ffe5 160.5px,#00ffd2 161.5px,#00ffb1 162.5px,#00ffa2 163.5px,#00ffaa 167.5px,#00ffee 170.5px,#00eeff 171.5px,#009cff 173.5px,#000dfb 178.5px,#0000f9 179.5px,#0000f5 196.5px)"></i><i style="background:linear-gradient(90deg,#0000f5 0.5px,#0000fa 18.5px,#0039fd 20.5px,#00a6ff 22.5px,#00c2ff 23.5px,#00d0ff 24.5px,#00fcff 25.5px,#00ffd7 28.5px,#00ffa5 30.5px,#00ff98 31.5px,#00ffbc 33.5px,#00ffd1 35.5px,#00faff 37.5px,#00afff 41.5px,#00acff 43.5px,#00b8ff 44.5px,#00f4ff 46.5px,#00ffe4 47.5px,#00ff1c 51.5px,#18ff00 52.5px,#f9ff00 57.5px,#ff7900 61.5px,#ff3c00 64.5px,#ff3900 66.5px,#ff7500 69.5px,#fff200 74.5px,#fcff00 75.5px,#eeff00 77.5px,#fbff00 79.5px,#fff100 80.5px,#ffb200 82.5px,#ff2600 85.5px,#ff0000 86.5px,#ff0200 110.5px,#ffb900 114.5px,#fff500 116.5px,#f0ff00 118.5px,#f4ff00 120.5px,#ffff00 121.5px,#ffc000 124.5px,#ff4400 129.5px,#ff3600 131.5px,#ff4f00 133.5px,#ff9c00 136.5px,#ffe500 138.5px,#f1ff00 139.5px,#0fff00 144.5px,#00ff25 145.5px,#00ffbd 148.5px,#00ffe5 149.5px,#00f0ff 150.5px,#00c4ff 151.5px,#0087ff 153.5px,#007dff 154.5px,#008eff 155.5px,#00f8ff 158.5px,#00ffca 161.5px,#00ffaf 162.5px,#00ffa5 163.5px,#00ffaf 167.5px,#00ffec 170.5px,#00f2ff 171.5px,#0080ff 174.5px,#0009fa 178.5px,#0000f7 181.5px,#0000f5 196.5px)"></i><i style="background:linear-gradient(90deg,#0000f5 0.5px,#0004fa 18.5px,#0044fd 20.5px,#00a4ff 22.5px,#00d8ff 24.5px,#00fffa 25.5px,#00ffbd 29.5px,#00ff99 31.5px,#00ffbf 33.5px,#00ffd0 35.5px,#00f9ff 37.5px,#00a9ff 41.5px,#00a5ff 43.5px,#00b2ff 44.5px,#00f5ff 46.5px,#00ffe3 47.5px,#00ff51 50.5px,#00ff1b 51.5px,#18ff00 52.5px,#d1ff00 56.5px,#faff00 57.5px,#ff7800 61.5px,#ff3b00 64.5px,#ff3800 66.5px,#ff7400 69.5px,#fff100 74.5px,#fdff00 75.5px,#efff00 77.5px,#fcff00 79.5px,#ffd500 81.5px,#ff8600 83.5px,#ff2500 85.5px,#ff0000 86.5px,#ff0200 110.5px,#ffb900 114.5px,#fff400 116.5px,#f1ff00 118.5px,#fffe00 121.5px,#ffa400 125.5px,#ff4300 129.5px,#ff3500 131.5px,#ff4e00 133.5px,#ff9b00 136.5px,#ffe400 138.5px,#f2ff00 139.5px,#0fff00 144.5px,#00ff25 145.5px,#00ffbe 148.5px,#00ffe5 149.5px,#00efff 150.5px,#00c4ff 151.5px,#008bff 153.5px,#0087ff 154.5px,#0095ff 155.5px,#00f7ff 158.5px,#00ffac 162.5px,#00ff9f 165.5px,#00ffc4 168.5px,#00faff 171.5px,#0024fc 177.5px,#0008fa 178.5px,#0000f6 182.5px,#0000f5 196.5px)"></i><i style="background:linear-gradient(90deg,#0000f5 0.5px,#0000f9 17.5px,#000bfb 18.5px,#004bfe 20.5px,#00c0ff 23.5px,#00fff6 25.5px,#00ff9b 31.5px,#00ffcb 34.5px,#00ffd1 35.5px,#00f8ff 37.5px,#00a2ff 41.5px,#009cff 43.5px,#00acff 44.5px,#00f8ff 46.5px,#00ffe2 47.5px,#00ff50 50.5px,#00ff1b 51.5px,#19ff00 52.5px,#fbff00 57.5px,#ff7700 61.5px,#ff3a00 64.5px,#ff3700 66.5px,#ff7200 69.5px,#ffef00 74.5px,#ffff00 75.5px,#f0ff00 77.5px,#fdff00 79.5px,#ffd400 81.5px,#ff8500 83.5px,#ff2500 85.5px,#ff0000 86.5px,#ff0200 110.5px,#ffb800 114.5px,#fff300 116.5px,#f2ff00 118.5px,#fffc00 121.5px,#ffbd00 124.5px,#ff5600 128.5px,#ff3600 130.5px,#ff3c00 132.5px,#ff7c00 135.5px,#ffe300 138.5px,#f3ff00 139.5px,#10ff00 144.5px,#00ff24 145.5px,#00ffbf 148.5px,#00ffe6 149.5px,#00ecff 150.5px,#00c3ff 151.5px,#0094ff 153.5px,#0093ff 154.5px,#009fff 155.5px,#00f3ff 158.5px,#00ffd4 160.5px,#00ffa9 162.5px,#00ff94 165.5px,#00ffe2 170.5px,#00fffc 171.5px,#009cff 174.5px,#0024fc 177.5px,#0008fa 178.5px,#0000f6 182.5px,#0000f5 196.5px)"></i><i style="background:linear-gradient(90deg,#0000f5 0.5px,#0000fa 17.5px,#002cfc 19.5px,#00e3ff 24.5px,#00fff6 25.5px,#00ffbe 28.5px,#00ff9e 31.5px,#00ffcf 34.5px,#00ffd2 35.5px,#00f9ff 37.5px,#00c7ff 39.5px,#00aaff 40.5px,#0098ff 42.5px,#0093ff 43.5px,#00a6ff 44.5px,#00fbff 46.5px,#00ffb7 48.5px,#00ff1a 51.5px,#19ff00 52.5px,#fcff00 57.5px,#ff7600 61.5px,#ff3900 64.5px,#ff3700 66.5px,#ff5900 68.5px,#ffed00 74.5px,#fffe00 75.5px,#f4ff00 78.5px,#feff00 79.5px,#ffd300 81.5px,#ff8500 83.5px,#ff2500 85.5px,#ff0000 86.5px,#ff0200 110.5px,#ffb700 114.5px,#fff200 116.5px,#fbff00 117.5px,#f2ff00 119.5px,#fffb00 121.5px,#ffa100 125.5px,#ff4000 129.5px,#ff3300 131.5px,#ff4b00 133.5px,#ff9900 136.5px,#ffe200 138.5px,#f4ff00 139.5px,#10ff00 144.5px,#00ff24 145.5px,#00ffc0 148.5px,#00ffe8 149.5px,#00e8ff 150.5px,#00c2ff 151.5px,#009eff 153.5px,#00aaff 155.5px,#00eeff 158.5px,#00ffee 159.5px,#00ffa4 162.5px,#00ff89 165.5px,#00ffbe 168.5px,#00ffdd 170.5px,#00fff8 171.5px,#00a9ff 174.5px,#0026fc 177.5px,#000bfb 178.5px,#0000f8 180.5px,#0000f5 196.5px)"></i><i style="background:linear-gradient(90deg,#0000f5 0.5px,#0000fa 17.5px,#0031fc 19.5px,#00e5ff 24.5px,#00fff7 25.5px,#00ffbd 28.5px,#00ffa2 31.5px,#00ffbc 33.5px,#00ffcd 34.5px,#00ffd1 35.5px,#00ffff 37.5px,#00edff 38.5px,#00a7ff 40.5px,#008eff 43.5px,#00a2ff 44.5px,#00feff 46.5px,#00ffb6 48.5px,#00ff1a 51.5px,#1aff00 52.5px,#fdff00 57.5px,#ff7500 61.5px,#ff4600 63.5px,#ff3100 65.5px,#ff4300 67.5px,#ffec00 74.5px,#fffc00 75.5px,#f5ff00 78.5px,#ffff00 79.5px,#ffd200 81.5px,#ff8400 83.5px,#ff2400 85.5px,#ff0000 86.5px,#ff0200 110.5px,#ffb700 114.5px,#fff200 116.5px,#fcff00 117.5px,#f3ff00 119.5px,#fff900 121.5px,#ff9f00 125.5px,#ff3f00 129.5px,#ff3200 131.5px,#ff4a00 133.5px,#ff9800 136.5px,#ffe100 138.5px,#f5ff00 139.5px,#11ff00 144.5px,#00ff23 145.5px,#00ffc0 148.5px,#00ffe8 149.5px,#00e6ff 150.5px,#00c0ff 151.5px,#00a5ff 153.5px,#00b4ff 155.5px,#00ecff 158.5px,#00ffec 159.5px,#00ff9d 162.5px,#00ff82 165.5px,#00ffb0 167.5px,#00ffda 170.5px,#00fff7 171.5px,#00aeff 174.5px,#0084ff 175.5px,#004dfe 176.5px,#0028fc 177.5px,#0000f9 179.5px,#0000f5 196.5px)"></i><i style="background:linear-gradient(90deg,#0000f5 0.5px,#0000fa 17.5px,#0038fd 19.5px,#0080ff 21.5px,#00c3ff 23.5px,#00fff6 25.5px,#00ffbf 28.5px,#00ffa8 31.5px,#00ffb2 33.5px,#00ffe5 36.5px,#00fff9 37.5px,#00f7ff 38.5px,#00abff 40.5px,#008eff 43.5px,#00a0ff 44.5px,#00ffff 46.5px,#00ffb5 48.5px,#00ff19 51.5px,#1aff00 52.5px,#d4ff00 56.5px,#fdff00 57.5px,#ff9100 60.5px,#ff4500 63.5px,#ff3000 65.5px,#ff4100 67.5px,#ffea00 74.5px,#fffb00 75.5px,#f6ff00 78.5px,#fffe00 79.5px,#ffd200 81.5px,#ff8400 83.5px,#ff2400 85.5px,#ff0000 86.5px,#ff0100 110.5px,#ffb600 114.5px,#fff100 116.5px,#fdff00 117.5px,#f4ff00 119.5px,#fff800 121.5px,#ffb800 124.5px,#ff3e00 129.5px,#ff3100 131.5px,#ff4900 133.5px,#ff9700 136.5px,#ffe000 138.5px,#f5ff00 139.5px,#12ff00 144.5px,#00ff22 145.5px,#00ffbf 148.5px,#00ffe8 149.5px,#00e4ff 150.5px,#00beff 151.5px,#00a9ff 153.5px,#00baff 155.5px,#00d8ff 157.5px,#00f1ff 158.5px,#00ffe7 159.5px,#00ff96 162.5px,#00ff7f 165.5px,#00ffb1 167.5px,#00ffdb 170.5px,#00fffa 171.5px,#00acff 174.5px,#004cfe 176.5px,#002cfc 177.5px,#0000fa 179.5px,#0000f5 196.5px)"></i><i style="background:linear-gradient(90deg,#0000f5 0.5px,#0001fa 17.5px,#0040fd 19.5px,#006bff 20.5px,#00a1ff 22.5px,#00e9ff 24.5px,#00fff1 25.5px,#00ffb4 29.5px,#00ffa8 33.5px,#00fffd 38.5px,#00b6ff 40.5px,#00a2ff 41.5px,#0092ff 43.5px,#00a0ff 44.5px,#00fdff 46.5px,#00ffb4 48.5px,#00ff18 51.5px,#1bff00 52.5px,#feff00 57.5px,#ff9000 60.5px,#ff4400 63.5px,#ff2f00 65.5px,#ff4000 67.5px,#ffe900 74.5px,#faff00 76.5px,#f7ff00 78.5px,#fffd00 79.5px,#ffd100 81.5px,#ff8300 83.5px,#ff2400 85.5px,#ff0000 86.5px,#ff0100 110.5px,#ffb600 114.5px,#fff000 116.5px,#feff00 117.5px,#f6ff00 119.5px,#fff600 121.5px,#ff9c00 125.5px,#ff3d00 129.5px,#ff3000 131.5px,#ff4800 133.5px,#ff9600 136.5px,#f6ff00 139.5px,#12ff00 144.5px,#00ff22 145.5px,#00ffbe 148.5px,#00ffe8 149.5px,#00e4ff 150.5px,#00bdff 151.5px,#00abff 154.5px,#00fcff 158.5px,#00ff90 162.5px,#00ff80 165.5px,#00ffb3 167.5px,#00ffdf 170.5px,#00fffd 171.5px,#00beff 173.5px,#00a7ff 174.5px,#004afe 176.5px,#0023fc 178.5px,#0003fa 179.5px,#0000f5 196.5px)"></i><i style="background:linear-gradient(90deg,#0000f5 0.5px,#0004fa 17.5px,#0047fe 19.5px,#0074ff 20.5px,#00a4ff 22.5px,#00ecff 24.5px,#00ffed 25.5px,#00ffb8 28.5px,#00ffae 30.5px,#00ffae 32.5px,#00ffa1 33.5px,#00fff6 38.5px,#00edff 39.5px,#00c4ff 40.5px,#00aaff 41.5px,#009aff 43.5px,#00a3ff 44.5px,#00fbff 46.5px,#00ffb2 48.5px,#00ff17 51.5px,#1cff00 52.5px,#ffff00 57.5px,#ff8f00 60.5px,#ff4300 63.5px,#ff2e00 65.5px,#ff3f00 67.5px,#ffe700 74.5px,#fbff00 76.5px,#f8ff00 78.5px,#fffc00 79.5px,#ffd000 81.5px,#ff8300 83.5px,#ff2400 85.5px,#ff0000 86.5px,#ff0100 110.5px,#ffb500 114.5px,#ffef00 116.5px,#ffff00 117.5px,#f7ff00 119.5px,#fff500 121.5px,#ffb500 124.5px,#ff3b00 129.5px,#ff2f00 131.5px,#ff4700 133.5px,#ff9500 136.5px,#f7ff00 139.5px,#13ff00 144.5px,#00ff21 145.5px,#00ffbc 148.5px,#00ffe7 149.5px,#00e6ff 150.5px,#00beff 151.5px,#00abff 154.5px,#00fff9 158.5px,#00ffa6 161.5px,#00ff8f 162.5px,#00ff82 165.5px,#00ffb3 167.5px,#00ffe1 170.5px,#00fffd 171.5px,#00a2ff 174.5px,#0070ff 175.5px,#004bfe 176.5px,#002bfc 178.5px,#000bfb 179.5px,#0000f8 181.5px,#0000f5 196.5px)"></i><i style="background:linear-gradient(90deg,#0000f5 0.5px,#0000f9 16.5px,#0007fa 17.5px,#004afe 19.5px,#0076ff 20.5px,#00a4ff 22.5px,#00edff 24.5px,#00ffed 25.5px,#00ffb0 28.5px,#00ffab 30.5px,#00ffb1 32.5px,#00ffa0 33.5px,#00fff2 38.5px,#00f8ff 39.5px,#00b2ff 41.5px,#00a5ff 43.5px,#00a9ff 44.5px,#00c9ff 45.5px,#00f9ff 46.5px,#00ffb1 48.5px,#00ff17 51.5px,#1cff00 52.5px,#fffe00 57.5px,#ff8e00 60.5px,#ff4200 63.5px,#ff2d00 65.5px,#ff3d00 67.5px,#ffe500 74.5px,#fdff00 76.5px,#fffc00 79.5px,#ffd000 81.5px,#ff8200 83.5px,#ff2300 85.5px,#ff0000 86.5px,#ff0100 110.5px,#ffb400 114.5px,#ffee00 116.5px,#fffe00 117.5px,#f8ff00 119.5px,#fff300 121.5px,#ff9900 125.5px,#ff3a00 129.5px,#ff2e00 131.5px,#ff4600 133.5px,#ff9400 136.5px,#f8ff00 139.5px,#13ff00 144.5px,#00ff21 145.5px,#00ffbb 148.5px,#00ffe6 149.5px,#00e8ff 150.5px,#00c1ff 151.5px,#00afff 154.5px,#00ddff 156.5px,#00f9ff 157.5px,#00fff3 158.5px,#00ff8f 162.5px,#00ff83 165.5px,#00ffb1 167.5px,#00ffe0 170.5px,#00fff9 171.5px,#009dff 174.5px,#006aff 175.5px,#004ffe 176.5px,#0032fd 178.5px,#000dfb 179.5px,#0000f9 180.5px,#0000f5 196.5px)"></i><i style="background:linear-gradient(90deg,#0000f5 0.5px,#0005fa 17.5px,#008cff 21.5px,#00a3ff 22.5px,#00edff 24.5px,#00fff2 25.5px,#00ffab 28.5px,#00ffa7 30.5px,#00ffb1 32.5px,#00ffa4 33.5px,#00feff 39.5px,#00baff 41.5px,#00b1ff 44.5px,#00cbff 45.5px,#00f8ff 46.5px,#00ffdf 47.5px,#00ff17 51.5px,#1cff00 52.5px,#d7ff00 56.5px,#fffe00 57.5px,#ff8d00 60.5px,#ff4100 63.5px,#ff2d00 65.5px,#ff3c00 67.5px,#ffe400 74.5px,#feff00 76.5px,#fffb00 79.5px,#ffcf00 81.5px,#ff8200 83.5px,#ff2300 85.5px,#ff0000 86.5px,#ff0000 110.5px,#ffb400 114.5px,#ffed00 116.5px,#fffd00 117.5px,#fffe00 120.5px,#ffca00 123.5px,#ff4c00 128.5px,#ff2f00 130.5px,#ff3600 132.5px,#ff7500 135.5px,#f8ff00 139.5px,#14ff00 144.5px,#00ff21 145.5px,#00ffba 148.5px,#00ffe6 149.5px,#00ecff 150.5px,#00c5ff 151.5px,#00b3ff 153.5px,#00c3ff 155.5px,#00feff 157.5px,#00ffd7 159.5px,#00ff91 162.5px,#00ff83 165.5px,#00ffb0 167.5px,#00ffc7 169.5px,#00fff2 171.5px,#00ebff 172.5px,#0068ff 175.5px,#0035fd 178.5px,#000dfb 179.5px,#0000f9 180.5px,#0000f5 196.5px)"></i><i style="background:linear-gradient(90deg,#0000f5 0.5px,#0000fa 17.5px,#0060ff 20.5px,#00ecff 24.5px,#00fffc 25.5px,#00ffaa 28.5px,#00ffa4 30.5px,#00ffaf 32.5px,#00ffa9 33.5px,#00ffcb 35.5px,#00ffe0 37.5px,#00fffe 39.5px,#00bfff 41.5px,#00b8ff 44.5px,#00ceff 45.5px,#00f7ff 46.5px,#00ffdf 47.5px,#00ff17 51.5px,#1cff00 52.5px,#d7ff00 56.5px,#fffd00 57.5px,#ff8c00 60.5px,#ff4000 63.5px,#ff2c00 65.5px,#ff3b00 67.5px,#ffe200 74.5px,#ffff00 76.5px,#fffa00 79.5px,#ffce00 81.5px,#ff8100 83.5px,#ff2300 85.5px,#ff0000 86.5px,#ff0000 110.5px,#ffb300 114.5px,#ffec00 116.5px,#fffc00 117.5px,#fffd00 120.5px,#ffc900 123.5px,#ff4b00 128.5px,#ff2e00 130.5px,#ff3500 132.5px,#ff7400 135.5px,#f9ff00 139.5px,#14ff00 144.5px,#00ff21 145.5px,#00ffe5 149.5px,#00f0ff 150.5px,#00ccff 151.5px,#00bbff 152.5px,#00bbff 154.5px,#00d9ff 156.5px,#00faff 157.5px,#00fff1 158.5px,#00ff93 162.5px,#00ff84 165.5px,#00ffb3 167.5px,#00ffc5 169.5px,#00ffe9 171.5px,#00f3ff 172.5px,#006aff 175.5px,#0033fd 178.5px,#0008fa 179.5px,#0000f7 183.5px,#0000f5 196.5px)"></i><i style="background:linear-gradient(90deg,#0000f5 0.5px,#0000fa 17.5px,#002bfc 19.5px,#00ebff 24.5px,#00fff6 26.5px,#00ffab 28.5px,#00ffa1 30.5px,#00ffab 33.5px,#00fdff 39.5px,#00c4ff 41.5px,#00b9ff 43.5px,#00bcff 44.5px,#00d0ff 45.5px,#00f7ff 46.5px,#00ffdf 47.5px,#00ff4c 50.5px,#00ff16 51.5px,#1dff00 52.5px,#d8ff00 56.5px,#fffc00 57.5px,#ff8b00 60.5px,#ff3f00 63.5px,#ff2b00 65.5px,#ff3a00 67.5px,#ffe100 74.5px,#fffd00 76.5px,#fff900 79.5px,#ffcd00 81.5px,#ff8100 83.5px,#ff2300 85.5px,#ff0000 86.5px,#ff0000 110.5px,#ffb200 114.5px,#ffeb00 116.5px,#fcff00 118.5px,#fffb00 120.5px,#ffc700 123.5px,#ff4900 128.5px,#ff2d00 130.5px,#ff3400 132.5px,#ff7300 135.5px,#faff00 139.5px,#14ff00 144.5px,#00ff21 145.5px,#00ffb9 148.5px,#00ffe4 149.5px,#00f4ff 150.5px,#00d2ff 151.5px,#00bfff 152.5px,#00beff 154.5px,#00cfff 156.5px,#00efff 157.5px,#00fff4 158.5px,#00ff97 162.5px,#00ff89 165.5px,#00ffb9 167.5px,#00ffcf 170.5px,#00faff 172.5px,#006eff 175.5px,#0049fe 177.5px,#002cfc 178.5px,#0001fa 179.5px,#0000f5 196.5px)"></i><i style="background:linear-gradient(90deg,#0000f5 0.5px,#0000fa 17.5px,#0007fa 18.5px,#0045fd 20.5px,#00c9ff 23.5px,#00e9ff 24.5px,#00e7ff 25.5px,#00f7ff 26.5px,#00ffae 28.5px,#00ff94 31.5px,#00ffb8 34.5px,#00fff4 38.5px,#00f5ff 39.5px,#00c7ff 41.5px,#00bbff 42.5px,#00bfff 44.5px,#00d1ff 45.5px,#00f8ff 46.5px,#00ffb2 48.5px,#00ff16 51.5px,#1dff00 52.5px,#d9ff00 56.5px,#fffb00 57.5px,#ff8a00 60.5px,#ff3e00 63.5px,#ff2a00 65.5px,#ff3900 67.5px,#ffdf00 74.5px,#fffc00 76.5px,#fff800 79.5px,#ffcd00 81.5px,#ff8000 83.5px,#ff2200 85.5px,#ff0000 86.5px,#ff0000 110.5px,#ffb200 114.5px,#ffea00 116.5px,#fdff00 118.5px,#fffa00 120.5px,#ffc500 123.5px,#ff4800 128.5px,#ff2c00 130.5px,#ff3300 132.5px,#ff5800 134.5px,#ffb400 137.5px,#faff00 139.5px,#14ff00 144.5px,#00ff21 145.5px,#00ffb9 148.5px,#00ffe4 149.5px,#00f6ff 150.5px,#00d4ff 151.5px,#00bbff 153.5px,#00c3ff 156.5px,#00fffc 158.5px,#00ffdb 159.5px,#00ff9c 162.5px,#00ff92 164.5px,#00ff8f 165.5px,#00ffbe 167.5px,#00ffca 170.5px,#00ffff 172.5px,#0071ff 175.5px,#0048fe 177.5px,#0000fa 179.5px,#0000f5 196.5px)"></i><i style="background:linear-gradient(90deg,#0000f5 0.5px,#0002fa 18.5px,#0065ff 21.5px,#00c8ff 23.5px,#00e6ff 24.5px,#00e2ff 25.5px,#00ecff 26.5px,#00ffdd 27.5px,#00ffb0 28.5px,#00ff88 31.5px,#00ffa2 33.5px,#00ffde 36.5px,#00fff9 38.5px,#00c8ff 41.5px,#00beff 42.5px,#00c2ff 44.5px,#00d1ff 45.5px,#00f9ff 46.5px,#00ffb1 48.5px,#00ff16 51.5px,#1eff00 52.5px,#daff00 56.5px,#fffb00 57.5px,#ff8900 60.5px,#ff3d00 63.5px,#ff2900 65.5px,#ff3800 67.5px,#ffb000 72.5px,#ffef00 75.5px,#feff00 77.5px,#fff700 79.5px,#ffcc00 81.5px,#ff8000 83.5px,#ff2200 85.5px,#ff0000 86.5px,#ff0000 110.5px,#ffb100 114.5px,#ffea00 116.5px,#feff00 118.5px,#fff900 120.5px,#ffc400 123.5px,#ff4700 128.5px,#ff2c00 130.5px,#ff3200 132.5px,#ff5700 134.5px,#ffb300 137.5px,#fbff00 139.5px,#14ff00 144.5px,#00ff21 145.5px,#00ffe5 149.5px,#00f4ff 150.5px,#00d2ff 151.5px,#00baff 153.5px,#00b9ff 156.5px,#00ceff 157.5px,#00f8ff 158.5px,#00ff9c 162.5px,#00ff8d 163.5px,#00ff94 165.5px,#00ffbe 167.5px,#00ffc8 170.5px,#00feff 172.5px,#0071ff 175.5px,#0046fd 177.5px,#0000f9 179.5px,#0000f5 196.5px)"></i><i style="background:linear-gradient(90deg,#0000f5 0.5px,#0003fa 18.5px,#0063ff 21.5px,#00c5ff 23.5px,#00e1ff 24.5px,#00f1ff 26.5px,#00ffde 27.5px,#00ffb1 28.5px,#00ff7f 31.5px,#00ff84 32.5px,#00ffae 34.5px,#00ffe4 36.5px,#00fffe 38.5px,#00deff 39.5px,#00c3ff 42.5px,#00c6ff 44.5px,#00d1ff 45.5px,#00faff 46.5px,#00ff81 49.5px,#00ff16 51.5px,#1eff00 52.5px,#daff00 56.5px,#fffa00 57.5px,#ff8800 60.5px,#ff3c00 63.5px,#ff2800 65.5px,#ff3700 67.5px,#ffdc00 74.5px,#ffff00 77.5px,#fff600 79.5px,#ffcb00 81.5px,#ff7f00 83.5px,#ff2200 85.5px,#ff0000 86.5px,#ff0000 110.5px,#ffb000 114.5px,#ffe900 116.5px,#ffff00 118.5px,#ffea00 121.5px,#ff8f00 125.5px,#ff4500 128.5px,#ff2b00 130.5px,#ff3100 132.5px,#ff5600 134.5px,#ffb200 137.5px,#fcff00 139.5px,#14ff00 144.5px,#00ff20 145.5px,#00ffe5 149.5px,#00f3ff 150.5px,#00cfff 151.5px,#00b7ff 153.5px,#00b3ff 156.5px,#00c5ff 157.5px,#00f0ff 158.5px,#00ffeb 159.5px,#00ffdb 160.5px,#00ff94 162.5px,#00ff82 163.5px,#00ffa5 166.5px,#00ffba 167.5px,#00ffc6 170.5px,#00f9ff 172.5px,#00a2ff 174.5px,#006cff 175.5px,#0042fd 177.5px,#0000f9 179.5px,#0000f5 196.5px)"></i><i style="background:linear-gradient(90deg,#0000f5 0.5px,#0000f9 17.5px,#0007fa 18.5px,#0047fe 20.5px,#0063ff 21.5px,#00c2ff 23.5px,#00ffff 26.5px,#00ffb0 28.5px,#00ff79 31.5px,#00ff7c 32.5px,#00ffaa 34.5px,#00ffd1 35.5px,#00ffe8 36.5px,#00fbff 38.5px,#00d7ff 39.5px,#00c9ff 42.5px,#00c7ff 44.5px,#00d1ff 45.5px,#00faff 46.5px,#00ff81 49.5px,#00ff15 51.5px,#1eff00 52.5px,#dbff00 56.5px,#fff900 57.5px,#ff8800 60.5px,#ff3b00 63.5px,#ff2700 65.5px,#ff3600 67.5px,#ffdb00 74.5px,#fffe00 77.5px,#fff500 79.5px,#ffca00 81.5px,#ff7f00 83.5px,#ff2200 85.5px,#ff0000 86.5px,#ff0000 110.5px,#ffb000 114.5px,#ffe800 116.5px,#fffe00 118.5px,#ffe900 121.5px,#ff8e00 125.5px,#ff4400 128.5px,#ff2a00 130.5px,#ff3100 132.5px,#ff5500 134.5px,#ffb100 137.5px,#fdff00 139.5px,#15ff00 144.5px,#00ff20 145.5px,#00ffe6 149.5px,#00f2ff 150.5px,#00ceff 151.5px,#00bbff 152.5px,#00b5ff 153.5px,#00bbff 155.5px,#00b5ff 156.5px,#00c7ff 157.5px,#00f3ff 158.5px,#00ffe2 160.5px,#00ff88 162.5px,#00ff73 163.5px,#00ffb3 167.5px,#00ffc6 170.5px,#00ffe2 171.5px,#00f2ff 172.5px,#00d1ff 173.5px,#0067ff 175.5px,#003efd 177.5px,#0000fa 179.5px,#0000f5 196.5px)"></i><i style="background:linear-gradient(90deg,#0000f5 0.5px,#0000f9 17.5px,#000bfb 18.5px,#004bfe 20.5px,#0065ff 21.5px,#009aff 22.5px,#00c2ff 23.5px,#00edff 25.5px,#00fff5 26.5px,#00ffaf 28.5px,#00ff76 31.5px,#00ff78 32.5px,#00ff87 33.5px,#00ffd4 35.5px,#00ffea 36.5px,#00f9ff 38.5px,#00d8ff 39.5px,#00ccff 42.5px,#00c7ff 44.5px,#00d1ff 45.5px,#00fcff 46.5px,#00ff82 49.5px,#00ff15 51.5px,#1fff00 52.5px,#dcff00 56.5px,#fff800 57.5px,#ff8700 60.5px,#ff3a00 63.5px,#ff2600 65.5px,#ff3500 67.5px,#ff9200 71.5px,#ffea00 75.5px,#fffd00 77.5px,#fff400 79.5px,#ffca00 81.5px,#ff7e00 83.5px,#ff2100 85.5px,#ff0000 86.5px,#ff0000 110.5px,#ffaf00 114.5px,#ffe700 116.5px,#fffd00 118.5px,#fff400 120.5px,#ffbf00 123.5px,#ff4300 128.5px,#ff2900 130.5px,#ff3000 132.5px,#ff5400 134.5px,#ffb000 137.5px,#fdff00 139.5px,#15ff00 144.5px,#00ff20 145.5px,#00ffe6 149.5px,#00f2ff 150.5px,#00ccff 151.5px,#00b6ff 152.5px,#00b2ff 153.5px,#00c3ff 154.5px,#00bdff 156.5px,#00d2ff 157.5px,#00ffff 158.5px,#00ffe6 160.5px,#00ff7e 162.5px,#00ff67 163.5px,#00ff95 165.5px,#00ffc6 170.5px,#00ffe4 171.5px,#00edff 172.5px,#00ceff 173.5px,#00a0ff 174.5px,#0062ff 175.5px,#001efc 178.5px,#0000fa 179.5px,#0000f5 196.5px)"></i><i style="background:linear-gradient(90deg,#0000f5 0.5px,#0000f9 17.5px,#000dfb 18.5px,#0037fd 19.5px,#006bff 21.5px,#009fff 22.5px,#00c4ff 23.5px,#00d3ff 24.5px,#00f1ff 25.5px,#00ffee 26.5px,#00ffb1 28.5px,#00ff77 31.5px,#00ff87 33.5px,#00ffd4 35.5px,#00faff 38.5px,#00ddff 39.5px,#00cbff 41.5px,#00ceff 43.5px,#00c5ff 44.5px,#00d2ff 45.5px,#00ffff 46.5px,#00ff82 49.5px,#00ff15 51.5px,#1fff00 52.5px,#dcff00 56.5px,#fff700 57.5px,#ff8600 60.5px,#ff3900 63.5px,#ff2600 65.5px,#ff3400 67.5px,#ff9000 71.5px,#ffe900 75.5px,#fffb00 78.5px,#ffe200 80.5px,#ffa700 82.5px,#ff2100 85.5px,#ff0000 86.5px,#ff0000 110.5px,#ffae00 114.5px,#ffe600 116.5px,#fffb00 118.5px,#fff300 120.5px,#ffbe00 123.5px,#ff4100 128.5px,#ff2800 130.5px,#ff2f00 132.5px,#ff5300 134.5px,#ffaf00 137.5px,#feff00 139.5px,#47ff00 143.5px,#15ff00 144.5px,#00ff1f 145.5px,#00ffe6 149.5px,#00f1ff 150.5px,#00caff 151.5px,#00b1ff 152.5px,#00aeff 153.5px,#00c6ff 154.5px,#00c6ff 156.5px,#00fff6 158.5px,#00ffe7 160.5px,#00ff7a 162.5px,#00ff61 163.5px,#00ff71 164.5px,#00ff8f 165.5px,#00ffc8 170.5px,#00ffe6 171.5px,#00ebff 172.5px,#00a0ff 174.5px,#0060ff 175.5px,#003efd 176.5px,#001ffc 178.5px,#0005fa 179.5px,#0000f5 196.5px)"></i><i style="background:linear-gradient(90deg,#0000f5 0.5px,#0000f9 17.5px,#000efb 18.5px,#003cfd 19.5px,#0076ff 21.5px,#00aaff 22.5px,#00c9ff 23.5px,#00d4ff 24.5px,#00f4ff 25.5px,#00ffce 27.5px,#00ff79 31.5px,#00ff8a 33.5px,#00ffd0 35.5px,#00feff 38.5px,#00e3ff 39.5px,#00caff 41.5px,#00c3ff 44.5px,#00d5ff 45.5px,#00fffc 46.5px,#00ff81 49.5px,#00ff15 51.5px,#1fff00 52.5px,#ddff00 56.5px,#fff700 57.5px,#ff8500 60.5px,#ff3800 63.5px,#ff2500 65.5px,#ff3300 67.5px,#ff8f00 71.5px,#ffe700 75.5px,#fffa00 77.5px,#fff200 79.5px,#ffc800 81.5px,#ff7d00 83.5px,#ff2100 85.5px,#ff0000 86.5px,#ff0000 110.5px,#ffae00 114.5px,#ffe500 116.5px,#fffa00 118.5px,#fff200 120.5px,#ffbc00 123.5px,#ff4000 128.5px,#ff2700 130.5px,#ff2e00 132.5px,#ff5200 134.5px,#ffae00 137.5px,#ffff00 139.5px,#15ff00 144.5px,#00ff1f 145.5px,#00ffe6 149.5px,#00efff 150.5px,#00c7ff 151.5px,#00acff 152.5px,#00aaff 153.5px,#00c4ff 154.5px,#00cbff 156.5px,#00e6ff 157.5px,#00fff1 158.5px,#00ffe6 160.5px,#00ff7b 162.5px,#00ff62 163.5px,#00ff6a 164.5px,#00ff98 166.5px,#00ffcb 170.5px,#00ffe5 171.5px,#00edff 172.5px,#00a1ff 174.5px,#0061ff 175.5px,#0038fd 176.5px,#0000f9 180.5px,#0000f5 196.5px)"></i><i style="background:linear-gradient(90deg,#0000f5 0.5px,#0000f9 17.5px,#000efb 18.5px,#0041fd 19.5px,#0083ff 21.5px,#00b7ff 22.5px,#00d0ff 23.5px,#00daff 24.5px,#00faff 25.5px,#00ffbe 28.5px,#00ff7d 31.5px,#00ff8d 33.5px,#00ffc8 35.5px,#00fffd 38.5px,#00c9ff 41.5px,#00c3ff 44.5px,#00d8ff 45.5px,#00fff9 46.5px,#00ff81 49.5px,#00ff15 51.5px,#1fff00 52.5px,#ddff00 56.5px,#fff600 57.5px,#ff8400 60.5px,#ff3800 63.5px,#ff2400 65.5px,#ff3300 67.5px,#ff7300 70.5px,#ffd400 74.5px,#fff900 77.5px,#fff100 79.5px,#ffc700 81.5px,#ff7d00 83.5px,#ff2000 85.5px,#ff0000 86.5px,#ff0000 110.5px,#ffad00 114.5px,#ffe400 116.5px,#fff900 118.5px,#fff000 120.5px,#ffba00 123.5px,#ff3f00 128.5px,#ff2600 130.5px,#ff2d00 132.5px,#ff5100 134.5px,#ffae00 137.5px,#ffff00 139.5px,#47ff00 143.5px,#16ff00 144.5px,#00ff1f 145.5px,#00ffe7 149.5px,#00ecff 150.5px,#00c4ff 151.5px,#00abff 152.5px,#00a8ff 153.5px,#00bfff 154.5px,#00caff 156.5px,#00e7ff 157.5px,#00fff0 158.5px,#00ffe4 160.5px,#00ff80 162.5px,#00ff66 163.5px,#00ff68 164.5px,#00ffca 169.5px,#00ffcf 170.5px,#00ffe5 171.5px,#00f1ff 172.5px,#00a3ff 174.5px,#0063ff 175.5px,#0034fd 176.5px,#0000f9 180.5px,#0000f5 196.5px)"></i><i style="background:linear-gradient(90deg,#0000f5 0.5px,#0000f9 17.5px,#000ffb 18.5px,#0044fd 19.5px,#008bff 21.5px,#00c0ff 22.5px,#00fffd 25.5px,#00ffcd 27.5px,#00ffb5 29.5px,#00ff7f 31.5px,#00ff7e 32.5px,#00ffa2 34.5px,#00ffc0 35.5px,#00fff9 38.5px,#00caff 41.5px,#00c5ff 44.5px,#00fff7 46.5px,#00ff80 49.5px,#00ff15 51.5px,#20ff00 52.5px,#deff00 56.5px,#fff500 57.5px,#ff8300 60.5px,#ff3700 63.5px,#ff2300 65.5px,#ff3200 67.5px,#ff7200 70.5px,#ffd300 74.5px,#fff800 77.5px,#fff000 79.5px,#ffc700 81.5px,#ff7c00 83.5px,#ff2000 85.5px,#ff0000 86.5px,#ff0000 110.5px,#ffac00 114.5px,#ffe300 116.5px,#fff800 118.5px,#ffef00 120.5px,#ffb900 123.5px,#ff3e00 128.5px,#ff2500 130.5px,#ff2c00 132.5px,#ff5000 134.5px,#ffad00 137.5px,#fffe00 139.5px,#48ff00 143.5px,#16ff00 144.5px,#00ff1e 145.5px,#00ffe8 149.5px,#00eaff 150.5px,#00c4ff 151.5px,#00acff 152.5px,#00a7ff 153.5px,#00c3ff 155.5px,#00c8ff 156.5px,#00fff3 158.5px,#00ffe3 160.5px,#00ff83 162.5px,#00ff6b 163.5px,#00ff67 164.5px,#00ffbb 168.5px,#00ffd1 169.5px,#00ffd4 170.5px,#00f3ff 172.5px,#00a6ff 174.5px,#0067ff 175.5px,#0035fd 176.5px,#001efc 177.5px,#0000f9 180.5px,#0000f5 196.5px)"></i><i style="background:linear-gradient(90deg,#0000f5 0.5px,#0000f9 17.5px,#0013fb 18.5px,#0045fd 19.5px,#008fff 21.5px,#00c5ff 22.5px,#00f1ff 24.5px,#00fff8 25.5px,#00ffc9 27.5px,#00ffbc 29.5px,#00ff80 31.5px,#00ff7b 32.5px,#00ffde 37.5px,#00fff7 38.5px,#00f6ff 39.5px,#00ccff 41.5px,#00c9ff 44.5px,#00fff6 46.5px,#00ff7f 49.5px,#00ff15 51.5px,#20ff00 52.5px,#dfff00 56.5px,#fff500 57.5px,#ff8200 60.5px,#ff3600 63.5px,#ff2200 65.5px,#ff3100 67.5px,#ff7100 70.5px,#ffd100 74.5px,#fff000 76.5px,#fff600 78.5px,#ffdf00 80.5px,#ffa400 82.5px,#ff2000 85.5px,#ff0000 86.5px,#ff0000 110.5px,#ffac00 114.5px,#ffe200 116.5px,#fff700 118.5px,#ffe000 121.5px,#ff3c00 128.5px,#ff2400 130.5px,#ff2c00 132.5px,#ff4f00 134.5px,#ffac00 137.5px,#fffd00 139.5px,#48ff00 143.5px,#16ff00 144.5px,#00ff1e 145.5px,#00ffe8 149.5px,#00ebff 150.5px,#00c6ff 151.5px,#00afff 152.5px,#00a8ff 153.5px,#00c8ff 156.5px,#00fff8 158.5px,#00ffe2 160.5px,#00ff83 162.5px,#00ff6d 163.5px,#00ff65 164.5px,#00ff88 166.5px,#00ffd5 169.5px,#00ffd9 170.5px,#00ffea 171.5px,#00f2ff 172.5px,#00a9ff 174.5px,#003afd 176.5px,#001dfb 177.5px,#0000f9 180.5px,#0000f5 196.5px)"></i><i style="background:linear-gradient(90deg,#0000f5 0.5px,#0000f9 17.5px,#0017fb 18.5px,#0046fd 19.5px,#008fff 21.5px,#00c5ff 22.5px,#00e8ff 23.5px,#00fdff 24.5px,#00fff5 25.5px,#00ffc3 27.5px,#00ffbc 29.5px,#00ff81 31.5px,#00ff78 32.5px,#00ffdb 37.5px,#00fff5 38.5px,#00faff 39.5px,#00c9ff 41.5px,#00ceff 44.5px,#00fff6 46.5px,#00ff7f 49.5px,#00ff14 51.5px,#21ff00 52.5px,#dfff00 56.5px,#fff400 57.5px,#ff8100 60.5px,#ff3500 63.5px,#ff2100 65.5px,#ff3f00 68.5px,#ffd000 74.5px,#fff500 77.5px,#ffee00 79.5px,#ffc500 81.5px,#ff7b00 83.5px,#ff2000 85.5px,#ff0000 86.5px,#ff0000 110.5px,#ffab00 114.5px,#ffe200 116.5px,#fff600 118.5px,#ffde00 121.5px,#ff8400 125.5px,#ff3b00 128.5px,#ff2300 130.5px,#ff2b00 132.5px,#ff4e00 134.5px,#ffab00 137.5px,#fffd00 139.5px,#48ff00 143.5px,#16ff00 144.5px,#00ff1e 145.5px,#00ffe8 149.5px,#00ecff 150.5px,#00c8ff 151.5px,#00b2ff 152.5px,#00a9ff 153.5px,#00cfff 156.5px,#00fffd 158.5px,#00fff6 159.5px,#00ffde 160.5px,#00ff81 162.5px,#00ff60 164.5px,#00ff6a 165.5px,#00ffd3 169.5px,#00ffed 171.5px,#00efff 172.5px,#00aaff 174.5px,#0042fd 176.5px,#0022fc 177.5px,#0000f9 180.5px,#0000f5 196.5px)"></i><i style="background:linear-gradient(90deg,#0000f5 0.5px,#0000fa 17.5px,#0019fb 18.5px,#0090ff 21.5px,#00ebff 23.5px,#00fffc 24.5px,#00fff4 25.5px,#00ffc0 27.5px,#00ffb6 29.5px,#00ff80 31.5px,#00ff78 32.5px,#00fff3 38.5px,#00fcff 39.5px,#00c1ff 41.5px,#00d1ff 44.5px,#00fff5 46.5px,#00ff7f 49.5px,#00ff14 51.5px,#21ff00 52.5px,#e0ff00 56.5px,#fff300 57.5px,#ff8100 60.5px,#ff3400 63.5px,#ff2100 65.5px,#ff2f00 67.5px,#ff6e00 70.5px,#ffce00 74.5px,#fff400 77.5px,#ffed00 79.5px,#ffc400 81.5px,#ff7a00 83.5px,#ff1f00 85.5px,#ff0000 86.5px,#ff0000 110.5px,#ffaa00 114.5px,#ffe100 116.5px,#fff500 118.5px,#ffdd00 121.5px,#ff3a00 128.5px,#ff2300 130.5px,#ff2a00 132.5px,#ff4d00 134.5px,#ffaa00 137.5px,#fffc00 139.5px,#49ff00 143.5px,#16ff00 144.5px,#00ff1e 145.5px,#00ffe8 149.5px,#00eeff 150.5px,#00cbff 151.5px,#00b5ff 152.5px,#00acff 153.5px,#00fffe 158.5px,#00fff4 159.5px,#00ffd5 160.5px,#00ff80 162.5px,#00ff5b 164.5px,#00ff64 165.5px,#00ffd0 169.5px,#00ffee 171.5px,#00f0ff 172.5px,#00abff 174.5px,#004cfe 176.5px,#002dfc 177.5px,#0000f9 180.5px,#0000f5 196.5px)"></i><i style="background:linear-gradient(90deg,#0000f5 0.5px,#0000fa 17.5px,#001bfb 18.5px,#00e9ff 23.5px,#00fffd 24.5px,#00fff6 25.5px,#00ffbf 27.5px,#00ff98 30.5px,#00ff80 31.5px,#00ff7a 32.5px,#00fdff 39.5px,#00b6ff 41.5px,#00c1ff 43.5px,#00e8ff 45.5px,#00fff4 46.5px,#00ffad 48.5px,#00ff13 51.5px,#21ff00 52.5px,#e0ff00 56.5px,#fff300 57.5px,#ff8000 60.5px,#ff4700 62.5px,#ff2000 65.5px,#ff2e00 67.5px,#ff6c00 70.5px,#ffdf00 75.5px,#fff300 77.5px,#ffec00 79.5px,#ffc400 81.5px,#ff7a00 83.5px,#ff1f00 85.5px,#ff0000 86.5px,#ff0000 110.5px,#ffaa00 114.5px,#ffe000 116.5px,#fff300 118.5px,#ffe900 120.5px,#ffb300 123.5px,#ff3900 128.5px,#ff2200 130.5px,#ff2900 132.5px,#ff4c00 134.5px,#ffaa00 137.5px,#fffb00 139.5px,#7aff00 142.5px,#17ff00 144.5px,#00ff1e 145.5px,#00ffe7 149.5px,#00f2ff 150.5px,#00ceff 151.5px,#00b8ff 152.5px,#00b2ff 153.5px,#00f7ff 157.5px,#00ffec 159.5px,#00ff83 162.5px,#00ff58 164.5px,#00ff5f 165.5px,#00ffcf 169.5px,#00f6ff 172.5px,#00d8ff 173.5px,#0077ff 175.5px,#0039fd 177.5px,#0000f9 180.5px,#0000f5 196.5px)"></i><i style="background:linear-gradient(90deg,#0000f5 0.5px,#0002fa 17.5px,#0043fd 19.5px,#00ddff 23.5px,#00f9ff 24.5px,#00fff8 25.5px,#00ffc0 27.5px,#00ff81 31.5px,#00ff7c 32.5px,#00fffe 39.5px,#00abff 41.5px,#00acff 42.5px,#00e9ff 45.5px,#00fff4 46.5px,#00ffaf 48.5px,#00ff13 51.5px,#21ff00 52.5px,#e1ff00 56.5px,#fff200 57.5px,#ff7f00 60.5px,#ff4600 62.5px,#ff1f00 65.5px,#ff2d00 67.5px,#ff5200 69.5px,#ffcb00 74.5px,#fff100 77.5px,#ffeb00 79.5px,#ffc300 81.5px,#ff7a00 83.5px,#ff1f00 85.5px,#ff0000 86.5px,#ff0000 110.5px,#ffa900 114.5px,#ffdf00 116.5px,#fff200 118.5px,#ffda00 121.5px,#ff3800 128.5px,#ff2100 130.5px,#ff2800 132.5px,#ff4b00 134.5px,#ffa900 137.5px,#fffa00 139.5px,#7bff00 142.5px,#17ff00 144.5px,#00ff1e 145.5px,#00ffe5 149.5px,#00f5ff 150.5px,#00d2ff 151.5px,#00bcff 152.5px,#00b8ff 153.5px,#00fffb 157.5px,#00ffe2 159.5px,#00ff5b 164.5px,#00ff5e 165.5px,#00ffd1 169.5px,#00fffe 172.5px,#00e3ff 173.5px,#0077ff 175.5px,#0000f9 180.5px,#0000f5 196.5px)"></i><i style="background:linear-gradient(90deg,#0000f5 0.5px,#0004fa 17.5px,#0046fd 19.5px,#0092ff 21.5px,#00ecff 24.5px,#00fff7 25.5px,#00ffab 28.5px,#00ff8d 30.5px,#00ff7e 32.5px,#00ffdc 37.5px,#00fff9 39.5px,#00daff 40.5px,#00a6ff 41.5px,#00a5ff 42.5px,#00fff7 46.5px,#00ffb0 48.5px,#00ff13 51.5px,#22ff00 52.5px,#e2ff00 56.5px,#fff100 57.5px,#ff7d00 60.5px,#ff3200 63.5px,#ff1e00 65.5px,#ff2c00 67.5px,#ff5000 69.5px,#ffca00 74.5px,#fff000 77.5px,#ffea00 79.5px,#ffc300 81.5px,#ff7900 83.5px,#ff1f00 85.5px,#ff0000 86.5px,#ff0000 110.5px,#ffa900 114.5px,#ffde00 116.5px,#fff100 118.5px,#ffe600 120.5px,#ffaf00 123.5px,#ff3700 128.5px,#ff2000 130.5px,#ff2700 132.5px,#ff4a00 134.5px,#ffa700 137.5px,#fff900 139.5px,#7bff00 142.5px,#18ff00 144.5px,#00ff1d 145.5px,#00ffe4 149.5px,#00f6ff 150.5px,#00c0ff 152.5px,#00bdff 153.5px,#00fcff 156.5px,#00ffda 159.5px,#00ffbc 160.5px,#00ff9d 162.5px,#00ff65 164.5px,#00ff62 165.5px,#00ff90 167.5px,#00ffd5 169.5px,#00fff6 172.5px,#00ecff 173.5px,#0075ff 175.5px,#002ffc 178.5px,#0010fb 179.5px,#0000f9 180.5px,#0000f5 196.5px)"></i><i style="background:linear-gradient(90deg,#0000f5 0.5px,#0005fa 17.5px,#0075ff 20.5px,#00a3ff 22.5px,#00b6ff 23.5px,#00fff6 25.5px,#00ff90 29.5px,#00ff7c 32.5px,#00ffae 34.5px,#00fff2 39.5px,#00e5ff 40.5px,#00aaff 41.5px,#00a6ff 42.5px,#00e2ff 45.5px,#00fffb 46.5px,#00ffb1 48.5px,#00ff13 51.5px,#22ff00 52.5px,#e3ff00 56.5px,#fff000 57.5px,#ff7c00 60.5px,#ff4300 62.5px,#ff1d00 65.5px,#ff2b00 67.5px,#ff4f00 69.5px,#ffc800 74.5px,#ffef00 77.5px,#ffe900 79.5px,#ffc200 81.5px,#ff7900 83.5px,#ff1f00 85.5px,#ff0000 86.5px,#ff0000 110.5px,#ffa900 114.5px,#ffde00 116.5px,#fff000 118.5px,#ffe500 120.5px,#ffae00 123.5px,#ff3600 128.5px,#ff1f00 130.5px,#ff2600 132.5px,#ff4800 134.5px,#ffa600 137.5px,#fff900 139.5px,#acff00 141.5px,#18ff00 144.5px,#00ff1d 145.5px,#00ffe5 149.5px,#00f5ff 150.5px,#00d6ff 151.5px,#00c4ff 152.5px,#00c1ff 153.5px,#00e2ff 155.5px,#00fffe 156.5px,#00ffd8 159.5px,#00ffbd 160.5px,#00ffaa 162.5px,#00ff75 164.5px,#00ff6a 165.5px,#00ff8e 167.5px,#00ffd6 169.5px,#00fff1 172.5px,#00f1ff 173.5px,#0072ff 175.5px,#004afe 177.5px,#000afa 179.5px,#0000f8 181.5px,#0000f5 196.5px)"></i><i style="background:linear-gradient(90deg,#0000f5 0.5px,#0004fa 17.5px,#0074ff 20.5px,#0098ff 22.5px,#00a9ff 23.5px,#00fff6 25.5px,#00ff8a 29.5px,#00ff78 32.5px,#00ffae 34.5px,#00ffec 39.5px,#00f1ff 40.5px,#00b6ff 41.5px,#00aeff 42.5px,#00c4ff 44.5px,#00fdff 46.5px,#00ffb1 48.5px,#00ff13 51.5px,#23ff00 52.5px,#e3ff00 56.5px,#ffef00 57.5px,#ff7b00 60.5px,#ff4200 62.5px,#ff1c00 65.5px,#ff2a00 67.5px,#ff6600 70.5px,#ffc600 74.5px,#ffee00 77.5px,#ffe800 79.5px,#ffc200 81.5px,#ff7900 83.5px,#ff1f00 85.5px,#ff0000 86.5px,#ff0000 110.5px,#ffa800 114.5px,#ffdd00 116.5px,#ffef00 118.5px,#ffe400 120.5px,#ffac00 123.5px,#ff3500 128.5px,#ff1e00 130.5px,#ff2500 132.5px,#ff4700 134.5px,#ffa500 137.5px,#fff800 139.5px,#adff00 141.5px,#19ff00 144.5px,#00ff1c 145.5px,#00ffe6 149.5px,#00f2ff 150.5px,#00c6ff 152.5px,#00cdff 154.5px,#00deff 155.5px,#00fffe 156.5px,#00ffe9 157.5px,#00ffda 159.5px,#00ffc1 160.5px,#00ffb2 162.5px,#00ff76 165.5px,#00ff8d 167.5px,#00ffd3 169.5px,#00ffe4 170.5px,#00fff2 172.5px,#00efff 173.5px,#006fff 175.5px,#0046fd 177.5px,#0003fa 179.5px,#0000f5 196.5px)"></i><i style="background:linear-gradient(90deg,#0000f5 0.5px,#0002fa 17.5px,#006dff 20.5px,#00a5ff 23.5px,#00fff9 25.5px,#00ff87 29.5px,#00ff74 32.5px,#00ffa9 34.5px,#00ffd3 37.5px,#00ffe6 38.5px,#00ffea 39.5px,#00fcff 40.5px,#00c7ff 41.5px,#00b9ff 42.5px,#00c0ff 44.5px,#00f9ff 46.5px,#00ffdf 47.5px,#00ff4a 50.5px,#00ff12 51.5px,#23ff00 52.5px,#e4ff00 56.5px,#ffee00 57.5px,#ff7a00 60.5px,#ff4100 62.5px,#ff1b00 65.5px,#ff2800 67.5px,#ff6400 70.5px,#ffd700 75.5px,#ffec00 77.5px,#ffe700 79.5px,#ffc100 81.5px,#ff7900 83.5px,#ff1f00 85.5px,#ff0000 86.5px,#ff0000 110.5px,#ffa800 114.5px,#ffdc00 116.5px,#ffee00 118.5px,#ffd400 121.5px,#ff3400 128.5px,#ff1d00 130.5px,#ff2400 132.5px,#ff4600 134.5px,#ffa400 137.5px,#fff700 139.5px,#aeff00 141.5px,#1aff00 144.5px,#00ff1c 145.5px,#00ffe7 149.5px,#00efff 150.5px,#00d5ff 151.5px,#00c9ff 152.5px,#00cfff 154.5px,#00dcff 155.5px,#00ffff 156.5px,#00ffe7 157.5px,#00ffdc 159.5px,#00ffba 161.5px,#00ff84 165.5px,#00ff8e 167.5px,#00ffa5 168.5px,#00ffce 169.5px,#00ffe3 170.5px,#00fff9 172.5px,#00e4ff 173.5px,#006bff 175.5px,#0020fc 178.5px,#0000fa 179.5px,#0000f5 196.5px)"></i><i style="background:linear-gradient(90deg,#0000f5 0.5px,#0000fa 17.5px,#0061ff 20.5px,#00a5ff 23.5px,#00fffc 25.5px,#00ff87 29.5px,#00ff72 32.5px,#00ffb5 35.5px,#00ffe8 38.5px,#00fffc 40.5px,#00d9ff 41.5px,#00b9ff 43.5px,#00bdff 44.5px,#00d5ff 45.5px,#00faff 46.5px,#00ffde 47.5px,#00ff49 50.5px,#00ff11 51.5px,#24ff00 52.5px,#e5ff00 56.5px,#ffed00 57.5px,#ff7900 60.5px,#ff4000 62.5px,#ff1a00 65.5px,#ff2700 67.5px,#ff6300 70.5px,#ffd500 75.5px,#ffed00 78.5px,#ffd800 80.5px,#ffa000 82.5px,#ff1e00 85.5px,#ff0000 86.5px,#ff0000 110.5px,#ffa700 114.5px,#ffdb00 116.5px,#ffed00 118.5px,#ffd200 121.5px,#ff3300 128.5px,#ff1b00 130.5px,#ff2300 132.5px,#ff4500 134.5px,#ffa300 137.5px,#fff600 139.5px,#aeff00 141.5px,#1aff00 144.5px,#00ff1b 145.5px,#00ffe6 149.5px,#00f0ff 150.5px,#00d5ff 151.5px,#00caff 152.5px,#00e1ff 155.5px,#00fffe 156.5px,#00ffe7 157.5px,#00ffdc 159.5px,#00ffac 162.5px,#00ff8f 165.5px,#00ff94 167.5px,#00ffa3 168.5px,#00ffcc 169.5px,#00fff2 171.5px,#00f6ff 172.5px,#00d6ff 173.5px,#006aff 175.5px,#0000fa 179.5px,#0000f5 196.5px)"></i><i style="background:linear-gradient(90deg,#0000f5 0.5px,#0000fa 17.5px,#006fff 21.5px,#00a6ff 23.5px,#00fffe 25.5px,#00ff87 29.5px,#00ff71 31.5px,#00ff72 32.5px,#00ffb6 35.5px,#00ffe7 38.5px,#00fffa 40.5px,#00baff 43.5px,#00bcff 44.5px,#00fcff 46.5px,#00ffb0 48.5px,#00ff10 51.5px,#25ff00 52.5px,#e6ff00 56.5px,#ffec00 57.5px,#ff7800 60.5px,#ff3f00 62.5px,#ff1900 65.5px,#ff2600 67.5px,#ff6100 70.5px,#ffd400 75.5px,#ffec00 78.5px,#ffd700 80.5px,#ffa000 82.5px,#ff1e00 85.5px,#ff0000 86.5px,#ff0000 110.5px,#ffa700 114.5px,#ffdb00 116.5px,#ffec00 118.5px,#ffd100 121.5px,#ff3100 128.5px,#ff1a00 130.5px,#ff2200 132.5px,#ff4400 134.5px,#ffa200 137.5px,#fff500 139.5px,#afff00 141.5px,#1bff00 144.5px,#00ff1b 145.5px,#00ffe3 149.5px,#00f2ff 150.5px,#00d5ff 151.5px,#00caff 152.5px,#00e8ff 155.5px,#00fffa 156.5px,#00ffe6 157.5px,#00ffdb 159.5px,#00ffa6 162.5px,#00ff96 165.5px,#00ffa7 168.5px,#00ffcf 169.5px,#00ffea 170.5px,#00fff8 171.5px,#00c8ff 173.5px,#00a1ff 174.5px,#006dff 175.5px,#0046fd 176.5px,#0000fa 179.5px,#0000f5 196.5px)"></i><i style="background:linear-gradient(90deg,#0000f5 0.5px,#0000fa 17.5px,#0082ff 22.5px,#00a6ff 23.5px,#00fffb 25.5px,#00ffca 27.5px,#00ff89 29.5px,#00ff75 30.5px,#00ff73 32.5px,#00ffba 35.5px,#00fffd 40.5px,#00bbff 43.5px,#00bcff 44.5px,#00d7ff 45.5px,#00ffff 46.5px,#00ffaf 48.5px,#00ff10 51.5px,#25ff00 52.5px,#e7ff00 56.5px,#ffeb00 57.5px,#ff7700 60.5px,#ff3d00 62.5px,#ff1800 65.5px,#ff3300 68.5px,#ffd200 75.5px,#ffe900 77.5px,#ffe500 79.5px,#ffbf00 81.5px,#ff7800 83.5px,#ff1e00 85.5px,#ff0000 86.5px,#ff0000 110.5px,#ffa700 114.5px,#ffda00 116.5px,#ffeb00 118.5px,#ffde00 120.5px,#ffa500 123.5px,#ff3000 128.5px,#ff1900 130.5px,#ff2100 132.5px,#ff4200 134.5px,#ffa100 137.5px,#fff400 139.5px,#deff00 140.5px,#1bff00 144.5px,#00ff1a 145.5px,#00ffb3 148.5px,#00ffe0 149.5px,#00f5ff 150.5px,#00d5ff 151.5px,#00c8ff 152.5px,#00d8ff 154.5px,#00fff7 156.5px,#00ffe1 158.5px,#00ffc8 160.5px,#00ffa1 162.5px,#00ff98 165.5px,#00ffae 168.5px,#00ffee 170.5px,#00fffa 171.5px,#00a3ff 174.5px,#0043fd 176.5px,#0017fb 178.5px,#0003fa 179.5px,#0000f5 196.5px)"></i><i style="background:linear-gradient(90deg,#0000f5 0.5px,#0000fa 17.5px,#0084ff 22.5px,#00a8ff 23.5px,#00ddff 24.5px,#00fff5 25.5px,#00ffcd 27.5px,#00ff8c 29.5px,#00ff75 30.5px,#00ff75 32.5px,#00ffa1 34.5px,#00ffcb 36.5px,#00ffe1 38.5px,#00fbff 40.5px,#00bbff 43.5px,#00bdff 44.5px,#00d7ff 45.5px,#00fffe 46.5px,#00ffaf 48.5px,#00ff0f 51.5px,#26ff00 52.5px,#e7ff00 56.5px,#ffea00 57.5px,#ff7600 60.5px,#ff3c00 62.5px,#ff1700 65.5px,#ff3200 68.5px,#ffd100 75.5px,#ffe800 77.5px,#ffe400 79.5px,#ffbf00 81.5px,#ff7800 83.5px,#ff1e00 85.5px,#ff0000 86.5px,#ff0000 110.5px,#ffa600 114.5px,#ffd900 116.5px,#ffea00 118.5px,#ffdd00 120.5px,#ff8b00 124.5px,#ff2f00 128.5px,#ff1800 130.5px,#ff2000 132.5px,#ff4100 134.5px,#ffa000 137.5px,#fff300 139.5px,#deff00 140.5px,#1bff00 144.5px,#00ff1a 145.5px,#00ffb2 148.5px,#00f7ff 150.5px,#00d4ff 151.5px,#00c6ff 152.5px,#00d6ff 154.5px,#00fff8 156.5px,#00ffdd 159.5px,#00ff9f 162.5px,#00ff91 164.5px,#00ffb3 168.5px,#00ffd7 169.5px,#00ffec 170.5px,#00fff4 171.5px,#00ebff 172.5px,#00bfff 173.5px,#00a6ff 174.5px,#007eff 175.5px,#0045fd 176.5px,#0021fc 177.5px,#0000f9 180.5px,#0000f5 196.5px)"></i><i style="background:linear-gradient(90deg,#0000f5 0.5px,#0000fa 17.5px,#0074ff 21.5px,#0088ff 22.5px,#00afff 23.5px,#00e7ff 24.5px,#00ffeb 25.5px,#00ffcd 27.5px,#00ff76 30.5px,#00ff78 32.5px,#00ffa1 34.5px,#00ffc7 36.5px,#00ffde 38.5px,#00fff7 39.5px,#00e3ff 41.5px,#00b8ff 43.5px,#00beff 44.5px,#00d8ff 45.5px,#00fffe 46.5px,#00ffb0 48.5px,#00ff0f 51.5px,#26ff00 52.5px,#e8ff00 56.5px,#ffe900 57.5px,#ff7500 60.5px,#ff3b00 62.5px,#ff1600 65.5px,#ff3100 68.5px,#ffcf00 75.5px,#ffe600 77.5px,#ffe300 79.5px,#ffbe00 81.5px,#ff7700 83.5px,#ff1e00 85.5px,#ff0000 86.5px,#ff0000 110.5px,#ffa600 114.5px,#ffd900 116.5px,#ffe900 118.5px,#ffcc00 121.5px,#ff2e00 128.5px,#ff1700 130.5px,#ff2000 132.5px,#ff4000 134.5px,#ff9f00 137.5px,#fff200 139.5px,#dfff00 140.5px,#1bff00 144.5px,#00ff1b 145.5px,#00ffb2 148.5px,#00f7ff 150.5px,#00d1ff 151.5px,#00c5ff 152.5px,#00d4ff 154.5px,#00fffe 156.5px,#00ffe2 159.5px,#00ff9f 162.5px,#00ff8d 164.5px,#00ffb3 168.5px,#00ffd6 169.5px,#00ffe7 170.5px,#00ffea 171.5px,#00f6ff 172.5px,#00c0ff 173.5px,#0086ff 175.5px,#0049fe 176.5px,#001dfb 177.5px,#0000fa 180.5px,#0000f5 196.5px)"></i><i style="background:linear-gradient(90deg,#0000f5 0.5px,#0000fa 17.5px,#0078ff 21.5px,#008eff 22.5px,#00baff 23.5px,#00f5ff 24.5px,#00ffe0 25.5px,#00ffcc 27.5px,#00ff78 30.5px,#00ff7a 32.5px,#00ffb5 35.5px,#00ffc9 37.5px,#00fffa 39.5px,#00c0ff 42.5px,#00b4ff 43.5px,#00bfff 44.5px,#00fffe 46.5px,#00ffb0 48.5px,#00ff0e 51.5px,#26ff00 52.5px,#e9ff00 56.5px,#ffe900 57.5px,#ff7400 60.5px,#ff3a00 62.5px,#ff1500 65.5px,#ff3000 68.5px,#ffce00 75.5px,#ffe500 77.5px,#ffe200 79.5px,#ffbe00 81.5px,#ff7700 83.5px,#ff1e00 85.5px,#ff0000 86.5px,#ff0000 110.5px,#ffa500 114.5px,#ffd800 116.5px,#ffe800 118.5px,#ffca00 121.5px,#ff2d00 128.5px,#ff1600 130.5px,#ff1f00 132.5px,#ff3f00 134.5px,#ff9e00 137.5px,#fff100 139.5px,#e0ff00 140.5px,#1bff00 144.5px,#00ff1b 145.5px,#00ffb3 148.5px,#00f6ff 150.5px,#00cfff 151.5px,#00c5ff 152.5px,#00e0ff 155.5px,#00fff8 157.5px,#00ffe6 159.5px,#00ff92 163.5px,#00ff8b 165.5px,#00ff9c 167.5px,#00ffb0 168.5px,#00ffd2 169.5px,#00ffe4 171.5px,#00faff 172.5px,#00bfff 173.5px,#008aff 175.5px,#004bfe 176.5px,#001bfb 177.5px,#0005fa 179.5px,#0000f5 196.5px)"></i><i style="background:linear-gradient(90deg,#0000f5 0.5px,#0000fa 17.5px,#0095ff 22.5px,#00fffc 24.5px,#00ffd7 25.5px,#00ffca 27.5px,#00ff99 29.5px,#00ff7d 30.5px,#00ff7b 32.5px,#00ffa9 34.5px,#00ffb6 36.5px,#00ffe0 38.5px,#00fffe 39.5px,#00dbff 40.5px,#00b6ff 42.5px,#00b0ff 43.5px,#00c2ff 44.5px,#00fffd 46.5px,#00ffb1 48.5px,#00ff0e 51.5px,#27ff00 52.5px,#eaff00 56.5px,#ffe800 57.5px,#ff7300 60.5px,#ff3900 62.5px,#ff1400 65.5px,#ff2f00 68.5px,#ffcc00 75.5px,#ffe400 77.5px,#ffe100 79.5px,#ffbd00 81.5px,#ff7700 83.5px,#ff1e00 85.5px,#ff0000 86.5px,#ff0000 110.5px,#ffa500 114.5px,#ffd700 116.5px,#ffe600 118.5px,#ffd800 120.5px,#ff8600 124.5px,#ff3c00 127.5px,#ff1500 130.5px,#ff1e00 132.5px,#ff3e00 134.5px,#ff9d00 137.5px,#fff100 139.5px,#e1ff00 140.5px,#1bff00 144.5px,#00ff1b 145.5px,#00ffb5 148.5px,#00f6ff 150.5px,#00cfff 151.5px,#00c7ff 152.5px,#00d7ff 154.5px,#00e4ff 156.5px,#00fcff 157.5px,#00ffe9 159.5px,#00ff8f 163.5px,#00ff88 166.5px,#00ffac 168.5px,#00ffca 169.5px,#00ffe3 171.5px,#00f4ff 172.5px,#00baff 173.5px,#0088ff 175.5px,#001cfb 177.5px,#0004fa 179.5px,#0000f5 196.5px)"></i><i style="background:linear-gradient(90deg,#0000f5 0.5px,#0000fa 17.5px,#0015fb 18.5px,#009eff 22.5px,#00fff5 24.5px,#00ffd1 25.5px,#00ffc6 27.5px,#00ff9d 29.5px,#00ff83 30.5px,#00ff78 31.5px,#00ff7c 32.5px,#00ffb1 34.5px,#00ffb2 36.5px,#00fbff 39.5px,#00d1ff 40.5px,#00afff 42.5px,#00b0ff 43.5px,#00fffb 46.5px,#00ffde 47.5px,#00ff47 50.5px,#00ff0e 51.5px,#27ff00 52.5px,#eaff00 56.5px,#ffe700 57.5px,#ff7200 60.5px,#ff3900 62.5px,#ff1300 65.5px,#ff2e00 68.5px,#ffcb00 75.5px,#ffe300 77.5px,#ffe000 79.5px,#ffbd00 81.5px,#ff7600 83.5px,#ff1e00 85.5px,#ff0000 86.5px,#ff0000 110.5px,#ffa400 114.5px,#ffd600 116.5px,#ffe500 118.5px,#ffc700 121.5px,#ff3b00 127.5px,#ff1400 130.5px,#ff1d00 132.5px,#ff3d00 134.5px,#ff9c00 137.5px,#fff000 139.5px,#e1ff00 140.5px,#1bff00 144.5px,#00ff1b 145.5px,#00ffb7 148.5px,#00ffe2 149.5px,#00f6ff 150.5px,#00d2ff 151.5px,#00caff 152.5px,#00d6ff 154.5px,#00d8ff 156.5px,#00fffc 158.5px,#00ff8a 163.5px,#00ff83 166.5px,#00ffe7 171.5px,#00e8ff 172.5px,#00b2ff 173.5px,#0083ff 175.5px,#004bfe 176.5px,#0020fc 177.5px,#0004fa 179.5px,#0000f5 196.5px)"></i><i style="background:linear-gradient(90deg,#0000f5 0.5px,#0000f9 17.5px,#000cfb 18.5px,#0050fe 20.5px,#00d5ff 23.5px,#00fff2 24.5px,#00ffcf 25.5px,#00ffb2 28.5px,#00ff78 31.5px,#00ff7d 32.5px,#00ffb6 34.5px,#00ffb3 36.5px,#00f7ff 39.5px,#00cbff 40.5px,#00afff 42.5px,#00b4ff 43.5px,#00fff9 46.5px,#00ffdd 47.5px,#00ff7e 49.5px,#00ff0e 51.5px,#27ff00 52.5px,#ebff00 56.5px,#ffe600 57.5px,#ff7100 60.5px,#ff3800 62.5px,#ff1200 65.5px,#ff2d00 68.5px,#ffc900 75.5px,#ffe400 78.5px,#ffd200 80.5px,#ff9d00 82.5px,#ff1e00 85.5px,#ff0000 86.5px,#ff0000 110.5px,#ffa400 114.5px,#ffd600 116.5px,#ffe400 118.5px,#ffc600 121.5px,#ff3a00 127.5px,#ff1300 130.5px,#ff1c00 132.5px,#ff3c00 134.5px,#ff9b00 137.5px,#ffef00 139.5px,#e2ff00 140.5px,#1cff00 144.5px,#00ff1b 145.5px,#00ffb9 148.5px,#00ffe3 149.5px,#00f7ff 150.5px,#00d6ff 151.5px,#00ccff 152.5px,#00d1ff 156.5px,#00fffe 158.5px,#00ffc7 160.5px,#00ffa3 162.5px,#00ff86 163.5px,#00ff7c 165.5px,#00ff95 167.5px,#00ffce 170.5px,#00ffee 171.5px,#00dbff 172.5px,#00adff 173.5px,#007dff 175.5px,#004bfe 176.5px,#0026fc 177.5px,#0005fa 179.5px,#0000f5 196.5px)"></i><i style="background:linear-gradient(90deg,#0000f5 0.5px,#0003fa 18.5px,#001cfb 19.5px,#0046fe 20.5px,#0080ff 21.5px,#00d6ff 23.5px,#00fff3 24.5px,#00ffd2 25.5px,#00ff98 29.5px,#00ff76 31.5px,#00ff7c 32.5px,#00ffb3 34.5px,#00ffb7 36.5px,#00f8ff 39.5px,#00caff 40.5px,#00b6ff 41.5px,#00b8ff 43.5px,#00fff9 46.5px,#00ffb1 48.5px,#00ff0e 51.5px,#27ff00 52.5px,#ecff00 56.5px,#ffe500 57.5px,#ff7000 60.5px,#ff3700 62.5px,#ff1100 65.5px,#ff2c00 68.5px,#ffc800 75.5px,#ffe300 78.5px,#ffd200 80.5px,#ff9d00 82.5px,#ff1e00 85.5px,#ff0000 86.5px,#ff0000 110.5px,#ffa400 114.5px,#ffd500 116.5px,#ffe300 118.5px,#ffd400 120.5px,#ff8200 124.5px,#ff3900 127.5px,#ff1200 130.5px,#ff1b00 132.5px,#ff3b00 134.5px,#ff9a00 137.5px,#ffee00 139.5px,#e3ff00 140.5px,#1cff00 144.5px,#00ff1a 145.5px,#00ffba 148.5px,#00ffe5 149.5px,#00f6ff 150.5px,#00d9ff 151.5px,#00ccff 153.5px,#00d0ff 156.5px,#00fffd 158.5px,#00ffbe 160.5px,#00ffa2 162.5px,#00ff84 163.5px,#00ff79 165.5px,#00ffb9 169.5px,#00fff7 171.5px,#00acff 173.5px,#0078ff 175.5px,#004bfe 176.5px,#002cfc 177.5px,#0007fa 179.5px,#0000f5 186.5px,#0000f5 196.5px)"></i><i style="background:linear-gradient(90deg,#0000f5 0.5px,#0000fa 18.5px,#0013fb 19.5px,#0041fd 20.5px,#0084ff 21.5px,#00fff6 24.5px,#00ffc7 26.5px,#00ff71 31.5px,#00ff7a 32.5px,#00ffa7 34.5px,#00ffba 36.5px,#00fbff 39.5px,#00ccff 40.5px,#00b9ff 41.5px,#00b9ff 43.5px,#00e0ff 45.5px,#00fffb 46.5px,#00ffb0 48.5px,#00ff0e 51.5px,#27ff00 52.5px,#ecff00 56.5px,#ffe500 57.5px,#ff6f00 60.5px,#ff3600 62.5px,#ff1000 65.5px,#ff2b00 68.5px,#ff6c00 71.5px,#ffc600 75.5px,#ffdf00 77.5px,#ffde00 79.5px,#ffbb00 81.5px,#ff7600 83.5px,#ff1d00 85.5px,#ff0000 86.5px,#ff0000 110.5px,#ffa300 114.5px,#ffd400 116.5px,#ffe200 118.5px,#ffd300 120.5px,#ff8000 124.5px,#ff2800 128.5px,#ff1100 130.5px,#ff1a00 132.5px,#ff3a00 134.5px,#ff9900 137.5px,#ffed00 139.5px,#e3ff00 140.5px,#1cff00 144.5px,#00ff1a 145.5px,#00ffba 148.5px,#00ffe6 149.5px,#00f4ff 150.5px,#00d9ff 151.5px,#00c6ff 153.5px,#00d5ff 156.5px,#00fff7 158.5px,#00ffb5 160.5px,#00ffa5 162.5px,#00ff87 163.5px,#00ff77 164.5px,#00ff7a 165.5px,#00ffbc 169.5px,#00feff 171.5px,#00b1ff 173.5px,#0077ff 175.5px,#004efe 176.5px,#0008fa 179.5px,#0000f6 183.5px,#0000f5 196.5px)"></i><i style="background:linear-gradient(90deg,#0000f5 0.5px,#0000fa 18.5px,#0010fb 19.5px,#0041fd 20.5px,#0087ff 21.5px,#00b7ff 22.5px,#00fff9 24.5px,#00ff77 30.5px,#00ff6b 31.5px,#00ff75 32.5px,#00ff8e 33.5px,#00ffbb 36.5px,#00feff 39.5px,#00ceff 40.5px,#00bbff 41.5px,#00b6ff 43.5px,#00d7ff 45.5px,#00fffe 46.5px,#00ffaf 48.5px,#00ff0d 51.5px,#28ff00 52.5px,#edff00 56.5px,#ffe400 57.5px,#ff6e00 60.5px,#ff3500 62.5px,#ff0f00 65.5px,#ff2a00 68.5px,#ff6b00 71.5px,#ffc500 75.5px,#ffde00 77.5px,#ffdd00 79.5px,#ffbb00 81.5px,#ff7500 83.5px,#ff1d00 85.5px,#ff0000 86.5px,#ff0000 110.5px,#ffa300 114.5px,#ffd400 116.5px,#ffe100 118.5px,#ffc100 121.5px,#ff2700 128.5px,#ff1000 130.5px,#ff1900 132.5px,#ff3900 134.5px,#ff9800 137.5px,#ffed00 139.5px,#e4ff00 140.5px,#1dff00 144.5px,#00ff1a 145.5px,#00ffba 148.5px,#00ffe8 149.5px,#00f2ff 150.5px,#00d9ff 151.5px,#00c3ff 153.5px,#00d1ff 155.5px,#00efff 157.5px,#00ffef 158.5px,#00ffad 160.5px,#00ffaa 162.5px,#00ff77 164.5px,#00ff7c 165.5px,#00ffa6 167.5px,#00ffad 168.5px,#00ffc1 169.5px,#00ffe7 170.5px,#00f4ff 171.5px,#00a1ff 174.5px,#0053fe 176.5px,#0007fa 179.5px,#0000f5 186.5px,#0000f5 196.5px)"></i><i style="background:linear-gradient(90deg,#0000f5 0.5px,#0000fa 18.5px,#0011fb 19.5px,#0043fd 20.5px,#008aff 21.5px,#00bfff 22.5px,#00fffb 24.5px,#00ffe1 26.5px,#00ff84 29.5px,#00ff67 31.5px,#00ff71 32.5px,#00ff89 33.5px,#00ffa1 35.5px,#00feff 39.5px,#00ccff 40.5px,#00b7ff 41.5px,#00b1ff 43.5px,#00baff 44.5px,#00d0ff 45.5px,#00fdff 46.5px,#00ff7c 49.5px,#00ff0d 51.5px,#28ff00 52.5px,#eeff00 56.5px,#ffe300 57.5px,#ff6d00 60.5px,#ff3400 62.5px,#ff0e00 65.5px,#ff2900 68.5px,#ff6900 71.5px,#ffc300 75.5px,#ffdd00 77.5px,#ffdc00 79.5px,#ffba00 81.5px,#ff7500 83.5px,#ff1d00 85.5px,#ff0000 86.5px,#ff0000 110.5px,#ffa200 114.5px,#ffd300 116.5px,#ffe000 118.5px,#ffc000 121.5px,#ff3600 127.5px,#ff0f00 130.5px,#ff1800 132.5px,#ff3800 134.5px,#ff9700 137.5px,#ffec00 139.5px,#e5ff00 140.5px,#1dff00 144.5px,#00ff19 145.5px,#00ffba 148.5px,#00ffe8 149.5px,#00f1ff 150.5px,#00d9ff 151.5px,#00c5ff 153.5px,#00d6ff 155.5px,#00faff 157.5px,#00ffe7 158.5px,#00ffc0 159.5px,#00ffa6 160.5px,#00ffb0 162.5px,#00ff7a 164.5px,#00ff80 165.5px,#00ff9d 166.5px,#00ffad 168.5px,#00ffc8 169.5px,#00fff1 170.5px,#00ebff 171.5px,#00c7ff 173.5px,#0082ff 175.5px,#0058fe 176.5px,#0004fa 179.5px,#0000f5 196.5px)"></i><i style="background:linear-gradient(90deg,#0000f5 0.5px,#0000fa 18.5px,#0014fb 19.5px,#0046fe 20.5px,#00c4ff 22.5px,#00e8ff 23.5px,#00fffe 24.5px,#00fff1 26.5px,#00ff86 29.5px,#00ff66 31.5px,#00ff6f 32.5px,#00ff87 33.5px,#00ffa1 35.5px,#00feff 39.5px,#00c7ff 40.5px,#00b1ff 41.5px,#00aeff 43.5px,#00b7ff 44.5px,#00ceff 45.5px,#00fbff 46.5px,#00ff7b 49.5px,#00ff0c 51.5px,#28ff00 52.5px,#efff00 56.5px,#ffe200 57.5px,#ff6c00 60.5px,#ff3400 62.5px,#ff0d00 65.5px,#ff2800 68.5px,#ff8000 72.5px,#ffd100 76.5px,#ffdf00 78.5px,#ffcf00 80.5px,#ff9b00 82.5px,#ff1d00 85.5px,#ff0000 86.5px,#ff0000 110.5px,#ffa200 114.5px,#ffd200 116.5px,#ffdf00 118.5px,#ffbe00 121.5px,#ff3500 127.5px,#ff0e00 130.5px,#ff1700 132.5px,#ff3700 134.5px,#ff9600 137.5px,#ffeb00 139.5px,#e5ff00 140.5px,#1eff00 144.5px,#00ff19 145.5px,#00ffba 148.5px,#00ffe8 149.5px,#00f1ff 150.5px,#00d9ff 151.5px,#00caff 153.5px,#00ebff 156.5px,#00fffc 157.5px,#00ffb8 159.5px,#00ffa1 160.5px,#00ffb3 162.5px,#00ff7f 164.5px,#00ff85 165.5px,#00ffa0 166.5px,#00ffaf 168.5px,#00fff5 170.5px,#00e6ff 171.5px,#00d1ff 173.5px,#005cff 176.5px,#0000fa 179.5px,#0000f5 196.5px)"></i><i style="background:linear-gradient(90deg,#0000f5 0.5px,#0000fa 18.5px,#0018fb 19.5px,#004bfe 20.5px,#00c5ff 22.5px,#00e9ff 23.5px,#00fbff 24.5px,#00fffd 26.5px,#00ff8b 29.5px,#00ff73 30.5px,#00ff68 31.5px,#00ff71 32.5px,#00ff97 34.5px,#00ffca 37.5px,#00feff 39.5px,#00c5ff 40.5px,#00adff 41.5px,#00b1ff 43.5px,#00d3ff 45.5px,#00fbff 46.5px,#00ffad 48.5px,#00ff0c 51.5px,#5dff00 53.5px,#efff00 56.5px,#ffe100 57.5px,#ff6b00 60.5px,#ff3300 62.5px,#ff0c00 65.5px,#ff2600 68.5px,#ffc000 75.5px,#ffde00 78.5px,#ffce00 80.5px,#ff9b00 82.5px,#ff1d00 85.5px,#ff0000 86.5px,#ff0000 110.5px,#ffa100 114.5px,#ffd100 116.5px,#ffde00 118.5px,#ffbd00 121.5px,#ff3300 127.5px,#ff0d00 130.5px,#ff1600 132.5px,#ff3700 134.5px,#ff9500 137.5px,#ffea00 139.5px,#e6ff00 140.5px,#1fff00 144.5px,#00ff18 145.5px,#00ffba 148.5px,#00ffe8 149.5px,#00f2ff 150.5px,#00d9ff 151.5px,#00cfff 153.5px,#00fff9 157.5px,#00ffb4 159.5px,#00ff9d 160.5px,#00ffaf 162.5px,#00ff81 164.5px,#00ff8a 165.5px,#00ffa1 166.5px,#00ffb3 168.5px,#00fff5 170.5px,#00e5ff 171.5px,#00d9ff 173.5px,#003efd 177.5px,#0000fa 179.5px,#0000f5 196.5px)"></i><i style="background:linear-gradient(90deg,#0000f5 0.5px,#0003fa 18.5px,#001ffc 19.5px,#00beff 22.5px,#00e2ff 23.5px,#00f5ff 24.5px,#00fbff 26.5px,#00ff8e 29.5px,#00ff74 30.5px,#00ff6b 31.5px,#00ff74 32.5px,#00ff9b 34.5px,#00ffad 36.5px,#00ffff 39.5px,#00c9ff 40.5px,#00b3ff 41.5px,#00afff 42.5px,#00daff 45.5px,#00fdff 46.5px,#00ffad 48.5px,#00ff0c 51.5px,#5eff00 53.5px,#f0ff00 56.5px,#ffe000 57.5px,#ff6a00 60.5px,#ff3200 62.5px,#ff0b00 65.5px,#ff2500 68.5px,#ffbf00 75.5px,#ffdd00 78.5px,#ffcd00 80.5px,#ff9a00 82.5px,#ff1d00 85.5px,#ff0000 86.5px,#ff0000 110.5px,#ffa100 114.5px,#ffd100 116.5px,#ffdd00 118.5px,#ffbb00 121.5px,#ff3200 127.5px,#ff0d00 130.5px,#ff1500 132.5px,#ff3600 134.5px,#ff9500 137.5px,#ffe900 139.5px,#e7ff00 140.5px,#1fff00 144.5px,#00ff18 145.5px,#00ffb9 148.5px,#00ffe7 149.5px,#00f2ff 150.5px,#00d9ff 151.5px,#00cfff 152.5px,#00e1ff 154.5px,#00fff8 157.5px,#00ffb3 159.5px,#00ff9c 160.5px,#00ffa5 162.5px,#00ff80 164.5px,#00ff9f 166.5px,#00ffa5 167.5px,#00ffd4 169.5px,#00fff4 170.5px,#00e7ff 171.5px,#00dfff 173.5px,#003cfd 177.5px,#0000fa 179.5px,#0000f5 196.5px)"></i><i style="background:linear-gradient(90deg,#0000f5 0.5px,#0000fa 17.5px,#0009fa 18.5px,#0028fc 19.5px,#0089ff 21.5px,#00d7ff 23.5px,#00f0ff 24.5px,#00ffff 26.5px,#00ff8f 29.5px,#00ff73 30.5px,#00ff6c 31.5px,#00ff9b 34.5px,#00ffa7 36.5px,#00ffdd 38.5px,#00ffff 39.5px,#00d3ff 40.5px,#00bbff 42.5px,#00cdff 44.5px,#00ffff 46.5px,#00ffad 48.5px,#00ff0b 51.5px,#5eff00 53.5px,#f1ff00 56.5px,#ffe000 57.5px,#ff6900 60.5px,#ff3100 62.5px,#ff0a00 65.5px,#ff2400 68.5px,#ff7c00 72.5px,#ffcd00 76.5px,#ffdc00 78.5px,#ffcd00 80.5px,#ff9a00 82.5px,#ff1d00 85.5px,#ff0000 86.5px,#ff0000 110.5px,#ffa000 114.5px,#ffd000 116.5px,#ffdb00 118.5px,#ffba00 121.5px,#ff3100 127.5px,#ff0c00 130.5px,#ff1500 132.5px,#ff3500 134.5px,#ff9400 137.5px,#ffe900 139.5px,#e7ff00 140.5px,#20ff00 144.5px,#00ff17 145.5px,#00ffb7 148.5px,#00ffe6 149.5px,#00f3ff 150.5px,#00d8ff 151.5px,#00cfff 152.5px,#00e7ff 154.5px,#00fcff 155.5px,#00fff7 157.5px,#00ffde 158.5px,#00ffb6 159.5px,#00ff9f 160.5px,#00ff9a 162.5px,#00ff7c 164.5px,#00ffa3 167.5px,#00fff5 170.5px,#00e9ff 171.5px,#00e3ff 173.5px,#0013fb 178.5px,#0000f9 179.5px,#0000f5 196.5px)"></i><i style="background:linear-gradient(90deg,#0000f5 0.5px,#0000fa 17.5px,#000efb 18.5px,#00a1ff 22.5px,#00ceff 23.5px,#00edff 24.5px,#00feff 25.5px,#00fff6 26.5px,#00ff72 30.5px,#00ff6b 31.5px,#00ff9a 34.5px,#00ffa3 36.5px,#00ffb9 37.5px,#00fffd 39.5px,#00e2ff 40.5px,#00c6ff 43.5px,#00e1ff 45.5px,#00fffd 46.5px,#00ffac 48.5px,#00ff0c 51.5px,#5fff00 53.5px,#f1ff00 56.5px,#ffdf00 57.5px,#ff6800 60.5px,#ff3000 62.5px,#ff0900 65.5px,#ff2300 68.5px,#ff7a00 72.5px,#ffcc00 76.5px,#ffdb00 78.5px,#ffcc00 80.5px,#ff9900 82.5px,#ff1d00 85.5px,#ff0000 86.5px,#ff0000 110.5px,#ffa000 114.5px,#ffcf00 116.5px,#ffda00 118.5px,#ffc900 120.5px,#ff7500 124.5px,#ff3000 127.5px,#ff0b00 130.5px,#ff1400 132.5px,#ff3400 134.5px,#ff9300 137.5px,#ffe800 139.5px,#e8ff00 140.5px,#20ff00 144.5px,#00ff16 145.5px,#00ffb6 148.5px,#00ffe5 149.5px,#00f3ff 150.5px,#00d7ff 151.5px,#00cfff 152.5px,#00ebff 154.5px,#00fffd 155.5px,#00fff7 157.5px,#00ffe4 158.5px,#00ffa6 160.5px,#00ff90 162.5px,#00ff79 163.5px,#00ff77 164.5px,#00ff98 166.5px,#00ff9f 167.5px,#00fff7 170.5px,#00eaff 171.5px,#00e5ff 173.5px,#000efb 178.5px,#0000f9 179.5px,#0000f5 196.5px)"></i><i style="background:linear-gradient(90deg,#0000f5 0.5px,#0000fa 17.5px,#0012fb 18.5px,#005dff 20.5px,#0094ff 22.5px,#00c7ff 23.5px,#00edff 24.5px,#00fffb 25.5px,#00ffd4 27.5px,#00ff75 30.5px,#00ff6a 31.5px,#00ff99 34.5px,#00ffa6 36.5px,#00ffba 37.5px,#00fff9 39.5px,#00edff 41.5px,#00c9ff 43.5px,#00ccff 44.5px,#00dfff 45.5px,#00fffd 46.5px,#00ffaa 48.5px,#00ff0c 51.5px,#5fff00 53.5px,#f2ff00 56.5px,#ffde00 57.5px,#ff6700 60.5px,#ff2f00 62.5px,#ff0800 65.5px,#ff2200 68.5px,#ff6000 71.5px,#ffbb00 75.5px,#ffda00 78.5px,#ffcb00 80.5px,#ff9900 82.5px,#ff1d00 85.5px,#ff0000 86.5px,#ff0000 110.5px,#ffa000 114.5px,#ffce00 116.5px,#ffd900 118.5px,#ffb700 121.5px,#ff2f00 127.5px,#ff0a00 130.5px,#ff1300 132.5px,#ff3300 134.5px,#ff9200 137.5px,#ffe700 139.5px,#e9ff00 140.5px,#21ff00 144.5px,#00ff16 145.5px,#00ffb6 148.5px,#00ffe5 149.5px,#00f3ff 150.5px,#00d6ff 151.5px,#00cfff 152.5px,#00ecff 154.5px,#00fffc 155.5px,#00ffeb 158.5px,#00ffb2 160.5px,#00ff70 163.5px,#00ff73 164.5px,#00ff93 166.5px,#00ff9a 167.5px,#00ffb0 168.5px,#00fff7 170.5px,#00e8ff 171.5px,#00e1ff 173.5px,#000dfb 178.5px,#0000f9 179.5px,#0000f5 196.5px)"></i><i style="background:linear-gradient(90deg,#0000f5 0.5px,#0000fa 17.5px,#0016fb 18.5px,#005eff 20.5px,#008dff 22.5px,#00edff 24.5px,#00fff7 25.5px,#00ffbf 28.5px,#00ff7d 30.5px,#00ff6c 31.5px,#00ffa3 35.5px,#00ffbe 37.5px,#00fff3 39.5px,#00faff 41.5px,#00ccff 43.5px,#00c8ff 44.5px,#00dbff 45.5px,#00fffd 46.5px,#00ffa9 48.5px,#00ff0c 51.5px,#5fff00 53.5px,#f3ff00 56.5px,#ffb200 58.5px,#ff4600 61.5px,#ff1000 64.5px,#ff0a00 66.5px,#ff3200 69.5px,#ffb900 75.5px,#ffd900 78.5px,#ffcb00 80.5px,#ff9800 82.5px,#ff1c00 85.5px,#ff0000 86.5px,#ff0000 110.5px,#ff9f00 114.5px,#ffcd00 116.5px,#ffd800 118.5px,#ffb500 121.5px,#ff2e00 127.5px,#ff0900 130.5px,#ff1200 132.5px,#ff4c00 135.5px,#ffba00 138.5px,#ffe700 139.5px,#e9ff00 140.5px,#21ff00 144.5px,#00ff15 145.5px,#00ffb7 148.5px,#00ffe6 149.5px,#00f2ff 150.5px,#00d5ff 151.5px,#00d0ff 152.5px,#00fcff 155.5px,#00fff0 158.5px,#00ffa4 161.5px,#00ff69 163.5px,#00ff6e 164.5px,#00ffa8 168.5px,#00fff5 170.5px,#00e4ff 171.5px,#00d9ff 173.5px,#0035fd 177.5px,#000efb 178.5px,#0000f9 179.5px,#0000f5 196.5px)"></i><i style="background:linear-gradient(90deg,#0000f5 0.5px,#0000fa 17.5px,#005fff 20.5px,#006dff 21.5px,#008aff 22.5px,#00ecff 24.5px,#00fff5 25.5px,#00ffc3 28.5px,#00ff72 31.5px,#00ffa1 34.5px,#00ffc2 37.5px,#00ffef 39.5px,#00ffff 41.5px,#00cdff 43.5px,#00c5ff 44.5px,#00d7ff 45.5px,#00fffe 46.5px,#00ff78 49.5px,#00ff0c 51.5px,#5fff00 53.5px,#f3ff00 56.5px,#ffb100 58.5px,#ff4500 61.5px,#ff0f00 64.5px,#ff0900 66.5px,#ff3000 69.5px,#ffb800 75.5px,#ffd300 77.5px,#ffd500 79.5px,#ffb600 81.5px,#ff7300 83.5px,#ff1c00 85.5px,#ff0000 86.5px,#ff0000 110.5px,#ff9f00 114.5px,#ffcd00 116.5px,#ffd700 118.5px,#ffb400 121.5px,#ff2d00 127.5px,#ff0800 130.5px,#ff1100 132.5px,#ff4b00 135.5px,#ffb900 138.5px,#ffe600 139.5px,#eaff00 140.5px,#21ff00 144.5px,#00ff15 145.5px,#00ffb8 148.5px,#00ffe7 149.5px,#00f1ff 150.5px,#00d4ff 151.5px,#00cfff 152.5px,#00fdff 156.5px,#00ffe2 159.5px,#00ff7a 162.5px,#00ff63 163.5px,#00ffa3 168.5px,#00ffc3 169.5px,#00fff0 170.5px,#00e1ff 171.5px,#00d1ff 172.5px,#00d1ff 173.5px,#00acff 174.5px,#0054fe 176.5px,#0014fb 178.5px,#0000f9 179.5px,#0000f5 196.5px)"></i><i style="background:linear-gradient(90deg,#0000f5 0.5px,#0000fa 17.5px,#005fff 20.5px,#006bff 21.5px,#008aff 22.5px,#00ecff 24.5px,#00fff5 25.5px,#00ffc1 28.5px,#00ff7c 31.5px,#00ffa1 33.5px,#00ffa5 35.5px,#00ffed 39.5px,#00fcff 41.5px,#00c9ff 43.5px,#00c0ff 44.5px,#00d5ff 45.5px,#00fffe 46.5px,#00ff78 49.5px,#00ff0c 51.5px,#5fff00 53.5px,#f4ff00 56.5px,#ffb000 58.5px,#ff4400 61.5px,#ff0e00 64.5px,#ff0800 66.5px,#ff2f00 69.5px,#ffb600 75.5px,#ffd600 78.5px,#ffc900 80.5px,#ff9800 82.5px,#ff1c00 85.5px,#ff0000 86.5px,#ff0000 110.5px,#ff9e00 114.5px,#ffcc00 116.5px,#ffd600 118.5px,#ffb200 121.5px,#ff2c00 127.5px,#ff0700 130.5px,#ff1000 132.5px,#ff4a00 135.5px,#ffb900 138.5px,#ffe500 139.5px,#eaff00 140.5px,#22ff00 144.5px,#00ff15 145.5px,#00ffb9 148.5px,#00ffe8 149.5px,#00f0ff 150.5px,#00d3ff 151.5px,#00ccff 152.5px,#00dfff 154.5px,#00deff 155.5px,#00f1ff 156.5px,#00fff2 157.5px,#00ffdd 159.5px,#00ff75 162.5px,#00ff60 163.5px,#00ff90 167.5px,#00ffbd 169.5px,#00ffe8 170.5px,#00e4ff 171.5px,#00cdff 172.5px,#00d0ff 173.5px,#00adff 174.5px,#004cfe 176.5px,#0000fa 179.5px,#0000f5 196.5px)"></i><i style="background:linear-gradient(90deg,#0000f5 0.5px,#0000fa 17.5px,#0046fe 19.5px,#0068ff 21.5px,#008cff 22.5px,#00f1ff 24.5px,#00fff4 25.5px,#00ffd9 27.5px,#00ffa3 29.5px,#00ff86 31.5px,#00ffa8 33.5px,#00ff9e 35.5px,#00fffb 40.5px,#00f4ff 41.5px,#00c1ff 43.5px,#00baff 44.5px,#00d4ff 45.5px,#00fffd 46.5px,#00ff79 49.5px,#00ff0c 51.5px,#60ff00 53.5px,#f5ff00 56.5px,#ffaf00 58.5px,#ff4300 61.5px,#ff0d00 64.5px,#ff0700 66.5px,#ff2e00 69.5px,#ffb500 75.5px,#ffd500 78.5px,#ffc800 80.5px,#ff9700 82.5px,#ff1c00 85.5px,#ff0000 86.5px,#ff0000 110.5px,#ff9e00 114.5px,#ffcb00 116.5px,#ffd500 118.5px,#ffb100 121.5px,#ff2b00 127.5px,#ff0600 130.5px,#ff0f00 132.5px,#ff4900 135.5px,#ffb800 138.5px,#ffe400 139.5px,#ebff00 140.5px,#22ff00 144.5px,#00ff15 145.5px,#00ffb9 148.5px,#00ffe8 149.5px,#00f0ff 150.5px,#00d2ff 151.5px,#00c9ff 152.5px,#00dbff 154.5px,#00ceff 155.5px,#00e3ff 156.5px,#00fff2 157.5px,#00ffb7 160.5px,#00ff75 162.5px,#00ff61 163.5px,#00ff68 164.5px,#00ff88 166.5px,#00ffa4 168.5px,#00ffb8 169.5px,#00ffe0 170.5px,#00f1ff 171.5px,#00d6ff 172.5px,#00d9ff 173.5px,#00b3ff 174.5px,#0046fe 176.5px,#0026fc 177.5px,#001ffc 178.5px,#0000f9 180.5px,#0000f5 196.5px)"></i><i style="background:linear-gradient(90deg,#0000f5 0.5px,#0000fa 17.5px,#0045fd 19.5px,#0064ff 21.5px,#0090ff 22.5px,#00f8ff 24.5px,#00ffda 27.5px,#00ff9b 29.5px,#00ff8b 31.5px,#00ffa8 33.5px,#00ff95 35.5px,#00fcff 40.5px,#00b9ff 43.5px,#00b5ff 44.5px,#00fffc 46.5px,#00ffab 48.5px,#00ff0c 51.5px,#60ff00 53.5px,#f5ff00 56.5px,#ffae00 58.5px,#ff4200 61.5px,#ff0c00 64.5px,#ff0600 66.5px,#ff4000 70.5px,#ffb300 75.5px,#ffd400 78.5px,#ffc800 80.5px,#ff9700 82.5px,#ff1c00 85.5px,#ff0000 86.5px,#ff0000 110.5px,#ff9d00 114.5px,#ffca00 116.5px,#ffd400 118.5px,#ffb000 121.5px,#ff2a00 127.5px,#ff0500 130.5px,#ff0e00 132.5px,#ff4800 135.5px,#ffb700 138.5px,#ffe400 139.5px,#ecff00 140.5px,#23ff00 144.5px,#00ff14 145.5px,#00ffb8 148.5px,#00ffe7 149.5px,#00f0ff 150.5px,#00d1ff 151.5px,#00c5ff 152.5px,#00d9ff 154.5px,#00c1ff 155.5px,#00d6ff 156.5px,#00fff2 157.5px,#00ff9d 161.5px,#00ff79 162.5px,#00ff65 163.5px,#00ff6c 164.5px,#00ff85 165.5px,#00ff93 167.5px,#00ffb4 169.5px,#00fffe 171.5px,#00e7ff 172.5px,#00e7ff 173.5px,#00bdff 174.5px,#0043fd 176.5px,#0020fc 177.5px,#0021fc 178.5px,#0000fa 180.5px,#0000f5 196.5px)"></i><i style="background:linear-gradient(90deg,#0000f5 0.5px,#0000fa 17.5px,#0043fd 19.5px,#0061ff 21.5px,#00d1ff 23.5px,#00ffff 24.5px,#00ffdb 27.5px,#00ff95 29.5px,#00ff8d 31.5px,#00ffa6 33.5px,#00ff8e 35.5px,#00ffc3 37.5px,#00fff1 39.5px,#00f5ff 40.5px,#00e6ff 41.5px,#00b3ff 43.5px,#00b3ff 44.5px,#00fffc 46.5px,#00ffac 48.5px,#00ff0b 51.5px,#60ff00 53.5px,#f6ff00 56.5px,#ff8500 59.5px,#ff4100 61.5px,#ff0b00 64.5px,#ff0500 66.5px,#ff3f00 70.5px,#ffb200 75.5px,#ffd300 78.5px,#ffc700 80.5px,#ff9600 82.5px,#ff1c00 85.5px,#ff0000 86.5px,#ff0000 110.5px,#ff9d00 114.5px,#ffca00 116.5px,#ffd300 118.5px,#ffae00 121.5px,#ff2900 127.5px,#ff0400 130.5px,#ff0e00 132.5px,#ff4700 135.5px,#ffb600 138.5px,#ffe300 139.5px,#ecff00 140.5px,#23ff00 144.5px,#00ff14 145.5px,#00ffb8 148.5px,#00ffe7 149.5px,#00f0ff 150.5px,#00d1ff 151.5px,#00c3ff 152.5px,#00d9ff 154.5px,#00baff 155.5px,#00cdff 156.5px,#00fff3 157.5px,#00ffb9 159.5px,#00ffa0 161.5px,#00ff7d 162.5px,#00ff68 163.5px,#00ff70 164.5px,#00ff8b 165.5px,#00ff96 167.5px,#00ffb2 169.5px,#00fff7 171.5px,#00f2ff 173.5px,#00c4ff 174.5px,#0043fd 176.5px,#001dfb 177.5px,#001bfb 179.5px,#0000fa 180.5px,#0000f5 196.5px)"></i></div><div id="cb"></div>
<svg width="500" height="358" style="position:absolute;left:0;top:0;font-family:'Liberation Sans', sans-serif"><line x1="36.00" y1="170.30" x2="38.00" y2="170.30" stroke="#383838" stroke-width="0.9"/>
<line x1="233.00" y1="170.30" x2="231.00" y2="170.30" stroke="#383838" stroke-width="0.9"/>
<line x1="36.00" y1="151.80" x2="39.00" y2="151.80" stroke="#383838" stroke-width="0.9"/>
<line x1="233.00" y1="151.80" x2="230.00" y2="151.80" stroke="#383838" stroke-width="0.9"/>
<line x1="36.00" y1="133.30" x2="38.00" y2="133.30" stroke="#383838" stroke-width="0.9"/>
<line x1="233.00" y1="133.30" x2="231.00" y2="133.30" stroke="#383838" stroke-width="0.9"/>
<line x1="36.00" y1="114.80" x2="39.00" y2="114.80" stroke="#383838" stroke-width="0.9"/>
<line x1="233.00" y1="114.80" x2="230.00" y2="114.80" stroke="#383838" stroke-width="0.9"/>
<line x1="36.00" y1="96.30" x2="38.00" y2="96.30" stroke="#383838" stroke-width="0.9"/>
<line x1="233.00" y1="96.30" x2="231.00" y2="96.30" stroke="#383838" stroke-width="0.9"/>
<line x1="36.00" y1="77.80" x2="39.00" y2="77.80" stroke="#383838" stroke-width="0.9"/>
<line x1="233.00" y1="77.80" x2="230.00" y2="77.80" stroke="#383838" stroke-width="0.9"/>
<line x1="36.00" y1="59.30" x2="38.00" y2="59.30" stroke="#383838" stroke-width="0.9"/>
<line x1="233.00" y1="59.30" x2="231.00" y2="59.30" stroke="#383838" stroke-width="0.9"/>
<line x1="36.00" y1="40.80" x2="39.00" y2="40.80" stroke="#383838" stroke-width="0.9"/>
<line x1="233.00" y1="40.80" x2="230.00" y2="40.80" stroke="#383838" stroke-width="0.9"/>
<line x1="36.00" y1="22.30" x2="38.00" y2="22.30" stroke="#383838" stroke-width="0.9"/>
<line x1="233.00" y1="22.30" x2="231.00" y2="22.30" stroke="#383838" stroke-width="0.9"/>
<line x1="36.00" y1="3.80" x2="39.00" y2="3.80" stroke="#383838" stroke-width="0.9"/>
<line x1="233.00" y1="3.80" x2="230.00" y2="3.80" stroke="#383838" stroke-width="0.9"/>
<line x1="36.00" y1="182.00" x2="36.00" y2="179.00" stroke="#383838" stroke-width="0.9"/>
<line x1="36.00" y1="0.00" x2="36.00" y2="3.00" stroke="#383838" stroke-width="0.9"/>
<line x1="52.40" y1="182.00" x2="52.40" y2="180.00" stroke="#383838" stroke-width="0.9"/>
<line x1="52.40" y1="0.00" x2="52.40" y2="2.00" stroke="#383838" stroke-width="0.9"/>
<line x1="68.80" y1="182.00" x2="68.80" y2="179.00" stroke="#383838" stroke-width="0.9"/>
<line x1="68.80" y1="0.00" x2="68.80" y2="3.00" stroke="#383838" stroke-width="0.9"/>
<line x1="85.20" y1="182.00" x2="85.20" y2="180.00" stroke="#383838" stroke-width="0.9"/>
<line x1="85.20" y1="0.00" x2="85.20" y2="2.00" stroke="#383838" stroke-width="0.9"/>
<line x1="101.60" y1="182.00" x2="101.60" y2="179.00" stroke="#383838" stroke-width="0.9"/>
<line x1="101.60" y1="0.00" x2="101.60" y2="3.00" stroke="#383838" stroke-width="0.9"/>
<line x1="118.00" y1="182.00" x2="118.00" y2="180.00" stroke="#383838" stroke-width="0.9"/>
<line x1="118.00" y1="0.00" x2="118.00" y2="2.00" stroke="#383838" stroke-width="0.9"/>
<line x1="134.40" y1="182.00" x2="134.40" y2="179.00" stroke="#383838" stroke-width="0.9"/>
<line x1="134.40" y1="0.00" x2="134.40" y2="3.00" stroke="#383838" stroke-width="0.9"/>
<line x1="150.80" y1="182.00" x2="150.80" y2="180.00" stroke="#383838" stroke-width="0.9"/>
<line x1="150.80" y1="0.00" x2="150.80" y2="2.00" stroke="#383838" stroke-width="0.9"/>
<line x1="167.20" y1="182.00" x2="167.20" y2="179.00" stroke="#383838" stroke-width="0.9"/>
<line x1="167.20" y1="0.00" x2="167.20" y2="3.00" stroke="#383838" stroke-width="0.9"/>
<line x1="183.60" y1="182.00" x2="183.60" y2="180.00" stroke="#383838" stroke-width="0.9"/>
<line x1="183.60" y1="0.00" x2="183.60" y2="2.00" stroke="#383838" stroke-width="0.9"/>
<line x1="200.00" y1="182.00" x2="200.00" y2="179.00" stroke="#383838" stroke-width="0.9"/>
<line x1="200.00" y1="0.00" x2="200.00" y2="3.00" stroke="#383838" stroke-width="0.9"/>
<line x1="216.40" y1="182.00" x2="216.40" y2="180.00" stroke="#383838" stroke-width="0.9"/>
<line x1="216.40" y1="0.00" x2="216.40" y2="2.00" stroke="#383838" stroke-width="0.9"/>
<line x1="232.80" y1="182.00" x2="232.80" y2="179.00" stroke="#383838" stroke-width="0.9"/>
<line x1="232.80" y1="0.00" x2="232.80" y2="3.00" stroke="#383838" stroke-width="0.9"/>
<text x="0" y="0" font-size="10" text-anchor="end" fill="#1a1a1a" stroke="#1a1a1a" stroke-width="0.22" transform="translate(32.00 155.60) scale(0.93 1)">50</text>
<text x="0" y="0" font-size="10" text-anchor="end" fill="#1a1a1a" stroke="#1a1a1a" stroke-width="0.22" transform="translate(32.00 118.60) scale(0.93 1)">100</text>
<text x="0" y="0" font-size="10" text-anchor="end" fill="#1a1a1a" stroke="#1a1a1a" stroke-width="0.22" transform="translate(32.00 81.60) scale(0.93 1)">150</text>
<text x="0" y="0" font-size="10" text-anchor="end" fill="#1a1a1a" stroke="#1a1a1a" stroke-width="0.22" transform="translate(32.00 44.60) scale(0.93 1)">200</text>
<text x="0" y="0" font-size="10" text-anchor="end" fill="#1a1a1a" stroke="#1a1a1a" stroke-width="0.22" transform="translate(32.00 7.60) scale(0.93 1)">250</text>
<text x="0" y="0" font-size="12.2" text-anchor="middle" fill="#1a1a1a" stroke="#1a1a1a" stroke-width="0.22" transform="translate(11.20 91.50) rotate(-90)">T (K)</text>
<text x="0" y="0" font-size="12" text-anchor="start" fill="#1a1a1a" stroke="#1a1a1a" stroke-width="0.22" transform="translate(39.00 11.60)">(a)</text>
<line x1="36.00" y1="0.50" x2="233.00" y2="0.50" stroke="#1a1a3a" stroke-width="1"/>
<line x1="244.50" y1="38.40" x2="247.50" y2="38.40" stroke="#666" stroke-width="0.7"/>
<text x="0" y="0" font-size="7.2" text-anchor="start" fill="#444" stroke="#444" stroke-width="0.1" transform="translate(250.80 42.30) scale(0.93 1)">10<tspan dy="-3.2" font-size="5">3</tspan></text>
<line x1="244.50" y1="125.40" x2="247.50" y2="125.40" stroke="#666" stroke-width="0.7"/>
<text x="0" y="0" font-size="7.2" text-anchor="start" fill="#444" stroke="#444" stroke-width="0.1" transform="translate(250.80 129.30) scale(0.93 1)">10<tspan dy="-3.2" font-size="5">2</tspan></text>
<line x1="244.50" y1="177.78" x2="247.50" y2="177.78" stroke="#666" stroke-width="0.7"/>
<text x="0" y="0" font-size="7.2" text-anchor="start" fill="#444" stroke="#444" stroke-width="0.1" transform="translate(250.20 180.88) scale(0.95 1)">2.500×10<tspan dy="-3.2" font-size="5">1</tspan></text>
<line x1="244.50" y1="170.89" x2="246.20" y2="170.89" stroke="#777" stroke-width="0.5"/>
<line x1="244.50" y1="160.02" x2="246.20" y2="160.02" stroke="#777" stroke-width="0.5"/>
<line x1="244.50" y1="151.59" x2="246.20" y2="151.59" stroke="#777" stroke-width="0.5"/>
<line x1="244.50" y1="144.70" x2="246.20" y2="144.70" stroke="#777" stroke-width="0.5"/>
<line x1="244.50" y1="138.88" x2="246.20" y2="138.88" stroke="#777" stroke-width="0.5"/>
<line x1="244.50" y1="133.83" x2="246.20" y2="133.83" stroke="#777" stroke-width="0.5"/>
<line x1="244.50" y1="129.38" x2="246.20" y2="129.38" stroke="#777" stroke-width="0.5"/>
<line x1="244.50" y1="99.21" x2="246.20" y2="99.21" stroke="#777" stroke-width="0.5"/>
<line x1="244.50" y1="83.89" x2="246.20" y2="83.89" stroke="#777" stroke-width="0.5"/>
<line x1="244.50" y1="73.02" x2="246.20" y2="73.02" stroke="#777" stroke-width="0.5"/>
<line x1="244.50" y1="64.59" x2="246.20" y2="64.59" stroke="#777" stroke-width="0.5"/>
<line x1="244.50" y1="57.70" x2="246.20" y2="57.70" stroke="#777" stroke-width="0.5"/>
<line x1="244.50" y1="51.88" x2="246.20" y2="51.88" stroke="#777" stroke-width="0.5"/>
<line x1="244.50" y1="46.83" x2="246.20" y2="46.83" stroke="#777" stroke-width="0.5"/>
<line x1="244.50" y1="42.38" x2="246.20" y2="42.38" stroke="#777" stroke-width="0.5"/>
<line x1="244.50" y1="12.21" x2="246.20" y2="12.21" stroke="#777" stroke-width="0.5"/>
<rect x="36" y="182.4" width="197" height="142.6" fill="none" stroke="#383838" stroke-width="1"/>
<line x1="36.00" y1="325.00" x2="36.00" y2="321.50" stroke="#383838" stroke-width="0.9"/>
<line x1="36.00" y1="182.40" x2="36.00" y2="185.90" stroke="#383838" stroke-width="0.9"/>
<line x1="52.40" y1="325.00" x2="52.40" y2="323.00" stroke="#383838" stroke-width="0.9"/>
<line x1="52.40" y1="182.40" x2="52.40" y2="184.40" stroke="#383838" stroke-width="0.9"/>
<line x1="68.80" y1="325.00" x2="68.80" y2="321.50" stroke="#383838" stroke-width="0.9"/>
<line x1="68.80" y1="182.40" x2="68.80" y2="185.90" stroke="#383838" stroke-width="0.9"/>
<line x1="85.20" y1="325.00" x2="85.20" y2="323.00" stroke="#383838" stroke-width="0.9"/>
<line x1="85.20" y1="182.40" x2="85.20" y2="184.40" stroke="#383838" stroke-width="0.9"/>
<line x1="101.60" y1="325.00" x2="101.60" y2="321.50" stroke="#383838" stroke-width="0.9"/>
<line x1="101.60" y1="182.40" x2="101.60" y2="185.90" stroke="#383838" stroke-width="0.9"/>
<line x1="118.00" y1="325.00" x2="118.00" y2="323.00" stroke="#383838" stroke-width="0.9"/>
<line x1="118.00" y1="182.40" x2="118.00" y2="184.40" stroke="#383838" stroke-width="0.9"/>
<line x1="134.40" y1="325.00" x2="134.40" y2="321.50" stroke="#383838" stroke-width="0.9"/>
<line x1="134.40" y1="182.40" x2="134.40" y2="185.90" stroke="#383838" stroke-width="0.9"/>
<line x1="150.80" y1="325.00" x2="150.80" y2="323.00" stroke="#383838" stroke-width="0.9"/>
<line x1="150.80" y1="182.40" x2="150.80" y2="184.40" stroke="#383838" stroke-width="0.9"/>
<line x1="167.20" y1="325.00" x2="167.20" y2="321.50" stroke="#383838" stroke-width="0.9"/>
<line x1="167.20" y1="182.40" x2="167.20" y2="185.90" stroke="#383838" stroke-width="0.9"/>
<line x1="183.60" y1="325.00" x2="183.60" y2="323.00" stroke="#383838" stroke-width="0.9"/>
<line x1="183.60" y1="182.40" x2="183.60" y2="184.40" stroke="#383838" stroke-width="0.9"/>
<line x1="200.00" y1="325.00" x2="200.00" y2="321.50" stroke="#383838" stroke-width="0.9"/>
<line x1="200.00" y1="182.40" x2="200.00" y2="185.90" stroke="#383838" stroke-width="0.9"/>
<line x1="216.40" y1="325.00" x2="216.40" y2="323.00" stroke="#383838" stroke-width="0.9"/>
<line x1="216.40" y1="182.40" x2="216.40" y2="184.40" stroke="#383838" stroke-width="0.9"/>
<line x1="232.80" y1="325.00" x2="232.80" y2="321.50" stroke="#383838" stroke-width="0.9"/>
<line x1="232.80" y1="182.40" x2="232.80" y2="185.90" stroke="#383838" stroke-width="0.9"/>
<text x="0" y="0" font-size="10" text-anchor="middle" fill="#1a1a1a" stroke="#1a1a1a" stroke-width="0.22" transform="translate(36.00 337.00) scale(0.93 1)">-0.3</text>
<text x="0" y="0" font-size="10" text-anchor="middle" fill="#1a1a1a" stroke="#1a1a1a" stroke-width="0.22" transform="translate(68.80 337.00) scale(0.93 1)">-0.2</text>
<text x="0" y="0" font-size="10" text-anchor="middle" fill="#1a1a1a" stroke="#1a1a1a" stroke-width="0.22" transform="translate(101.60 337.00) scale(0.93 1)">-0.1</text>
<text x="0" y="0" font-size="10" text-anchor="middle" fill="#1a1a1a" stroke="#1a1a1a" stroke-width="0.22" transform="translate(134.40 337.00) scale(0.93 1)">0.0</text>
<text x="0" y="0" font-size="10" text-anchor="middle" fill="#1a1a1a" stroke="#1a1a1a" stroke-width="0.22" transform="translate(167.20 337.00) scale(0.93 1)">0.1</text>
<text x="0" y="0" font-size="10" text-anchor="middle" fill="#1a1a1a" stroke="#1a1a1a" stroke-width="0.22" transform="translate(200.00 337.00) scale(0.93 1)">0.2</text>
<text x="0" y="0" font-size="10" text-anchor="middle" fill="#1a1a1a" stroke="#1a1a1a" stroke-width="0.22" transform="translate(232.80 337.00) scale(0.93 1)">0.3</text>
<line x1="36.00" y1="324.80" x2="39.50" y2="324.80" stroke="#383838" stroke-width="0.7"/>
<line x1="233.00" y1="324.80" x2="229.50" y2="324.80" stroke="#383838" stroke-width="0.7"/>
<line x1="36.00" y1="310.77" x2="38.00" y2="310.77" stroke="#383838" stroke-width="0.7"/>
<line x1="233.00" y1="310.77" x2="231.00" y2="310.77" stroke="#383838" stroke-width="0.7"/>
<line x1="36.00" y1="302.57" x2="38.00" y2="302.57" stroke="#383838" stroke-width="0.7"/>
<line x1="233.00" y1="302.57" x2="231.00" y2="302.57" stroke="#383838" stroke-width="0.7"/>
<line x1="36.00" y1="296.74" x2="38.00" y2="296.74" stroke="#383838" stroke-width="0.7"/>
<line x1="233.00" y1="296.74" x2="231.00" y2="296.74" stroke="#383838" stroke-width="0.7"/>
<line x1="36.00" y1="292.23" x2="38.00" y2="292.23" stroke="#383838" stroke-width="0.7"/>
<line x1="233.00" y1="292.23" x2="231.00" y2="292.23" stroke="#383838" stroke-width="0.7"/>
<line x1="36.00" y1="288.54" x2="38.00" y2="288.54" stroke="#383838" stroke-width="0.7"/>
<line x1="233.00" y1="288.54" x2="231.00" y2="288.54" stroke="#383838" stroke-width="0.7"/>
<line x1="36.00" y1="285.42" x2="38.00" y2="285.42" stroke="#383838" stroke-width="0.7"/>
<line x1="233.00" y1="285.42" x2="231.00" y2="285.42" stroke="#383838" stroke-width="0.7"/>
<line x1="36.00" y1="282.72" x2="38.00" y2="282.72" stroke="#383838" stroke-width="0.7"/>
<line x1="233.00" y1="282.72" x2="231.00" y2="282.72" stroke="#383838" stroke-width="0.7"/>
<line x1="36.00" y1="280.33" x2="38.00" y2="280.33" stroke="#383838" stroke-width="0.7"/>
<line x1="233.00" y1="280.33" x2="231.00" y2="280.33" stroke="#383838" stroke-width="0.7"/>
<line x1="36.00" y1="278.20" x2="39.50" y2="278.20" stroke="#383838" stroke-width="0.7"/>
<line x1="233.00" y1="278.20" x2="229.50" y2="278.20" stroke="#383838" stroke-width="0.7"/>
<line x1="36.00" y1="264.17" x2="38.00" y2="264.17" stroke="#383838" stroke-width="0.7"/>
<line x1="233.00" y1="264.17" x2="231.00" y2="264.17" stroke="#383838" stroke-width="0.7"/>
<line x1="36.00" y1="255.97" x2="38.00" y2="255.97" stroke="#383838" stroke-width="0.7"/>
<line x1="233.00" y1="255.97" x2="231.00" y2="255.97" stroke="#383838" stroke-width="0.7"/>
<line x1="36.00" y1="250.14" x2="38.00" y2="250.14" stroke="#383838" stroke-width="0.7"/>
<line x1="233.00" y1="250.14" x2="231.00" y2="250.14" stroke="#383838" stroke-width="0.7"/>
<line x1="36.00" y1="245.63" x2="38.00" y2="245.63" stroke="#383838" stroke-width="0.7"/>
<line x1="233.00" y1="245.63" x2="231.00" y2="245.63" stroke="#383838" stroke-width="0.7"/>
<line x1="36.00" y1="241.94" x2="38.00" y2="241.94" stroke="#383838" stroke-width="0.7"/>
<line x1="233.00" y1="241.94" x2="231.00" y2="241.94" stroke="#383838" stroke-width="0.7"/>
<line x1="36.00" y1="238.82" x2="38.00" y2="238.82" stroke="#383838" stroke-width="0.7"/>
<line x1="233.00" y1="238.82" x2="231.00" y2="238.82" stroke="#383838" stroke-width="0.7"/>
<line x1="36.00" y1="236.12" x2="38.00" y2="236.12" stroke="#383838" stroke-width="0.7"/>
<line x1="233.00" y1="236.12" x2="231.00" y2="236.12" stroke="#383838" stroke-width="0.7"/>
<line x1="36.00" y1="233.73" x2="38.00" y2="233.73" stroke="#383838" stroke-width="0.7"/>
<line x1="233.00" y1="233.73" x2="231.00" y2="233.73" stroke="#383838" stroke-width="0.7"/>
<line x1="36.00" y1="231.60" x2="39.50" y2="231.60" stroke="#383838" stroke-width="0.7"/>
<line x1="233.00" y1="231.60" x2="229.50" y2="231.60" stroke="#383838" stroke-width="0.7"/>
<line x1="36.00" y1="217.57" x2="38.00" y2="217.57" stroke="#383838" stroke-width="0.7"/>
<line x1="233.00" y1="217.57" x2="231.00" y2="217.57" stroke="#383838" stroke-width="0.7"/>
<line x1="36.00" y1="209.37" x2="38.00" y2="209.37" stroke="#383838" stroke-width="0.7"/>
<line x1="233.00" y1="209.37" x2="231.00" y2="209.37" stroke="#383838" stroke-width="0.7"/>
<line x1="36.00" y1="203.54" x2="38.00" y2="203.54" stroke="#383838" stroke-width="0.7"/>
<line x1="233.00" y1="203.54" x2="231.00" y2="203.54" stroke="#383838" stroke-width="0.7"/>
<line x1="36.00" y1="199.03" x2="38.00" y2="199.03" stroke="#383838" stroke-width="0.7"/>
<line x1="233.00" y1="199.03" x2="231.00" y2="199.03" stroke="#383838" stroke-width="0.7"/>
<line x1="36.00" y1="195.34" x2="38.00" y2="195.34" stroke="#383838" stroke-width="0.7"/>
<line x1="233.00" y1="195.34" x2="231.00" y2="195.34" stroke="#383838" stroke-width="0.7"/>
<line x1="36.00" y1="192.22" x2="38.00" y2="192.22" stroke="#383838" stroke-width="0.7"/>
<line x1="233.00" y1="192.22" x2="231.00" y2="192.22" stroke="#383838" stroke-width="0.7"/>
<line x1="36.00" y1="189.52" x2="38.00" y2="189.52" stroke="#383838" stroke-width="0.7"/>
<line x1="233.00" y1="189.52" x2="231.00" y2="189.52" stroke="#383838" stroke-width="0.7"/>
<line x1="36.00" y1="187.13" x2="38.00" y2="187.13" stroke="#383838" stroke-width="0.7"/>
<line x1="233.00" y1="187.13" x2="231.00" y2="187.13" stroke="#383838" stroke-width="0.7"/>
<text x="0" y="0" font-size="10" text-anchor="end" fill="#1a1a1a" stroke="#1a1a1a" stroke-width="0.22" transform="translate(28.20 329.40) scale(0.93 1)">10</text>
<text x="0" y="0" font-size="6.5" text-anchor="start" fill="#1a1a1a" stroke="#1a1a1a" stroke-width="0.1" transform="translate(28.60 324.40) scale(0.93 1)">1</text>
<text x="0" y="0" font-size="10" text-anchor="end" fill="#1a1a1a" stroke="#1a1a1a" stroke-width="0.22" transform="translate(28.20 282.80) scale(0.93 1)">10</text>
<text x="0" y="0" font-size="6.5" text-anchor="start" fill="#1a1a1a" stroke="#1a1a1a" stroke-width="0.1" transform="translate(28.60 277.80) scale(0.93 1)">2</text>
<text x="0" y="0" font-size="10" text-anchor="end" fill="#1a1a1a" stroke="#1a1a1a" stroke-width="0.22" transform="translate(28.20 236.20) scale(0.93 1)">10</text>
<text x="0" y="0" font-size="6.5" text-anchor="start" fill="#1a1a1a" stroke="#1a1a1a" stroke-width="0.1" transform="translate(28.60 231.20) scale(0.93 1)">3</text>
<text x="0" y="0" font-size="10" text-anchor="end" fill="#1a1a1a" stroke="#1a1a1a" stroke-width="0.22" transform="translate(28.20 189.60) scale(0.93 1)">10</text>
<text x="0" y="0" font-size="6.5" text-anchor="start" fill="#1a1a1a" stroke="#1a1a1a" stroke-width="0.1" transform="translate(28.60 184.60) scale(0.93 1)">4</text>
<text x="0" y="0" font-size="12.5" text-anchor="middle" fill="#1a1a1a" stroke="#1a1a1a" stroke-width="0.22" transform="translate(10.40 254.60) rotate(-90)">Intensity (counts/sec)</text>
<text x="0" y="0" font-size="13" text-anchor="middle" fill="#1a1a1a" stroke="#1a1a1a" stroke-width="0.22" transform="translate(135.60 355.20)">(2,0,L)</text>
<line x1="302.50" y1="0.50" x2="499.50" y2="0.50" stroke="#383838" stroke-width="1"/>
<line x1="302.50" y1="0.50" x2="302.50" y2="325.20" stroke="#383838" stroke-width="1"/>
<line x1="499.50" y1="0.50" x2="499.50" y2="325.20" stroke="#383838" stroke-width="1"/>
<line x1="302.50" y1="182.40" x2="499.50" y2="182.40" stroke="#383838" stroke-width="1"/>
<line x1="302.50" y1="325.20" x2="499.50" y2="325.20" stroke="#383838" stroke-width="1"/>
<line x1="302.50" y1="325.20" x2="302.50" y2="321.70" stroke="#383838" stroke-width="0.9"/>
<line x1="302.50" y1="178.90" x2="302.50" y2="185.90" stroke="#383838" stroke-width="0.9"/>
<line x1="302.50" y1="0.50" x2="302.50" y2="4.00" stroke="#383838" stroke-width="0.9"/>
<line x1="321.46" y1="325.20" x2="321.46" y2="323.20" stroke="#383838" stroke-width="0.9"/>
<line x1="321.46" y1="180.40" x2="321.46" y2="184.40" stroke="#383838" stroke-width="0.9"/>
<line x1="321.46" y1="0.50" x2="321.46" y2="2.50" stroke="#383838" stroke-width="0.9"/>
<line x1="340.42" y1="325.20" x2="340.42" y2="321.70" stroke="#383838" stroke-width="0.9"/>
<line x1="340.42" y1="178.90" x2="340.42" y2="185.90" stroke="#383838" stroke-width="0.9"/>
<line x1="340.42" y1="0.50" x2="340.42" y2="4.00" stroke="#383838" stroke-width="0.9"/>
<line x1="359.38" y1="325.20" x2="359.38" y2="323.20" stroke="#383838" stroke-width="0.9"/>
<line x1="359.38" y1="180.40" x2="359.38" y2="184.40" stroke="#383838" stroke-width="0.9"/>
<line x1="359.38" y1="0.50" x2="359.38" y2="2.50" stroke="#383838" stroke-width="0.9"/>
<line x1="378.34" y1="325.20" x2="378.34" y2="321.70" stroke="#383838" stroke-width="0.9"/>
<line x1="378.34" y1="178.90" x2="378.34" y2="185.90" stroke="#383838" stroke-width="0.9"/>
<line x1="378.34" y1="0.50" x2="378.34" y2="4.00" stroke="#383838" stroke-width="0.9"/>
<line x1="397.30" y1="325.20" x2="397.30" y2="323.20" stroke="#383838" stroke-width="0.9"/>
<line x1="397.30" y1="180.40" x2="397.30" y2="184.40" stroke="#383838" stroke-width="0.9"/>
<line x1="397.30" y1="0.50" x2="397.30" y2="2.50" stroke="#383838" stroke-width="0.9"/>
<line x1="416.26" y1="325.20" x2="416.26" y2="321.70" stroke="#383838" stroke-width="0.9"/>
<line x1="416.26" y1="178.90" x2="416.26" y2="185.90" stroke="#383838" stroke-width="0.9"/>
<line x1="416.26" y1="0.50" x2="416.26" y2="4.00" stroke="#383838" stroke-width="0.9"/>
<line x1="435.22" y1="325.20" x2="435.22" y2="323.20" stroke="#383838" stroke-width="0.9"/>
<line x1="435.22" y1="180.40" x2="435.22" y2="184.40" stroke="#383838" stroke-width="0.9"/>
<line x1="435.22" y1="0.50" x2="435.22" y2="2.50" stroke="#383838" stroke-width="0.9"/>
<line x1="454.18" y1="325.20" x2="454.18" y2="321.70" stroke="#383838" stroke-width="0.9"/>
<line x1="454.18" y1="178.90" x2="454.18" y2="185.90" stroke="#383838" stroke-width="0.9"/>
<line x1="454.18" y1="0.50" x2="454.18" y2="4.00" stroke="#383838" stroke-width="0.9"/>
<line x1="473.14" y1="325.20" x2="473.14" y2="323.20" stroke="#383838" stroke-width="0.9"/>
<line x1="473.14" y1="180.40" x2="473.14" y2="184.40" stroke="#383838" stroke-width="0.9"/>
<line x1="473.14" y1="0.50" x2="473.14" y2="2.50" stroke="#383838" stroke-width="0.9"/>
<line x1="492.10" y1="325.20" x2="492.10" y2="321.70" stroke="#383838" stroke-width="0.9"/>
<line x1="492.10" y1="178.90" x2="492.10" y2="185.90" stroke="#383838" stroke-width="0.9"/>
<line x1="492.10" y1="0.50" x2="492.10" y2="4.00" stroke="#383838" stroke-width="0.9"/>
<text x="0" y="0" font-size="10" text-anchor="middle" fill="#1a1a1a" stroke="#1a1a1a" stroke-width="0.22" transform="translate(302.50 337.20) scale(0.93 1)">0</text>
<text x="0" y="0" font-size="10" text-anchor="middle" fill="#1a1a1a" stroke="#1a1a1a" stroke-width="0.22" transform="translate(340.42 337.20) scale(0.93 1)">50</text>
<text x="0" y="0" font-size="10" text-anchor="middle" fill="#1a1a1a" stroke="#1a1a1a" stroke-width="0.22" transform="translate(378.34 337.20) scale(0.93 1)">100</text>
<text x="0" y="0" font-size="10" text-anchor="middle" fill="#1a1a1a" stroke="#1a1a1a" stroke-width="0.22" transform="translate(416.26 337.20) scale(0.93 1)">150</text>
<text x="0" y="0" font-size="10" text-anchor="middle" fill="#1a1a1a" stroke="#1a1a1a" stroke-width="0.22" transform="translate(454.18 337.20) scale(0.93 1)">200</text>
<text x="0" y="0" font-size="10" text-anchor="middle" fill="#1a1a1a" stroke="#1a1a1a" stroke-width="0.22" transform="translate(492.10 337.20) scale(0.93 1)">250</text>
<line x1="302.50" y1="168.92" x2="304.50" y2="168.92" stroke="#383838" stroke-width="0.9"/>
<line x1="499.50" y1="168.92" x2="497.50" y2="168.92" stroke="#383838" stroke-width="0.9"/>
<line x1="302.50" y1="155.44" x2="306.00" y2="155.44" stroke="#383838" stroke-width="0.9"/>
<line x1="499.50" y1="155.44" x2="496.00" y2="155.44" stroke="#383838" stroke-width="0.9"/>
<line x1="302.50" y1="141.96" x2="304.50" y2="141.96" stroke="#383838" stroke-width="0.9"/>
<line x1="499.50" y1="141.96" x2="497.50" y2="141.96" stroke="#383838" stroke-width="0.9"/>
<line x1="302.50" y1="128.48" x2="306.00" y2="128.48" stroke="#383838" stroke-width="0.9"/>
<line x1="499.50" y1="128.48" x2="496.00" y2="128.48" stroke="#383838" stroke-width="0.9"/>
<line x1="302.50" y1="115.00" x2="304.50" y2="115.00" stroke="#383838" stroke-width="0.9"/>
<line x1="499.50" y1="115.00" x2="497.50" y2="115.00" stroke="#383838" stroke-width="0.9"/>
<line x1="302.50" y1="101.52" x2="306.00" y2="101.52" stroke="#383838" stroke-width="0.9"/>
<line x1="499.50" y1="101.52" x2="496.00" y2="101.52" stroke="#383838" stroke-width="0.9"/>
<line x1="302.50" y1="88.04" x2="304.50" y2="88.04" stroke="#383838" stroke-width="0.9"/>
<line x1="499.50" y1="88.04" x2="497.50" y2="88.04" stroke="#383838" stroke-width="0.9"/>
<line x1="302.50" y1="74.56" x2="306.00" y2="74.56" stroke="#383838" stroke-width="0.9"/>
<line x1="499.50" y1="74.56" x2="496.00" y2="74.56" stroke="#383838" stroke-width="0.9"/>
<line x1="302.50" y1="61.08" x2="304.50" y2="61.08" stroke="#383838" stroke-width="0.9"/>
<line x1="499.50" y1="61.08" x2="497.50" y2="61.08" stroke="#383838" stroke-width="0.9"/>
<line x1="302.50" y1="47.60" x2="306.00" y2="47.60" stroke="#383838" stroke-width="0.9"/>
<line x1="499.50" y1="47.60" x2="496.00" y2="47.60" stroke="#383838" stroke-width="0.9"/>
<line x1="302.50" y1="34.12" x2="304.50" y2="34.12" stroke="#383838" stroke-width="0.9"/>
<line x1="499.50" y1="34.12" x2="497.50" y2="34.12" stroke="#383838" stroke-width="0.9"/>
<line x1="302.50" y1="20.64" x2="306.00" y2="20.64" stroke="#383838" stroke-width="0.9"/>
<line x1="499.50" y1="20.64" x2="496.00" y2="20.64" stroke="#383838" stroke-width="0.9"/>
<line x1="302.50" y1="7.16" x2="304.50" y2="7.16" stroke="#383838" stroke-width="0.9"/>
<line x1="499.50" y1="7.16" x2="497.50" y2="7.16" stroke="#383838" stroke-width="0.9"/>
<text x="0" y="0" font-size="10" text-anchor="end" fill="#1a1a1a" stroke="#1a1a1a" stroke-width="0.22" transform="translate(298.80 186.00) scale(0.93 1)">0</text>
<text x="0" y="0" font-size="10" text-anchor="end" fill="#1a1a1a" stroke="#1a1a1a" stroke-width="0.22" transform="translate(298.80 159.04) scale(0.93 1)">20</text>
<text x="0" y="0" font-size="10" text-anchor="end" fill="#1a1a1a" stroke="#1a1a1a" stroke-width="0.22" transform="translate(298.80 132.08) scale(0.93 1)">40</text>
<text x="0" y="0" font-size="10" text-anchor="end" fill="#1a1a1a" stroke="#1a1a1a" stroke-width="0.22" transform="translate(298.80 105.12) scale(0.93 1)">60</text>
<text x="0" y="0" font-size="10" text-anchor="end" fill="#1a1a1a" stroke="#1a1a1a" stroke-width="0.22" transform="translate(298.80 78.16) scale(0.93 1)">80</text>
<text x="0" y="0" font-size="10" text-anchor="end" fill="#1a1a1a" stroke="#1a1a1a" stroke-width="0.22" transform="translate(298.80 51.20) scale(0.93 1)">100</text>
<text x="0" y="0" font-size="10" text-anchor="end" fill="#1a1a1a" stroke="#1a1a1a" stroke-width="0.22" transform="translate(298.80 24.24) scale(0.93 1)">120</text>
<line x1="302.50" y1="310.61" x2="304.50" y2="310.61" stroke="#383838" stroke-width="0.9"/>
<line x1="499.50" y1="310.61" x2="497.50" y2="310.61" stroke="#383838" stroke-width="0.9"/>
<line x1="302.50" y1="296.03" x2="306.00" y2="296.03" stroke="#383838" stroke-width="0.9"/>
<line x1="499.50" y1="296.03" x2="496.00" y2="296.03" stroke="#383838" stroke-width="0.9"/>
<line x1="302.50" y1="281.44" x2="304.50" y2="281.44" stroke="#383838" stroke-width="0.9"/>
<line x1="499.50" y1="281.44" x2="497.50" y2="281.44" stroke="#383838" stroke-width="0.9"/>
<line x1="302.50" y1="266.86" x2="306.00" y2="266.86" stroke="#383838" stroke-width="0.9"/>
<line x1="499.50" y1="266.86" x2="496.00" y2="266.86" stroke="#383838" stroke-width="0.9"/>
<line x1="302.50" y1="252.28" x2="304.50" y2="252.28" stroke="#383838" stroke-width="0.9"/>
<line x1="499.50" y1="252.28" x2="497.50" y2="252.28" stroke="#383838" stroke-width="0.9"/>
<line x1="302.50" y1="237.69" x2="306.00" y2="237.69" stroke="#383838" stroke-width="0.9"/>
<line x1="499.50" y1="237.69" x2="496.00" y2="237.69" stroke="#383838" stroke-width="0.9"/>
<line x1="302.50" y1="223.10" x2="304.50" y2="223.10" stroke="#383838" stroke-width="0.9"/>
<line x1="499.50" y1="223.10" x2="497.50" y2="223.10" stroke="#383838" stroke-width="0.9"/>
<line x1="302.50" y1="208.52" x2="306.00" y2="208.52" stroke="#383838" stroke-width="0.9"/>
<line x1="499.50" y1="208.52" x2="496.00" y2="208.52" stroke="#383838" stroke-width="0.9"/>
<line x1="302.50" y1="193.93" x2="304.50" y2="193.93" stroke="#383838" stroke-width="0.9"/>
<line x1="499.50" y1="193.93" x2="497.50" y2="193.93" stroke="#383838" stroke-width="0.9"/>
<text x="0" y="0" font-size="10" text-anchor="end" fill="#1a1a1a" stroke="#1a1a1a" stroke-width="0.22" transform="translate(298.80 328.80) scale(0.93 1)">0.09</text>
<text x="0" y="0" font-size="10" text-anchor="end" fill="#1a1a1a" stroke="#1a1a1a" stroke-width="0.22" transform="translate(298.80 299.63) scale(0.93 1)">0.10</text>
<text x="0" y="0" font-size="10" text-anchor="end" fill="#1a1a1a" stroke="#1a1a1a" stroke-width="0.22" transform="translate(298.80 270.46) scale(0.93 1)">0.11</text>
<text x="0" y="0" font-size="10" text-anchor="end" fill="#1a1a1a" stroke="#1a1a1a" stroke-width="0.22" transform="translate(298.80 241.29) scale(0.93 1)">0.12</text>
<text x="0" y="0" font-size="10" text-anchor="end" fill="#1a1a1a" stroke="#1a1a1a" stroke-width="0.22" transform="translate(298.80 212.12) scale(0.93 1)">0.13</text>
<text x="0" y="0" font-size="12.5" text-anchor="middle" fill="#1a1a1a" stroke="#1a1a1a" stroke-width="0.22" transform="translate(278.80 92.20) rotate(-90)">Intensity (counts/s)</text>
<text x="0" y="0" font-size="13" text-anchor="middle" fill="#1a1a1a" stroke="#1a1a1a" stroke-width="0.22" transform="translate(275.20 253.50) rotate(-90)">η<tspan font-size="8.5" dy="2.2">cdw</tspan><tspan dy="-2.2"> (r.l.u.)</tspan></text>
<text x="0" y="0" font-size="12.2" text-anchor="middle" fill="#1a1a1a" stroke="#1a1a1a" stroke-width="0.22" transform="translate(400.40 355.00)">T (K)</text>
<text x="0" y="0" font-size="12.6" text-anchor="start" fill="#1a1a1a" stroke="#1a1a1a" stroke-width="0.22" transform="translate(305.00 13.80)">(b)</text>
<text x="0" y="0" font-size="9" text-anchor="start" fill="#1a1a1a" stroke="#1a1a1a" stroke-width="0.22" transform="translate(335.00 15.80)">η</text>
<text x="0" y="0" font-size="12.3" text-anchor="start" fill="#1a1a1a" stroke="#1a1a1a" stroke-width="0.22" transform="translate(415.00 18.30)">SrAl<tspan font-size="9" dy="2.5">4</tspan><tspan dy="-2.5"> warming</tspan></text>
<text x="0" y="0" font-size="8.3" text-anchor="start" fill="#1a1a1a" stroke="#1a1a1a" stroke-width="0.1" transform="translate(429.00 31.20)">T<tspan font-size="5.8" dy="1.6">cdw</tspan><tspan dy="-1.6"> = 236(3) K</tspan></text>
<text x="0" y="0" font-size="8.2" text-anchor="start" fill="#f00" stroke="#f00" stroke-width="0.1" transform="translate(310.50 83.20)">2η (x10)</text>
<text x="0" y="0" font-size="12.5" text-anchor="start" fill="#1a1a1a" stroke="#1a1a1a" stroke-width="0.22" transform="translate(196.60 199.60)">SrAl<tspan font-size="9" dy="2.5">4</tspan></text>
<text x="0" y="0" font-size="7" text-anchor="start" fill="#1a1a1a" stroke="#1a1a1a" stroke-width="0.1" transform="translate(48.70 198.30)">η = 0.097(3) c*</text>
<rect x="51.2" y="211.6" width="3.5" height="3.5" fill="#000"/>
<text x="0" y="0" font-size="6.6" text-anchor="start" fill="#1a1a1a" stroke="#1a1a1a" stroke-width="0.1" transform="translate(61.00 215.60) scale(0.9 1)">5K</text>
<rect x="51.2" y="218.8" width="3.5" height="3.5" fill="#f00"/>
<text x="0" y="0" font-size="6.6" text-anchor="start" fill="#1a1a1a" stroke="#1a1a1a" stroke-width="0.1" transform="translate(61.00 222.90) scale(0.9 1)">150K</text>
<rect x="51.2" y="226.2" width="3.5" height="3.5" fill="#00f"/>
<text x="0" y="0" font-size="6.6" text-anchor="start" fill="#1a1a1a" stroke="#1a1a1a" stroke-width="0.1" transform="translate(61.00 230.20) scale(0.9 1)">200K</text>
<text x="0" y="0" font-size="8.3" text-anchor="start" fill="#1a1a1a" stroke="#1a1a1a" stroke-width="0.1" transform="translate(88.80 209.60)">−η</text>
<text x="0" y="0" font-size="8.3" text-anchor="start" fill="#1a1a1a" stroke="#1a1a1a" stroke-width="0.1" transform="translate(169.00 206.80)">+η</text>
<text x="0" y="0" font-size="8.3" text-anchor="start" fill="#1a1a1a" stroke="#1a1a1a" stroke-width="0.1" transform="translate(55.50 260.80)">−2η</text>
<text x="0" y="0" font-size="8.4" text-anchor="start" fill="#1a1a1a" stroke="#1a1a1a" stroke-width="0.1" transform="translate(196.50 261.20)">+2η</text>
<text x="0" y="0" font-size="9" text-anchor="start" fill="#1a1a1a" stroke="#1a1a1a" stroke-width="0.22" transform="translate(481.50 195.50)">η</text>
<text x="0" y="0" font-size="8" text-anchor="start" fill="#f00" stroke="#f00" stroke-width="0.1" transform="translate(463.00 275.80)">2η (÷2)</text>
<line x1="94.40" y1="216.40" x2="87.40" y2="233.50" stroke="#000" stroke-width="0.7"/>
<path d="M86.4,236.2 L85.9,231.4 L88.5,232.4 Z" fill="#000"/>
<polyline points="36.00,314.67 36.49,314.67 36.98,314.67 37.48,314.67 37.97,314.67 38.46,314.67 38.95,314.66 39.44,314.66 39.94,314.66 40.43,314.66 40.92,314.66 41.41,314.66 41.90,314.66 42.40,314.66 42.89,314.66 43.38,314.66 43.87,314.65 44.36,314.65 44.86,314.64 45.35,314.63 45.84,314.61 46.33,314.59 46.82,314.56 47.32,314.52 47.81,314.47 48.30,314.40 48.79,314.31 49.28,314.19 49.78,314.04 50.27,313.85 50.76,313.60 51.25,313.30 51.74,312.92 52.24,312.46 52.73,311.91 53.22,311.24 53.71,310.47 54.20,309.57 54.70,308.54 55.19,307.39 55.68,306.11 56.17,304.71 56.66,303.21 57.16,301.61 57.65,299.94 58.14,298.20 58.63,296.43 59.12,294.63 59.62,292.83 60.11,291.04 60.60,289.28 61.09,287.57 61.58,285.91 62.08,284.33 62.57,282.82 63.06,281.39 63.55,280.06 64.04,278.83 64.54,277.71 65.03,276.70 65.52,275.80 66.01,275.01 66.50,274.35 67.00,273.80 67.49,273.38 67.98,273.07 68.47,272.89 68.96,272.82 69.46,272.88 69.95,273.05 70.44,273.33 70.93,273.72 71.42,274.22 71.92,274.81 72.41,275.49 72.90,276.24 73.39,277.07 73.88,277.94 74.38,278.85 74.87,279.77 75.36,280.68 75.85,281.54 76.34,282.34 76.84,283.03 77.33,283.59 77.82,283.98 78.31,284.18 78.80,284.16 79.30,283.91 79.79,283.42 80.28,282.71 80.77,281.77 81.26,280.64 81.76,279.32 82.25,277.85 82.74,276.26 83.23,274.57 83.72,272.79 84.22,270.95 84.71,269.07 85.20,267.15 85.69,265.22 86.18,263.27 86.68,261.33 87.17,259.39 87.66,257.45 88.15,255.54 88.64,253.64 89.14,251.76 89.63,249.90 90.12,248.07 90.61,246.27 91.10,244.50 91.60,242.76 92.09,241.05 92.58,239.37 93.07,237.74 93.56,236.14 94.06,234.57 94.55,233.05 95.04,231.57 95.53,230.14 96.02,228.75 96.52,227.40 97.01,226.11 97.50,224.86 97.99,223.68 98.48,222.54 98.98,221.47 99.47,220.47 99.96,219.53 100.45,218.66 100.94,217.88 101.44,217.18 101.93,216.60 102.42,216.14 102.91,215.88 103.40,216.11 103.90,216.54 104.39,217.10 104.88,217.75 105.37,218.49 105.86,219.31 106.36,220.18 106.85,221.11 107.34,222.09 107.83,223.10 108.32,224.14 108.82,225.20 109.31,226.27 109.80,227.33 110.29,228.38 110.78,229.39 111.28,230.35 111.77,231.23 112.26,232.02 112.75,232.70 113.24,233.23 113.74,233.60 114.23,233.79 114.72,233.79 115.21,233.57 115.70,233.14 116.20,232.50 116.69,231.66 117.18,230.62 117.67,229.42 118.16,228.08 118.66,226.61 119.15,225.04 119.64,223.39 120.13,221.69 120.62,219.95 121.12,218.19 121.61,216.43 122.10,214.67 122.59,212.93 123.08,211.22 123.58,209.55 124.07,207.91 124.56,206.32 125.05,204.79 125.54,203.31 126.04,201.88 126.53,200.52 127.02,199.22 127.51,197.99 128.00,196.83 128.50,195.74 128.99,194.72 129.48,193.77 129.97,192.90 130.46,192.11 130.96,191.39 131.45,190.76 131.94,190.21 132.43,189.75 132.92,189.37 133.42,189.09 133.91,188.91 134.40,188.84 134.89,188.91 135.38,189.09 135.88,189.37 136.37,189.75 136.86,190.21 137.35,190.76 137.84,191.39 138.34,192.11 138.83,192.90 139.32,193.77 139.81,194.72 140.30,195.74 140.80,196.83 141.29,197.99 141.78,199.22 142.27,200.52 142.76,201.88 143.26,203.31 143.75,204.79 144.24,206.32 144.73,207.91 145.22,209.55 145.72,211.22 146.21,212.93 146.70,214.67 147.19,216.43 147.68,218.19 148.18,219.95 148.67,221.69 149.16,223.39 149.65,225.04 150.14,226.61 150.64,228.08 151.13,229.42 151.62,230.62 152.11,231.66 152.60,232.50 153.10,233.14 153.59,233.57 154.08,233.79 154.57,233.79 155.06,233.60 155.56,233.23 156.05,232.70 156.54,232.02 157.03,231.23 157.52,230.35 158.02,229.39 158.51,228.38 159.00,227.33 159.49,226.27 159.98,225.20 160.48,224.14 160.97,223.10 161.46,222.09 161.95,221.11 162.44,220.18 162.94,219.31 163.43,218.49 163.92,217.75 164.41,217.10 164.90,216.54 165.40,216.11 165.89,215.88 166.38,216.14 166.87,216.60 167.36,217.18 167.86,217.88 168.35,218.66 168.84,219.53 169.33,220.47 169.82,221.47 170.32,222.54 170.81,223.68 171.30,224.86 171.79,226.11 172.28,227.40 172.78,228.75 173.27,230.14 173.76,231.57 174.25,233.05 174.74,234.57 175.24,236.14 175.73,237.74 176.22,239.37 176.71,241.05 177.20,242.76 177.70,244.50 178.19,246.27 178.68,248.07 179.17,249.90 179.66,251.76 180.16,253.64 180.65,255.54 181.14,257.45 181.63,259.39 182.12,261.33 182.62,263.27 183.11,265.22 183.60,267.15 184.09,269.07 184.58,270.95 185.08,272.79 185.57,274.57 186.06,276.26 186.55,277.85 187.04,279.32 187.54,280.64 188.03,281.77 188.52,282.71 189.01,283.42 189.50,283.91 190.00,284.16 190.49,284.18 190.98,283.98 191.47,283.59 191.96,283.03 192.46,282.34 192.95,281.54 193.44,280.68 193.93,279.77 194.42,278.85 194.92,277.94 195.41,277.07 195.90,276.24 196.39,275.49 196.88,274.81 197.38,274.22 197.87,273.72 198.36,273.33 198.85,273.05 199.34,272.88 199.84,272.82 200.33,272.89 200.82,273.07 201.31,273.38 201.80,273.80 202.30,274.35 202.79,275.01 203.28,275.80 203.77,276.70 204.26,277.71 204.76,278.83 205.25,280.06 205.74,281.39 206.23,282.82 206.72,284.33 207.22,285.91 207.71,287.57 208.20,289.28 208.69,291.04 209.18,292.83 209.68,294.63 210.17,296.43 210.66,298.20 211.15,299.94 211.64,301.61 212.14,303.21 212.63,304.71 213.12,306.11 213.61,307.39 214.10,308.54 214.60,309.57 215.09,310.47 215.58,311.24 216.07,311.91 216.56,312.46 217.06,312.92 217.55,313.30 218.04,313.60 218.53,313.85 219.02,314.04 219.52,314.19 220.01,314.31 220.50,314.40 220.99,314.47 221.48,314.52 221.98,314.56 222.47,314.59 222.96,314.61 223.45,314.63 223.94,314.64 224.44,314.65 224.93,314.65 225.42,314.66 225.91,314.66 226.40,314.66 226.90,314.66 227.39,314.66 227.88,314.66 228.37,314.66 228.86,314.66 229.36,314.66 229.85,314.66 230.34,314.67 230.83,314.67 231.32,314.67 231.82,314.67 232.31,314.67 232.80,314.67" fill="none" stroke="#000" stroke-width="1"/>
<polyline points="36.00,318.72 36.49,318.71 36.98,318.71 37.48,318.71 37.97,318.70 38.46,318.69 38.95,318.68 39.44,318.66 39.94,318.64 40.43,318.61 40.92,318.58 41.41,318.54 41.90,318.49 42.40,318.42 42.89,318.34 43.38,318.24 43.87,318.12 44.36,317.97 44.86,317.80 45.35,317.59 45.84,317.35 46.33,317.06 46.82,316.73 47.32,316.34 47.81,315.91 48.30,315.42 48.79,314.87 49.28,314.26 49.78,313.59 50.27,312.87 50.76,312.10 51.25,311.27 51.74,310.40 52.24,309.50 52.73,308.56 53.22,307.61 53.71,306.63 54.20,305.66 54.70,304.69 55.19,303.72 55.68,302.78 56.17,301.87 56.66,300.99 57.16,300.15 57.65,299.36 58.14,298.63 58.63,297.95 59.12,297.34 59.62,296.79 60.11,296.31 60.60,295.91 61.09,295.58 61.58,295.33 62.08,295.16 62.57,295.06 63.06,295.05 63.55,295.12 64.04,295.26 64.54,295.49 65.03,295.79 65.52,296.16 66.01,296.61 66.50,297.13 67.00,297.72 67.49,298.37 67.98,299.07 68.47,299.83 68.96,300.62 69.46,301.45 69.95,302.31 70.44,303.17 70.93,304.03 71.42,304.88 71.92,305.68 72.41,306.42 72.90,307.07 73.39,307.60 73.88,307.98 74.38,308.18 74.87,308.16 75.36,307.89 75.85,307.35 76.34,306.51 76.84,305.38 77.33,303.95 77.82,302.24 78.31,300.27 78.80,298.07 79.30,295.69 79.79,293.15 80.28,290.49 80.77,287.75 81.26,284.96 81.76,282.14 82.25,279.32 82.74,276.51 83.23,273.74 83.72,271.01 84.22,268.33 84.71,265.73 85.20,263.19 85.69,260.73 86.18,258.36 86.68,256.08 87.17,253.89 87.66,251.79 88.15,249.78 88.64,247.88 89.14,246.07 89.63,244.37 90.12,242.77 90.61,241.27 91.10,239.87 91.60,238.58 92.09,237.39 92.58,236.31 93.07,235.34 93.56,234.46 94.06,233.70 94.55,233.04 95.04,232.49 95.53,232.05 96.02,231.71 96.52,231.47 97.01,231.35 97.50,231.33 97.99,231.42 98.48,231.61 98.98,231.91 99.47,232.32 99.96,232.83 100.45,233.45 100.94,234.17 101.44,235.00 101.93,235.93 102.42,236.96 102.91,238.09 103.40,239.31 103.90,240.64 104.39,242.05 104.88,243.55 105.37,245.13 105.86,246.77 106.36,248.47 106.85,250.21 107.34,251.97 107.83,253.72 108.32,255.43 108.82,257.04 109.31,258.52 109.80,259.80 110.29,260.81 110.78,261.50 111.28,261.81 111.77,261.71 112.26,261.17 112.75,260.22 113.24,258.88 113.74,257.21 114.23,255.26 114.72,253.09 115.21,250.76 115.70,248.33 116.20,245.82 116.69,243.28 117.18,240.73 117.67,238.19 118.16,235.67 118.66,233.19 119.15,230.75 119.64,228.36 120.13,226.03 120.62,223.75 121.12,221.54 121.61,219.39 122.10,217.31 122.59,215.29 123.08,213.35 123.58,211.47 124.07,209.66 124.56,207.92 125.05,206.25 125.54,204.66 126.04,203.14 126.53,201.69 127.02,200.32 127.51,199.02 128.00,197.80 128.50,196.65 128.99,195.59 129.48,194.60 129.97,193.69 130.46,192.87 130.96,192.13 131.45,191.47 131.94,190.90 132.43,190.42 132.92,190.03 133.42,189.74 133.91,189.55 134.40,189.48 134.89,189.55 135.38,189.74 135.88,190.03 136.37,190.42 136.86,190.90 137.35,191.47 137.84,192.13 138.34,192.87 138.83,193.69 139.32,194.60 139.81,195.59 140.30,196.65 140.80,197.80 141.29,199.02 141.78,200.32 142.27,201.69 142.76,203.14 143.26,204.66 143.75,206.25 144.24,207.92 144.73,209.66 145.22,211.47 145.72,213.35 146.21,215.29 146.70,217.31 147.19,219.39 147.68,221.54 148.18,223.75 148.67,226.03 149.16,228.36 149.65,230.75 150.14,233.19 150.64,235.67 151.13,238.19 151.62,240.73 152.11,243.28 152.60,245.82 153.10,248.33 153.59,250.76 154.08,253.09 154.57,255.26 155.06,257.21 155.56,258.88 156.05,260.22 156.54,261.17 157.03,261.71 157.52,261.81 158.02,261.50 158.51,260.81 159.00,259.80 159.49,258.52 159.98,257.04 160.48,255.43 160.97,253.72 161.46,251.97 161.95,250.21 162.44,248.47 162.94,246.77 163.43,245.13 163.92,243.55 164.41,242.05 164.90,240.64 165.40,239.31 165.89,238.09 166.38,236.96 166.87,235.93 167.36,235.00 167.86,234.17 168.35,233.45 168.84,232.83 169.33,232.32 169.82,231.91 170.32,231.61 170.81,231.42 171.30,231.33 171.79,231.35 172.28,231.47 172.78,231.71 173.27,232.05 173.76,232.49 174.25,233.04 174.74,233.70 175.24,234.46 175.73,235.34 176.22,236.31 176.71,237.39 177.20,238.58 177.70,239.87 178.19,241.27 178.68,242.77 179.17,244.37 179.66,246.07 180.16,247.88 180.65,249.78 181.14,251.79 181.63,253.89 182.12,256.08 182.62,258.36 183.11,260.73 183.60,263.19 184.09,265.73 184.58,268.33 185.08,271.01 185.57,273.74 186.06,276.51 186.55,279.32 187.04,282.14 187.54,284.96 188.03,287.75 188.52,290.49 189.01,293.15 189.50,295.69 190.00,298.07 190.49,300.27 190.98,302.24 191.47,303.95 191.96,305.38 192.46,306.51 192.95,307.35 193.44,307.89 193.93,308.16 194.42,308.18 194.92,307.98 195.41,307.60 195.90,307.07 196.39,306.42 196.88,305.68 197.38,304.88 197.87,304.03 198.36,303.17 198.85,302.31 199.34,301.45 199.84,300.62 200.33,299.83 200.82,299.07 201.31,298.37 201.80,297.72 202.30,297.13 202.79,296.61 203.28,296.16 203.77,295.79 204.26,295.49 204.76,295.26 205.25,295.12 205.74,295.05 206.23,295.06 206.72,295.16 207.22,295.33 207.71,295.58 208.20,295.91 208.69,296.31 209.18,296.79 209.68,297.34 210.17,297.95 210.66,298.63 211.15,299.36 211.64,300.15 212.14,300.99 212.63,301.87 213.12,302.78 213.61,303.72 214.10,304.69 214.60,305.66 215.09,306.63 215.58,307.61 216.07,308.56 216.56,309.50 217.06,310.40 217.55,311.27 218.04,312.10 218.53,312.87 219.02,313.59 219.52,314.26 220.01,314.87 220.50,315.42 220.99,315.91 221.48,316.34 221.98,316.73 222.47,317.06 222.96,317.35 223.45,317.59 223.94,317.80 224.44,317.97 224.93,318.12 225.42,318.24 225.91,318.34 226.40,318.42 226.90,318.49 227.39,318.54 227.88,318.58 228.37,318.61 228.86,318.64 229.36,318.66 229.85,318.68 230.34,318.69 230.83,318.70 231.32,318.71 231.82,318.71 232.31,318.71 232.80,318.72" fill="none" stroke="#f00" stroke-width="1"/>
<polyline points="36.00,321.08 36.49,321.07 36.98,321.06 37.48,321.05 37.97,321.04 38.46,321.02 38.95,321.00 39.44,320.98 39.94,320.95 40.43,320.92 40.92,320.88 41.41,320.83 41.90,320.78 42.40,320.72 42.89,320.65 43.38,320.57 43.87,320.48 44.36,320.38 44.86,320.26 45.35,320.14 45.84,320.00 46.33,319.85 46.82,319.69 47.32,319.51 47.81,319.32 48.30,319.12 48.79,318.91 49.28,318.70 49.78,318.47 50.27,318.23 50.76,317.99 51.25,317.75 51.74,317.51 52.24,317.27 52.73,317.03 53.22,316.80 53.71,316.58 54.20,316.37 54.70,316.17 55.19,315.99 55.68,315.83 56.17,315.68 56.66,315.56 57.16,315.46 57.65,315.38 58.14,315.32 58.63,315.29 59.12,315.29 59.62,315.31 60.11,315.36 60.60,315.43 61.09,315.52 61.58,315.64 62.08,315.77 62.57,315.93 63.06,316.11 63.55,316.29 64.04,316.50 64.54,316.71 65.03,316.93 65.52,317.15 66.01,317.38 66.50,317.60 67.00,317.81 67.49,318.02 67.98,318.20 68.47,318.36 68.96,318.49 69.46,318.58 69.95,318.62 70.44,318.60 70.93,318.50 71.42,318.32 71.92,318.03 72.41,317.63 72.90,317.08 73.39,316.37 73.88,315.49 74.38,314.42 74.87,313.15 75.36,311.68 75.85,310.01 76.34,308.15 76.84,306.11 77.33,303.91 77.82,301.57 78.31,299.12 78.80,296.59 79.30,293.99 79.79,291.36 80.28,288.70 80.77,286.05 81.26,283.43 81.76,280.83 82.25,278.28 82.74,275.80 83.23,273.38 83.72,271.03 84.22,268.77 84.71,266.59 85.20,264.51 85.69,262.52 86.18,260.63 86.68,258.85 87.17,257.16 87.66,255.58 88.15,254.11 88.64,252.75 89.14,251.50 89.63,250.35 90.12,249.32 90.61,248.40 91.10,247.59 91.60,246.89 92.09,246.30 92.58,245.83 93.07,245.47 93.56,245.23 94.06,245.09 94.55,245.07 95.04,245.17 95.53,245.37 96.02,245.70 96.52,246.13 97.01,246.67 97.50,247.33 97.99,248.10 98.48,248.98 98.98,249.97 99.47,251.07 99.96,252.28 100.45,253.59 100.94,255.00 101.44,256.52 101.93,258.13 102.42,259.83 102.91,261.61 103.40,263.46 103.90,265.36 104.39,267.31 104.88,269.27 105.37,271.21 105.86,273.10 106.36,274.88 106.85,276.48 107.34,277.85 107.83,278.91 108.32,279.58 108.82,279.80 109.31,279.54 109.80,278.79 110.29,277.57 110.78,275.93 111.28,273.93 111.77,271.64 112.26,269.14 112.75,266.47 113.24,263.71 113.74,260.87 114.23,258.01 114.72,255.13 115.21,252.27 115.70,249.43 116.20,246.63 116.69,243.87 117.18,241.16 117.67,238.50 118.16,235.90 118.66,233.35 119.15,230.87 119.64,228.45 120.13,226.10 120.62,223.81 121.12,221.58 121.61,219.43 122.10,217.34 122.59,215.32 123.08,213.36 123.58,211.48 124.07,209.67 124.56,207.93 125.05,206.26 125.54,204.67 126.04,203.15 126.53,201.70 127.02,200.32 127.51,199.03 128.00,197.80 128.50,196.66 128.99,195.59 129.48,194.61 129.97,193.70 130.46,192.87 130.96,192.13 131.45,191.48 131.94,190.91 132.43,190.43 132.92,190.04 133.42,189.75 133.91,189.56 134.40,189.49 134.89,189.56 135.38,189.75 135.88,190.04 136.37,190.43 136.86,190.91 137.35,191.48 137.84,192.13 138.34,192.87 138.83,193.70 139.32,194.61 139.81,195.59 140.30,196.66 140.80,197.80 141.29,199.03 141.78,200.32 142.27,201.70 142.76,203.15 143.26,204.67 143.75,206.26 144.24,207.93 144.73,209.67 145.22,211.48 145.72,213.36 146.21,215.32 146.70,217.34 147.19,219.43 147.68,221.58 148.18,223.81 148.67,226.10 149.16,228.45 149.65,230.87 150.14,233.35 150.64,235.90 151.13,238.50 151.62,241.16 152.11,243.87 152.60,246.63 153.10,249.43 153.59,252.27 154.08,255.13 154.57,258.01 155.06,260.87 155.56,263.71 156.05,266.47 156.54,269.14 157.03,271.64 157.52,273.93 158.02,275.93 158.51,277.57 159.00,278.79 159.49,279.54 159.98,279.80 160.48,279.58 160.97,278.91 161.46,277.85 161.95,276.48 162.44,274.88 162.94,273.10 163.43,271.21 163.92,269.27 164.41,267.31 164.90,265.36 165.40,263.46 165.89,261.61 166.38,259.83 166.87,258.13 167.36,256.52 167.86,255.00 168.35,253.59 168.84,252.28 169.33,251.07 169.82,249.97 170.32,248.98 170.81,248.10 171.30,247.33 171.79,246.67 172.28,246.13 172.78,245.70 173.27,245.37 173.76,245.17 174.25,245.07 174.74,245.09 175.24,245.23 175.73,245.47 176.22,245.83 176.71,246.30 177.20,246.89 177.70,247.59 178.19,248.40 178.68,249.32 179.17,250.35 179.66,251.50 180.16,252.75 180.65,254.11 181.14,255.58 181.63,257.16 182.12,258.85 182.62,260.63 183.11,262.52 183.60,264.51 184.09,266.59 184.58,268.77 185.08,271.03 185.57,273.38 186.06,275.80 186.55,278.28 187.04,280.83 187.54,283.43 188.03,286.05 188.52,288.70 189.01,291.36 189.50,293.99 190.00,296.59 190.49,299.12 190.98,301.57 191.47,303.91 191.96,306.11 192.46,308.15 192.95,310.01 193.44,311.68 193.93,313.15 194.42,314.42 194.92,315.49 195.41,316.37 195.90,317.08 196.39,317.63 196.88,318.03 197.38,318.32 197.87,318.50 198.36,318.60 198.85,318.62 199.34,318.58 199.84,318.49 200.33,318.36 200.82,318.20 201.31,318.02 201.80,317.81 202.30,317.60 202.79,317.38 203.28,317.15 203.77,316.93 204.26,316.71 204.76,316.50 205.25,316.29 205.74,316.11 206.23,315.93 206.72,315.77 207.22,315.64 207.71,315.52 208.20,315.43 208.69,315.36 209.18,315.31 209.68,315.29 210.17,315.29 210.66,315.32 211.15,315.38 211.64,315.46 212.14,315.56 212.63,315.68 213.12,315.83 213.61,315.99 214.10,316.17 214.60,316.37 215.09,316.58 215.58,316.80 216.07,317.03 216.56,317.27 217.06,317.51 217.55,317.75 218.04,317.99 218.53,318.23 219.02,318.47 219.52,318.70 220.01,318.91 220.50,319.12 220.99,319.32 221.48,319.51 221.98,319.69 222.47,319.85 222.96,320.00 223.45,320.14 223.94,320.26 224.44,320.38 224.93,320.48 225.42,320.57 225.91,320.65 226.40,320.72 226.90,320.78 227.39,320.83 227.88,320.88 228.37,320.92 228.86,320.95 229.36,320.98 229.85,321.00 230.34,321.02 230.83,321.04 231.32,321.05 231.82,321.06 232.31,321.07 232.80,321.08" fill="none" stroke="#00f" stroke-width="1"/>
<path d="M34.30 314.70h3.4v3.4h-3.4zM33.00 316.05h6v0.7h-6zM35.65 313.40h0.7v6h-0.7z" fill="#000"/>
<path d="M37.58 312.43h3.4v3.4h-3.4zM36.28 313.78h6v0.7h-6zM38.93 311.13h0.7v6h-0.7z" fill="#000"/>
<path d="M40.86 311.55h3.4v3.4h-3.4zM39.56 312.90h6v0.7h-6zM42.21 310.25h0.7v6h-0.7z" fill="#000"/>
<path d="M44.14 313.64h3.4v3.4h-3.4zM42.84 314.99h6v0.7h-6zM45.49 312.34h0.7v6h-0.7z" fill="#000"/>
<path d="M47.42 314.42h3.4v3.4h-3.4zM46.12 315.77h6v0.7h-6zM48.77 313.12h0.7v6h-0.7z" fill="#000"/>
<path d="M50.70 310.68h3.4v3.4h-3.4zM49.40 312.03h6v0.7h-6zM52.05 309.38h0.7v6h-0.7z" fill="#000"/>
<path d="M53.98 303.73h3.4v3.4h-3.4zM52.68 305.08h6v0.7h-6zM55.33 302.43h0.7v6h-0.7z" fill="#000"/>
<path d="M57.26 291.97h3.4v3.4h-3.4zM55.96 293.32h6v0.7h-6zM58.61 290.67h0.7v6h-0.7z" fill="#000"/>
<path d="M60.54 283.84h3.4v3.4h-3.4zM59.24 285.19h6v0.7h-6zM61.89 282.54h0.7v6h-0.7z" fill="#000"/>
<path d="M63.82 275.93h3.4v3.4h-3.4zM62.52 277.28h6v0.7h-6zM65.17 274.63h0.7v6h-0.7z" fill="#000"/>
<path d="M67.10 270.13h3.4v3.4h-3.4zM65.80 271.48h6v0.7h-6zM68.45 268.83h0.7v6h-0.7z" fill="#000"/>
<path d="M70.38 272.65h3.4v3.4h-3.4zM69.08 274.00h6v0.7h-6zM71.73 271.35h0.7v6h-0.7z" fill="#000"/>
<path d="M73.66 276.80h3.4v3.4h-3.4zM72.36 278.15h6v0.7h-6zM75.01 275.50h0.7v6h-0.7z" fill="#000"/>
<path d="M76.94 281.10h3.4v3.4h-3.4zM75.64 282.45h6v0.7h-6zM78.29 279.80h0.7v6h-0.7z" fill="#000"/>
<path d="M80.22 277.29h3.4v3.4h-3.4zM78.92 278.64h6v0.7h-6zM81.57 275.99h0.7v6h-0.7z" fill="#000"/>
<path d="M83.50 265.84h3.4v3.4h-3.4zM82.20 267.19h6v0.7h-6zM84.85 264.54h0.7v6h-0.7z" fill="#000"/>
<path d="M86.78 248.93h3.4v3.4h-3.4zM85.48 250.28h6v0.7h-6zM88.13 247.63h0.7v6h-0.7z" fill="#000"/>
<path d="M90.06 240.89h3.4v3.4h-3.4zM88.76 242.24h6v0.7h-6zM91.41 239.59h0.7v6h-0.7z" fill="#000"/>
<path d="M93.34 230.98h3.4v3.4h-3.4zM92.04 232.33h6v0.7h-6zM94.69 229.68h0.7v6h-0.7z" fill="#000"/>
<path d="M96.62 222.83h3.4v3.4h-3.4zM95.32 224.18h6v0.7h-6zM97.97 221.53h0.7v6h-0.7z" fill="#000"/>
<path d="M99.90 215.14h3.4v3.4h-3.4zM98.60 216.49h6v0.7h-6zM101.25 213.84h0.7v6h-0.7z" fill="#000"/>
<path d="M103.18 215.85h3.4v3.4h-3.4zM101.88 217.20h6v0.7h-6zM104.53 214.55h0.7v6h-0.7z" fill="#000"/>
<path d="M106.46 222.58h3.4v3.4h-3.4zM105.16 223.93h6v0.7h-6zM107.81 221.28h0.7v6h-0.7z" fill="#000"/>
<path d="M109.74 229.04h3.4v3.4h-3.4zM108.44 230.39h6v0.7h-6zM111.09 227.74h0.7v6h-0.7z" fill="#000"/>
<path d="M113.02 231.70h3.4v3.4h-3.4zM111.72 233.05h6v0.7h-6zM114.37 230.40h0.7v6h-0.7z" fill="#000"/>
<path d="M116.30 225.86h3.4v3.4h-3.4zM115.00 227.21h6v0.7h-6zM117.65 224.56h0.7v6h-0.7z" fill="#000"/>
<path d="M119.58 214.35h3.4v3.4h-3.4zM118.28 215.70h6v0.7h-6zM120.93 213.05h0.7v6h-0.7z" fill="#000"/>
<path d="M122.86 204.33h3.4v3.4h-3.4zM121.56 205.68h6v0.7h-6zM124.21 203.03h0.7v6h-0.7z" fill="#000"/>
<path d="M126.14 198.05h3.4v3.4h-3.4zM124.84 199.40h6v0.7h-6zM127.49 196.75h0.7v6h-0.7z" fill="#000"/>
<path d="M129.42 188.48h3.4v3.4h-3.4zM128.12 189.83h6v0.7h-6zM130.77 187.18h0.7v6h-0.7z" fill="#000"/>
<path d="M132.70 189.15h3.4v3.4h-3.4zM131.40 190.50h6v0.7h-6zM134.05 187.85h0.7v6h-0.7z" fill="#000"/>
<path d="M135.98 189.72h3.4v3.4h-3.4zM134.68 191.07h6v0.7h-6zM137.33 188.42h0.7v6h-0.7z" fill="#000"/>
<path d="M139.26 197.60h3.4v3.4h-3.4zM137.96 198.95h6v0.7h-6zM140.61 196.30h0.7v6h-0.7z" fill="#000"/>
<path d="M142.54 204.62h3.4v3.4h-3.4zM141.24 205.97h6v0.7h-6zM143.89 203.32h0.7v6h-0.7z" fill="#000"/>
<path d="M145.82 217.01h3.4v3.4h-3.4zM144.52 218.36h6v0.7h-6zM147.17 215.71h0.7v6h-0.7z" fill="#000"/>
<path d="M149.10 226.54h3.4v3.4h-3.4zM147.80 227.89h6v0.7h-6zM150.45 225.24h0.7v6h-0.7z" fill="#000"/>
<path d="M152.38 227.41h3.4v3.4h-3.4zM151.08 228.76h6v0.7h-6zM153.73 226.11h0.7v6h-0.7z" fill="#000"/>
<path d="M155.66 229.02h3.4v3.4h-3.4zM154.36 230.37h6v0.7h-6zM157.01 227.72h0.7v6h-0.7z" fill="#000"/>
<path d="M158.94 220.90h3.4v3.4h-3.4zM157.64 222.25h6v0.7h-6zM160.29 219.60h0.7v6h-0.7z" fill="#000"/>
<path d="M162.22 217.93h3.4v3.4h-3.4zM160.92 219.28h6v0.7h-6zM163.57 216.63h0.7v6h-0.7z" fill="#000"/>
<path d="M165.50 215.68h3.4v3.4h-3.4zM164.20 217.03h6v0.7h-6zM166.85 214.38h0.7v6h-0.7z" fill="#000"/>
<path d="M168.78 220.28h3.4v3.4h-3.4zM167.48 221.63h6v0.7h-6zM170.13 218.98h0.7v6h-0.7z" fill="#000"/>
<path d="M172.06 230.00h3.4v3.4h-3.4zM170.76 231.35h6v0.7h-6zM173.41 228.70h0.7v6h-0.7z" fill="#000"/>
<path d="M175.34 239.96h3.4v3.4h-3.4zM174.04 241.31h6v0.7h-6zM176.69 238.66h0.7v6h-0.7z" fill="#000"/>
<path d="M178.62 252.42h3.4v3.4h-3.4zM177.32 253.77h6v0.7h-6zM179.97 251.12h0.7v6h-0.7z" fill="#000"/>
<path d="M181.90 266.88h3.4v3.4h-3.4zM180.60 268.23h6v0.7h-6zM183.25 265.58h0.7v6h-0.7z" fill="#000"/>
<path d="M185.18 276.35h3.4v3.4h-3.4zM183.88 277.70h6v0.7h-6zM186.53 275.05h0.7v6h-0.7z" fill="#000"/>
<path d="M188.46 283.64h3.4v3.4h-3.4zM187.16 284.99h6v0.7h-6zM189.81 282.34h0.7v6h-0.7z" fill="#000"/>
<path d="M191.74 276.32h3.4v3.4h-3.4zM190.44 277.67h6v0.7h-6zM193.09 275.02h0.7v6h-0.7z" fill="#000"/>
<path d="M195.02 274.04h3.4v3.4h-3.4zM193.72 275.39h6v0.7h-6zM196.37 272.74h0.7v6h-0.7z" fill="#000"/>
<path d="M198.30 270.16h3.4v3.4h-3.4zM197.00 271.51h6v0.7h-6zM199.65 268.86h0.7v6h-0.7z" fill="#000"/>
<path d="M201.58 274.09h3.4v3.4h-3.4zM200.28 275.44h6v0.7h-6zM202.93 272.79h0.7v6h-0.7z" fill="#000"/>
<path d="M204.86 280.76h3.4v3.4h-3.4zM203.56 282.11h6v0.7h-6zM206.21 279.46h0.7v6h-0.7z" fill="#000"/>
<path d="M208.14 294.38h3.4v3.4h-3.4zM206.84 295.73h6v0.7h-6zM209.49 293.08h0.7v6h-0.7z" fill="#000"/>
<path d="M211.42 303.00h3.4v3.4h-3.4zM210.12 304.35h6v0.7h-6zM212.77 301.70h0.7v6h-0.7z" fill="#000"/>
<path d="M214.70 310.76h3.4v3.4h-3.4zM213.40 312.11h6v0.7h-6zM216.05 309.46h0.7v6h-0.7z" fill="#000"/>
<path d="M217.98 310.74h3.4v3.4h-3.4zM216.68 312.09h6v0.7h-6zM219.33 309.44h0.7v6h-0.7z" fill="#000"/>
<path d="M221.26 312.03h3.4v3.4h-3.4zM219.96 313.38h6v0.7h-6zM222.61 310.73h0.7v6h-0.7z" fill="#000"/>
<path d="M224.54 312.76h3.4v3.4h-3.4zM223.24 314.11h6v0.7h-6zM225.89 311.46h0.7v6h-0.7z" fill="#000"/>
<path d="M227.82 314.07h3.4v3.4h-3.4zM226.52 315.42h6v0.7h-6zM229.17 312.77h0.7v6h-0.7z" fill="#000"/>
<path d="M231.10 311.88h3.4v3.4h-3.4zM229.80 313.23h6v0.7h-6zM232.45 310.58h0.7v6h-0.7z" fill="#000"/>
<path d="M34.30 316.35h3.4v3.4h-3.4zM33.00 317.70h6v0.7h-6zM35.65 315.05h0.7v6h-0.7z" fill="#f00"/>
<path d="M37.58 314.64h3.4v3.4h-3.4zM36.28 315.99h6v0.7h-6zM38.93 313.34h0.7v6h-0.7z" fill="#f00"/>
<path d="M40.86 317.23h3.4v3.4h-3.4zM39.56 318.58h6v0.7h-6zM42.21 315.93h0.7v6h-0.7z" fill="#f00"/>
<path d="M44.14 314.86h3.4v3.4h-3.4zM42.84 316.21h6v0.7h-6zM45.49 313.56h0.7v6h-0.7z" fill="#f00"/>
<path d="M47.42 312.05h3.4v3.4h-3.4zM46.12 313.40h6v0.7h-6zM48.77 310.75h0.7v6h-0.7z" fill="#f00"/>
<path d="M50.70 307.09h3.4v3.4h-3.4zM49.40 308.44h6v0.7h-6zM52.05 305.79h0.7v6h-0.7z" fill="#f00"/>
<path d="M53.98 300.79h3.4v3.4h-3.4zM52.68 302.14h6v0.7h-6zM55.33 299.49h0.7v6h-0.7z" fill="#f00"/>
<path d="M57.26 295.58h3.4v3.4h-3.4zM55.96 296.93h6v0.7h-6zM58.61 294.28h0.7v6h-0.7z" fill="#f00"/>
<path d="M60.54 294.26h3.4v3.4h-3.4zM59.24 295.61h6v0.7h-6zM61.89 292.96h0.7v6h-0.7z" fill="#f00"/>
<path d="M63.82 295.90h3.4v3.4h-3.4zM62.52 297.25h6v0.7h-6zM65.17 294.60h0.7v6h-0.7z" fill="#f00"/>
<path d="M67.10 299.21h3.4v3.4h-3.4zM65.80 300.56h6v0.7h-6zM68.45 297.91h0.7v6h-0.7z" fill="#f00"/>
<path d="M70.38 303.39h3.4v3.4h-3.4zM69.08 304.74h6v0.7h-6zM71.73 302.09h0.7v6h-0.7z" fill="#f00"/>
<path d="M73.66 304.05h3.4v3.4h-3.4zM72.36 305.40h6v0.7h-6zM75.01 302.75h0.7v6h-0.7z" fill="#f00"/>
<path d="M76.94 295.74h3.4v3.4h-3.4zM75.64 297.09h6v0.7h-6zM78.29 294.44h0.7v6h-0.7z" fill="#f00"/>
<path d="M80.22 278.01h3.4v3.4h-3.4zM78.92 279.36h6v0.7h-6zM81.57 276.71h0.7v6h-0.7z" fill="#f00"/>
<path d="M83.50 260.39h3.4v3.4h-3.4zM82.20 261.74h6v0.7h-6zM84.85 259.09h0.7v6h-0.7z" fill="#f00"/>
<path d="M86.78 245.81h3.4v3.4h-3.4zM85.48 247.16h6v0.7h-6zM88.13 244.51h0.7v6h-0.7z" fill="#f00"/>
<path d="M90.06 236.21h3.4v3.4h-3.4zM88.76 237.56h6v0.7h-6zM91.41 234.91h0.7v6h-0.7z" fill="#f00"/>
<path d="M93.34 229.70h3.4v3.4h-3.4zM92.04 231.05h6v0.7h-6zM94.69 228.40h0.7v6h-0.7z" fill="#f00"/>
<path d="M96.62 227.32h3.4v3.4h-3.4zM95.32 228.67h6v0.7h-6zM97.97 226.02h0.7v6h-0.7z" fill="#f00"/>
<path d="M99.90 234.04h3.4v3.4h-3.4zM98.60 235.39h6v0.7h-6zM101.25 232.74h0.7v6h-0.7z" fill="#f00"/>
<path d="M103.18 242.54h3.4v3.4h-3.4zM101.88 243.89h6v0.7h-6zM104.53 241.24h0.7v6h-0.7z" fill="#f00"/>
<path d="M106.46 246.82h3.4v3.4h-3.4zM105.16 248.17h6v0.7h-6zM107.81 245.52h0.7v6h-0.7z" fill="#f00"/>
<path d="M109.74 248.20h3.4v3.4h-3.4zM108.44 249.55h6v0.7h-6zM111.09 246.90h0.7v6h-0.7z" fill="#f00"/>
<path d="M113.02 242.21h3.4v3.4h-3.4zM111.72 243.56h6v0.7h-6zM114.37 240.91h0.7v6h-0.7z" fill="#f00"/>
<path d="M116.30 231.91h3.4v3.4h-3.4zM115.00 233.26h6v0.7h-6zM117.65 230.61h0.7v6h-0.7z" fill="#f00"/>
<path d="M119.58 220.24h3.4v3.4h-3.4zM118.28 221.59h6v0.7h-6zM120.93 218.94h0.7v6h-0.7z" fill="#f00"/>
<path d="M122.86 202.47h3.4v3.4h-3.4zM121.56 203.82h6v0.7h-6zM124.21 201.17h0.7v6h-0.7z" fill="#f00"/>
<path d="M126.14 193.77h3.4v3.4h-3.4zM124.84 195.12h6v0.7h-6zM127.49 192.47h0.7v6h-0.7z" fill="#f00"/>
<path d="M129.42 189.78h3.4v3.4h-3.4zM128.12 191.13h6v0.7h-6zM130.77 188.48h0.7v6h-0.7z" fill="#f00"/>
<path d="M132.70 186.56h3.4v3.4h-3.4zM131.40 187.91h6v0.7h-6zM134.05 185.26h0.7v6h-0.7z" fill="#f00"/>
<path d="M135.98 189.85h3.4v3.4h-3.4zM134.68 191.20h6v0.7h-6zM137.33 188.55h0.7v6h-0.7z" fill="#f00"/>
<path d="M139.26 197.54h3.4v3.4h-3.4zM137.96 198.89h6v0.7h-6zM140.61 196.24h0.7v6h-0.7z" fill="#f00"/>
<path d="M142.54 206.08h3.4v3.4h-3.4zM141.24 207.43h6v0.7h-6zM143.89 204.78h0.7v6h-0.7z" fill="#f00"/>
<path d="M145.82 218.10h3.4v3.4h-3.4zM144.52 219.45h6v0.7h-6zM147.17 216.80h0.7v6h-0.7z" fill="#f00"/>
<path d="M149.10 231.57h3.4v3.4h-3.4zM147.80 232.92h6v0.7h-6zM150.45 230.27h0.7v6h-0.7z" fill="#f00"/>
<path d="M152.38 242.58h3.4v3.4h-3.4zM151.08 243.93h6v0.7h-6zM153.73 241.28h0.7v6h-0.7z" fill="#f00"/>
<path d="M155.66 248.46h3.4v3.4h-3.4zM154.36 249.81h6v0.7h-6zM157.01 247.16h0.7v6h-0.7z" fill="#f00"/>
<path d="M158.94 247.68h3.4v3.4h-3.4zM157.64 249.03h6v0.7h-6zM160.29 246.38h0.7v6h-0.7z" fill="#f00"/>
<path d="M162.22 242.64h3.4v3.4h-3.4zM160.92 243.99h6v0.7h-6zM163.57 241.34h0.7v6h-0.7z" fill="#f00"/>
<path d="M165.50 232.45h3.4v3.4h-3.4zM164.20 233.80h6v0.7h-6zM166.85 231.15h0.7v6h-0.7z" fill="#f00"/>
<path d="M168.78 228.26h3.4v3.4h-3.4zM167.48 229.61h6v0.7h-6zM170.13 226.96h0.7v6h-0.7z" fill="#f00"/>
<path d="M172.06 231.20h3.4v3.4h-3.4zM170.76 232.55h6v0.7h-6zM173.41 229.90h0.7v6h-0.7z" fill="#f00"/>
<path d="M175.34 239.01h3.4v3.4h-3.4zM174.04 240.36h6v0.7h-6zM176.69 237.71h0.7v6h-0.7z" fill="#f00"/>
<path d="M178.62 248.09h3.4v3.4h-3.4zM177.32 249.44h6v0.7h-6zM179.97 246.79h0.7v6h-0.7z" fill="#f00"/>
<path d="M181.90 261.15h3.4v3.4h-3.4zM180.60 262.50h6v0.7h-6zM183.25 259.85h0.7v6h-0.7z" fill="#f00"/>
<path d="M185.18 278.75h3.4v3.4h-3.4zM183.88 280.10h6v0.7h-6zM186.53 277.45h0.7v6h-0.7z" fill="#f00"/>
<path d="M188.46 294.93h3.4v3.4h-3.4zM187.16 296.28h6v0.7h-6zM189.81 293.63h0.7v6h-0.7z" fill="#f00"/>
<path d="M191.74 307.61h3.4v3.4h-3.4zM190.44 308.96h6v0.7h-6zM193.09 306.31h0.7v6h-0.7z" fill="#f00"/>
<path d="M195.02 304.23h3.4v3.4h-3.4zM193.72 305.58h6v0.7h-6zM196.37 302.93h0.7v6h-0.7z" fill="#f00"/>
<path d="M198.30 297.73h3.4v3.4h-3.4zM197.00 299.08h6v0.7h-6zM199.65 296.43h0.7v6h-0.7z" fill="#f00"/>
<path d="M201.58 294.69h3.4v3.4h-3.4zM200.28 296.04h6v0.7h-6zM202.93 293.39h0.7v6h-0.7z" fill="#f00"/>
<path d="M204.86 296.77h3.4v3.4h-3.4zM203.56 298.12h6v0.7h-6zM206.21 295.47h0.7v6h-0.7z" fill="#f00"/>
<path d="M208.14 294.69h3.4v3.4h-3.4zM206.84 296.04h6v0.7h-6zM209.49 293.39h0.7v6h-0.7z" fill="#f00"/>
<path d="M211.42 297.81h3.4v3.4h-3.4zM210.12 299.16h6v0.7h-6zM212.77 296.51h0.7v6h-0.7z" fill="#f00"/>
<path d="M214.70 306.07h3.4v3.4h-3.4zM213.40 307.42h6v0.7h-6zM216.05 304.77h0.7v6h-0.7z" fill="#f00"/>
<path d="M217.98 314.07h3.4v3.4h-3.4zM216.68 315.42h6v0.7h-6zM219.33 312.77h0.7v6h-0.7z" fill="#f00"/>
<path d="M221.26 316.23h3.4v3.4h-3.4zM219.96 317.58h6v0.7h-6zM222.61 314.93h0.7v6h-0.7z" fill="#f00"/>
<path d="M224.54 316.38h3.4v3.4h-3.4zM223.24 317.73h6v0.7h-6zM225.89 315.08h0.7v6h-0.7z" fill="#f00"/>
<path d="M227.82 313.44h3.4v3.4h-3.4zM226.52 314.79h6v0.7h-6zM229.17 312.14h0.7v6h-0.7z" fill="#f00"/>
<path d="M231.10 316.14h3.4v3.4h-3.4zM229.80 317.49h6v0.7h-6zM232.45 314.84h0.7v6h-0.7z" fill="#f00"/>
<path d="M34.30 319.22h3.4v3.4h-3.4zM33.00 320.57h6v0.7h-6zM35.65 317.92h0.7v6h-0.7z" fill="#00f"/>
<path d="M37.58 317.08h3.4v3.4h-3.4zM36.28 318.43h6v0.7h-6zM38.93 315.78h0.7v6h-0.7z" fill="#00f"/>
<path d="M40.86 319.11h3.4v3.4h-3.4zM39.56 320.46h6v0.7h-6zM42.21 317.81h0.7v6h-0.7z" fill="#00f"/>
<path d="M44.14 315.66h3.4v3.4h-3.4zM42.84 317.01h6v0.7h-6zM45.49 314.36h0.7v6h-0.7z" fill="#00f"/>
<path d="M47.42 318.04h3.4v3.4h-3.4zM46.12 319.39h6v0.7h-6zM48.77 316.74h0.7v6h-0.7z" fill="#00f"/>
<path d="M50.70 316.16h3.4v3.4h-3.4zM49.40 317.51h6v0.7h-6zM52.05 314.86h0.7v6h-0.7z" fill="#00f"/>
<path d="M53.98 313.11h3.4v3.4h-3.4zM52.68 314.46h6v0.7h-6zM55.33 311.81h0.7v6h-0.7z" fill="#00f"/>
<path d="M57.26 311.57h3.4v3.4h-3.4zM55.96 312.92h6v0.7h-6zM58.61 310.27h0.7v6h-0.7z" fill="#00f"/>
<path d="M60.54 313.20h3.4v3.4h-3.4zM59.24 314.55h6v0.7h-6zM61.89 311.90h0.7v6h-0.7z" fill="#00f"/>
<path d="M63.82 315.03h3.4v3.4h-3.4zM62.52 316.38h6v0.7h-6zM65.17 313.73h0.7v6h-0.7z" fill="#00f"/>
<path d="M67.10 319.33h3.4v3.4h-3.4zM65.80 320.68h6v0.7h-6zM68.45 318.03h0.7v6h-0.7z" fill="#00f"/>
<path d="M70.38 317.22h3.4v3.4h-3.4zM69.08 318.57h6v0.7h-6zM71.73 315.92h0.7v6h-0.7z" fill="#00f"/>
<path d="M73.66 310.84h3.4v3.4h-3.4zM72.36 312.19h6v0.7h-6zM75.01 309.54h0.7v6h-0.7z" fill="#00f"/>
<path d="M76.94 296.50h3.4v3.4h-3.4zM75.64 297.85h6v0.7h-6zM78.29 295.20h0.7v6h-0.7z" fill="#00f"/>
<path d="M80.22 277.45h3.4v3.4h-3.4zM78.92 278.80h6v0.7h-6zM81.57 276.15h0.7v6h-0.7z" fill="#00f"/>
<path d="M83.50 263.29h3.4v3.4h-3.4zM82.20 264.64h6v0.7h-6zM84.85 261.99h0.7v6h-0.7z" fill="#00f"/>
<path d="M86.78 250.38h3.4v3.4h-3.4zM85.48 251.73h6v0.7h-6zM88.13 249.08h0.7v6h-0.7z" fill="#00f"/>
<path d="M90.06 244.86h3.4v3.4h-3.4zM88.76 246.21h6v0.7h-6zM91.41 243.56h0.7v6h-0.7z" fill="#00f"/>
<path d="M93.34 243.94h3.4v3.4h-3.4zM92.04 245.29h6v0.7h-6zM94.69 242.64h0.7v6h-0.7z" fill="#00f"/>
<path d="M96.62 246.80h3.4v3.4h-3.4zM95.32 248.15h6v0.7h-6zM97.97 245.50h0.7v6h-0.7z" fill="#00f"/>
<path d="M99.90 254.71h3.4v3.4h-3.4zM98.60 256.06h6v0.7h-6zM101.25 253.41h0.7v6h-0.7z" fill="#00f"/>
<path d="M103.18 265.89h3.4v3.4h-3.4zM101.88 267.24h6v0.7h-6zM104.53 264.59h0.7v6h-0.7z" fill="#00f"/>
<path d="M106.46 273.21h3.4v3.4h-3.4zM105.16 274.56h6v0.7h-6zM107.81 271.91h0.7v6h-0.7z" fill="#00f"/>
<path d="M109.74 262.24h3.4v3.4h-3.4zM108.44 263.59h6v0.7h-6zM111.09 260.94h0.7v6h-0.7z" fill="#00f"/>
<path d="M113.02 251.10h3.4v3.4h-3.4zM111.72 252.45h6v0.7h-6zM114.37 249.80h0.7v6h-0.7z" fill="#00f"/>
<path d="M116.30 231.99h3.4v3.4h-3.4zM115.00 233.34h6v0.7h-6zM117.65 230.69h0.7v6h-0.7z" fill="#00f"/>
<path d="M119.58 216.86h3.4v3.4h-3.4zM118.28 218.21h6v0.7h-6zM120.93 215.56h0.7v6h-0.7z" fill="#00f"/>
<path d="M122.86 206.33h3.4v3.4h-3.4zM121.56 207.68h6v0.7h-6zM124.21 205.03h0.7v6h-0.7z" fill="#00f"/>
<path d="M126.14 197.07h3.4v3.4h-3.4zM124.84 198.42h6v0.7h-6zM127.49 195.77h0.7v6h-0.7z" fill="#00f"/>
<path d="M129.42 191.87h3.4v3.4h-3.4zM128.12 193.22h6v0.7h-6zM130.77 190.57h0.7v6h-0.7z" fill="#00f"/>
<path d="M132.70 187.47h3.4v3.4h-3.4zM131.40 188.82h6v0.7h-6zM134.05 186.17h0.7v6h-0.7z" fill="#00f"/>
<path d="M135.98 189.83h3.4v3.4h-3.4zM134.68 191.18h6v0.7h-6zM137.33 188.53h0.7v6h-0.7z" fill="#00f"/>
<path d="M139.26 193.30h3.4v3.4h-3.4zM137.96 194.65h6v0.7h-6zM140.61 192.00h0.7v6h-0.7z" fill="#00f"/>
<path d="M142.54 205.73h3.4v3.4h-3.4zM141.24 207.08h6v0.7h-6zM143.89 204.43h0.7v6h-0.7z" fill="#00f"/>
<path d="M145.82 220.02h3.4v3.4h-3.4zM144.52 221.37h6v0.7h-6zM147.17 218.72h0.7v6h-0.7z" fill="#00f"/>
<path d="M149.10 237.72h3.4v3.4h-3.4zM147.80 239.07h6v0.7h-6zM150.45 236.42h0.7v6h-0.7z" fill="#00f"/>
<path d="M152.38 247.17h3.4v3.4h-3.4zM151.08 248.52h6v0.7h-6zM153.73 245.87h0.7v6h-0.7z" fill="#00f"/>
<path d="M155.66 261.64h3.4v3.4h-3.4zM154.36 262.99h6v0.7h-6zM157.01 260.34h0.7v6h-0.7z" fill="#00f"/>
<path d="M158.94 274.81h3.4v3.4h-3.4zM157.64 276.16h6v0.7h-6zM160.29 273.51h0.7v6h-0.7z" fill="#00f"/>
<path d="M162.22 266.85h3.4v3.4h-3.4zM160.92 268.20h6v0.7h-6zM163.57 265.55h0.7v6h-0.7z" fill="#00f"/>
<path d="M165.50 257.59h3.4v3.4h-3.4zM164.20 258.94h6v0.7h-6zM166.85 256.29h0.7v6h-0.7z" fill="#00f"/>
<path d="M168.78 242.04h3.4v3.4h-3.4zM167.48 243.39h6v0.7h-6zM170.13 240.74h0.7v6h-0.7z" fill="#00f"/>
<path d="M172.06 241.88h3.4v3.4h-3.4zM170.76 243.23h6v0.7h-6zM173.41 240.58h0.7v6h-0.7z" fill="#00f"/>
<path d="M175.34 244.17h3.4v3.4h-3.4zM174.04 245.52h6v0.7h-6zM176.69 242.87h0.7v6h-0.7z" fill="#00f"/>
<path d="M178.62 251.74h3.4v3.4h-3.4zM177.32 253.09h6v0.7h-6zM179.97 250.44h0.7v6h-0.7z" fill="#00f"/>
<path d="M181.90 265.84h3.4v3.4h-3.4zM180.60 267.19h6v0.7h-6zM183.25 264.54h0.7v6h-0.7z" fill="#00f"/>
<path d="M185.18 278.46h3.4v3.4h-3.4zM183.88 279.81h6v0.7h-6zM186.53 277.16h0.7v6h-0.7z" fill="#00f"/>
<path d="M188.46 297.94h3.4v3.4h-3.4zM187.16 299.29h6v0.7h-6zM189.81 296.64h0.7v6h-0.7z" fill="#00f"/>
<path d="M191.74 309.13h3.4v3.4h-3.4zM190.44 310.48h6v0.7h-6zM193.09 307.83h0.7v6h-0.7z" fill="#00f"/>
<path d="M195.02 319.24h3.4v3.4h-3.4zM193.72 320.59h6v0.7h-6zM196.37 317.94h0.7v6h-0.7z" fill="#00f"/>
<path d="M198.30 318.04h3.4v3.4h-3.4zM197.00 319.39h6v0.7h-6zM199.65 316.74h0.7v6h-0.7z" fill="#00f"/>
<path d="M201.58 313.73h3.4v3.4h-3.4zM200.28 315.08h6v0.7h-6zM202.93 312.43h0.7v6h-0.7z" fill="#00f"/>
<path d="M204.86 311.80h3.4v3.4h-3.4zM203.56 313.15h6v0.7h-6zM206.21 310.50h0.7v6h-0.7z" fill="#00f"/>
<path d="M208.14 315.26h3.4v3.4h-3.4zM206.84 316.61h6v0.7h-6zM209.49 313.96h0.7v6h-0.7z" fill="#00f"/>
<path d="M211.42 316.30h3.4v3.4h-3.4zM210.12 317.65h6v0.7h-6zM212.77 315.00h0.7v6h-0.7z" fill="#00f"/>
<path d="M214.70 314.24h3.4v3.4h-3.4zM213.40 315.59h6v0.7h-6zM216.05 312.94h0.7v6h-0.7z" fill="#00f"/>
<path d="M217.98 315.86h3.4v3.4h-3.4zM216.68 317.21h6v0.7h-6zM219.33 314.56h0.7v6h-0.7z" fill="#00f"/>
<path d="M221.26 319.70h3.4v3.4h-3.4zM219.96 321.05h6v0.7h-6zM222.61 318.40h0.7v6h-0.7z" fill="#00f"/>
<path d="M224.54 319.98h3.4v3.4h-3.4zM223.24 321.33h6v0.7h-6zM225.89 318.68h0.7v6h-0.7z" fill="#00f"/>
<path d="M227.82 320.27h3.4v3.4h-3.4zM226.52 321.62h6v0.7h-6zM229.17 318.97h0.7v6h-0.7z" fill="#00f"/>
<path d="M231.10 321.07h3.4v3.4h-3.4zM229.80 322.42h6v0.7h-6zM232.45 319.77h0.7v6h-0.7z" fill="#00f"/>
<polyline points="305.99,23.19 309.02,23.38 311.60,23.41 314.63,24.00 317.97,24.08 321.61,24.22 325.02,24.51 329.04,25.40 332.61,26.12 337.01,27.22 339.96,29.10 343.61,31.00 348.00,32.79 351.57,35.15 355.97,37.46 359.61,39.79 363.02,42.52 367.57,45.52 370.98,48.63 374.55,52.44 378.34,55.90 381.98,59.49 385.62,62.89 388.96,66.08 392.37,69.75 396.77,73.56 401.32,77.58 405.79,81.54 409.59,86.21 413.38,90.71 417.09,95.64 420.89,100.76 424.68,106.57 428.47,112.23 432.19,117.88 435.98,123.40 439.77,128.85 443.18,134.31 446.98,139.46 450.92,144.58 454.64,149.67 458.28,154.76 462.14,159.48 466.01,164.03 469.65,167.95 473.37,171.75 477.08,174.77 480.95,177.09 484.90,178.76 488.54,179.89 492.33,180.18 496.42,180.24" fill="none" stroke="#999" stroke-width="0.6"/>
<polyline points="306.37,97.52 310.39,97.28 314.03,97.62 317.97,97.14 321.61,98.86 325.40,99.26 329.42,99.74 332.99,101.43 336.63,102.69 340.57,102.88 344.36,105.15 348.00,107.27 352.02,108.48 355.59,110.51 359.38,113.81 363.02,116.12 366.96,119.09 370.98,122.60 374.62,127.16 378.57,129.92 382.13,132.28 386.00,136.13 389.64,138.81 393.74,140.24 397.30,142.94 401.09,146.45 404.73,148.17 408.83,150.79 412.39,153.34 416.49,155.86 420.28,158.11 423.92,161.22 428.02,163.28 431.58,166.39 435.22,169.29 438.78,171.94 442.88,173.82 446.67,176.32 450.77,177.77 454.41,179.11 458.73,180.02 462.29,180.85 465.94,181.05 469.50,181.24 473.60,181.00 477.24,180.89 480.80,180.69 484.90,180.49 488.54,180.17 492.33,180.23 496.42,180.02" fill="none" stroke="#f66" stroke-width="0.6"/>
<path d="M306.37 98.66v3.6" stroke="#f00" stroke-width="0.6"/>
<circle cx="306.37" cy="100.46" r="1.35" fill="#f00"/>
<path d="M310.39 92.23v3.6" stroke="#f00" stroke-width="0.6"/>
<circle cx="310.39" cy="94.03" r="1.35" fill="#f00"/>
<path d="M314.03 96.25v3.6" stroke="#f00" stroke-width="0.6"/>
<circle cx="314.03" cy="98.05" r="1.35" fill="#f00"/>
<path d="M317.97 94.78v3.6" stroke="#f00" stroke-width="0.6"/>
<circle cx="317.97" cy="96.58" r="1.35" fill="#f00"/>
<path d="M321.61 97.19v3.6" stroke="#f00" stroke-width="0.6"/>
<circle cx="321.61" cy="98.99" r="1.35" fill="#f00"/>
<path d="M325.40 96.25v3.6" stroke="#f00" stroke-width="0.6"/>
<circle cx="325.40" cy="98.05" r="1.35" fill="#f00"/>
<path d="M329.42 100.81v3.6" stroke="#f00" stroke-width="0.6"/>
<circle cx="329.42" cy="102.61" r="1.35" fill="#f00"/>
<path d="M332.99 98.26v3.6" stroke="#f00" stroke-width="0.6"/>
<circle cx="332.99" cy="100.06" r="1.35" fill="#f00"/>
<path d="M336.63 97.19v3.6" stroke="#f00" stroke-width="0.6"/>
<circle cx="336.63" cy="98.99" r="1.35" fill="#f00"/>
<path d="M340.57 105.63v3.6" stroke="#f00" stroke-width="0.6"/>
<circle cx="340.57" cy="107.43" r="1.35" fill="#f00"/>
<path d="M344.36 102.55v3.6" stroke="#f00" stroke-width="0.6"/>
<circle cx="344.36" cy="104.35" r="1.35" fill="#f00"/>
<path d="M348.00 101.75v3.6" stroke="#f00" stroke-width="0.6"/>
<circle cx="348.00" cy="103.55" r="1.35" fill="#f00"/>
<path d="M352.02 109.65v3.6" stroke="#f00" stroke-width="0.6"/>
<circle cx="352.02" cy="111.45" r="1.35" fill="#f00"/>
<path d="M355.59 107.78v3.6" stroke="#f00" stroke-width="0.6"/>
<circle cx="355.59" cy="109.58" r="1.35" fill="#f00"/>
<path d="M359.38 111.66v3.6" stroke="#f00" stroke-width="0.6"/>
<circle cx="359.38" cy="113.46" r="1.35" fill="#f00"/>
<path d="M363.02 112.73v3.6" stroke="#f00" stroke-width="0.6"/>
<circle cx="363.02" cy="114.53" r="1.35" fill="#f00"/>
<path d="M366.96 118.23v3.6" stroke="#f00" stroke-width="0.6"/>
<circle cx="366.96" cy="120.03" r="1.35" fill="#f00"/>
<path d="M370.98 121.18v3.6" stroke="#f00" stroke-width="0.6"/>
<circle cx="370.98" cy="122.98" r="1.35" fill="#f00"/>
<path d="M374.62 122.65v3.6" stroke="#f00" stroke-width="0.6"/>
<circle cx="374.62" cy="124.45" r="1.35" fill="#f00"/>
<path d="M378.57 129.22v3.6" stroke="#f00" stroke-width="0.6"/>
<circle cx="378.57" cy="131.02" r="1.35" fill="#f00"/>
<path d="M382.13 135.51v3.6" stroke="#f00" stroke-width="0.6"/>
<circle cx="382.13" cy="137.31" r="1.35" fill="#f00"/>
<path d="M386.00 132.03v3.6" stroke="#f00" stroke-width="0.6"/>
<circle cx="386.00" cy="133.83" r="1.35" fill="#f00"/>
<path d="M389.64 132.97v3.6" stroke="#f00" stroke-width="0.6"/>
<circle cx="389.64" cy="134.77" r="1.35" fill="#f00"/>
<path d="M393.74 141.95v3.6" stroke="#f00" stroke-width="0.6"/>
<circle cx="393.74" cy="143.75" r="1.35" fill="#f00"/>
<path d="M397.30 142.62v3.6" stroke="#f00" stroke-width="0.6"/>
<circle cx="397.30" cy="144.42" r="1.35" fill="#f00"/>
<path d="M401.09 142.62v3.6" stroke="#f00" stroke-width="0.6"/>
<circle cx="401.09" cy="144.42" r="1.35" fill="#f00"/>
<path d="M404.73 145.56v3.6" stroke="#f00" stroke-width="0.6"/>
<circle cx="404.73" cy="147.36" r="1.35" fill="#f00"/>
<path d="M408.83 150.52v3.6" stroke="#f00" stroke-width="0.6"/>
<circle cx="408.83" cy="152.32" r="1.35" fill="#f00"/>
<path d="M412.39 150.52v3.6" stroke="#f00" stroke-width="0.6"/>
<circle cx="412.39" cy="152.32" r="1.35" fill="#f00"/>
<path d="M416.49 155.75v3.6" stroke="#f00" stroke-width="0.6"/>
<circle cx="416.49" cy="157.55" r="1.35" fill="#f00"/>
<path d="M420.28 155.35v3.6" stroke="#f00" stroke-width="0.6"/>
<circle cx="420.28" cy="157.15" r="1.35" fill="#f00"/>
<path d="M423.92 158.16v3.6" stroke="#f00" stroke-width="0.6"/>
<circle cx="423.92" cy="159.96" r="1.35" fill="#f00"/>
<path d="M428.02 161.78v3.6" stroke="#f00" stroke-width="0.6"/>
<circle cx="428.02" cy="163.58" r="1.35" fill="#f00"/>
<path d="M431.58 166.07v3.6" stroke="#f00" stroke-width="0.6"/>
<circle cx="431.58" cy="167.87" r="1.35" fill="#f00"/>
<path d="M435.22 166.07v3.6" stroke="#f00" stroke-width="0.6"/>
<circle cx="435.22" cy="167.87" r="1.35" fill="#f00"/>
<path d="M438.78 170.89v3.6" stroke="#f00" stroke-width="0.6"/>
<circle cx="438.78" cy="172.69" r="1.35" fill="#f00"/>
<path d="M442.88 172.63v3.6" stroke="#f00" stroke-width="0.6"/>
<circle cx="442.88" cy="174.43" r="1.35" fill="#f00"/>
<path d="M446.67 175.04v3.6" stroke="#f00" stroke-width="0.6"/>
<circle cx="446.67" cy="176.84" r="1.35" fill="#f00"/>
<path d="M450.77 175.45v3.6" stroke="#f00" stroke-width="0.6"/>
<circle cx="450.77" cy="177.25" r="1.35" fill="#f00"/>
<path d="M454.41 178.59v3.6" stroke="#f00" stroke-width="0.6"/>
<circle cx="454.41" cy="180.40" r="1.35" fill="#f00"/>
<path d="M458.73 178.13v3.6" stroke="#f00" stroke-width="0.6"/>
<circle cx="458.73" cy="179.93" r="1.35" fill="#f00"/>
<path d="M462.29 179.33v3.6" stroke="#f00" stroke-width="0.6"/>
<circle cx="462.29" cy="181.13" r="1.35" fill="#f00"/>
<path d="M465.94 179.60v3.6" stroke="#f00" stroke-width="0.6"/>
<circle cx="465.94" cy="181.40" r="1.35" fill="#f00"/>
<path d="M469.50 179.60v3.6" stroke="#f00" stroke-width="0.6"/>
<circle cx="469.50" cy="181.40" r="1.35" fill="#f00"/>
<path d="M473.60 179.60v3.6" stroke="#f00" stroke-width="0.6"/>
<circle cx="473.60" cy="181.40" r="1.35" fill="#f00"/>
<path d="M477.24 179.06v3.6" stroke="#f00" stroke-width="0.6"/>
<circle cx="477.24" cy="180.86" r="1.35" fill="#f00"/>
<path d="M480.80 178.13v3.6" stroke="#f00" stroke-width="0.6"/>
<circle cx="480.80" cy="179.93" r="1.35" fill="#f00"/>
<path d="M484.90 179.06v3.6" stroke="#f00" stroke-width="0.6"/>
<circle cx="484.90" cy="180.86" r="1.35" fill="#f00"/>
<path d="M488.54 178.59v3.6" stroke="#f00" stroke-width="0.6"/>
<circle cx="488.54" cy="180.40" r="1.35" fill="#f00"/>
<path d="M492.33 178.59v3.6" stroke="#f00" stroke-width="0.6"/>
<circle cx="492.33" cy="180.40" r="1.35" fill="#f00"/>
<path d="M496.42 177.46v3.6" stroke="#f00" stroke-width="0.6"/>
<circle cx="496.42" cy="179.26" r="1.35" fill="#f00"/>
<circle cx="305.99" cy="22.07" r="1.35" fill="#000"/>
<circle cx="309.02" cy="23.55" r="1.35" fill="#000"/>
<circle cx="311.60" cy="23.95" r="1.35" fill="#000"/>
<circle cx="314.63" cy="23.95" r="1.35" fill="#000"/>
<circle cx="317.97" cy="23.55" r="1.35" fill="#000"/>
<circle cx="321.61" cy="25.02" r="1.35" fill="#000"/>
<circle cx="325.02" cy="23.95" r="1.35" fill="#000"/>
<circle cx="329.04" cy="24.62" r="1.35" fill="#000"/>
<circle cx="332.61" cy="25.42" r="1.35" fill="#000"/>
<circle cx="337.01" cy="27.97" r="1.35" fill="#000"/>
<circle cx="339.96" cy="28.64" r="1.35" fill="#000"/>
<circle cx="343.61" cy="29.44" r="1.35" fill="#000"/>
<circle cx="348.00" cy="34.00" r="1.35" fill="#000"/>
<circle cx="351.57" cy="34.94" r="1.35" fill="#000"/>
<circle cx="355.97" cy="36.95" r="1.35" fill="#000"/>
<circle cx="359.61" cy="40.43" r="1.35" fill="#000"/>
<circle cx="363.02" cy="40.97" r="1.35" fill="#000"/>
<circle cx="367.57" cy="45.66" r="1.35" fill="#000"/>
<circle cx="370.98" cy="48.61" r="1.35" fill="#000"/>
<circle cx="374.55" cy="51.96" r="1.35" fill="#000"/>
<circle cx="378.34" cy="55.98" r="1.35" fill="#000"/>
<circle cx="381.98" cy="60.00" r="1.35" fill="#000"/>
<circle cx="385.62" cy="62.94" r="1.35" fill="#000"/>
<circle cx="388.96" cy="66.56" r="1.35" fill="#000"/>
<circle cx="392.37" cy="68.97" r="1.35" fill="#000"/>
<circle cx="396.77" cy="71.92" r="1.35" fill="#000"/>
<circle cx="401.32" cy="78.35" r="1.35" fill="#000"/>
<circle cx="405.79" cy="81.97" r="1.35" fill="#000"/>
<circle cx="409.59" cy="86.66" r="1.35" fill="#000"/>
<circle cx="413.38" cy="88.81" r="1.35" fill="#000"/>
<circle cx="417.09" cy="95.24" r="1.35" fill="#000"/>
<circle cx="420.89" cy="100.87" r="1.35" fill="#000"/>
<circle cx="424.68" cy="106.63" r="1.35" fill="#000"/>
<circle cx="428.47" cy="112.26" r="1.35" fill="#000"/>
<circle cx="432.19" cy="117.88" r="1.35" fill="#000"/>
<circle cx="435.98" cy="123.51" r="1.35" fill="#000"/>
<circle cx="439.77" cy="129.14" r="1.35" fill="#000"/>
<circle cx="443.18" cy="134.23" r="1.35" fill="#000"/>
<circle cx="446.98" cy="139.46" r="1.35" fill="#000"/>
<circle cx="450.92" cy="145.22" r="1.35" fill="#000"/>
<circle cx="454.64" cy="149.24" r="1.35" fill="#000"/>
<circle cx="458.28" cy="154.73" r="1.35" fill="#000"/>
<circle cx="462.14" cy="159.69" r="1.35" fill="#000"/>
<circle cx="466.01" cy="164.92" r="1.35" fill="#000"/>
<circle cx="469.65" cy="168.80" r="1.35" fill="#000"/>
<circle cx="473.37" cy="172.02" r="1.35" fill="#000"/>
<circle cx="477.08" cy="174.30" r="1.35" fill="#000"/>
<circle cx="480.95" cy="178.72" r="1.35" fill="#000"/>
<circle cx="484.90" cy="179.99" r="1.35" fill="#000"/>
<circle cx="488.54" cy="180.40" r="1.35" fill="#000"/>
<circle cx="492.33" cy="180.40" r="1.35" fill="#000"/>
<circle cx="496.42" cy="179.93" r="1.35" fill="#000"/>
<path d="M303,300.2 C360,299 400,292 460,273" fill="none" stroke="#f88" stroke-width="0.6"/>
<polyline points="395.00,294.11 397.00,293.17 399.00,292.23 401.00,291.27 403.00,290.30 405.00,289.30 407.00,288.28 409.00,287.23 411.00,286.14 413.00,285.01 415.00,283.84 417.00,282.62 419.00,281.34 421.00,280.00 423.00,278.60 425.00,277.13 427.00,275.59 429.00,273.97 431.00,272.27 433.00,270.48 435.00,268.60 437.00,266.62 439.00,264.53 441.00,262.35 443.00,260.05 445.00,257.63 447.00,255.09 449.00,252.43 451.00,249.64 453.00,246.71 455.00,243.65 457.00,240.43 459.00,237.07 461.00,233.56 463.00,229.89 465.00,226.05 467.00,222.04 469.00,217.86 471.00,213.51 473.00,208.97 475.00,204.24 477.00,199.33" fill="none" stroke="#aaa" stroke-width="0.6"/>
<circle cx="306.40" cy="299.60" r="1.35" fill="#f00"/>
<circle cx="310.00" cy="300.60" r="1.35" fill="#f00"/>
<circle cx="313.60" cy="299.40" r="1.35" fill="#f00"/>
<circle cx="317.60" cy="299.60" r="1.35" fill="#f00"/>
<circle cx="321.60" cy="298.40" r="1.35" fill="#f00"/>
<circle cx="325.00" cy="298.40" r="1.35" fill="#f00"/>
<circle cx="329.00" cy="298.60" r="1.35" fill="#f00"/>
<circle cx="332.60" cy="300.40" r="1.35" fill="#f00"/>
<circle cx="336.60" cy="301.00" r="1.35" fill="#f00"/>
<circle cx="340.40" cy="300.00" r="1.35" fill="#f00"/>
<circle cx="344.40" cy="298.40" r="1.35" fill="#f00"/>
<circle cx="348.00" cy="299.40" r="1.35" fill="#f00"/>
<circle cx="352.00" cy="300.40" r="1.35" fill="#f00"/>
<circle cx="355.60" cy="299.00" r="1.35" fill="#f00"/>
<circle cx="359.60" cy="297.60" r="1.35" fill="#f00"/>
<circle cx="363.60" cy="296.60" r="1.35" fill="#f00"/>
<circle cx="367.00" cy="294.40" r="1.35" fill="#f00"/>
<circle cx="371.00" cy="296.60" r="1.35" fill="#f00"/>
<circle cx="374.60" cy="294.60" r="1.35" fill="#f00"/>
<circle cx="378.40" cy="293.60" r="1.35" fill="#f00"/>
<circle cx="382.00" cy="294.00" r="1.35" fill="#f00"/>
<circle cx="385.60" cy="293.40" r="1.35" fill="#f00"/>
<circle cx="389.60" cy="291.60" r="1.35" fill="#f00"/>
<circle cx="393.40" cy="292.00" r="1.35" fill="#f00"/>
<circle cx="397.40" cy="290.60" r="1.35" fill="#f00"/>
<circle cx="401.40" cy="288.90" r="1.35" fill="#f00"/>
<circle cx="405.10" cy="288.60" r="1.35" fill="#f00"/>
<circle cx="409.10" cy="288.90" r="1.35" fill="#f00"/>
<circle cx="412.60" cy="290.00" r="1.35" fill="#f00"/>
<circle cx="416.60" cy="284.40" r="1.35" fill="#f00"/>
<circle cx="420.30" cy="288.90" r="1.35" fill="#f00"/>
<path d="M423.80 274.90v4.00M422.30 274.90h3M422.30 278.90h3" stroke="#f99" stroke-width="0.6"/>
<circle cx="423.80" cy="276.90" r="1.35" fill="#f00"/>
<path d="M427.80 279.00v6.00M426.30 279.00h3M426.30 285.00h3" stroke="#f99" stroke-width="0.6"/>
<circle cx="427.80" cy="282.00" r="1.35" fill="#f00"/>
<path d="M431.50 276.80v5.00M430.00 276.80h3M430.00 281.80h3" stroke="#f99" stroke-width="0.6"/>
<circle cx="431.50" cy="279.30" r="1.35" fill="#f00"/>
<path d="M435.30 268.70v8.00M433.80 268.70h3M433.80 276.70h3" stroke="#f99" stroke-width="0.6"/>
<circle cx="435.30" cy="272.70" r="1.35" fill="#f00"/>
<path d="M439.00 274.80v8.00M437.50 274.80h3M437.50 282.80h3" stroke="#f99" stroke-width="0.6"/>
<circle cx="439.00" cy="278.80" r="1.35" fill="#f00"/>
<path d="M442.70 263.90v11.20M441.20 263.90h3M441.20 275.10h3" stroke="#f99" stroke-width="0.6"/>
<circle cx="442.70" cy="269.50" r="1.35" fill="#f00"/>
<path d="M446.50 260.50v16.80M445.00 260.50h3M445.00 277.30h3" stroke="#f99" stroke-width="0.6"/>
<circle cx="446.50" cy="268.90" r="1.35" fill="#f00"/>
<path d="M450.50 265.80v18.00M449.00 265.80h3M449.00 283.80h3" stroke="#f99" stroke-width="0.6"/>
<circle cx="450.50" cy="274.80" r="1.35" fill="#f00"/>
<path d="M454.20 264.50v20.00M452.70 264.50h3M452.70 284.50h3" stroke="#f99" stroke-width="0.6"/>
<circle cx="454.20" cy="274.50" r="1.35" fill="#f00"/>
<path d="M458.20 256.20v34.00M456.70 256.20h3M456.70 290.20h3" stroke="#f99" stroke-width="0.6"/>
<circle cx="458.20" cy="273.20" r="1.35" fill="#f00"/>
<circle cx="306.40" cy="305.60" r="1.35" fill="#000"/>
<circle cx="310.00" cy="307.40" r="1.35" fill="#000"/>
<circle cx="313.60" cy="306.00" r="1.35" fill="#000"/>
<circle cx="317.60" cy="306.60" r="1.35" fill="#000"/>
<circle cx="321.60" cy="307.40" r="1.35" fill="#000"/>
<circle cx="325.00" cy="306.40" r="1.35" fill="#000"/>
<circle cx="329.00" cy="307.00" r="1.35" fill="#000"/>
<circle cx="332.60" cy="307.00" r="1.35" fill="#000"/>
<circle cx="336.60" cy="306.40" r="1.35" fill="#000"/>
<circle cx="340.40" cy="306.40" r="1.35" fill="#000"/>
<circle cx="344.40" cy="306.60" r="1.35" fill="#000"/>
<circle cx="348.00" cy="307.00" r="1.35" fill="#000"/>
<circle cx="352.00" cy="305.60" r="1.35" fill="#000"/>
<circle cx="355.60" cy="307.00" r="1.35" fill="#000"/>
<circle cx="359.60" cy="306.40" r="1.35" fill="#000"/>
<circle cx="363.60" cy="305.60" r="1.35" fill="#000"/>
<circle cx="367.00" cy="304.40" r="1.35" fill="#000"/>
<circle cx="371.00" cy="303.40" r="1.35" fill="#000"/>
<circle cx="374.60" cy="302.40" r="1.35" fill="#000"/>
<circle cx="378.40" cy="302.00" r="1.35" fill="#000"/>
<circle cx="382.00" cy="300.00" r="1.35" fill="#000"/>
<circle cx="385.60" cy="299.00" r="1.35" fill="#000"/>
<circle cx="389.80" cy="295.40" r="1.35" fill="#000"/>
<circle cx="394.00" cy="293.00" r="1.35" fill="#000"/>
<circle cx="397.80" cy="292.10" r="1.35" fill="#000"/>
<circle cx="401.20" cy="290.80" r="1.35" fill="#000"/>
<circle cx="405.00" cy="290.30" r="1.35" fill="#000"/>
<circle cx="408.50" cy="289.20" r="1.35" fill="#000"/>
<circle cx="412.30" cy="289.90" r="1.35" fill="#000"/>
<circle cx="416.10" cy="284.10" r="1.35" fill="#000"/>
<circle cx="420.20" cy="281.00" r="1.35" fill="#000"/>
<circle cx="423.50" cy="278.70" r="1.35" fill="#000"/>
<circle cx="427.50" cy="274.70" r="1.35" fill="#000"/>
<circle cx="431.30" cy="271.30" r="1.35" fill="#000"/>
<circle cx="435.10" cy="266.20" r="1.35" fill="#000"/>
<circle cx="439.20" cy="261.30" r="1.35" fill="#000"/>
<circle cx="443.00" cy="257.30" r="1.35" fill="#000"/>
<circle cx="446.50" cy="253.50" r="1.35" fill="#000"/>
<circle cx="450.30" cy="248.30" r="1.35" fill="#000"/>
<circle cx="454.40" cy="244.50" r="1.35" fill="#000"/>
<circle cx="457.70" cy="241.20" r="1.35" fill="#000"/>
<circle cx="461.50" cy="234.00" r="1.35" fill="#000"/>
<circle cx="465.30" cy="233.40" r="1.35" fill="#000"/>
<circle cx="469.30" cy="225.30" r="1.35" fill="#000"/>
<circle cx="473.10" cy="201.40" r="1.35" fill="#000"/>
<circle cx="476.90" cy="195.90" r="1.35" fill="#000"/></svg>
</body></html>
